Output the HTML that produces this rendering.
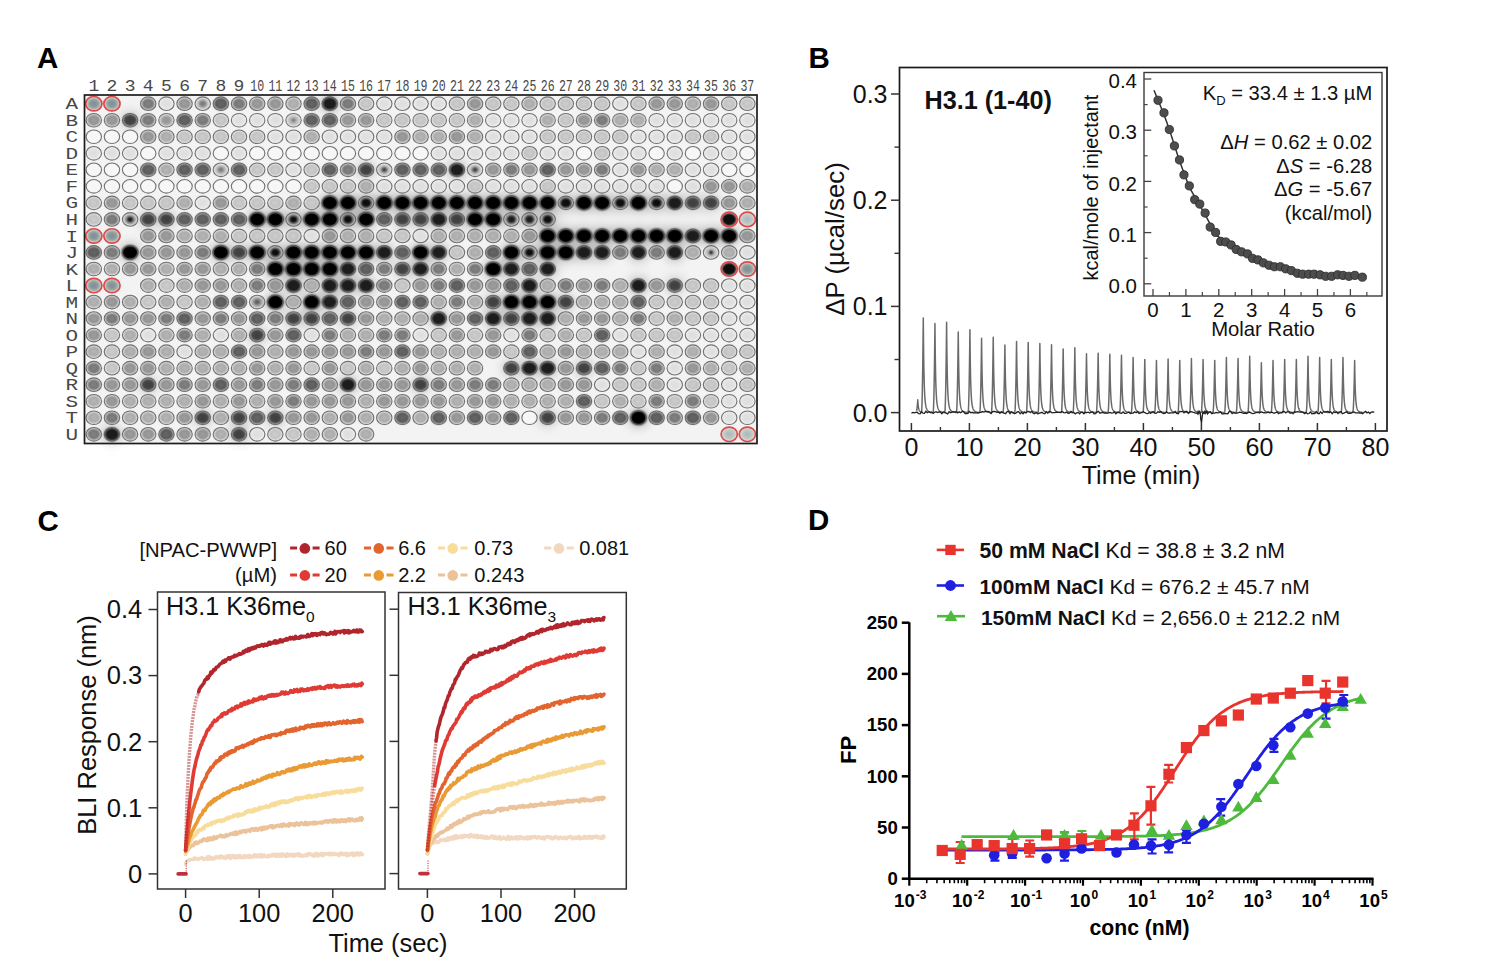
<!DOCTYPE html>
<html><head><meta charset="utf-8"><style>
html,body{margin:0;padding:0;background:#fff;}
svg{display:block;}
</style></head><body>
<svg width="1492" height="972" viewBox="0 0 1492 972">
<defs><filter id="blur1" x="-50%" y="-50%" width="200%" height="200%"><feGaussianBlur stdDeviation="0.8"/></filter><filter id="blur2" x="-10%" y="-10%" width="120%" height="120%"><feGaussianBlur stdDeviation="6"/></filter><radialGradient id="g0"><stop offset="0" stop-color="rgb(244,244,244)"/><stop offset="0.65" stop-color="rgb(247,247,247)"/><stop offset="1" stop-color="rgb(250,250,250)"/></radialGradient><radialGradient id="g1"><stop offset="0" stop-color="rgb(222,222,222)"/><stop offset="0.65" stop-color="rgb(225,225,225)"/><stop offset="1" stop-color="rgb(228,228,228)"/></radialGradient><radialGradient id="g2"><stop offset="0" stop-color="rgb(208,208,208)"/><stop offset="0.65" stop-color="rgb(196,196,196)"/><stop offset="1" stop-color="rgb(184,184,184)"/></radialGradient><radialGradient id="g3"><stop offset="0" stop-color="rgb(184,184,184)"/><stop offset="0.65" stop-color="rgb(172,172,172)"/><stop offset="1" stop-color="rgb(160,160,160)"/></radialGradient><radialGradient id="g4"><stop offset="0" stop-color="rgb(160,160,160)"/><stop offset="0.65" stop-color="rgb(148,148,148)"/><stop offset="1" stop-color="rgb(136,136,136)"/></radialGradient><radialGradient id="g5"><stop offset="0" stop-color="rgb(132,132,132)"/><stop offset="0.65" stop-color="rgb(120,120,120)"/><stop offset="1" stop-color="rgb(108,108,108)"/></radialGradient><radialGradient id="g6"><stop offset="0" stop-color="rgb(104,104,104)"/><stop offset="0.65" stop-color="rgb(92,92,92)"/><stop offset="1" stop-color="rgb(80,80,80)"/></radialGradient><radialGradient id="g7"><stop offset="0" stop-color="rgb(62,62,62)"/><stop offset="0.65" stop-color="rgb(69,69,69)"/><stop offset="1" stop-color="rgb(76,76,76)"/></radialGradient><radialGradient id="g8"><stop offset="0" stop-color="rgb(28,28,28)"/><stop offset="0.65" stop-color="rgb(31,31,31)"/><stop offset="1" stop-color="rgb(34,34,34)"/></radialGradient><radialGradient id="g9"><stop offset="0" stop-color="rgb(6,6,6)"/><stop offset="0.65" stop-color="rgb(9,9,9)"/><stop offset="1" stop-color="rgb(12,12,12)"/></radialGradient><radialGradient id="gr"><stop offset="0" stop-color="#86879a"/><stop offset="0.55" stop-color="#889c98"/><stop offset="1" stop-color="#c4cac8"/></radialGradient><radialGradient id="grl"><stop offset="0" stop-color="#a6b4b4"/><stop offset="1" stop-color="#cdd3d3"/></radialGradient></defs>
<rect width="1492" height="972" fill="#fff"/>
<text x="37" y="67.7" font-size="29.5" text-anchor="start" font-weight="bold" font-family='"Liberation Sans", sans-serif' fill="#000" >A</text><text x="808.5" y="68" font-size="29.5" text-anchor="start" font-weight="bold" font-family='"Liberation Sans", sans-serif' fill="#000" >B</text><text x="37.5" y="531.3" font-size="29.5" text-anchor="start" font-weight="bold" font-family='"Liberation Sans", sans-serif' fill="#000" >C</text><text x="808" y="529.8" font-size="29.5" text-anchor="start" font-weight="bold" font-family='"Liberation Sans", sans-serif' fill="#000" >D</text><rect x="84.5" y="95" width="672.5" height="348.5" fill="#f3f3f3"/><g filter="url(#blur2)" opacity="0.42"><ellipse cx="329.81" cy="103.7" rx="9.2" ry="8.3" fill="rgba(0,0,0,0.6)"/><ellipse cx="130.11" cy="120.23" rx="9.2" ry="8.3" fill="rgba(0,0,0,0.45)"/><ellipse cx="366.13" cy="169.82" rx="9.2" ry="8.3" fill="rgba(0,0,0,0.45)"/><ellipse cx="456.9" cy="169.82" rx="9.2" ry="8.3" fill="rgba(0,0,0,0.6)"/><ellipse cx="329.81" cy="202.88" rx="9.2" ry="8.3" fill="rgba(0,0,0,0.75)"/><ellipse cx="347.97" cy="202.88" rx="9.2" ry="8.3" fill="rgba(0,0,0,0.75)"/><ellipse cx="366.13" cy="202.88" rx="9.2" ry="8.3" fill="rgba(0,0,0,0.75)"/><ellipse cx="384.28" cy="202.88" rx="9.2" ry="8.3" fill="rgba(0,0,0,0.75)"/><ellipse cx="402.44" cy="202.88" rx="9.2" ry="8.3" fill="rgba(0,0,0,0.75)"/><ellipse cx="420.59" cy="202.88" rx="9.2" ry="8.3" fill="rgba(0,0,0,0.75)"/><ellipse cx="438.75" cy="202.88" rx="9.2" ry="8.3" fill="rgba(0,0,0,0.75)"/><ellipse cx="456.9" cy="202.88" rx="9.2" ry="8.3" fill="rgba(0,0,0,0.75)"/><ellipse cx="475.06" cy="202.88" rx="9.2" ry="8.3" fill="rgba(0,0,0,0.75)"/><ellipse cx="493.21" cy="202.88" rx="9.2" ry="8.3" fill="rgba(0,0,0,0.75)"/><ellipse cx="511.37" cy="202.88" rx="9.2" ry="8.3" fill="rgba(0,0,0,0.75)"/><ellipse cx="529.52" cy="202.88" rx="9.2" ry="8.3" fill="rgba(0,0,0,0.75)"/><ellipse cx="547.67" cy="202.88" rx="9.2" ry="8.3" fill="rgba(0,0,0,0.75)"/><ellipse cx="565.83" cy="202.88" rx="9.2" ry="8.3" fill="rgba(0,0,0,0.6)"/><ellipse cx="583.99" cy="202.88" rx="9.2" ry="8.3" fill="rgba(0,0,0,0.75)"/><ellipse cx="602.14" cy="202.88" rx="9.2" ry="8.3" fill="rgba(0,0,0,0.75)"/><ellipse cx="620.29" cy="202.88" rx="9.2" ry="8.3" fill="rgba(0,0,0,0.6)"/><ellipse cx="638.45" cy="202.88" rx="9.2" ry="8.3" fill="rgba(0,0,0,0.75)"/><ellipse cx="656.61" cy="202.88" rx="9.2" ry="8.3" fill="rgba(0,0,0,0.6)"/><ellipse cx="674.76" cy="202.88" rx="9.2" ry="8.3" fill="rgba(0,0,0,0.6)"/><ellipse cx="692.91" cy="202.88" rx="9.2" ry="8.3" fill="rgba(0,0,0,0.45)"/><ellipse cx="711.07" cy="202.88" rx="9.2" ry="8.3" fill="rgba(0,0,0,0.45)"/><ellipse cx="148.26" cy="219.41" rx="9.2" ry="8.3" fill="rgba(0,0,0,0.45)"/><ellipse cx="166.42" cy="219.41" rx="9.2" ry="8.3" fill="rgba(0,0,0,0.45)"/><ellipse cx="257.19" cy="219.41" rx="9.2" ry="8.3" fill="rgba(0,0,0,0.75)"/><ellipse cx="275.35" cy="219.41" rx="9.2" ry="8.3" fill="rgba(0,0,0,0.75)"/><ellipse cx="293.5" cy="219.41" rx="9.2" ry="8.3" fill="rgba(0,0,0,0.6)"/><ellipse cx="311.66" cy="219.41" rx="9.2" ry="8.3" fill="rgba(0,0,0,0.75)"/><ellipse cx="329.81" cy="219.41" rx="9.2" ry="8.3" fill="rgba(0,0,0,0.75)"/><ellipse cx="347.97" cy="219.41" rx="9.2" ry="8.3" fill="rgba(0,0,0,0.75)"/><ellipse cx="366.13" cy="219.41" rx="9.2" ry="8.3" fill="rgba(0,0,0,0.75)"/><ellipse cx="402.44" cy="219.41" rx="9.2" ry="8.3" fill="rgba(0,0,0,0.45)"/><ellipse cx="420.59" cy="219.41" rx="9.2" ry="8.3" fill="rgba(0,0,0,0.45)"/><ellipse cx="438.75" cy="219.41" rx="9.2" ry="8.3" fill="rgba(0,0,0,0.6)"/><ellipse cx="456.9" cy="219.41" rx="9.2" ry="8.3" fill="rgba(0,0,0,0.45)"/><ellipse cx="475.06" cy="219.41" rx="9.2" ry="8.3" fill="rgba(0,0,0,0.75)"/><ellipse cx="493.21" cy="219.41" rx="9.2" ry="8.3" fill="rgba(0,0,0,0.75)"/><ellipse cx="511.37" cy="219.41" rx="9.2" ry="8.3" fill="rgba(0,0,0,0.45)"/><ellipse cx="529.52" cy="219.41" rx="9.2" ry="8.3" fill="rgba(0,0,0,0.45)"/><ellipse cx="547.67" cy="219.41" rx="9.2" ry="8.3" fill="rgba(0,0,0,0.6)"/><ellipse cx="547.67" cy="235.94" rx="9.2" ry="8.3" fill="rgba(0,0,0,0.75)"/><ellipse cx="565.83" cy="235.94" rx="9.2" ry="8.3" fill="rgba(0,0,0,0.75)"/><ellipse cx="583.99" cy="235.94" rx="9.2" ry="8.3" fill="rgba(0,0,0,0.75)"/><ellipse cx="602.14" cy="235.94" rx="9.2" ry="8.3" fill="rgba(0,0,0,0.75)"/><ellipse cx="620.29" cy="235.94" rx="9.2" ry="8.3" fill="rgba(0,0,0,0.75)"/><ellipse cx="638.45" cy="235.94" rx="9.2" ry="8.3" fill="rgba(0,0,0,0.75)"/><ellipse cx="656.61" cy="235.94" rx="9.2" ry="8.3" fill="rgba(0,0,0,0.75)"/><ellipse cx="674.76" cy="235.94" rx="9.2" ry="8.3" fill="rgba(0,0,0,0.75)"/><ellipse cx="692.91" cy="235.94" rx="9.2" ry="8.3" fill="rgba(0,0,0,0.6)"/><ellipse cx="711.07" cy="235.94" rx="9.2" ry="8.3" fill="rgba(0,0,0,0.75)"/><ellipse cx="729.23" cy="235.94" rx="9.2" ry="8.3" fill="rgba(0,0,0,0.75)"/><ellipse cx="130.11" cy="252.47" rx="9.2" ry="8.3" fill="rgba(0,0,0,0.75)"/><ellipse cx="220.88" cy="252.47" rx="9.2" ry="8.3" fill="rgba(0,0,0,0.75)"/><ellipse cx="239.04" cy="252.47" rx="9.2" ry="8.3" fill="rgba(0,0,0,0.45)"/><ellipse cx="257.19" cy="252.47" rx="9.2" ry="8.3" fill="rgba(0,0,0,0.75)"/><ellipse cx="275.35" cy="252.47" rx="9.2" ry="8.3" fill="rgba(0,0,0,0.6)"/><ellipse cx="293.5" cy="252.47" rx="9.2" ry="8.3" fill="rgba(0,0,0,0.75)"/><ellipse cx="311.66" cy="252.47" rx="9.2" ry="8.3" fill="rgba(0,0,0,0.75)"/><ellipse cx="329.81" cy="252.47" rx="9.2" ry="8.3" fill="rgba(0,0,0,0.75)"/><ellipse cx="347.97" cy="252.47" rx="9.2" ry="8.3" fill="rgba(0,0,0,0.75)"/><ellipse cx="366.13" cy="252.47" rx="9.2" ry="8.3" fill="rgba(0,0,0,0.75)"/><ellipse cx="384.28" cy="252.47" rx="9.2" ry="8.3" fill="rgba(0,0,0,0.6)"/><ellipse cx="420.59" cy="252.47" rx="9.2" ry="8.3" fill="rgba(0,0,0,0.75)"/><ellipse cx="438.75" cy="252.47" rx="9.2" ry="8.3" fill="rgba(0,0,0,0.6)"/><ellipse cx="511.37" cy="252.47" rx="9.2" ry="8.3" fill="rgba(0,0,0,0.75)"/><ellipse cx="529.52" cy="252.47" rx="9.2" ry="8.3" fill="rgba(0,0,0,0.6)"/><ellipse cx="547.67" cy="252.47" rx="9.2" ry="8.3" fill="rgba(0,0,0,0.75)"/><ellipse cx="565.83" cy="252.47" rx="9.2" ry="8.3" fill="rgba(0,0,0,0.75)"/><ellipse cx="583.99" cy="252.47" rx="9.2" ry="8.3" fill="rgba(0,0,0,0.6)"/><ellipse cx="602.14" cy="252.47" rx="9.2" ry="8.3" fill="rgba(0,0,0,0.6)"/><ellipse cx="638.45" cy="252.47" rx="9.2" ry="8.3" fill="rgba(0,0,0,0.6)"/><ellipse cx="674.76" cy="252.47" rx="9.2" ry="8.3" fill="rgba(0,0,0,0.6)"/><ellipse cx="275.35" cy="269" rx="9.2" ry="8.3" fill="rgba(0,0,0,0.75)"/><ellipse cx="293.5" cy="269" rx="9.2" ry="8.3" fill="rgba(0,0,0,0.75)"/><ellipse cx="311.66" cy="269" rx="9.2" ry="8.3" fill="rgba(0,0,0,0.75)"/><ellipse cx="329.81" cy="269" rx="9.2" ry="8.3" fill="rgba(0,0,0,0.75)"/><ellipse cx="347.97" cy="269" rx="9.2" ry="8.3" fill="rgba(0,0,0,0.6)"/><ellipse cx="402.44" cy="269" rx="9.2" ry="8.3" fill="rgba(0,0,0,0.45)"/><ellipse cx="420.59" cy="269" rx="9.2" ry="8.3" fill="rgba(0,0,0,0.6)"/><ellipse cx="493.21" cy="269" rx="9.2" ry="8.3" fill="rgba(0,0,0,0.75)"/><ellipse cx="511.37" cy="269" rx="9.2" ry="8.3" fill="rgba(0,0,0,0.6)"/><ellipse cx="547.67" cy="269" rx="9.2" ry="8.3" fill="rgba(0,0,0,0.6)"/><ellipse cx="293.5" cy="285.53" rx="9.2" ry="8.3" fill="rgba(0,0,0,0.6)"/><ellipse cx="329.81" cy="285.53" rx="9.2" ry="8.3" fill="rgba(0,0,0,0.6)"/><ellipse cx="347.97" cy="285.53" rx="9.2" ry="8.3" fill="rgba(0,0,0,0.6)"/><ellipse cx="366.13" cy="285.53" rx="9.2" ry="8.3" fill="rgba(0,0,0,0.6)"/><ellipse cx="529.52" cy="285.53" rx="9.2" ry="8.3" fill="rgba(0,0,0,0.6)"/><ellipse cx="638.45" cy="285.53" rx="9.2" ry="8.3" fill="rgba(0,0,0,0.6)"/><ellipse cx="674.76" cy="285.53" rx="9.2" ry="8.3" fill="rgba(0,0,0,0.45)"/><ellipse cx="275.35" cy="302.06" rx="9.2" ry="8.3" fill="rgba(0,0,0,0.75)"/><ellipse cx="311.66" cy="302.06" rx="9.2" ry="8.3" fill="rgba(0,0,0,0.75)"/><ellipse cx="329.81" cy="302.06" rx="9.2" ry="8.3" fill="rgba(0,0,0,0.6)"/><ellipse cx="493.21" cy="302.06" rx="9.2" ry="8.3" fill="rgba(0,0,0,0.45)"/><ellipse cx="511.37" cy="302.06" rx="9.2" ry="8.3" fill="rgba(0,0,0,0.75)"/><ellipse cx="529.52" cy="302.06" rx="9.2" ry="8.3" fill="rgba(0,0,0,0.75)"/><ellipse cx="547.67" cy="302.06" rx="9.2" ry="8.3" fill="rgba(0,0,0,0.75)"/><ellipse cx="565.83" cy="302.06" rx="9.2" ry="8.3" fill="rgba(0,0,0,0.45)"/><ellipse cx="293.5" cy="318.59" rx="9.2" ry="8.3" fill="rgba(0,0,0,0.45)"/><ellipse cx="311.66" cy="318.59" rx="9.2" ry="8.3" fill="rgba(0,0,0,0.45)"/><ellipse cx="347.97" cy="318.59" rx="9.2" ry="8.3" fill="rgba(0,0,0,0.45)"/><ellipse cx="438.75" cy="318.59" rx="9.2" ry="8.3" fill="rgba(0,0,0,0.6)"/><ellipse cx="493.21" cy="318.59" rx="9.2" ry="8.3" fill="rgba(0,0,0,0.6)"/><ellipse cx="511.37" cy="318.59" rx="9.2" ry="8.3" fill="rgba(0,0,0,0.45)"/><ellipse cx="529.52" cy="318.59" rx="9.2" ry="8.3" fill="rgba(0,0,0,0.6)"/><ellipse cx="547.67" cy="318.59" rx="9.2" ry="8.3" fill="rgba(0,0,0,0.6)"/><ellipse cx="257.19" cy="335.12" rx="9.2" ry="8.3" fill="rgba(0,0,0,0.45)"/><ellipse cx="511.37" cy="368.18" rx="9.2" ry="8.3" fill="rgba(0,0,0,0.45)"/><ellipse cx="529.52" cy="368.18" rx="9.2" ry="8.3" fill="rgba(0,0,0,0.6)"/><ellipse cx="547.67" cy="368.18" rx="9.2" ry="8.3" fill="rgba(0,0,0,0.6)"/><ellipse cx="583.99" cy="368.18" rx="9.2" ry="8.3" fill="rgba(0,0,0,0.45)"/><ellipse cx="148.26" cy="384.71" rx="9.2" ry="8.3" fill="rgba(0,0,0,0.45)"/><ellipse cx="347.97" cy="384.71" rx="9.2" ry="8.3" fill="rgba(0,0,0,0.6)"/><ellipse cx="420.59" cy="384.71" rx="9.2" ry="8.3" fill="rgba(0,0,0,0.45)"/><ellipse cx="202.73" cy="417.77" rx="9.2" ry="8.3" fill="rgba(0,0,0,0.45)"/><ellipse cx="239.04" cy="417.77" rx="9.2" ry="8.3" fill="rgba(0,0,0,0.45)"/><ellipse cx="275.35" cy="417.77" rx="9.2" ry="8.3" fill="rgba(0,0,0,0.45)"/><ellipse cx="547.67" cy="417.77" rx="9.2" ry="8.3" fill="rgba(0,0,0,0.45)"/><ellipse cx="638.45" cy="417.77" rx="9.2" ry="8.3" fill="rgba(0,0,0,0.75)"/><ellipse cx="111.95" cy="434.3" rx="9.2" ry="8.3" fill="rgba(0,0,0,0.6)"/><ellipse cx="239.04" cy="434.3" rx="9.2" ry="8.3" fill="rgba(0,0,0,0.45)"/></g><g filter="url(#blur1)"><ellipse cx="93.8" cy="103.7" rx="7.7" ry="6.8" fill="url(#gr)"/><ellipse cx="111.95" cy="103.7" rx="7.7" ry="6.8" fill="url(#gr)"/><ellipse cx="148.26" cy="103.7" rx="6.5" ry="5.7" fill="url(#g5)"/><ellipse cx="166.42" cy="103.7" rx="6.5" ry="5.7" fill="url(#g1)"/><ellipse cx="184.57" cy="103.7" rx="6.5" ry="5.7" fill="url(#g4)"/><ellipse cx="202.73" cy="103.7" rx="6.4" ry="5.6" fill="url(#g2)"/><ellipse cx="239.04" cy="103.7" rx="6.5" ry="5.7" fill="url(#g5)"/><ellipse cx="257.19" cy="103.7" rx="6.5" ry="5.7" fill="url(#g4)"/><ellipse cx="275.35" cy="103.7" rx="6.5" ry="5.7" fill="url(#g4)"/><ellipse cx="293.5" cy="103.7" rx="6.5" ry="5.7" fill="url(#g3)"/><ellipse cx="347.97" cy="103.7" rx="6.5" ry="5.7" fill="url(#g5)"/><ellipse cx="366.13" cy="103.7" rx="6.5" ry="5.7" fill="url(#g2)"/><ellipse cx="384.28" cy="103.7" rx="6.5" ry="5.7" fill="url(#g1)"/><ellipse cx="402.44" cy="103.7" rx="6.5" ry="5.7" fill="url(#g1)"/><ellipse cx="420.59" cy="103.7" rx="6.5" ry="5.7" fill="url(#g1)"/><ellipse cx="438.75" cy="103.7" rx="6.5" ry="5.7" fill="url(#g1)"/><ellipse cx="456.9" cy="103.7" rx="6.5" ry="5.7" fill="url(#g2)"/><ellipse cx="475.06" cy="103.7" rx="6.5" ry="5.7" fill="url(#g4)"/><ellipse cx="493.21" cy="103.7" rx="6.5" ry="5.7" fill="url(#g2)"/><ellipse cx="511.37" cy="103.7" rx="6.5" ry="5.7" fill="url(#g2)"/><ellipse cx="529.52" cy="103.7" rx="6.5" ry="5.7" fill="url(#g3)"/><ellipse cx="547.67" cy="103.7" rx="6.5" ry="5.7" fill="url(#g2)"/><ellipse cx="565.83" cy="103.7" rx="6.5" ry="5.7" fill="url(#g2)"/><ellipse cx="583.99" cy="103.7" rx="6.5" ry="5.7" fill="url(#g2)"/><ellipse cx="602.14" cy="103.7" rx="6.5" ry="5.7" fill="url(#g2)"/><ellipse cx="620.29" cy="103.7" rx="6.5" ry="5.7" fill="url(#g1)"/><ellipse cx="638.45" cy="103.7" rx="6.5" ry="5.7" fill="url(#g2)"/><ellipse cx="656.61" cy="103.7" rx="6.5" ry="5.7" fill="url(#g4)"/><ellipse cx="674.76" cy="103.7" rx="6.5" ry="5.7" fill="url(#g4)"/><ellipse cx="692.91" cy="103.7" rx="6.5" ry="5.7" fill="url(#g3)"/><ellipse cx="711.07" cy="103.7" rx="6.5" ry="5.7" fill="url(#g4)"/><ellipse cx="729.23" cy="103.7" rx="6.5" ry="5.7" fill="url(#g2)"/><ellipse cx="747.38" cy="103.7" rx="6.5" ry="5.7" fill="url(#g2)"/><ellipse cx="93.8" cy="120.23" rx="6.5" ry="5.7" fill="url(#g4)"/><ellipse cx="111.95" cy="120.23" rx="6.5" ry="5.7" fill="url(#g4)"/><ellipse cx="148.26" cy="120.23" rx="6.5" ry="5.7" fill="url(#g5)"/><ellipse cx="166.42" cy="120.23" rx="6.4" ry="5.6" fill="url(#g3)"/><ellipse cx="202.73" cy="120.23" rx="6.5" ry="5.7" fill="url(#g5)"/><ellipse cx="220.88" cy="120.23" rx="6.5" ry="5.7" fill="url(#g2)"/><ellipse cx="239.04" cy="120.23" rx="6.5" ry="5.7" fill="url(#g1)"/><ellipse cx="257.19" cy="120.23" rx="6.5" ry="5.7" fill="url(#g1)"/><ellipse cx="275.35" cy="120.23" rx="6.5" ry="5.7" fill="url(#g1)"/><ellipse cx="293.5" cy="120.23" rx="6.4" ry="5.6" fill="url(#g2)"/><ellipse cx="347.97" cy="120.23" rx="6.5" ry="5.7" fill="url(#g4)"/><ellipse cx="366.13" cy="120.23" rx="6.5" ry="5.7" fill="url(#g4)"/><ellipse cx="384.28" cy="120.23" rx="6.5" ry="5.7" fill="url(#g2)"/><ellipse cx="402.44" cy="120.23" rx="6.5" ry="5.7" fill="url(#g2)"/><ellipse cx="420.59" cy="120.23" rx="6.5" ry="5.7" fill="url(#g2)"/><ellipse cx="438.75" cy="120.23" rx="6.5" ry="5.7" fill="url(#g2)"/><ellipse cx="456.9" cy="120.23" rx="6.5" ry="5.7" fill="url(#g2)"/><ellipse cx="475.06" cy="120.23" rx="6.5" ry="5.7" fill="url(#g3)"/><ellipse cx="493.21" cy="120.23" rx="6.5" ry="5.7" fill="url(#g1)"/><ellipse cx="511.37" cy="120.23" rx="6.5" ry="5.7" fill="url(#g1)"/><ellipse cx="529.52" cy="120.23" rx="6.5" ry="5.7" fill="url(#g1)"/><ellipse cx="547.67" cy="120.23" rx="6.5" ry="5.7" fill="url(#g3)"/><ellipse cx="565.83" cy="120.23" rx="6.5" ry="5.7" fill="url(#g2)"/><ellipse cx="583.99" cy="120.23" rx="6.5" ry="5.7" fill="url(#g4)"/><ellipse cx="602.14" cy="120.23" rx="6.5" ry="5.7" fill="url(#g5)"/><ellipse cx="620.29" cy="120.23" rx="6.5" ry="5.7" fill="url(#g3)"/><ellipse cx="638.45" cy="120.23" rx="6.5" ry="5.7" fill="url(#g3)"/><ellipse cx="656.61" cy="120.23" rx="6.5" ry="5.7" fill="url(#g1)"/><ellipse cx="674.76" cy="120.23" rx="6.5" ry="5.7" fill="url(#g1)"/><ellipse cx="692.91" cy="120.23" rx="6.5" ry="5.7" fill="url(#g1)"/><ellipse cx="711.07" cy="120.23" rx="6.5" ry="5.7" fill="url(#g1)"/><ellipse cx="729.23" cy="120.23" rx="6.5" ry="5.7" fill="url(#g1)"/><ellipse cx="747.38" cy="120.23" rx="6.5" ry="5.7" fill="url(#g1)"/><ellipse cx="93.8" cy="136.76" rx="6.5" ry="5.7" fill="url(#g0)"/><ellipse cx="111.95" cy="136.76" rx="6.5" ry="5.7" fill="url(#g0)"/><ellipse cx="130.11" cy="136.76" rx="6.5" ry="5.7" fill="url(#g0)"/><ellipse cx="148.26" cy="136.76" rx="6.5" ry="5.7" fill="url(#g4)"/><ellipse cx="166.42" cy="136.76" rx="6.5" ry="5.7" fill="url(#g3)"/><ellipse cx="184.57" cy="136.76" rx="6.5" ry="5.7" fill="url(#g2)"/><ellipse cx="202.73" cy="136.76" rx="6.5" ry="5.7" fill="url(#g2)"/><ellipse cx="220.88" cy="136.76" rx="6.5" ry="5.7" fill="url(#g2)"/><ellipse cx="239.04" cy="136.76" rx="6.5" ry="5.7" fill="url(#g2)"/><ellipse cx="257.19" cy="136.76" rx="6.5" ry="5.7" fill="url(#g2)"/><ellipse cx="275.35" cy="136.76" rx="6.5" ry="5.7" fill="url(#g1)"/><ellipse cx="293.5" cy="136.76" rx="6.5" ry="5.7" fill="url(#g1)"/><ellipse cx="311.66" cy="136.76" rx="6.5" ry="5.7" fill="url(#g3)"/><ellipse cx="329.81" cy="136.76" rx="6.5" ry="5.7" fill="url(#g1)"/><ellipse cx="347.97" cy="136.76" rx="6.5" ry="5.7" fill="url(#g1)"/><ellipse cx="366.13" cy="136.76" rx="6.5" ry="5.7" fill="url(#g1)"/><ellipse cx="384.28" cy="136.76" rx="6.5" ry="5.7" fill="url(#g1)"/><ellipse cx="402.44" cy="136.76" rx="6.5" ry="5.7" fill="url(#g4)"/><ellipse cx="420.59" cy="136.76" rx="6.5" ry="5.7" fill="url(#g3)"/><ellipse cx="438.75" cy="136.76" rx="6.5" ry="5.7" fill="url(#g3)"/><ellipse cx="456.9" cy="136.76" rx="6.5" ry="5.7" fill="url(#g4)"/><ellipse cx="475.06" cy="136.76" rx="6.5" ry="5.7" fill="url(#g3)"/><ellipse cx="493.21" cy="136.76" rx="6.5" ry="5.7" fill="url(#g1)"/><ellipse cx="511.37" cy="136.76" rx="6.5" ry="5.7" fill="url(#g1)"/><ellipse cx="529.52" cy="136.76" rx="6.5" ry="5.7" fill="url(#g1)"/><ellipse cx="547.67" cy="136.76" rx="6.5" ry="5.7" fill="url(#g2)"/><ellipse cx="565.83" cy="136.76" rx="6.5" ry="5.7" fill="url(#g2)"/><ellipse cx="583.99" cy="136.76" rx="6.5" ry="5.7" fill="url(#g2)"/><ellipse cx="602.14" cy="136.76" rx="6.5" ry="5.7" fill="url(#g2)"/><ellipse cx="620.29" cy="136.76" rx="6.5" ry="5.7" fill="url(#g2)"/><ellipse cx="638.45" cy="136.76" rx="6.5" ry="5.7" fill="url(#g1)"/><ellipse cx="656.61" cy="136.76" rx="6.5" ry="5.7" fill="url(#g1)"/><ellipse cx="674.76" cy="136.76" rx="6.5" ry="5.7" fill="url(#g1)"/><ellipse cx="692.91" cy="136.76" rx="6.5" ry="5.7" fill="url(#g2)"/><ellipse cx="711.07" cy="136.76" rx="6.5" ry="5.7" fill="url(#g2)"/><ellipse cx="729.23" cy="136.76" rx="6.5" ry="5.7" fill="url(#g1)"/><ellipse cx="747.38" cy="136.76" rx="6.5" ry="5.7" fill="url(#g1)"/><ellipse cx="93.8" cy="153.29" rx="6.5" ry="5.7" fill="url(#g1)"/><ellipse cx="111.95" cy="153.29" rx="6.5" ry="5.7" fill="url(#g1)"/><ellipse cx="130.11" cy="153.29" rx="6.5" ry="5.7" fill="url(#g1)"/><ellipse cx="148.26" cy="153.29" rx="6.5" ry="5.7" fill="url(#g0)"/><ellipse cx="166.42" cy="153.29" rx="6.5" ry="5.7" fill="url(#g1)"/><ellipse cx="184.57" cy="153.29" rx="6.5" ry="5.7" fill="url(#g1)"/><ellipse cx="202.73" cy="153.29" rx="6.5" ry="5.7" fill="url(#g1)"/><ellipse cx="220.88" cy="153.29" rx="6.5" ry="5.7" fill="url(#g0)"/><ellipse cx="239.04" cy="153.29" rx="6.5" ry="5.7" fill="url(#g1)"/><ellipse cx="257.19" cy="153.29" rx="6.5" ry="5.7" fill="url(#g0)"/><ellipse cx="275.35" cy="153.29" rx="6.5" ry="5.7" fill="url(#g0)"/><ellipse cx="293.5" cy="153.29" rx="6.5" ry="5.7" fill="url(#g0)"/><ellipse cx="311.66" cy="153.29" rx="6.5" ry="5.7" fill="url(#g0)"/><ellipse cx="329.81" cy="153.29" rx="6.5" ry="5.7" fill="url(#g0)"/><ellipse cx="347.97" cy="153.29" rx="6.5" ry="5.7" fill="url(#g0)"/><ellipse cx="366.13" cy="153.29" rx="6.5" ry="5.7" fill="url(#g0)"/><ellipse cx="384.28" cy="153.29" rx="6.5" ry="5.7" fill="url(#g0)"/><ellipse cx="402.44" cy="153.29" rx="6.5" ry="5.7" fill="url(#g0)"/><ellipse cx="420.59" cy="153.29" rx="6.5" ry="5.7" fill="url(#g0)"/><ellipse cx="438.75" cy="153.29" rx="6.5" ry="5.7" fill="url(#g1)"/><ellipse cx="456.9" cy="153.29" rx="6.5" ry="5.7" fill="url(#g1)"/><ellipse cx="475.06" cy="153.29" rx="6.5" ry="5.7" fill="url(#g1)"/><ellipse cx="493.21" cy="153.29" rx="6.5" ry="5.7" fill="url(#g1)"/><ellipse cx="511.37" cy="153.29" rx="6.5" ry="5.7" fill="url(#g1)"/><ellipse cx="529.52" cy="153.29" rx="6.5" ry="5.7" fill="url(#g2)"/><ellipse cx="547.67" cy="153.29" rx="6.5" ry="5.7" fill="url(#g1)"/><ellipse cx="565.83" cy="153.29" rx="6.5" ry="5.7" fill="url(#g1)"/><ellipse cx="583.99" cy="153.29" rx="6.5" ry="5.7" fill="url(#g0)"/><ellipse cx="602.14" cy="153.29" rx="6.5" ry="5.7" fill="url(#g2)"/><ellipse cx="620.29" cy="153.29" rx="6.5" ry="5.7" fill="url(#g1)"/><ellipse cx="638.45" cy="153.29" rx="6.5" ry="5.7" fill="url(#g1)"/><ellipse cx="656.61" cy="153.29" rx="6.5" ry="5.7" fill="url(#g0)"/><ellipse cx="674.76" cy="153.29" rx="6.5" ry="5.7" fill="url(#g1)"/><ellipse cx="692.91" cy="153.29" rx="6.5" ry="5.7" fill="url(#g0)"/><ellipse cx="711.07" cy="153.29" rx="6.5" ry="5.7" fill="url(#g1)"/><ellipse cx="729.23" cy="153.29" rx="6.5" ry="5.7" fill="url(#g1)"/><ellipse cx="747.38" cy="153.29" rx="6.5" ry="5.7" fill="url(#g0)"/><ellipse cx="93.8" cy="169.82" rx="6.5" ry="5.7" fill="url(#g0)"/><ellipse cx="111.95" cy="169.82" rx="6.5" ry="5.7" fill="url(#g0)"/><ellipse cx="130.11" cy="169.82" rx="6.5" ry="5.7" fill="url(#g0)"/><ellipse cx="166.42" cy="169.82" rx="6.5" ry="5.7" fill="url(#g3)"/><ellipse cx="220.88" cy="169.82" rx="6.4" ry="5.6" fill="url(#g2)"/><ellipse cx="257.19" cy="169.82" rx="6.5" ry="5.7" fill="url(#g2)"/><ellipse cx="275.35" cy="169.82" rx="6.5" ry="5.7" fill="url(#g2)"/><ellipse cx="293.5" cy="169.82" rx="6.5" ry="5.7" fill="url(#g1)"/><ellipse cx="311.66" cy="169.82" rx="6.5" ry="5.7" fill="url(#g2)"/><ellipse cx="347.97" cy="169.82" rx="6.5" ry="5.7" fill="url(#g5)"/><ellipse cx="384.28" cy="169.82" rx="6.4" ry="5.6" fill="url(#g2)"/><ellipse cx="475.06" cy="169.82" rx="6.4" ry="5.6" fill="url(#g2)"/><ellipse cx="493.21" cy="169.82" rx="6.5" ry="5.7" fill="url(#g4)"/><ellipse cx="511.37" cy="169.82" rx="6.5" ry="5.7" fill="url(#g5)"/><ellipse cx="529.52" cy="169.82" rx="6.5" ry="5.7" fill="url(#g4)"/><ellipse cx="565.83" cy="169.82" rx="6.5" ry="5.7" fill="url(#g4)"/><ellipse cx="583.99" cy="169.82" rx="6.5" ry="5.7" fill="url(#g4)"/><ellipse cx="602.14" cy="169.82" rx="6.5" ry="5.7" fill="url(#g5)"/><ellipse cx="620.29" cy="169.82" rx="6.5" ry="5.7" fill="url(#g1)"/><ellipse cx="638.45" cy="169.82" rx="6.5" ry="5.7" fill="url(#g4)"/><ellipse cx="656.61" cy="169.82" rx="6.5" ry="5.7" fill="url(#g3)"/><ellipse cx="674.76" cy="169.82" rx="6.5" ry="5.7" fill="url(#g3)"/><ellipse cx="692.91" cy="169.82" rx="6.5" ry="5.7" fill="url(#g1)"/><ellipse cx="711.07" cy="169.82" rx="6.5" ry="5.7" fill="url(#g1)"/><ellipse cx="729.23" cy="169.82" rx="6.5" ry="5.7" fill="url(#g0)"/><ellipse cx="747.38" cy="169.82" rx="6.5" ry="5.7" fill="url(#g0)"/><ellipse cx="93.8" cy="186.35" rx="6.5" ry="5.7" fill="url(#g0)"/><ellipse cx="111.95" cy="186.35" rx="6.5" ry="5.7" fill="url(#g0)"/><ellipse cx="130.11" cy="186.35" rx="6.5" ry="5.7" fill="url(#g0)"/><ellipse cx="148.26" cy="186.35" rx="6.5" ry="5.7" fill="url(#g0)"/><ellipse cx="166.42" cy="186.35" rx="6.5" ry="5.7" fill="url(#g0)"/><ellipse cx="184.57" cy="186.35" rx="6.5" ry="5.7" fill="url(#g0)"/><ellipse cx="202.73" cy="186.35" rx="6.5" ry="5.7" fill="url(#g0)"/><ellipse cx="220.88" cy="186.35" rx="6.5" ry="5.7" fill="url(#g0)"/><ellipse cx="239.04" cy="186.35" rx="6.5" ry="5.7" fill="url(#g0)"/><ellipse cx="257.19" cy="186.35" rx="6.5" ry="5.7" fill="url(#g0)"/><ellipse cx="275.35" cy="186.35" rx="6.5" ry="5.7" fill="url(#g0)"/><ellipse cx="293.5" cy="186.35" rx="6.5" ry="5.7" fill="url(#g0)"/><ellipse cx="311.66" cy="186.35" rx="6.5" ry="5.7" fill="url(#g2)"/><ellipse cx="329.81" cy="186.35" rx="6.5" ry="5.7" fill="url(#g2)"/><ellipse cx="347.97" cy="186.35" rx="6.5" ry="5.7" fill="url(#g2)"/><ellipse cx="366.13" cy="186.35" rx="6.5" ry="5.7" fill="url(#g3)"/><ellipse cx="384.28" cy="186.35" rx="6.5" ry="5.7" fill="url(#g1)"/><ellipse cx="402.44" cy="186.35" rx="6.5" ry="5.7" fill="url(#g1)"/><ellipse cx="420.59" cy="186.35" rx="6.5" ry="5.7" fill="url(#g1)"/><ellipse cx="438.75" cy="186.35" rx="6.5" ry="5.7" fill="url(#g1)"/><ellipse cx="456.9" cy="186.35" rx="6.5" ry="5.7" fill="url(#g1)"/><ellipse cx="475.06" cy="186.35" rx="6.5" ry="5.7" fill="url(#g2)"/><ellipse cx="493.21" cy="186.35" rx="6.5" ry="5.7" fill="url(#g1)"/><ellipse cx="511.37" cy="186.35" rx="6.5" ry="5.7" fill="url(#g1)"/><ellipse cx="529.52" cy="186.35" rx="6.5" ry="5.7" fill="url(#g1)"/><ellipse cx="547.67" cy="186.35" rx="6.5" ry="5.7" fill="url(#g2)"/><ellipse cx="565.83" cy="186.35" rx="6.5" ry="5.7" fill="url(#g1)"/><ellipse cx="583.99" cy="186.35" rx="6.5" ry="5.7" fill="url(#g1)"/><ellipse cx="602.14" cy="186.35" rx="6.5" ry="5.7" fill="url(#g1)"/><ellipse cx="620.29" cy="186.35" rx="6.5" ry="5.7" fill="url(#g1)"/><ellipse cx="638.45" cy="186.35" rx="6.5" ry="5.7" fill="url(#g1)"/><ellipse cx="656.61" cy="186.35" rx="6.5" ry="5.7" fill="url(#g1)"/><ellipse cx="674.76" cy="186.35" rx="6.5" ry="5.7" fill="url(#g0)"/><ellipse cx="692.91" cy="186.35" rx="6.5" ry="5.7" fill="url(#g1)"/><ellipse cx="711.07" cy="186.35" rx="6.5" ry="5.7" fill="url(#g4)"/><ellipse cx="729.23" cy="186.35" rx="6.5" ry="5.7" fill="url(#g4)"/><ellipse cx="747.38" cy="186.35" rx="6.5" ry="5.7" fill="url(#g3)"/><ellipse cx="93.8" cy="202.88" rx="6.5" ry="5.7" fill="url(#g2)"/><ellipse cx="111.95" cy="202.88" rx="6.5" ry="5.7" fill="url(#g4)"/><ellipse cx="130.11" cy="202.88" rx="6.5" ry="5.7" fill="url(#g2)"/><ellipse cx="148.26" cy="202.88" rx="6.5" ry="5.7" fill="url(#g2)"/><ellipse cx="166.42" cy="202.88" rx="6.5" ry="5.7" fill="url(#g2)"/><ellipse cx="184.57" cy="202.88" rx="6.5" ry="5.7" fill="url(#g3)"/><ellipse cx="202.73" cy="202.88" rx="6.5" ry="5.7" fill="url(#g1)"/><ellipse cx="220.88" cy="202.88" rx="6.5" ry="5.7" fill="url(#g4)"/><ellipse cx="239.04" cy="202.88" rx="6.5" ry="5.7" fill="url(#g2)"/><ellipse cx="257.19" cy="202.88" rx="6.5" ry="5.7" fill="url(#g2)"/><ellipse cx="275.35" cy="202.88" rx="6.5" ry="5.7" fill="url(#g2)"/><ellipse cx="293.5" cy="202.88" rx="6.5" ry="5.7" fill="url(#g3)"/><ellipse cx="311.66" cy="202.88" rx="6.5" ry="5.7" fill="url(#g2)"/><ellipse cx="366.13" cy="202.88" rx="6.4" ry="5.6" fill="url(#g3)"/><ellipse cx="565.83" cy="202.88" rx="6.4" ry="5.6" fill="url(#g3)"/><ellipse cx="620.29" cy="202.88" rx="6.4" ry="5.6" fill="url(#g3)"/><ellipse cx="656.61" cy="202.88" rx="6.4" ry="5.6" fill="url(#g3)"/><ellipse cx="729.23" cy="202.88" rx="6.5" ry="5.7" fill="url(#g4)"/><ellipse cx="747.38" cy="202.88" rx="6.5" ry="5.7" fill="url(#g3)"/><ellipse cx="93.8" cy="219.41" rx="6.5" ry="5.7" fill="url(#g2)"/><ellipse cx="111.95" cy="219.41" rx="6.5" ry="5.7" fill="url(#g5)"/><ellipse cx="130.11" cy="219.41" rx="6.4" ry="5.6" fill="url(#g3)"/><ellipse cx="293.5" cy="219.41" rx="6.4" ry="5.6" fill="url(#g3)"/><ellipse cx="347.97" cy="219.41" rx="6.4" ry="5.6" fill="url(#g3)"/><ellipse cx="511.37" cy="219.41" rx="6.4" ry="5.6" fill="url(#g3)"/><ellipse cx="529.52" cy="219.41" rx="6.4" ry="5.6" fill="url(#g3)"/><ellipse cx="547.67" cy="219.41" rx="6.4" ry="5.6" fill="url(#g3)"/><ellipse cx="747.38" cy="219.41" rx="7.7" ry="6.8" fill="url(#grl)"/><ellipse cx="93.8" cy="235.94" rx="7.7" ry="6.8" fill="url(#gr)"/><ellipse cx="111.95" cy="235.94" rx="7.7" ry="6.8" fill="url(#gr)"/><ellipse cx="148.26" cy="235.94" rx="6.5" ry="5.7" fill="url(#g4)"/><ellipse cx="166.42" cy="235.94" rx="6.5" ry="5.7" fill="url(#g4)"/><ellipse cx="184.57" cy="235.94" rx="6.5" ry="5.7" fill="url(#g3)"/><ellipse cx="202.73" cy="235.94" rx="6.5" ry="5.7" fill="url(#g3)"/><ellipse cx="220.88" cy="235.94" rx="6.5" ry="5.7" fill="url(#g3)"/><ellipse cx="239.04" cy="235.94" rx="6.5" ry="5.7" fill="url(#g2)"/><ellipse cx="257.19" cy="235.94" rx="6.5" ry="5.7" fill="url(#g2)"/><ellipse cx="275.35" cy="235.94" rx="6.5" ry="5.7" fill="url(#g2)"/><ellipse cx="293.5" cy="235.94" rx="6.5" ry="5.7" fill="url(#g2)"/><ellipse cx="311.66" cy="235.94" rx="6.5" ry="5.7" fill="url(#g1)"/><ellipse cx="329.81" cy="235.94" rx="6.5" ry="5.7" fill="url(#g4)"/><ellipse cx="347.97" cy="235.94" rx="6.5" ry="5.7" fill="url(#g3)"/><ellipse cx="366.13" cy="235.94" rx="6.5" ry="5.7" fill="url(#g3)"/><ellipse cx="384.28" cy="235.94" rx="6.5" ry="5.7" fill="url(#g2)"/><ellipse cx="402.44" cy="235.94" rx="6.5" ry="5.7" fill="url(#g2)"/><ellipse cx="420.59" cy="235.94" rx="6.5" ry="5.7" fill="url(#g1)"/><ellipse cx="438.75" cy="235.94" rx="6.5" ry="5.7" fill="url(#g3)"/><ellipse cx="456.9" cy="235.94" rx="6.5" ry="5.7" fill="url(#g3)"/><ellipse cx="475.06" cy="235.94" rx="6.5" ry="5.7" fill="url(#g3)"/><ellipse cx="493.21" cy="235.94" rx="6.5" ry="5.7" fill="url(#g3)"/><ellipse cx="511.37" cy="235.94" rx="6.5" ry="5.7" fill="url(#g3)"/><ellipse cx="529.52" cy="235.94" rx="6.5" ry="5.7" fill="url(#g4)"/><ellipse cx="747.38" cy="235.94" rx="6.5" ry="5.7" fill="url(#g4)"/><ellipse cx="111.95" cy="252.47" rx="6.5" ry="5.7" fill="url(#g5)"/><ellipse cx="148.26" cy="252.47" rx="6.5" ry="5.7" fill="url(#g4)"/><ellipse cx="166.42" cy="252.47" rx="6.5" ry="5.7" fill="url(#g4)"/><ellipse cx="184.57" cy="252.47" rx="6.5" ry="5.7" fill="url(#g4)"/><ellipse cx="202.73" cy="252.47" rx="6.5" ry="5.7" fill="url(#g5)"/><ellipse cx="275.35" cy="252.47" rx="6.4" ry="5.6" fill="url(#g3)"/><ellipse cx="456.9" cy="252.47" rx="6.5" ry="5.7" fill="url(#g2)"/><ellipse cx="475.06" cy="252.47" rx="6.5" ry="5.7" fill="url(#g3)"/><ellipse cx="529.52" cy="252.47" rx="6.4" ry="5.6" fill="url(#g3)"/><ellipse cx="620.29" cy="252.47" rx="6.5" ry="5.7" fill="url(#g5)"/><ellipse cx="656.61" cy="252.47" rx="6.5" ry="5.7" fill="url(#g5)"/><ellipse cx="692.91" cy="252.47" rx="6.5" ry="5.7" fill="url(#g3)"/><ellipse cx="711.07" cy="252.47" rx="6.4" ry="5.6" fill="url(#g2)"/><ellipse cx="729.23" cy="252.47" rx="6.5" ry="5.7" fill="url(#g3)"/><ellipse cx="747.38" cy="252.47" rx="6.5" ry="5.7" fill="url(#g1)"/><ellipse cx="93.8" cy="269" rx="6.5" ry="5.7" fill="url(#g3)"/><ellipse cx="111.95" cy="269" rx="6.5" ry="5.7" fill="url(#g3)"/><ellipse cx="130.11" cy="269" rx="6.5" ry="5.7" fill="url(#g4)"/><ellipse cx="148.26" cy="269" rx="6.5" ry="5.7" fill="url(#g4)"/><ellipse cx="166.42" cy="269" rx="6.5" ry="5.7" fill="url(#g3)"/><ellipse cx="184.57" cy="269" rx="6.5" ry="5.7" fill="url(#g4)"/><ellipse cx="202.73" cy="269" rx="6.5" ry="5.7" fill="url(#g4)"/><ellipse cx="220.88" cy="269" rx="6.5" ry="5.7" fill="url(#g3)"/><ellipse cx="239.04" cy="269" rx="6.5" ry="5.7" fill="url(#g3)"/><ellipse cx="257.19" cy="269" rx="6.5" ry="5.7" fill="url(#g5)"/><ellipse cx="384.28" cy="269" rx="6.5" ry="5.7" fill="url(#g5)"/><ellipse cx="438.75" cy="269" rx="6.5" ry="5.7" fill="url(#g5)"/><ellipse cx="456.9" cy="269" rx="6.5" ry="5.7" fill="url(#g3)"/><ellipse cx="475.06" cy="269" rx="6.5" ry="5.7" fill="url(#g5)"/><ellipse cx="747.38" cy="269" rx="7.7" ry="6.8" fill="url(#gr)"/><ellipse cx="93.8" cy="285.53" rx="7.7" ry="6.8" fill="url(#gr)"/><ellipse cx="111.95" cy="285.53" rx="7.7" ry="6.8" fill="url(#gr)"/><ellipse cx="148.26" cy="285.53" rx="6.5" ry="5.7" fill="url(#g3)"/><ellipse cx="166.42" cy="285.53" rx="6.5" ry="5.7" fill="url(#g2)"/><ellipse cx="184.57" cy="285.53" rx="6.5" ry="5.7" fill="url(#g3)"/><ellipse cx="202.73" cy="285.53" rx="6.5" ry="5.7" fill="url(#g4)"/><ellipse cx="220.88" cy="285.53" rx="6.5" ry="5.7" fill="url(#g4)"/><ellipse cx="239.04" cy="285.53" rx="6.5" ry="5.7" fill="url(#g3)"/><ellipse cx="257.19" cy="285.53" rx="6.5" ry="5.7" fill="url(#g5)"/><ellipse cx="275.35" cy="285.53" rx="6.5" ry="5.7" fill="url(#g4)"/><ellipse cx="311.66" cy="285.53" rx="6.5" ry="5.7" fill="url(#g3)"/><ellipse cx="384.28" cy="285.53" rx="6.5" ry="5.7" fill="url(#g5)"/><ellipse cx="402.44" cy="285.53" rx="6.5" ry="5.7" fill="url(#g2)"/><ellipse cx="420.59" cy="285.53" rx="6.5" ry="5.7" fill="url(#g4)"/><ellipse cx="438.75" cy="285.53" rx="6.5" ry="5.7" fill="url(#g5)"/><ellipse cx="475.06" cy="285.53" rx="6.5" ry="5.7" fill="url(#g4)"/><ellipse cx="493.21" cy="285.53" rx="6.5" ry="5.7" fill="url(#g4)"/><ellipse cx="547.67" cy="285.53" rx="6.5" ry="5.7" fill="url(#g3)"/><ellipse cx="565.83" cy="285.53" rx="6.5" ry="5.7" fill="url(#g5)"/><ellipse cx="583.99" cy="285.53" rx="6.5" ry="5.7" fill="url(#g4)"/><ellipse cx="602.14" cy="285.53" rx="6.5" ry="5.7" fill="url(#g5)"/><ellipse cx="620.29" cy="285.53" rx="6.5" ry="5.7" fill="url(#g3)"/><ellipse cx="656.61" cy="285.53" rx="6.5" ry="5.7" fill="url(#g4)"/><ellipse cx="692.91" cy="285.53" rx="6.5" ry="5.7" fill="url(#g2)"/><ellipse cx="711.07" cy="285.53" rx="6.5" ry="5.7" fill="url(#g2)"/><ellipse cx="729.23" cy="285.53" rx="6.5" ry="5.7" fill="url(#g1)"/><ellipse cx="747.38" cy="285.53" rx="6.5" ry="5.7" fill="url(#g1)"/><ellipse cx="93.8" cy="302.06" rx="6.5" ry="5.7" fill="url(#g3)"/><ellipse cx="111.95" cy="302.06" rx="6.5" ry="5.7" fill="url(#g4)"/><ellipse cx="130.11" cy="302.06" rx="6.5" ry="5.7" fill="url(#g3)"/><ellipse cx="148.26" cy="302.06" rx="6.5" ry="5.7" fill="url(#g2)"/><ellipse cx="166.42" cy="302.06" rx="6.5" ry="5.7" fill="url(#g3)"/><ellipse cx="184.57" cy="302.06" rx="6.5" ry="5.7" fill="url(#g2)"/><ellipse cx="202.73" cy="302.06" rx="6.5" ry="5.7" fill="url(#g3)"/><ellipse cx="257.19" cy="302.06" rx="6.4" ry="5.6" fill="url(#g3)"/><ellipse cx="293.5" cy="302.06" rx="6.5" ry="5.7" fill="url(#g3)"/><ellipse cx="366.13" cy="302.06" rx="6.5" ry="5.7" fill="url(#g4)"/><ellipse cx="384.28" cy="302.06" rx="6.5" ry="5.7" fill="url(#g4)"/><ellipse cx="438.75" cy="302.06" rx="6.5" ry="5.7" fill="url(#g3)"/><ellipse cx="456.9" cy="302.06" rx="6.5" ry="5.7" fill="url(#g5)"/><ellipse cx="475.06" cy="302.06" rx="6.5" ry="5.7" fill="url(#g3)"/><ellipse cx="583.99" cy="302.06" rx="6.5" ry="5.7" fill="url(#g3)"/><ellipse cx="602.14" cy="302.06" rx="6.5" ry="5.7" fill="url(#g3)"/><ellipse cx="620.29" cy="302.06" rx="6.5" ry="5.7" fill="url(#g3)"/><ellipse cx="656.61" cy="302.06" rx="6.5" ry="5.7" fill="url(#g2)"/><ellipse cx="674.76" cy="302.06" rx="6.5" ry="5.7" fill="url(#g2)"/><ellipse cx="692.91" cy="302.06" rx="6.5" ry="5.7" fill="url(#g2)"/><ellipse cx="711.07" cy="302.06" rx="6.5" ry="5.7" fill="url(#g2)"/><ellipse cx="729.23" cy="302.06" rx="6.5" ry="5.7" fill="url(#g1)"/><ellipse cx="747.38" cy="302.06" rx="6.5" ry="5.7" fill="url(#g1)"/><ellipse cx="93.8" cy="318.59" rx="6.5" ry="5.7" fill="url(#g4)"/><ellipse cx="111.95" cy="318.59" rx="6.5" ry="5.7" fill="url(#g5)"/><ellipse cx="130.11" cy="318.59" rx="6.5" ry="5.7" fill="url(#g4)"/><ellipse cx="148.26" cy="318.59" rx="6.5" ry="5.7" fill="url(#g4)"/><ellipse cx="166.42" cy="318.59" rx="6.5" ry="5.7" fill="url(#g5)"/><ellipse cx="202.73" cy="318.59" rx="6.5" ry="5.7" fill="url(#g4)"/><ellipse cx="220.88" cy="318.59" rx="6.5" ry="5.7" fill="url(#g5)"/><ellipse cx="239.04" cy="318.59" rx="6.5" ry="5.7" fill="url(#g4)"/><ellipse cx="275.35" cy="318.59" rx="6.5" ry="5.7" fill="url(#g5)"/><ellipse cx="366.13" cy="318.59" rx="6.5" ry="5.7" fill="url(#g4)"/><ellipse cx="384.28" cy="318.59" rx="6.5" ry="5.7" fill="url(#g3)"/><ellipse cx="402.44" cy="318.59" rx="6.5" ry="5.7" fill="url(#g3)"/><ellipse cx="420.59" cy="318.59" rx="6.5" ry="5.7" fill="url(#g3)"/><ellipse cx="456.9" cy="318.59" rx="6.5" ry="5.7" fill="url(#g4)"/><ellipse cx="565.83" cy="318.59" rx="6.5" ry="5.7" fill="url(#g3)"/><ellipse cx="583.99" cy="318.59" rx="6.5" ry="5.7" fill="url(#g4)"/><ellipse cx="602.14" cy="318.59" rx="6.5" ry="5.7" fill="url(#g4)"/><ellipse cx="620.29" cy="318.59" rx="6.5" ry="5.7" fill="url(#g3)"/><ellipse cx="638.45" cy="318.59" rx="6.5" ry="5.7" fill="url(#g5)"/><ellipse cx="656.61" cy="318.59" rx="6.5" ry="5.7" fill="url(#g2)"/><ellipse cx="674.76" cy="318.59" rx="6.5" ry="5.7" fill="url(#g3)"/><ellipse cx="692.91" cy="318.59" rx="6.5" ry="5.7" fill="url(#g2)"/><ellipse cx="711.07" cy="318.59" rx="6.5" ry="5.7" fill="url(#g2)"/><ellipse cx="729.23" cy="318.59" rx="6.5" ry="5.7" fill="url(#g1)"/><ellipse cx="747.38" cy="318.59" rx="6.5" ry="5.7" fill="url(#g1)"/><ellipse cx="93.8" cy="335.12" rx="6.5" ry="5.7" fill="url(#g4)"/><ellipse cx="111.95" cy="335.12" rx="6.5" ry="5.7" fill="url(#g2)"/><ellipse cx="130.11" cy="335.12" rx="6.5" ry="5.7" fill="url(#g3)"/><ellipse cx="148.26" cy="335.12" rx="6.5" ry="5.7" fill="url(#g1)"/><ellipse cx="166.42" cy="335.12" rx="6.5" ry="5.7" fill="url(#g3)"/><ellipse cx="184.57" cy="335.12" rx="6.5" ry="5.7" fill="url(#g5)"/><ellipse cx="202.73" cy="335.12" rx="6.5" ry="5.7" fill="url(#g3)"/><ellipse cx="220.88" cy="335.12" rx="6.5" ry="5.7" fill="url(#g1)"/><ellipse cx="239.04" cy="335.12" rx="6.5" ry="5.7" fill="url(#g3)"/><ellipse cx="275.35" cy="335.12" rx="6.5" ry="5.7" fill="url(#g4)"/><ellipse cx="311.66" cy="335.12" rx="6.5" ry="5.7" fill="url(#g1)"/><ellipse cx="329.81" cy="335.12" rx="6.5" ry="5.7" fill="url(#g5)"/><ellipse cx="347.97" cy="335.12" rx="6.5" ry="5.7" fill="url(#g3)"/><ellipse cx="366.13" cy="335.12" rx="6.5" ry="5.7" fill="url(#g3)"/><ellipse cx="384.28" cy="335.12" rx="6.5" ry="5.7" fill="url(#g5)"/><ellipse cx="402.44" cy="335.12" rx="6.5" ry="5.7" fill="url(#g5)"/><ellipse cx="420.59" cy="335.12" rx="6.5" ry="5.7" fill="url(#g1)"/><ellipse cx="438.75" cy="335.12" rx="6.5" ry="5.7" fill="url(#g2)"/><ellipse cx="456.9" cy="335.12" rx="6.5" ry="5.7" fill="url(#g4)"/><ellipse cx="475.06" cy="335.12" rx="6.5" ry="5.7" fill="url(#g2)"/><ellipse cx="493.21" cy="335.12" rx="6.5" ry="5.7" fill="url(#g4)"/><ellipse cx="511.37" cy="335.12" rx="6.5" ry="5.7" fill="url(#g1)"/><ellipse cx="529.52" cy="335.12" rx="6.5" ry="5.7" fill="url(#g5)"/><ellipse cx="547.67" cy="335.12" rx="6.5" ry="5.7" fill="url(#g2)"/><ellipse cx="565.83" cy="335.12" rx="6.5" ry="5.7" fill="url(#g3)"/><ellipse cx="583.99" cy="335.12" rx="6.5" ry="5.7" fill="url(#g2)"/><ellipse cx="620.29" cy="335.12" rx="6.5" ry="5.7" fill="url(#g1)"/><ellipse cx="638.45" cy="335.12" rx="6.5" ry="5.7" fill="url(#g2)"/><ellipse cx="656.61" cy="335.12" rx="6.5" ry="5.7" fill="url(#g2)"/><ellipse cx="674.76" cy="335.12" rx="6.5" ry="5.7" fill="url(#g2)"/><ellipse cx="692.91" cy="335.12" rx="6.5" ry="5.7" fill="url(#g1)"/><ellipse cx="711.07" cy="335.12" rx="6.5" ry="5.7" fill="url(#g1)"/><ellipse cx="729.23" cy="335.12" rx="6.5" ry="5.7" fill="url(#g1)"/><ellipse cx="747.38" cy="335.12" rx="6.5" ry="5.7" fill="url(#g1)"/><ellipse cx="93.8" cy="351.65" rx="6.5" ry="5.7" fill="url(#g3)"/><ellipse cx="111.95" cy="351.65" rx="6.5" ry="5.7" fill="url(#g2)"/><ellipse cx="130.11" cy="351.65" rx="6.5" ry="5.7" fill="url(#g3)"/><ellipse cx="148.26" cy="351.65" rx="6.5" ry="5.7" fill="url(#g4)"/><ellipse cx="166.42" cy="351.65" rx="6.5" ry="5.7" fill="url(#g3)"/><ellipse cx="184.57" cy="351.65" rx="6.5" ry="5.7" fill="url(#g1)"/><ellipse cx="202.73" cy="351.65" rx="6.5" ry="5.7" fill="url(#g3)"/><ellipse cx="220.88" cy="351.65" rx="6.5" ry="5.7" fill="url(#g3)"/><ellipse cx="257.19" cy="351.65" rx="6.5" ry="5.7" fill="url(#g4)"/><ellipse cx="275.35" cy="351.65" rx="6.5" ry="5.7" fill="url(#g3)"/><ellipse cx="293.5" cy="351.65" rx="6.5" ry="5.7" fill="url(#g4)"/><ellipse cx="311.66" cy="351.65" rx="6.5" ry="5.7" fill="url(#g4)"/><ellipse cx="329.81" cy="351.65" rx="6.5" ry="5.7" fill="url(#g4)"/><ellipse cx="347.97" cy="351.65" rx="6.5" ry="5.7" fill="url(#g4)"/><ellipse cx="366.13" cy="351.65" rx="6.5" ry="5.7" fill="url(#g5)"/><ellipse cx="384.28" cy="351.65" rx="6.5" ry="5.7" fill="url(#g4)"/><ellipse cx="420.59" cy="351.65" rx="6.5" ry="5.7" fill="url(#g4)"/><ellipse cx="438.75" cy="351.65" rx="6.5" ry="5.7" fill="url(#g3)"/><ellipse cx="456.9" cy="351.65" rx="6.5" ry="5.7" fill="url(#g3)"/><ellipse cx="475.06" cy="351.65" rx="6.5" ry="5.7" fill="url(#g3)"/><ellipse cx="493.21" cy="351.65" rx="6.5" ry="5.7" fill="url(#g4)"/><ellipse cx="511.37" cy="351.65" rx="6.5" ry="5.7" fill="url(#g2)"/><ellipse cx="547.67" cy="351.65" rx="6.5" ry="5.7" fill="url(#g3)"/><ellipse cx="565.83" cy="351.65" rx="6.5" ry="5.7" fill="url(#g4)"/><ellipse cx="583.99" cy="351.65" rx="6.5" ry="5.7" fill="url(#g3)"/><ellipse cx="602.14" cy="351.65" rx="6.5" ry="5.7" fill="url(#g3)"/><ellipse cx="620.29" cy="351.65" rx="6.5" ry="5.7" fill="url(#g3)"/><ellipse cx="638.45" cy="351.65" rx="6.5" ry="5.7" fill="url(#g1)"/><ellipse cx="656.61" cy="351.65" rx="6.5" ry="5.7" fill="url(#g3)"/><ellipse cx="674.76" cy="351.65" rx="6.5" ry="5.7" fill="url(#g1)"/><ellipse cx="692.91" cy="351.65" rx="6.5" ry="5.7" fill="url(#g3)"/><ellipse cx="711.07" cy="351.65" rx="6.5" ry="5.7" fill="url(#g1)"/><ellipse cx="729.23" cy="351.65" rx="6.5" ry="5.7" fill="url(#g2)"/><ellipse cx="747.38" cy="351.65" rx="6.5" ry="5.7" fill="url(#g2)"/><ellipse cx="93.8" cy="368.18" rx="6.5" ry="5.7" fill="url(#g5)"/><ellipse cx="111.95" cy="368.18" rx="6.5" ry="5.7" fill="url(#g2)"/><ellipse cx="130.11" cy="368.18" rx="6.5" ry="5.7" fill="url(#g4)"/><ellipse cx="148.26" cy="368.18" rx="6.5" ry="5.7" fill="url(#g4)"/><ellipse cx="166.42" cy="368.18" rx="6.5" ry="5.7" fill="url(#g3)"/><ellipse cx="184.57" cy="368.18" rx="6.5" ry="5.7" fill="url(#g3)"/><ellipse cx="202.73" cy="368.18" rx="6.5" ry="5.7" fill="url(#g3)"/><ellipse cx="220.88" cy="368.18" rx="6.5" ry="5.7" fill="url(#g3)"/><ellipse cx="239.04" cy="368.18" rx="6.5" ry="5.7" fill="url(#g3)"/><ellipse cx="257.19" cy="368.18" rx="6.5" ry="5.7" fill="url(#g4)"/><ellipse cx="275.35" cy="368.18" rx="6.5" ry="5.7" fill="url(#g3)"/><ellipse cx="293.5" cy="368.18" rx="6.5" ry="5.7" fill="url(#g4)"/><ellipse cx="311.66" cy="368.18" rx="6.5" ry="5.7" fill="url(#g2)"/><ellipse cx="329.81" cy="368.18" rx="6.5" ry="5.7" fill="url(#g4)"/><ellipse cx="347.97" cy="368.18" rx="6.5" ry="5.7" fill="url(#g2)"/><ellipse cx="366.13" cy="368.18" rx="6.5" ry="5.7" fill="url(#g3)"/><ellipse cx="384.28" cy="368.18" rx="6.5" ry="5.7" fill="url(#g2)"/><ellipse cx="402.44" cy="368.18" rx="6.5" ry="5.7" fill="url(#g3)"/><ellipse cx="420.59" cy="368.18" rx="6.5" ry="5.7" fill="url(#g4)"/><ellipse cx="438.75" cy="368.18" rx="6.5" ry="5.7" fill="url(#g3)"/><ellipse cx="456.9" cy="368.18" rx="6.5" ry="5.7" fill="url(#g3)"/><ellipse cx="475.06" cy="368.18" rx="6.5" ry="5.7" fill="url(#g3)"/><ellipse cx="565.83" cy="368.18" rx="6.5" ry="5.7" fill="url(#g4)"/><ellipse cx="620.29" cy="368.18" rx="6.5" ry="5.7" fill="url(#g5)"/><ellipse cx="638.45" cy="368.18" rx="6.5" ry="5.7" fill="url(#g2)"/><ellipse cx="656.61" cy="368.18" rx="6.5" ry="5.7" fill="url(#g5)"/><ellipse cx="674.76" cy="368.18" rx="6.5" ry="5.7" fill="url(#g1)"/><ellipse cx="692.91" cy="368.18" rx="6.5" ry="5.7" fill="url(#g4)"/><ellipse cx="711.07" cy="368.18" rx="6.5" ry="5.7" fill="url(#g3)"/><ellipse cx="729.23" cy="368.18" rx="6.5" ry="5.7" fill="url(#g2)"/><ellipse cx="747.38" cy="368.18" rx="6.5" ry="5.7" fill="url(#g3)"/><ellipse cx="93.8" cy="384.71" rx="6.5" ry="5.7" fill="url(#g5)"/><ellipse cx="111.95" cy="384.71" rx="6.5" ry="5.7" fill="url(#g4)"/><ellipse cx="130.11" cy="384.71" rx="6.5" ry="5.7" fill="url(#g4)"/><ellipse cx="166.42" cy="384.71" rx="6.5" ry="5.7" fill="url(#g4)"/><ellipse cx="184.57" cy="384.71" rx="6.5" ry="5.7" fill="url(#g5)"/><ellipse cx="202.73" cy="384.71" rx="6.5" ry="5.7" fill="url(#g4)"/><ellipse cx="239.04" cy="384.71" rx="6.5" ry="5.7" fill="url(#g4)"/><ellipse cx="257.19" cy="384.71" rx="6.5" ry="5.7" fill="url(#g5)"/><ellipse cx="275.35" cy="384.71" rx="6.5" ry="5.7" fill="url(#g4)"/><ellipse cx="293.5" cy="384.71" rx="6.5" ry="5.7" fill="url(#g5)"/><ellipse cx="329.81" cy="384.71" rx="6.5" ry="5.7" fill="url(#g4)"/><ellipse cx="366.13" cy="384.71" rx="6.5" ry="5.7" fill="url(#g4)"/><ellipse cx="384.28" cy="384.71" rx="6.5" ry="5.7" fill="url(#g4)"/><ellipse cx="402.44" cy="384.71" rx="6.5" ry="5.7" fill="url(#g4)"/><ellipse cx="438.75" cy="384.71" rx="6.5" ry="5.7" fill="url(#g5)"/><ellipse cx="456.9" cy="384.71" rx="6.5" ry="5.7" fill="url(#g4)"/><ellipse cx="475.06" cy="384.71" rx="6.5" ry="5.7" fill="url(#g5)"/><ellipse cx="493.21" cy="384.71" rx="6.5" ry="5.7" fill="url(#g5)"/><ellipse cx="511.37" cy="384.71" rx="6.5" ry="5.7" fill="url(#g3)"/><ellipse cx="529.52" cy="384.71" rx="6.5" ry="5.7" fill="url(#g3)"/><ellipse cx="547.67" cy="384.71" rx="6.5" ry="5.7" fill="url(#g3)"/><ellipse cx="565.83" cy="384.71" rx="6.5" ry="5.7" fill="url(#g4)"/><ellipse cx="583.99" cy="384.71" rx="6.5" ry="5.7" fill="url(#g4)"/><ellipse cx="602.14" cy="384.71" rx="6.5" ry="5.7" fill="url(#g1)"/><ellipse cx="620.29" cy="384.71" rx="6.5" ry="5.7" fill="url(#g2)"/><ellipse cx="638.45" cy="384.71" rx="6.5" ry="5.7" fill="url(#g2)"/><ellipse cx="656.61" cy="384.71" rx="6.5" ry="5.7" fill="url(#g3)"/><ellipse cx="674.76" cy="384.71" rx="6.5" ry="5.7" fill="url(#g1)"/><ellipse cx="692.91" cy="384.71" rx="6.5" ry="5.7" fill="url(#g2)"/><ellipse cx="711.07" cy="384.71" rx="6.5" ry="5.7" fill="url(#g2)"/><ellipse cx="729.23" cy="384.71" rx="6.5" ry="5.7" fill="url(#g1)"/><ellipse cx="747.38" cy="384.71" rx="6.5" ry="5.7" fill="url(#g2)"/><ellipse cx="93.8" cy="401.24" rx="6.5" ry="5.7" fill="url(#g3)"/><ellipse cx="111.95" cy="401.24" rx="6.5" ry="5.7" fill="url(#g4)"/><ellipse cx="130.11" cy="401.24" rx="6.5" ry="5.7" fill="url(#g3)"/><ellipse cx="148.26" cy="401.24" rx="6.5" ry="5.7" fill="url(#g3)"/><ellipse cx="166.42" cy="401.24" rx="6.5" ry="5.7" fill="url(#g3)"/><ellipse cx="184.57" cy="401.24" rx="6.5" ry="5.7" fill="url(#g3)"/><ellipse cx="202.73" cy="401.24" rx="6.5" ry="5.7" fill="url(#g4)"/><ellipse cx="220.88" cy="401.24" rx="6.5" ry="5.7" fill="url(#g3)"/><ellipse cx="239.04" cy="401.24" rx="6.5" ry="5.7" fill="url(#g4)"/><ellipse cx="257.19" cy="401.24" rx="6.5" ry="5.7" fill="url(#g3)"/><ellipse cx="275.35" cy="401.24" rx="6.5" ry="5.7" fill="url(#g4)"/><ellipse cx="293.5" cy="401.24" rx="6.5" ry="5.7" fill="url(#g5)"/><ellipse cx="311.66" cy="401.24" rx="6.5" ry="5.7" fill="url(#g4)"/><ellipse cx="329.81" cy="401.24" rx="6.5" ry="5.7" fill="url(#g4)"/><ellipse cx="347.97" cy="401.24" rx="6.5" ry="5.7" fill="url(#g4)"/><ellipse cx="366.13" cy="401.24" rx="6.5" ry="5.7" fill="url(#g3)"/><ellipse cx="384.28" cy="401.24" rx="6.5" ry="5.7" fill="url(#g4)"/><ellipse cx="402.44" cy="401.24" rx="6.5" ry="5.7" fill="url(#g4)"/><ellipse cx="420.59" cy="401.24" rx="6.5" ry="5.7" fill="url(#g4)"/><ellipse cx="438.75" cy="401.24" rx="6.5" ry="5.7" fill="url(#g4)"/><ellipse cx="456.9" cy="401.24" rx="6.5" ry="5.7" fill="url(#g3)"/><ellipse cx="475.06" cy="401.24" rx="6.5" ry="5.7" fill="url(#g4)"/><ellipse cx="493.21" cy="401.24" rx="6.5" ry="5.7" fill="url(#g4)"/><ellipse cx="511.37" cy="401.24" rx="6.5" ry="5.7" fill="url(#g3)"/><ellipse cx="529.52" cy="401.24" rx="6.5" ry="5.7" fill="url(#g3)"/><ellipse cx="547.67" cy="401.24" rx="6.5" ry="5.7" fill="url(#g3)"/><ellipse cx="565.83" cy="401.24" rx="6.5" ry="5.7" fill="url(#g3)"/><ellipse cx="602.14" cy="401.24" rx="6.5" ry="5.7" fill="url(#g2)"/><ellipse cx="620.29" cy="401.24" rx="6.5" ry="5.7" fill="url(#g3)"/><ellipse cx="638.45" cy="401.24" rx="6.5" ry="5.7" fill="url(#g2)"/><ellipse cx="656.61" cy="401.24" rx="6.5" ry="5.7" fill="url(#g5)"/><ellipse cx="674.76" cy="401.24" rx="6.5" ry="5.7" fill="url(#g2)"/><ellipse cx="692.91" cy="401.24" rx="6.5" ry="5.7" fill="url(#g5)"/><ellipse cx="711.07" cy="401.24" rx="6.5" ry="5.7" fill="url(#g2)"/><ellipse cx="729.23" cy="401.24" rx="6.5" ry="5.7" fill="url(#g1)"/><ellipse cx="747.38" cy="401.24" rx="6.5" ry="5.7" fill="url(#g1)"/><ellipse cx="93.8" cy="417.77" rx="6.5" ry="5.7" fill="url(#g3)"/><ellipse cx="111.95" cy="417.77" rx="6.5" ry="5.7" fill="url(#g5)"/><ellipse cx="130.11" cy="417.77" rx="6.5" ry="5.7" fill="url(#g3)"/><ellipse cx="148.26" cy="417.77" rx="6.5" ry="5.7" fill="url(#g3)"/><ellipse cx="166.42" cy="417.77" rx="6.5" ry="5.7" fill="url(#g3)"/><ellipse cx="184.57" cy="417.77" rx="6.5" ry="5.7" fill="url(#g4)"/><ellipse cx="220.88" cy="417.77" rx="6.5" ry="5.7" fill="url(#g3)"/><ellipse cx="293.5" cy="417.77" rx="6.5" ry="5.7" fill="url(#g4)"/><ellipse cx="311.66" cy="417.77" rx="6.5" ry="5.7" fill="url(#g4)"/><ellipse cx="329.81" cy="417.77" rx="6.5" ry="5.7" fill="url(#g3)"/><ellipse cx="347.97" cy="417.77" rx="6.5" ry="5.7" fill="url(#g4)"/><ellipse cx="366.13" cy="417.77" rx="6.5" ry="5.7" fill="url(#g3)"/><ellipse cx="384.28" cy="417.77" rx="6.5" ry="5.7" fill="url(#g3)"/><ellipse cx="420.59" cy="417.77" rx="6.5" ry="5.7" fill="url(#g3)"/><ellipse cx="456.9" cy="417.77" rx="6.5" ry="5.7" fill="url(#g4)"/><ellipse cx="493.21" cy="417.77" rx="6.5" ry="5.7" fill="url(#g4)"/><ellipse cx="529.52" cy="417.77" rx="6.5" ry="5.7" fill="url(#g0)"/><ellipse cx="565.83" cy="417.77" rx="6.5" ry="5.7" fill="url(#g4)"/><ellipse cx="583.99" cy="417.77" rx="6.5" ry="5.7" fill="url(#g4)"/><ellipse cx="602.14" cy="417.77" rx="6.5" ry="5.7" fill="url(#g5)"/><ellipse cx="674.76" cy="417.77" rx="6.5" ry="5.7" fill="url(#g5)"/><ellipse cx="711.07" cy="417.77" rx="6.5" ry="5.7" fill="url(#g4)"/><ellipse cx="729.23" cy="417.77" rx="6.5" ry="5.7" fill="url(#g1)"/><ellipse cx="747.38" cy="417.77" rx="6.5" ry="5.7" fill="url(#g1)"/><ellipse cx="93.8" cy="434.3" rx="6.5" ry="5.7" fill="url(#g5)"/><ellipse cx="130.11" cy="434.3" rx="6.5" ry="5.7" fill="url(#g4)"/><ellipse cx="148.26" cy="434.3" rx="6.5" ry="5.7" fill="url(#g4)"/><ellipse cx="184.57" cy="434.3" rx="6.5" ry="5.7" fill="url(#g4)"/><ellipse cx="202.73" cy="434.3" rx="6.5" ry="5.7" fill="url(#g4)"/><ellipse cx="220.88" cy="434.3" rx="6.5" ry="5.7" fill="url(#g3)"/><ellipse cx="257.19" cy="434.3" rx="6.5" ry="5.7" fill="url(#g1)"/><ellipse cx="275.35" cy="434.3" rx="6.5" ry="5.7" fill="url(#g2)"/><ellipse cx="293.5" cy="434.3" rx="6.5" ry="5.7" fill="url(#g2)"/><ellipse cx="311.66" cy="434.3" rx="6.5" ry="5.7" fill="url(#g3)"/><ellipse cx="329.81" cy="434.3" rx="6.5" ry="5.7" fill="url(#g3)"/><ellipse cx="347.97" cy="434.3" rx="6.5" ry="5.7" fill="url(#g1)"/><ellipse cx="366.13" cy="434.3" rx="6.5" ry="5.7" fill="url(#g3)"/><ellipse cx="729.23" cy="434.3" rx="7.7" ry="6.8" fill="url(#grl)"/><ellipse cx="747.38" cy="434.3" rx="7.7" ry="6.8" fill="url(#grl)"/></g><g filter="url(#blur1)"><ellipse cx="202.73" cy="103.7" rx="3.5" ry="3.15" fill="url(#g5)"/><ellipse cx="220.88" cy="103.7" rx="7.1" ry="6.2" fill="url(#g6)"/><ellipse cx="311.66" cy="103.7" rx="7.1" ry="6.2" fill="url(#g6)"/><ellipse cx="329.81" cy="103.7" rx="7.4" ry="6.5" fill="rgb(28,28,28)"/><ellipse cx="130.11" cy="120.23" rx="7.1" ry="6.2" fill="url(#g7)"/><ellipse cx="166.42" cy="120.23" rx="3.5" ry="3.15" fill="url(#g4)"/><ellipse cx="184.57" cy="120.23" rx="7.1" ry="6.2" fill="url(#g6)"/><ellipse cx="293.5" cy="120.23" rx="2.5" ry="2.25" fill="url(#g5)"/><ellipse cx="311.66" cy="120.23" rx="7.1" ry="6.2" fill="url(#g6)"/><ellipse cx="329.81" cy="120.23" rx="7.1" ry="6.2" fill="url(#g6)"/><ellipse cx="148.26" cy="169.82" rx="7.1" ry="6.2" fill="url(#g6)"/><ellipse cx="184.57" cy="169.82" rx="7.1" ry="6.2" fill="url(#g6)"/><ellipse cx="202.73" cy="169.82" rx="7.1" ry="6.2" fill="url(#g6)"/><ellipse cx="220.88" cy="169.82" rx="3" ry="2.7" fill="url(#g5)"/><ellipse cx="239.04" cy="169.82" rx="7.1" ry="6.2" fill="url(#g6)"/><ellipse cx="329.81" cy="169.82" rx="7.1" ry="6.2" fill="url(#g6)"/><ellipse cx="366.13" cy="169.82" rx="7.1" ry="6.2" fill="url(#g7)"/><ellipse cx="384.28" cy="169.82" rx="3" ry="2.7" fill="url(#g7)"/><ellipse cx="402.44" cy="169.82" rx="7.1" ry="6.2" fill="url(#g6)"/><ellipse cx="420.59" cy="169.82" rx="7.1" ry="6.2" fill="url(#g6)"/><ellipse cx="438.75" cy="169.82" rx="7.1" ry="6.2" fill="url(#g6)"/><ellipse cx="456.9" cy="169.82" rx="7.4" ry="6.5" fill="rgb(28,28,28)"/><ellipse cx="475.06" cy="169.82" rx="3" ry="2.7" fill="url(#g7)"/><ellipse cx="547.67" cy="169.82" rx="7.1" ry="6.2" fill="url(#g6)"/><ellipse cx="329.81" cy="202.88" rx="8.2" ry="7.3" fill="rgb(6,6,6)"/><ellipse cx="347.97" cy="202.88" rx="8.2" ry="7.3" fill="rgb(6,6,6)"/><ellipse cx="366.13" cy="202.88" rx="5.2" ry="4.68" fill="url(#g9)"/><ellipse cx="384.28" cy="202.88" rx="8.2" ry="7.3" fill="rgb(6,6,6)"/><ellipse cx="402.44" cy="202.88" rx="8.2" ry="7.3" fill="rgb(6,6,6)"/><ellipse cx="420.59" cy="202.88" rx="8.2" ry="7.3" fill="rgb(6,6,6)"/><ellipse cx="438.75" cy="202.88" rx="8.2" ry="7.3" fill="rgb(6,6,6)"/><ellipse cx="456.9" cy="202.88" rx="8.2" ry="7.3" fill="rgb(6,6,6)"/><ellipse cx="475.06" cy="202.88" rx="8.2" ry="7.3" fill="rgb(6,6,6)"/><ellipse cx="493.21" cy="202.88" rx="8.2" ry="7.3" fill="rgb(6,6,6)"/><ellipse cx="511.37" cy="202.88" rx="8.2" ry="7.3" fill="rgb(6,6,6)"/><ellipse cx="529.52" cy="202.88" rx="8.2" ry="7.3" fill="rgb(6,6,6)"/><ellipse cx="547.67" cy="202.88" rx="8.2" ry="7.3" fill="rgb(6,6,6)"/><ellipse cx="565.83" cy="202.88" rx="5.5" ry="4.95" fill="url(#g9)"/><ellipse cx="583.99" cy="202.88" rx="8.2" ry="7.3" fill="rgb(6,6,6)"/><ellipse cx="602.14" cy="202.88" rx="8.2" ry="7.3" fill="rgb(6,6,6)"/><ellipse cx="620.29" cy="202.88" rx="5.2" ry="4.68" fill="url(#g9)"/><ellipse cx="638.45" cy="202.88" rx="8.2" ry="7.3" fill="rgb(6,6,6)"/><ellipse cx="656.61" cy="202.88" rx="5.2" ry="4.68" fill="url(#g9)"/><ellipse cx="674.76" cy="202.88" rx="7.4" ry="6.5" fill="rgb(28,28,28)"/><ellipse cx="692.91" cy="202.88" rx="7.1" ry="6.2" fill="url(#g7)"/><ellipse cx="711.07" cy="202.88" rx="7.1" ry="6.2" fill="url(#g7)"/><ellipse cx="130.11" cy="219.41" rx="3.2" ry="2.88" fill="url(#g8)"/><ellipse cx="148.26" cy="219.41" rx="7.1" ry="6.2" fill="url(#g7)"/><ellipse cx="166.42" cy="219.41" rx="7.1" ry="6.2" fill="url(#g7)"/><ellipse cx="184.57" cy="219.41" rx="7.1" ry="6.2" fill="url(#g6)"/><ellipse cx="202.73" cy="219.41" rx="7.1" ry="6.2" fill="url(#g6)"/><ellipse cx="220.88" cy="219.41" rx="7.1" ry="6.2" fill="url(#g6)"/><ellipse cx="239.04" cy="219.41" rx="7.1" ry="6.2" fill="url(#g6)"/><ellipse cx="257.19" cy="219.41" rx="8.2" ry="7.3" fill="rgb(6,6,6)"/><ellipse cx="275.35" cy="219.41" rx="8.2" ry="7.3" fill="rgb(6,6,6)"/><ellipse cx="293.5" cy="219.41" rx="4.2" ry="3.78" fill="url(#g9)"/><ellipse cx="311.66" cy="219.41" rx="8.2" ry="7.3" fill="rgb(6,6,6)"/><ellipse cx="329.81" cy="219.41" rx="8.2" ry="7.3" fill="rgb(6,6,6)"/><ellipse cx="347.97" cy="219.41" rx="4.8" ry="4.32" fill="url(#g9)"/><ellipse cx="366.13" cy="219.41" rx="8.2" ry="7.3" fill="rgb(6,6,6)"/><ellipse cx="384.28" cy="219.41" rx="7.1" ry="6.2" fill="url(#g6)"/><ellipse cx="402.44" cy="219.41" rx="7.1" ry="6.2" fill="url(#g7)"/><ellipse cx="420.59" cy="219.41" rx="7.1" ry="6.2" fill="url(#g7)"/><ellipse cx="438.75" cy="219.41" rx="7.4" ry="6.5" fill="rgb(28,28,28)"/><ellipse cx="456.9" cy="219.41" rx="7.1" ry="6.2" fill="url(#g7)"/><ellipse cx="475.06" cy="219.41" rx="8.2" ry="7.3" fill="rgb(6,6,6)"/><ellipse cx="493.21" cy="219.41" rx="8.2" ry="7.3" fill="rgb(6,6,6)"/><ellipse cx="511.37" cy="219.41" rx="4.5" ry="4.05" fill="url(#g8)"/><ellipse cx="529.52" cy="219.41" rx="4.5" ry="4.05" fill="url(#g8)"/><ellipse cx="547.67" cy="219.41" rx="4.8" ry="4.32" fill="url(#g9)"/><ellipse cx="729.23" cy="219.41" rx="7.4" ry="6.5" fill="url(#g9)"/><ellipse cx="547.67" cy="235.94" rx="8.2" ry="7.3" fill="rgb(6,6,6)"/><ellipse cx="565.83" cy="235.94" rx="8.2" ry="7.3" fill="rgb(6,6,6)"/><ellipse cx="583.99" cy="235.94" rx="8.2" ry="7.3" fill="rgb(6,6,6)"/><ellipse cx="602.14" cy="235.94" rx="8.2" ry="7.3" fill="rgb(6,6,6)"/><ellipse cx="620.29" cy="235.94" rx="8.2" ry="7.3" fill="rgb(6,6,6)"/><ellipse cx="638.45" cy="235.94" rx="8.2" ry="7.3" fill="rgb(6,6,6)"/><ellipse cx="656.61" cy="235.94" rx="8.2" ry="7.3" fill="rgb(6,6,6)"/><ellipse cx="674.76" cy="235.94" rx="8.2" ry="7.3" fill="rgb(6,6,6)"/><ellipse cx="692.91" cy="235.94" rx="7.4" ry="6.5" fill="rgb(28,28,28)"/><ellipse cx="711.07" cy="235.94" rx="8.2" ry="7.3" fill="rgb(6,6,6)"/><ellipse cx="729.23" cy="235.94" rx="8.2" ry="7.3" fill="rgb(6,6,6)"/><ellipse cx="93.8" cy="252.47" rx="7.1" ry="6.2" fill="url(#g6)"/><ellipse cx="130.11" cy="252.47" rx="8.2" ry="7.3" fill="rgb(6,6,6)"/><ellipse cx="220.88" cy="252.47" rx="8.2" ry="7.3" fill="rgb(6,6,6)"/><ellipse cx="239.04" cy="252.47" rx="7.1" ry="6.2" fill="url(#g7)"/><ellipse cx="257.19" cy="252.47" rx="8.2" ry="7.3" fill="rgb(6,6,6)"/><ellipse cx="275.35" cy="252.47" rx="4.8" ry="4.32" fill="url(#g9)"/><ellipse cx="293.5" cy="252.47" rx="8.2" ry="7.3" fill="rgb(6,6,6)"/><ellipse cx="311.66" cy="252.47" rx="8.2" ry="7.3" fill="rgb(6,6,6)"/><ellipse cx="329.81" cy="252.47" rx="8.2" ry="7.3" fill="rgb(6,6,6)"/><ellipse cx="347.97" cy="252.47" rx="8.2" ry="7.3" fill="rgb(6,6,6)"/><ellipse cx="366.13" cy="252.47" rx="8.2" ry="7.3" fill="rgb(6,6,6)"/><ellipse cx="384.28" cy="252.47" rx="7.4" ry="6.5" fill="rgb(28,28,28)"/><ellipse cx="402.44" cy="252.47" rx="7.1" ry="6.2" fill="url(#g6)"/><ellipse cx="420.59" cy="252.47" rx="8.2" ry="7.3" fill="rgb(6,6,6)"/><ellipse cx="438.75" cy="252.47" rx="7.4" ry="6.5" fill="rgb(28,28,28)"/><ellipse cx="493.21" cy="252.47" rx="7.1" ry="6.2" fill="url(#g6)"/><ellipse cx="511.37" cy="252.47" rx="8.2" ry="7.3" fill="rgb(6,6,6)"/><ellipse cx="529.52" cy="252.47" rx="4.6" ry="4.14" fill="url(#g9)"/><ellipse cx="547.67" cy="252.47" rx="8.2" ry="7.3" fill="rgb(6,6,6)"/><ellipse cx="565.83" cy="252.47" rx="8.2" ry="7.3" fill="rgb(6,6,6)"/><ellipse cx="583.99" cy="252.47" rx="7.4" ry="6.5" fill="rgb(28,28,28)"/><ellipse cx="602.14" cy="252.47" rx="7.4" ry="6.5" fill="rgb(28,28,28)"/><ellipse cx="638.45" cy="252.47" rx="7.4" ry="6.5" fill="rgb(28,28,28)"/><ellipse cx="674.76" cy="252.47" rx="7.4" ry="6.5" fill="rgb(28,28,28)"/><ellipse cx="711.07" cy="252.47" rx="2.2" ry="1.98" fill="url(#g9)"/><ellipse cx="275.35" cy="269" rx="8.2" ry="7.3" fill="rgb(6,6,6)"/><ellipse cx="293.5" cy="269" rx="8.2" ry="7.3" fill="rgb(6,6,6)"/><ellipse cx="311.66" cy="269" rx="8.2" ry="7.3" fill="rgb(6,6,6)"/><ellipse cx="329.81" cy="269" rx="8.2" ry="7.3" fill="rgb(6,6,6)"/><ellipse cx="347.97" cy="269" rx="7.4" ry="6.5" fill="rgb(28,28,28)"/><ellipse cx="366.13" cy="269" rx="7.1" ry="6.2" fill="url(#g6)"/><ellipse cx="402.44" cy="269" rx="7.1" ry="6.2" fill="url(#g7)"/><ellipse cx="420.59" cy="269" rx="7.4" ry="6.5" fill="rgb(28,28,28)"/><ellipse cx="493.21" cy="269" rx="8.2" ry="7.3" fill="rgb(6,6,6)"/><ellipse cx="511.37" cy="269" rx="7.4" ry="6.5" fill="rgb(28,28,28)"/><ellipse cx="529.52" cy="269" rx="7.1" ry="6.2" fill="url(#g6)"/><ellipse cx="547.67" cy="269" rx="7.4" ry="6.5" fill="rgb(28,28,28)"/><ellipse cx="729.23" cy="269" rx="7.4" ry="6.5" fill="url(#g9)"/><ellipse cx="293.5" cy="285.53" rx="7.4" ry="6.5" fill="rgb(28,28,28)"/><ellipse cx="329.81" cy="285.53" rx="7.4" ry="6.5" fill="rgb(28,28,28)"/><ellipse cx="347.97" cy="285.53" rx="7.4" ry="6.5" fill="rgb(28,28,28)"/><ellipse cx="366.13" cy="285.53" rx="7.4" ry="6.5" fill="rgb(28,28,28)"/><ellipse cx="456.9" cy="285.53" rx="7.1" ry="6.2" fill="url(#g6)"/><ellipse cx="511.37" cy="285.53" rx="7.1" ry="6.2" fill="url(#g6)"/><ellipse cx="529.52" cy="285.53" rx="7.4" ry="6.5" fill="rgb(28,28,28)"/><ellipse cx="638.45" cy="285.53" rx="7.4" ry="6.5" fill="rgb(28,28,28)"/><ellipse cx="674.76" cy="285.53" rx="7.1" ry="6.2" fill="url(#g7)"/><ellipse cx="220.88" cy="302.06" rx="7.1" ry="6.2" fill="url(#g6)"/><ellipse cx="239.04" cy="302.06" rx="7.1" ry="6.2" fill="url(#g6)"/><ellipse cx="257.19" cy="302.06" rx="3" ry="2.7" fill="url(#g6)"/><ellipse cx="275.35" cy="302.06" rx="8.2" ry="7.3" fill="rgb(6,6,6)"/><ellipse cx="311.66" cy="302.06" rx="8.2" ry="7.3" fill="rgb(6,6,6)"/><ellipse cx="329.81" cy="302.06" rx="7.4" ry="6.5" fill="rgb(28,28,28)"/><ellipse cx="347.97" cy="302.06" rx="7.1" ry="6.2" fill="url(#g6)"/><ellipse cx="402.44" cy="302.06" rx="7.1" ry="6.2" fill="url(#g6)"/><ellipse cx="420.59" cy="302.06" rx="7.1" ry="6.2" fill="url(#g6)"/><ellipse cx="493.21" cy="302.06" rx="7.1" ry="6.2" fill="url(#g7)"/><ellipse cx="511.37" cy="302.06" rx="8.2" ry="7.3" fill="rgb(6,6,6)"/><ellipse cx="529.52" cy="302.06" rx="8.2" ry="7.3" fill="rgb(6,6,6)"/><ellipse cx="547.67" cy="302.06" rx="8.2" ry="7.3" fill="rgb(6,6,6)"/><ellipse cx="565.83" cy="302.06" rx="7.1" ry="6.2" fill="url(#g7)"/><ellipse cx="638.45" cy="302.06" rx="7.1" ry="6.2" fill="url(#g6)"/><ellipse cx="184.57" cy="318.59" rx="7.1" ry="6.2" fill="url(#g6)"/><ellipse cx="257.19" cy="318.59" rx="7.1" ry="6.2" fill="url(#g6)"/><ellipse cx="293.5" cy="318.59" rx="7.1" ry="6.2" fill="url(#g7)"/><ellipse cx="311.66" cy="318.59" rx="7.1" ry="6.2" fill="url(#g7)"/><ellipse cx="329.81" cy="318.59" rx="7.1" ry="6.2" fill="url(#g6)"/><ellipse cx="347.97" cy="318.59" rx="7.1" ry="6.2" fill="url(#g7)"/><ellipse cx="438.75" cy="318.59" rx="7.4" ry="6.5" fill="rgb(28,28,28)"/><ellipse cx="475.06" cy="318.59" rx="7.1" ry="6.2" fill="url(#g6)"/><ellipse cx="493.21" cy="318.59" rx="7.4" ry="6.5" fill="rgb(28,28,28)"/><ellipse cx="511.37" cy="318.59" rx="7.1" ry="6.2" fill="url(#g7)"/><ellipse cx="529.52" cy="318.59" rx="7.4" ry="6.5" fill="rgb(28,28,28)"/><ellipse cx="547.67" cy="318.59" rx="7.4" ry="6.5" fill="rgb(28,28,28)"/><ellipse cx="257.19" cy="335.12" rx="7.1" ry="6.2" fill="url(#g7)"/><ellipse cx="293.5" cy="335.12" rx="7.1" ry="6.2" fill="url(#g6)"/><ellipse cx="602.14" cy="335.12" rx="7.1" ry="6.2" fill="url(#g6)"/><ellipse cx="239.04" cy="351.65" rx="7.1" ry="6.2" fill="url(#g6)"/><ellipse cx="402.44" cy="351.65" rx="7.1" ry="6.2" fill="url(#g6)"/><ellipse cx="529.52" cy="351.65" rx="7.1" ry="6.2" fill="url(#g6)"/><ellipse cx="511.37" cy="368.18" rx="7.1" ry="6.2" fill="url(#g7)"/><ellipse cx="529.52" cy="368.18" rx="7.4" ry="6.5" fill="rgb(28,28,28)"/><ellipse cx="547.67" cy="368.18" rx="7.4" ry="6.5" fill="rgb(28,28,28)"/><ellipse cx="583.99" cy="368.18" rx="7.1" ry="6.2" fill="url(#g7)"/><ellipse cx="602.14" cy="368.18" rx="7.1" ry="6.2" fill="url(#g6)"/><ellipse cx="148.26" cy="384.71" rx="7.1" ry="6.2" fill="url(#g7)"/><ellipse cx="220.88" cy="384.71" rx="7.1" ry="6.2" fill="url(#g6)"/><ellipse cx="311.66" cy="384.71" rx="7.1" ry="6.2" fill="url(#g6)"/><ellipse cx="347.97" cy="384.71" rx="7.4" ry="6.5" fill="rgb(28,28,28)"/><ellipse cx="420.59" cy="384.71" rx="7.1" ry="6.2" fill="url(#g7)"/><ellipse cx="583.99" cy="401.24" rx="7.1" ry="6.2" fill="url(#g6)"/><ellipse cx="202.73" cy="417.77" rx="7.1" ry="6.2" fill="url(#g7)"/><ellipse cx="239.04" cy="417.77" rx="7.1" ry="6.2" fill="url(#g7)"/><ellipse cx="257.19" cy="417.77" rx="7.1" ry="6.2" fill="url(#g6)"/><ellipse cx="275.35" cy="417.77" rx="7.1" ry="6.2" fill="url(#g7)"/><ellipse cx="402.44" cy="417.77" rx="7.1" ry="6.2" fill="url(#g6)"/><ellipse cx="438.75" cy="417.77" rx="7.1" ry="6.2" fill="url(#g6)"/><ellipse cx="475.06" cy="417.77" rx="7.1" ry="6.2" fill="url(#g6)"/><ellipse cx="511.37" cy="417.77" rx="7.1" ry="6.2" fill="url(#g6)"/><ellipse cx="547.67" cy="417.77" rx="7.1" ry="6.2" fill="url(#g7)"/><ellipse cx="620.29" cy="417.77" rx="7.1" ry="6.2" fill="url(#g6)"/><ellipse cx="638.45" cy="417.77" rx="8.2" ry="7.3" fill="rgb(6,6,6)"/><ellipse cx="656.61" cy="417.77" rx="7.1" ry="6.2" fill="url(#g6)"/><ellipse cx="692.91" cy="417.77" rx="7.1" ry="6.2" fill="url(#g6)"/><ellipse cx="111.95" cy="434.3" rx="7.4" ry="6.5" fill="rgb(28,28,28)"/><ellipse cx="166.42" cy="434.3" rx="7.1" ry="6.2" fill="url(#g6)"/><ellipse cx="239.04" cy="434.3" rx="7.1" ry="6.2" fill="url(#g7)"/></g><g><ellipse cx="148.26" cy="103.7" rx="7.7" ry="6.8" fill="none" stroke="#5a5a5a" stroke-width="1.1" stroke-opacity="0.85"/><ellipse cx="166.42" cy="103.7" rx="7.7" ry="6.8" fill="none" stroke="#5a5a5a" stroke-width="1.1" stroke-opacity="0.85"/><ellipse cx="184.57" cy="103.7" rx="7.7" ry="6.8" fill="none" stroke="#5a5a5a" stroke-width="1.1" stroke-opacity="0.85"/><ellipse cx="202.73" cy="103.7" rx="7.7" ry="6.8" fill="none" stroke="#5a5a5a" stroke-width="1.1" stroke-opacity="0.85"/><ellipse cx="220.88" cy="103.7" rx="7.7" ry="6.8" fill="none" stroke="#5a5a5a" stroke-width="1.1" stroke-opacity="0.85"/><ellipse cx="239.04" cy="103.7" rx="7.7" ry="6.8" fill="none" stroke="#5a5a5a" stroke-width="1.1" stroke-opacity="0.85"/><ellipse cx="257.19" cy="103.7" rx="7.7" ry="6.8" fill="none" stroke="#5a5a5a" stroke-width="1.1" stroke-opacity="0.85"/><ellipse cx="275.35" cy="103.7" rx="7.7" ry="6.8" fill="none" stroke="#5a5a5a" stroke-width="1.1" stroke-opacity="0.85"/><ellipse cx="293.5" cy="103.7" rx="7.7" ry="6.8" fill="none" stroke="#5a5a5a" stroke-width="1.1" stroke-opacity="0.85"/><ellipse cx="311.66" cy="103.7" rx="7.7" ry="6.8" fill="none" stroke="#5a5a5a" stroke-width="1.1" stroke-opacity="0.85"/><ellipse cx="329.81" cy="103.7" rx="7.7" ry="6.8" fill="none" stroke="#5a5a5a" stroke-width="1.1" stroke-opacity="0.85"/><ellipse cx="347.97" cy="103.7" rx="7.7" ry="6.8" fill="none" stroke="#5a5a5a" stroke-width="1.1" stroke-opacity="0.85"/><ellipse cx="366.13" cy="103.7" rx="7.7" ry="6.8" fill="none" stroke="#5a5a5a" stroke-width="1.1" stroke-opacity="0.85"/><ellipse cx="384.28" cy="103.7" rx="7.7" ry="6.8" fill="none" stroke="#5a5a5a" stroke-width="1.1" stroke-opacity="0.85"/><ellipse cx="402.44" cy="103.7" rx="7.7" ry="6.8" fill="none" stroke="#5a5a5a" stroke-width="1.1" stroke-opacity="0.85"/><ellipse cx="420.59" cy="103.7" rx="7.7" ry="6.8" fill="none" stroke="#5a5a5a" stroke-width="1.1" stroke-opacity="0.85"/><ellipse cx="438.75" cy="103.7" rx="7.7" ry="6.8" fill="none" stroke="#5a5a5a" stroke-width="1.1" stroke-opacity="0.85"/><ellipse cx="456.9" cy="103.7" rx="7.7" ry="6.8" fill="none" stroke="#5a5a5a" stroke-width="1.1" stroke-opacity="0.85"/><ellipse cx="475.06" cy="103.7" rx="7.7" ry="6.8" fill="none" stroke="#5a5a5a" stroke-width="1.1" stroke-opacity="0.85"/><ellipse cx="493.21" cy="103.7" rx="7.7" ry="6.8" fill="none" stroke="#5a5a5a" stroke-width="1.1" stroke-opacity="0.85"/><ellipse cx="511.37" cy="103.7" rx="7.7" ry="6.8" fill="none" stroke="#5a5a5a" stroke-width="1.1" stroke-opacity="0.85"/><ellipse cx="529.52" cy="103.7" rx="7.7" ry="6.8" fill="none" stroke="#5a5a5a" stroke-width="1.1" stroke-opacity="0.85"/><ellipse cx="547.67" cy="103.7" rx="7.7" ry="6.8" fill="none" stroke="#5a5a5a" stroke-width="1.1" stroke-opacity="0.85"/><ellipse cx="565.83" cy="103.7" rx="7.7" ry="6.8" fill="none" stroke="#5a5a5a" stroke-width="1.1" stroke-opacity="0.85"/><ellipse cx="583.99" cy="103.7" rx="7.7" ry="6.8" fill="none" stroke="#5a5a5a" stroke-width="1.1" stroke-opacity="0.85"/><ellipse cx="602.14" cy="103.7" rx="7.7" ry="6.8" fill="none" stroke="#5a5a5a" stroke-width="1.1" stroke-opacity="0.85"/><ellipse cx="620.29" cy="103.7" rx="7.7" ry="6.8" fill="none" stroke="#5a5a5a" stroke-width="1.1" stroke-opacity="0.85"/><ellipse cx="638.45" cy="103.7" rx="7.7" ry="6.8" fill="none" stroke="#5a5a5a" stroke-width="1.1" stroke-opacity="0.85"/><ellipse cx="656.61" cy="103.7" rx="7.7" ry="6.8" fill="none" stroke="#5a5a5a" stroke-width="1.1" stroke-opacity="0.85"/><ellipse cx="674.76" cy="103.7" rx="7.7" ry="6.8" fill="none" stroke="#5a5a5a" stroke-width="1.1" stroke-opacity="0.85"/><ellipse cx="692.91" cy="103.7" rx="7.7" ry="6.8" fill="none" stroke="#5a5a5a" stroke-width="1.1" stroke-opacity="0.85"/><ellipse cx="711.07" cy="103.7" rx="7.7" ry="6.8" fill="none" stroke="#5a5a5a" stroke-width="1.1" stroke-opacity="0.85"/><ellipse cx="729.23" cy="103.7" rx="7.7" ry="6.8" fill="none" stroke="#5a5a5a" stroke-width="1.1" stroke-opacity="0.85"/><ellipse cx="747.38" cy="103.7" rx="7.7" ry="6.8" fill="none" stroke="#5a5a5a" stroke-width="1.1" stroke-opacity="0.85"/><ellipse cx="93.8" cy="120.23" rx="7.7" ry="6.8" fill="none" stroke="#5a5a5a" stroke-width="1.1" stroke-opacity="0.85"/><ellipse cx="111.95" cy="120.23" rx="7.7" ry="6.8" fill="none" stroke="#5a5a5a" stroke-width="1.1" stroke-opacity="0.85"/><ellipse cx="130.11" cy="120.23" rx="7.7" ry="6.8" fill="none" stroke="#5a5a5a" stroke-width="1.1" stroke-opacity="0.85"/><ellipse cx="148.26" cy="120.23" rx="7.7" ry="6.8" fill="none" stroke="#5a5a5a" stroke-width="1.1" stroke-opacity="0.85"/><ellipse cx="166.42" cy="120.23" rx="7.7" ry="6.8" fill="none" stroke="#5a5a5a" stroke-width="1.1" stroke-opacity="0.85"/><ellipse cx="184.57" cy="120.23" rx="7.7" ry="6.8" fill="none" stroke="#5a5a5a" stroke-width="1.1" stroke-opacity="0.85"/><ellipse cx="202.73" cy="120.23" rx="7.7" ry="6.8" fill="none" stroke="#5a5a5a" stroke-width="1.1" stroke-opacity="0.85"/><ellipse cx="220.88" cy="120.23" rx="7.7" ry="6.8" fill="none" stroke="#5a5a5a" stroke-width="1.1" stroke-opacity="0.85"/><ellipse cx="239.04" cy="120.23" rx="7.7" ry="6.8" fill="none" stroke="#5a5a5a" stroke-width="1.1" stroke-opacity="0.85"/><ellipse cx="257.19" cy="120.23" rx="7.7" ry="6.8" fill="none" stroke="#5a5a5a" stroke-width="1.1" stroke-opacity="0.85"/><ellipse cx="275.35" cy="120.23" rx="7.7" ry="6.8" fill="none" stroke="#5a5a5a" stroke-width="1.1" stroke-opacity="0.85"/><ellipse cx="293.5" cy="120.23" rx="7.7" ry="6.8" fill="none" stroke="#5a5a5a" stroke-width="1.1" stroke-opacity="0.85"/><ellipse cx="311.66" cy="120.23" rx="7.7" ry="6.8" fill="none" stroke="#5a5a5a" stroke-width="1.1" stroke-opacity="0.85"/><ellipse cx="329.81" cy="120.23" rx="7.7" ry="6.8" fill="none" stroke="#5a5a5a" stroke-width="1.1" stroke-opacity="0.85"/><ellipse cx="347.97" cy="120.23" rx="7.7" ry="6.8" fill="none" stroke="#5a5a5a" stroke-width="1.1" stroke-opacity="0.85"/><ellipse cx="366.13" cy="120.23" rx="7.7" ry="6.8" fill="none" stroke="#5a5a5a" stroke-width="1.1" stroke-opacity="0.85"/><ellipse cx="384.28" cy="120.23" rx="7.7" ry="6.8" fill="none" stroke="#5a5a5a" stroke-width="1.1" stroke-opacity="0.85"/><ellipse cx="402.44" cy="120.23" rx="7.7" ry="6.8" fill="none" stroke="#5a5a5a" stroke-width="1.1" stroke-opacity="0.85"/><ellipse cx="420.59" cy="120.23" rx="7.7" ry="6.8" fill="none" stroke="#5a5a5a" stroke-width="1.1" stroke-opacity="0.85"/><ellipse cx="438.75" cy="120.23" rx="7.7" ry="6.8" fill="none" stroke="#5a5a5a" stroke-width="1.1" stroke-opacity="0.85"/><ellipse cx="456.9" cy="120.23" rx="7.7" ry="6.8" fill="none" stroke="#5a5a5a" stroke-width="1.1" stroke-opacity="0.85"/><ellipse cx="475.06" cy="120.23" rx="7.7" ry="6.8" fill="none" stroke="#5a5a5a" stroke-width="1.1" stroke-opacity="0.85"/><ellipse cx="493.21" cy="120.23" rx="7.7" ry="6.8" fill="none" stroke="#5a5a5a" stroke-width="1.1" stroke-opacity="0.85"/><ellipse cx="511.37" cy="120.23" rx="7.7" ry="6.8" fill="none" stroke="#5a5a5a" stroke-width="1.1" stroke-opacity="0.85"/><ellipse cx="529.52" cy="120.23" rx="7.7" ry="6.8" fill="none" stroke="#5a5a5a" stroke-width="1.1" stroke-opacity="0.85"/><ellipse cx="547.67" cy="120.23" rx="7.7" ry="6.8" fill="none" stroke="#5a5a5a" stroke-width="1.1" stroke-opacity="0.85"/><ellipse cx="565.83" cy="120.23" rx="7.7" ry="6.8" fill="none" stroke="#5a5a5a" stroke-width="1.1" stroke-opacity="0.85"/><ellipse cx="583.99" cy="120.23" rx="7.7" ry="6.8" fill="none" stroke="#5a5a5a" stroke-width="1.1" stroke-opacity="0.85"/><ellipse cx="602.14" cy="120.23" rx="7.7" ry="6.8" fill="none" stroke="#5a5a5a" stroke-width="1.1" stroke-opacity="0.85"/><ellipse cx="620.29" cy="120.23" rx="7.7" ry="6.8" fill="none" stroke="#5a5a5a" stroke-width="1.1" stroke-opacity="0.85"/><ellipse cx="638.45" cy="120.23" rx="7.7" ry="6.8" fill="none" stroke="#5a5a5a" stroke-width="1.1" stroke-opacity="0.85"/><ellipse cx="656.61" cy="120.23" rx="7.7" ry="6.8" fill="none" stroke="#5a5a5a" stroke-width="1.1" stroke-opacity="0.85"/><ellipse cx="674.76" cy="120.23" rx="7.7" ry="6.8" fill="none" stroke="#5a5a5a" stroke-width="1.1" stroke-opacity="0.85"/><ellipse cx="692.91" cy="120.23" rx="7.7" ry="6.8" fill="none" stroke="#5a5a5a" stroke-width="1.1" stroke-opacity="0.85"/><ellipse cx="711.07" cy="120.23" rx="7.7" ry="6.8" fill="none" stroke="#5a5a5a" stroke-width="1.1" stroke-opacity="0.85"/><ellipse cx="729.23" cy="120.23" rx="7.7" ry="6.8" fill="none" stroke="#5a5a5a" stroke-width="1.1" stroke-opacity="0.85"/><ellipse cx="747.38" cy="120.23" rx="7.7" ry="6.8" fill="none" stroke="#5a5a5a" stroke-width="1.1" stroke-opacity="0.85"/><ellipse cx="93.8" cy="136.76" rx="7.7" ry="6.8" fill="none" stroke="#5a5a5a" stroke-width="1.1" stroke-opacity="0.85"/><ellipse cx="111.95" cy="136.76" rx="7.7" ry="6.8" fill="none" stroke="#5a5a5a" stroke-width="1.1" stroke-opacity="0.85"/><ellipse cx="130.11" cy="136.76" rx="7.7" ry="6.8" fill="none" stroke="#5a5a5a" stroke-width="1.1" stroke-opacity="0.85"/><ellipse cx="148.26" cy="136.76" rx="7.7" ry="6.8" fill="none" stroke="#5a5a5a" stroke-width="1.1" stroke-opacity="0.85"/><ellipse cx="166.42" cy="136.76" rx="7.7" ry="6.8" fill="none" stroke="#5a5a5a" stroke-width="1.1" stroke-opacity="0.85"/><ellipse cx="184.57" cy="136.76" rx="7.7" ry="6.8" fill="none" stroke="#5a5a5a" stroke-width="1.1" stroke-opacity="0.85"/><ellipse cx="202.73" cy="136.76" rx="7.7" ry="6.8" fill="none" stroke="#5a5a5a" stroke-width="1.1" stroke-opacity="0.85"/><ellipse cx="220.88" cy="136.76" rx="7.7" ry="6.8" fill="none" stroke="#5a5a5a" stroke-width="1.1" stroke-opacity="0.85"/><ellipse cx="239.04" cy="136.76" rx="7.7" ry="6.8" fill="none" stroke="#5a5a5a" stroke-width="1.1" stroke-opacity="0.85"/><ellipse cx="257.19" cy="136.76" rx="7.7" ry="6.8" fill="none" stroke="#5a5a5a" stroke-width="1.1" stroke-opacity="0.85"/><ellipse cx="275.35" cy="136.76" rx="7.7" ry="6.8" fill="none" stroke="#5a5a5a" stroke-width="1.1" stroke-opacity="0.85"/><ellipse cx="293.5" cy="136.76" rx="7.7" ry="6.8" fill="none" stroke="#5a5a5a" stroke-width="1.1" stroke-opacity="0.85"/><ellipse cx="311.66" cy="136.76" rx="7.7" ry="6.8" fill="none" stroke="#5a5a5a" stroke-width="1.1" stroke-opacity="0.85"/><ellipse cx="329.81" cy="136.76" rx="7.7" ry="6.8" fill="none" stroke="#5a5a5a" stroke-width="1.1" stroke-opacity="0.85"/><ellipse cx="347.97" cy="136.76" rx="7.7" ry="6.8" fill="none" stroke="#5a5a5a" stroke-width="1.1" stroke-opacity="0.85"/><ellipse cx="366.13" cy="136.76" rx="7.7" ry="6.8" fill="none" stroke="#5a5a5a" stroke-width="1.1" stroke-opacity="0.85"/><ellipse cx="384.28" cy="136.76" rx="7.7" ry="6.8" fill="none" stroke="#5a5a5a" stroke-width="1.1" stroke-opacity="0.85"/><ellipse cx="402.44" cy="136.76" rx="7.7" ry="6.8" fill="none" stroke="#5a5a5a" stroke-width="1.1" stroke-opacity="0.85"/><ellipse cx="420.59" cy="136.76" rx="7.7" ry="6.8" fill="none" stroke="#5a5a5a" stroke-width="1.1" stroke-opacity="0.85"/><ellipse cx="438.75" cy="136.76" rx="7.7" ry="6.8" fill="none" stroke="#5a5a5a" stroke-width="1.1" stroke-opacity="0.85"/><ellipse cx="456.9" cy="136.76" rx="7.7" ry="6.8" fill="none" stroke="#5a5a5a" stroke-width="1.1" stroke-opacity="0.85"/><ellipse cx="475.06" cy="136.76" rx="7.7" ry="6.8" fill="none" stroke="#5a5a5a" stroke-width="1.1" stroke-opacity="0.85"/><ellipse cx="493.21" cy="136.76" rx="7.7" ry="6.8" fill="none" stroke="#5a5a5a" stroke-width="1.1" stroke-opacity="0.85"/><ellipse cx="511.37" cy="136.76" rx="7.7" ry="6.8" fill="none" stroke="#5a5a5a" stroke-width="1.1" stroke-opacity="0.85"/><ellipse cx="529.52" cy="136.76" rx="7.7" ry="6.8" fill="none" stroke="#5a5a5a" stroke-width="1.1" stroke-opacity="0.85"/><ellipse cx="547.67" cy="136.76" rx="7.7" ry="6.8" fill="none" stroke="#5a5a5a" stroke-width="1.1" stroke-opacity="0.85"/><ellipse cx="565.83" cy="136.76" rx="7.7" ry="6.8" fill="none" stroke="#5a5a5a" stroke-width="1.1" stroke-opacity="0.85"/><ellipse cx="583.99" cy="136.76" rx="7.7" ry="6.8" fill="none" stroke="#5a5a5a" stroke-width="1.1" stroke-opacity="0.85"/><ellipse cx="602.14" cy="136.76" rx="7.7" ry="6.8" fill="none" stroke="#5a5a5a" stroke-width="1.1" stroke-opacity="0.85"/><ellipse cx="620.29" cy="136.76" rx="7.7" ry="6.8" fill="none" stroke="#5a5a5a" stroke-width="1.1" stroke-opacity="0.85"/><ellipse cx="638.45" cy="136.76" rx="7.7" ry="6.8" fill="none" stroke="#5a5a5a" stroke-width="1.1" stroke-opacity="0.85"/><ellipse cx="656.61" cy="136.76" rx="7.7" ry="6.8" fill="none" stroke="#5a5a5a" stroke-width="1.1" stroke-opacity="0.85"/><ellipse cx="674.76" cy="136.76" rx="7.7" ry="6.8" fill="none" stroke="#5a5a5a" stroke-width="1.1" stroke-opacity="0.85"/><ellipse cx="692.91" cy="136.76" rx="7.7" ry="6.8" fill="none" stroke="#5a5a5a" stroke-width="1.1" stroke-opacity="0.85"/><ellipse cx="711.07" cy="136.76" rx="7.7" ry="6.8" fill="none" stroke="#5a5a5a" stroke-width="1.1" stroke-opacity="0.85"/><ellipse cx="729.23" cy="136.76" rx="7.7" ry="6.8" fill="none" stroke="#5a5a5a" stroke-width="1.1" stroke-opacity="0.85"/><ellipse cx="747.38" cy="136.76" rx="7.7" ry="6.8" fill="none" stroke="#5a5a5a" stroke-width="1.1" stroke-opacity="0.85"/><ellipse cx="93.8" cy="153.29" rx="7.7" ry="6.8" fill="none" stroke="#5a5a5a" stroke-width="1.1" stroke-opacity="0.85"/><ellipse cx="111.95" cy="153.29" rx="7.7" ry="6.8" fill="none" stroke="#5a5a5a" stroke-width="1.1" stroke-opacity="0.85"/><ellipse cx="130.11" cy="153.29" rx="7.7" ry="6.8" fill="none" stroke="#5a5a5a" stroke-width="1.1" stroke-opacity="0.85"/><ellipse cx="148.26" cy="153.29" rx="7.7" ry="6.8" fill="none" stroke="#5a5a5a" stroke-width="1.1" stroke-opacity="0.85"/><ellipse cx="166.42" cy="153.29" rx="7.7" ry="6.8" fill="none" stroke="#5a5a5a" stroke-width="1.1" stroke-opacity="0.85"/><ellipse cx="184.57" cy="153.29" rx="7.7" ry="6.8" fill="none" stroke="#5a5a5a" stroke-width="1.1" stroke-opacity="0.85"/><ellipse cx="202.73" cy="153.29" rx="7.7" ry="6.8" fill="none" stroke="#5a5a5a" stroke-width="1.1" stroke-opacity="0.85"/><ellipse cx="220.88" cy="153.29" rx="7.7" ry="6.8" fill="none" stroke="#5a5a5a" stroke-width="1.1" stroke-opacity="0.85"/><ellipse cx="239.04" cy="153.29" rx="7.7" ry="6.8" fill="none" stroke="#5a5a5a" stroke-width="1.1" stroke-opacity="0.85"/><ellipse cx="257.19" cy="153.29" rx="7.7" ry="6.8" fill="none" stroke="#5a5a5a" stroke-width="1.1" stroke-opacity="0.85"/><ellipse cx="275.35" cy="153.29" rx="7.7" ry="6.8" fill="none" stroke="#5a5a5a" stroke-width="1.1" stroke-opacity="0.85"/><ellipse cx="293.5" cy="153.29" rx="7.7" ry="6.8" fill="none" stroke="#5a5a5a" stroke-width="1.1" stroke-opacity="0.85"/><ellipse cx="311.66" cy="153.29" rx="7.7" ry="6.8" fill="none" stroke="#5a5a5a" stroke-width="1.1" stroke-opacity="0.85"/><ellipse cx="329.81" cy="153.29" rx="7.7" ry="6.8" fill="none" stroke="#5a5a5a" stroke-width="1.1" stroke-opacity="0.85"/><ellipse cx="347.97" cy="153.29" rx="7.7" ry="6.8" fill="none" stroke="#5a5a5a" stroke-width="1.1" stroke-opacity="0.85"/><ellipse cx="366.13" cy="153.29" rx="7.7" ry="6.8" fill="none" stroke="#5a5a5a" stroke-width="1.1" stroke-opacity="0.85"/><ellipse cx="384.28" cy="153.29" rx="7.7" ry="6.8" fill="none" stroke="#5a5a5a" stroke-width="1.1" stroke-opacity="0.85"/><ellipse cx="402.44" cy="153.29" rx="7.7" ry="6.8" fill="none" stroke="#5a5a5a" stroke-width="1.1" stroke-opacity="0.85"/><ellipse cx="420.59" cy="153.29" rx="7.7" ry="6.8" fill="none" stroke="#5a5a5a" stroke-width="1.1" stroke-opacity="0.85"/><ellipse cx="438.75" cy="153.29" rx="7.7" ry="6.8" fill="none" stroke="#5a5a5a" stroke-width="1.1" stroke-opacity="0.85"/><ellipse cx="456.9" cy="153.29" rx="7.7" ry="6.8" fill="none" stroke="#5a5a5a" stroke-width="1.1" stroke-opacity="0.85"/><ellipse cx="475.06" cy="153.29" rx="7.7" ry="6.8" fill="none" stroke="#5a5a5a" stroke-width="1.1" stroke-opacity="0.85"/><ellipse cx="493.21" cy="153.29" rx="7.7" ry="6.8" fill="none" stroke="#5a5a5a" stroke-width="1.1" stroke-opacity="0.85"/><ellipse cx="511.37" cy="153.29" rx="7.7" ry="6.8" fill="none" stroke="#5a5a5a" stroke-width="1.1" stroke-opacity="0.85"/><ellipse cx="529.52" cy="153.29" rx="7.7" ry="6.8" fill="none" stroke="#5a5a5a" stroke-width="1.1" stroke-opacity="0.85"/><ellipse cx="547.67" cy="153.29" rx="7.7" ry="6.8" fill="none" stroke="#5a5a5a" stroke-width="1.1" stroke-opacity="0.85"/><ellipse cx="565.83" cy="153.29" rx="7.7" ry="6.8" fill="none" stroke="#5a5a5a" stroke-width="1.1" stroke-opacity="0.85"/><ellipse cx="583.99" cy="153.29" rx="7.7" ry="6.8" fill="none" stroke="#5a5a5a" stroke-width="1.1" stroke-opacity="0.85"/><ellipse cx="602.14" cy="153.29" rx="7.7" ry="6.8" fill="none" stroke="#5a5a5a" stroke-width="1.1" stroke-opacity="0.85"/><ellipse cx="620.29" cy="153.29" rx="7.7" ry="6.8" fill="none" stroke="#5a5a5a" stroke-width="1.1" stroke-opacity="0.85"/><ellipse cx="638.45" cy="153.29" rx="7.7" ry="6.8" fill="none" stroke="#5a5a5a" stroke-width="1.1" stroke-opacity="0.85"/><ellipse cx="656.61" cy="153.29" rx="7.7" ry="6.8" fill="none" stroke="#5a5a5a" stroke-width="1.1" stroke-opacity="0.85"/><ellipse cx="674.76" cy="153.29" rx="7.7" ry="6.8" fill="none" stroke="#5a5a5a" stroke-width="1.1" stroke-opacity="0.85"/><ellipse cx="692.91" cy="153.29" rx="7.7" ry="6.8" fill="none" stroke="#5a5a5a" stroke-width="1.1" stroke-opacity="0.85"/><ellipse cx="711.07" cy="153.29" rx="7.7" ry="6.8" fill="none" stroke="#5a5a5a" stroke-width="1.1" stroke-opacity="0.85"/><ellipse cx="729.23" cy="153.29" rx="7.7" ry="6.8" fill="none" stroke="#5a5a5a" stroke-width="1.1" stroke-opacity="0.85"/><ellipse cx="747.38" cy="153.29" rx="7.7" ry="6.8" fill="none" stroke="#5a5a5a" stroke-width="1.1" stroke-opacity="0.85"/><ellipse cx="93.8" cy="169.82" rx="7.7" ry="6.8" fill="none" stroke="#5a5a5a" stroke-width="1.1" stroke-opacity="0.85"/><ellipse cx="111.95" cy="169.82" rx="7.7" ry="6.8" fill="none" stroke="#5a5a5a" stroke-width="1.1" stroke-opacity="0.85"/><ellipse cx="130.11" cy="169.82" rx="7.7" ry="6.8" fill="none" stroke="#5a5a5a" stroke-width="1.1" stroke-opacity="0.85"/><ellipse cx="148.26" cy="169.82" rx="7.7" ry="6.8" fill="none" stroke="#5a5a5a" stroke-width="1.1" stroke-opacity="0.85"/><ellipse cx="166.42" cy="169.82" rx="7.7" ry="6.8" fill="none" stroke="#5a5a5a" stroke-width="1.1" stroke-opacity="0.85"/><ellipse cx="184.57" cy="169.82" rx="7.7" ry="6.8" fill="none" stroke="#5a5a5a" stroke-width="1.1" stroke-opacity="0.85"/><ellipse cx="202.73" cy="169.82" rx="7.7" ry="6.8" fill="none" stroke="#5a5a5a" stroke-width="1.1" stroke-opacity="0.85"/><ellipse cx="220.88" cy="169.82" rx="7.7" ry="6.8" fill="none" stroke="#5a5a5a" stroke-width="1.1" stroke-opacity="0.85"/><ellipse cx="239.04" cy="169.82" rx="7.7" ry="6.8" fill="none" stroke="#5a5a5a" stroke-width="1.1" stroke-opacity="0.85"/><ellipse cx="257.19" cy="169.82" rx="7.7" ry="6.8" fill="none" stroke="#5a5a5a" stroke-width="1.1" stroke-opacity="0.85"/><ellipse cx="275.35" cy="169.82" rx="7.7" ry="6.8" fill="none" stroke="#5a5a5a" stroke-width="1.1" stroke-opacity="0.85"/><ellipse cx="293.5" cy="169.82" rx="7.7" ry="6.8" fill="none" stroke="#5a5a5a" stroke-width="1.1" stroke-opacity="0.85"/><ellipse cx="311.66" cy="169.82" rx="7.7" ry="6.8" fill="none" stroke="#5a5a5a" stroke-width="1.1" stroke-opacity="0.85"/><ellipse cx="329.81" cy="169.82" rx="7.7" ry="6.8" fill="none" stroke="#5a5a5a" stroke-width="1.1" stroke-opacity="0.85"/><ellipse cx="347.97" cy="169.82" rx="7.7" ry="6.8" fill="none" stroke="#5a5a5a" stroke-width="1.1" stroke-opacity="0.85"/><ellipse cx="366.13" cy="169.82" rx="7.7" ry="6.8" fill="none" stroke="#5a5a5a" stroke-width="1.1" stroke-opacity="0.85"/><ellipse cx="384.28" cy="169.82" rx="7.7" ry="6.8" fill="none" stroke="#5a5a5a" stroke-width="1.1" stroke-opacity="0.85"/><ellipse cx="402.44" cy="169.82" rx="7.7" ry="6.8" fill="none" stroke="#5a5a5a" stroke-width="1.1" stroke-opacity="0.85"/><ellipse cx="420.59" cy="169.82" rx="7.7" ry="6.8" fill="none" stroke="#5a5a5a" stroke-width="1.1" stroke-opacity="0.85"/><ellipse cx="438.75" cy="169.82" rx="7.7" ry="6.8" fill="none" stroke="#5a5a5a" stroke-width="1.1" stroke-opacity="0.85"/><ellipse cx="456.9" cy="169.82" rx="7.7" ry="6.8" fill="none" stroke="#5a5a5a" stroke-width="1.1" stroke-opacity="0.85"/><ellipse cx="475.06" cy="169.82" rx="7.7" ry="6.8" fill="none" stroke="#5a5a5a" stroke-width="1.1" stroke-opacity="0.85"/><ellipse cx="493.21" cy="169.82" rx="7.7" ry="6.8" fill="none" stroke="#5a5a5a" stroke-width="1.1" stroke-opacity="0.85"/><ellipse cx="511.37" cy="169.82" rx="7.7" ry="6.8" fill="none" stroke="#5a5a5a" stroke-width="1.1" stroke-opacity="0.85"/><ellipse cx="529.52" cy="169.82" rx="7.7" ry="6.8" fill="none" stroke="#5a5a5a" stroke-width="1.1" stroke-opacity="0.85"/><ellipse cx="547.67" cy="169.82" rx="7.7" ry="6.8" fill="none" stroke="#5a5a5a" stroke-width="1.1" stroke-opacity="0.85"/><ellipse cx="565.83" cy="169.82" rx="7.7" ry="6.8" fill="none" stroke="#5a5a5a" stroke-width="1.1" stroke-opacity="0.85"/><ellipse cx="583.99" cy="169.82" rx="7.7" ry="6.8" fill="none" stroke="#5a5a5a" stroke-width="1.1" stroke-opacity="0.85"/><ellipse cx="602.14" cy="169.82" rx="7.7" ry="6.8" fill="none" stroke="#5a5a5a" stroke-width="1.1" stroke-opacity="0.85"/><ellipse cx="620.29" cy="169.82" rx="7.7" ry="6.8" fill="none" stroke="#5a5a5a" stroke-width="1.1" stroke-opacity="0.85"/><ellipse cx="638.45" cy="169.82" rx="7.7" ry="6.8" fill="none" stroke="#5a5a5a" stroke-width="1.1" stroke-opacity="0.85"/><ellipse cx="656.61" cy="169.82" rx="7.7" ry="6.8" fill="none" stroke="#5a5a5a" stroke-width="1.1" stroke-opacity="0.85"/><ellipse cx="674.76" cy="169.82" rx="7.7" ry="6.8" fill="none" stroke="#5a5a5a" stroke-width="1.1" stroke-opacity="0.85"/><ellipse cx="692.91" cy="169.82" rx="7.7" ry="6.8" fill="none" stroke="#5a5a5a" stroke-width="1.1" stroke-opacity="0.85"/><ellipse cx="711.07" cy="169.82" rx="7.7" ry="6.8" fill="none" stroke="#5a5a5a" stroke-width="1.1" stroke-opacity="0.85"/><ellipse cx="729.23" cy="169.82" rx="7.7" ry="6.8" fill="none" stroke="#5a5a5a" stroke-width="1.1" stroke-opacity="0.85"/><ellipse cx="747.38" cy="169.82" rx="7.7" ry="6.8" fill="none" stroke="#5a5a5a" stroke-width="1.1" stroke-opacity="0.85"/><ellipse cx="93.8" cy="186.35" rx="7.7" ry="6.8" fill="none" stroke="#5a5a5a" stroke-width="1.1" stroke-opacity="0.85"/><ellipse cx="111.95" cy="186.35" rx="7.7" ry="6.8" fill="none" stroke="#5a5a5a" stroke-width="1.1" stroke-opacity="0.85"/><ellipse cx="130.11" cy="186.35" rx="7.7" ry="6.8" fill="none" stroke="#5a5a5a" stroke-width="1.1" stroke-opacity="0.85"/><ellipse cx="148.26" cy="186.35" rx="7.7" ry="6.8" fill="none" stroke="#5a5a5a" stroke-width="1.1" stroke-opacity="0.85"/><ellipse cx="166.42" cy="186.35" rx="7.7" ry="6.8" fill="none" stroke="#5a5a5a" stroke-width="1.1" stroke-opacity="0.85"/><ellipse cx="184.57" cy="186.35" rx="7.7" ry="6.8" fill="none" stroke="#5a5a5a" stroke-width="1.1" stroke-opacity="0.85"/><ellipse cx="202.73" cy="186.35" rx="7.7" ry="6.8" fill="none" stroke="#5a5a5a" stroke-width="1.1" stroke-opacity="0.85"/><ellipse cx="220.88" cy="186.35" rx="7.7" ry="6.8" fill="none" stroke="#5a5a5a" stroke-width="1.1" stroke-opacity="0.85"/><ellipse cx="239.04" cy="186.35" rx="7.7" ry="6.8" fill="none" stroke="#5a5a5a" stroke-width="1.1" stroke-opacity="0.85"/><ellipse cx="257.19" cy="186.35" rx="7.7" ry="6.8" fill="none" stroke="#5a5a5a" stroke-width="1.1" stroke-opacity="0.85"/><ellipse cx="275.35" cy="186.35" rx="7.7" ry="6.8" fill="none" stroke="#5a5a5a" stroke-width="1.1" stroke-opacity="0.85"/><ellipse cx="293.5" cy="186.35" rx="7.7" ry="6.8" fill="none" stroke="#5a5a5a" stroke-width="1.1" stroke-opacity="0.85"/><ellipse cx="311.66" cy="186.35" rx="7.7" ry="6.8" fill="none" stroke="#5a5a5a" stroke-width="1.1" stroke-opacity="0.85"/><ellipse cx="329.81" cy="186.35" rx="7.7" ry="6.8" fill="none" stroke="#5a5a5a" stroke-width="1.1" stroke-opacity="0.85"/><ellipse cx="347.97" cy="186.35" rx="7.7" ry="6.8" fill="none" stroke="#5a5a5a" stroke-width="1.1" stroke-opacity="0.85"/><ellipse cx="366.13" cy="186.35" rx="7.7" ry="6.8" fill="none" stroke="#5a5a5a" stroke-width="1.1" stroke-opacity="0.85"/><ellipse cx="384.28" cy="186.35" rx="7.7" ry="6.8" fill="none" stroke="#5a5a5a" stroke-width="1.1" stroke-opacity="0.85"/><ellipse cx="402.44" cy="186.35" rx="7.7" ry="6.8" fill="none" stroke="#5a5a5a" stroke-width="1.1" stroke-opacity="0.85"/><ellipse cx="420.59" cy="186.35" rx="7.7" ry="6.8" fill="none" stroke="#5a5a5a" stroke-width="1.1" stroke-opacity="0.85"/><ellipse cx="438.75" cy="186.35" rx="7.7" ry="6.8" fill="none" stroke="#5a5a5a" stroke-width="1.1" stroke-opacity="0.85"/><ellipse cx="456.9" cy="186.35" rx="7.7" ry="6.8" fill="none" stroke="#5a5a5a" stroke-width="1.1" stroke-opacity="0.85"/><ellipse cx="475.06" cy="186.35" rx="7.7" ry="6.8" fill="none" stroke="#5a5a5a" stroke-width="1.1" stroke-opacity="0.85"/><ellipse cx="493.21" cy="186.35" rx="7.7" ry="6.8" fill="none" stroke="#5a5a5a" stroke-width="1.1" stroke-opacity="0.85"/><ellipse cx="511.37" cy="186.35" rx="7.7" ry="6.8" fill="none" stroke="#5a5a5a" stroke-width="1.1" stroke-opacity="0.85"/><ellipse cx="529.52" cy="186.35" rx="7.7" ry="6.8" fill="none" stroke="#5a5a5a" stroke-width="1.1" stroke-opacity="0.85"/><ellipse cx="547.67" cy="186.35" rx="7.7" ry="6.8" fill="none" stroke="#5a5a5a" stroke-width="1.1" stroke-opacity="0.85"/><ellipse cx="565.83" cy="186.35" rx="7.7" ry="6.8" fill="none" stroke="#5a5a5a" stroke-width="1.1" stroke-opacity="0.85"/><ellipse cx="583.99" cy="186.35" rx="7.7" ry="6.8" fill="none" stroke="#5a5a5a" stroke-width="1.1" stroke-opacity="0.85"/><ellipse cx="602.14" cy="186.35" rx="7.7" ry="6.8" fill="none" stroke="#5a5a5a" stroke-width="1.1" stroke-opacity="0.85"/><ellipse cx="620.29" cy="186.35" rx="7.7" ry="6.8" fill="none" stroke="#5a5a5a" stroke-width="1.1" stroke-opacity="0.85"/><ellipse cx="638.45" cy="186.35" rx="7.7" ry="6.8" fill="none" stroke="#5a5a5a" stroke-width="1.1" stroke-opacity="0.85"/><ellipse cx="656.61" cy="186.35" rx="7.7" ry="6.8" fill="none" stroke="#5a5a5a" stroke-width="1.1" stroke-opacity="0.85"/><ellipse cx="674.76" cy="186.35" rx="7.7" ry="6.8" fill="none" stroke="#5a5a5a" stroke-width="1.1" stroke-opacity="0.85"/><ellipse cx="692.91" cy="186.35" rx="7.7" ry="6.8" fill="none" stroke="#5a5a5a" stroke-width="1.1" stroke-opacity="0.85"/><ellipse cx="711.07" cy="186.35" rx="7.7" ry="6.8" fill="none" stroke="#5a5a5a" stroke-width="1.1" stroke-opacity="0.85"/><ellipse cx="729.23" cy="186.35" rx="7.7" ry="6.8" fill="none" stroke="#5a5a5a" stroke-width="1.1" stroke-opacity="0.85"/><ellipse cx="747.38" cy="186.35" rx="7.7" ry="6.8" fill="none" stroke="#5a5a5a" stroke-width="1.1" stroke-opacity="0.85"/><ellipse cx="93.8" cy="202.88" rx="7.7" ry="6.8" fill="none" stroke="#5a5a5a" stroke-width="1.1" stroke-opacity="0.85"/><ellipse cx="111.95" cy="202.88" rx="7.7" ry="6.8" fill="none" stroke="#5a5a5a" stroke-width="1.1" stroke-opacity="0.85"/><ellipse cx="130.11" cy="202.88" rx="7.7" ry="6.8" fill="none" stroke="#5a5a5a" stroke-width="1.1" stroke-opacity="0.85"/><ellipse cx="148.26" cy="202.88" rx="7.7" ry="6.8" fill="none" stroke="#5a5a5a" stroke-width="1.1" stroke-opacity="0.85"/><ellipse cx="166.42" cy="202.88" rx="7.7" ry="6.8" fill="none" stroke="#5a5a5a" stroke-width="1.1" stroke-opacity="0.85"/><ellipse cx="184.57" cy="202.88" rx="7.7" ry="6.8" fill="none" stroke="#5a5a5a" stroke-width="1.1" stroke-opacity="0.85"/><ellipse cx="202.73" cy="202.88" rx="7.7" ry="6.8" fill="none" stroke="#5a5a5a" stroke-width="1.1" stroke-opacity="0.85"/><ellipse cx="220.88" cy="202.88" rx="7.7" ry="6.8" fill="none" stroke="#5a5a5a" stroke-width="1.1" stroke-opacity="0.85"/><ellipse cx="239.04" cy="202.88" rx="7.7" ry="6.8" fill="none" stroke="#5a5a5a" stroke-width="1.1" stroke-opacity="0.85"/><ellipse cx="257.19" cy="202.88" rx="7.7" ry="6.8" fill="none" stroke="#5a5a5a" stroke-width="1.1" stroke-opacity="0.85"/><ellipse cx="275.35" cy="202.88" rx="7.7" ry="6.8" fill="none" stroke="#5a5a5a" stroke-width="1.1" stroke-opacity="0.85"/><ellipse cx="293.5" cy="202.88" rx="7.7" ry="6.8" fill="none" stroke="#5a5a5a" stroke-width="1.1" stroke-opacity="0.85"/><ellipse cx="311.66" cy="202.88" rx="7.7" ry="6.8" fill="none" stroke="#5a5a5a" stroke-width="1.1" stroke-opacity="0.85"/><ellipse cx="329.81" cy="202.88" rx="7.7" ry="6.8" fill="none" stroke="#5a5a5a" stroke-width="1.1" stroke-opacity="0.85"/><ellipse cx="347.97" cy="202.88" rx="7.7" ry="6.8" fill="none" stroke="#5a5a5a" stroke-width="1.1" stroke-opacity="0.85"/><ellipse cx="366.13" cy="202.88" rx="7.7" ry="6.8" fill="none" stroke="#5a5a5a" stroke-width="1.1" stroke-opacity="0.85"/><ellipse cx="384.28" cy="202.88" rx="7.7" ry="6.8" fill="none" stroke="#5a5a5a" stroke-width="1.1" stroke-opacity="0.85"/><ellipse cx="402.44" cy="202.88" rx="7.7" ry="6.8" fill="none" stroke="#5a5a5a" stroke-width="1.1" stroke-opacity="0.85"/><ellipse cx="420.59" cy="202.88" rx="7.7" ry="6.8" fill="none" stroke="#5a5a5a" stroke-width="1.1" stroke-opacity="0.85"/><ellipse cx="438.75" cy="202.88" rx="7.7" ry="6.8" fill="none" stroke="#5a5a5a" stroke-width="1.1" stroke-opacity="0.85"/><ellipse cx="456.9" cy="202.88" rx="7.7" ry="6.8" fill="none" stroke="#5a5a5a" stroke-width="1.1" stroke-opacity="0.85"/><ellipse cx="475.06" cy="202.88" rx="7.7" ry="6.8" fill="none" stroke="#5a5a5a" stroke-width="1.1" stroke-opacity="0.85"/><ellipse cx="493.21" cy="202.88" rx="7.7" ry="6.8" fill="none" stroke="#5a5a5a" stroke-width="1.1" stroke-opacity="0.85"/><ellipse cx="511.37" cy="202.88" rx="7.7" ry="6.8" fill="none" stroke="#5a5a5a" stroke-width="1.1" stroke-opacity="0.85"/><ellipse cx="529.52" cy="202.88" rx="7.7" ry="6.8" fill="none" stroke="#5a5a5a" stroke-width="1.1" stroke-opacity="0.85"/><ellipse cx="547.67" cy="202.88" rx="7.7" ry="6.8" fill="none" stroke="#5a5a5a" stroke-width="1.1" stroke-opacity="0.85"/><ellipse cx="565.83" cy="202.88" rx="7.7" ry="6.8" fill="none" stroke="#5a5a5a" stroke-width="1.1" stroke-opacity="0.85"/><ellipse cx="583.99" cy="202.88" rx="7.7" ry="6.8" fill="none" stroke="#5a5a5a" stroke-width="1.1" stroke-opacity="0.85"/><ellipse cx="602.14" cy="202.88" rx="7.7" ry="6.8" fill="none" stroke="#5a5a5a" stroke-width="1.1" stroke-opacity="0.85"/><ellipse cx="620.29" cy="202.88" rx="7.7" ry="6.8" fill="none" stroke="#5a5a5a" stroke-width="1.1" stroke-opacity="0.85"/><ellipse cx="638.45" cy="202.88" rx="7.7" ry="6.8" fill="none" stroke="#5a5a5a" stroke-width="1.1" stroke-opacity="0.85"/><ellipse cx="656.61" cy="202.88" rx="7.7" ry="6.8" fill="none" stroke="#5a5a5a" stroke-width="1.1" stroke-opacity="0.85"/><ellipse cx="674.76" cy="202.88" rx="7.7" ry="6.8" fill="none" stroke="#5a5a5a" stroke-width="1.1" stroke-opacity="0.85"/><ellipse cx="692.91" cy="202.88" rx="7.7" ry="6.8" fill="none" stroke="#5a5a5a" stroke-width="1.1" stroke-opacity="0.85"/><ellipse cx="711.07" cy="202.88" rx="7.7" ry="6.8" fill="none" stroke="#5a5a5a" stroke-width="1.1" stroke-opacity="0.85"/><ellipse cx="729.23" cy="202.88" rx="7.7" ry="6.8" fill="none" stroke="#5a5a5a" stroke-width="1.1" stroke-opacity="0.85"/><ellipse cx="747.38" cy="202.88" rx="7.7" ry="6.8" fill="none" stroke="#5a5a5a" stroke-width="1.1" stroke-opacity="0.85"/><ellipse cx="93.8" cy="219.41" rx="7.7" ry="6.8" fill="none" stroke="#5a5a5a" stroke-width="1.1" stroke-opacity="0.85"/><ellipse cx="111.95" cy="219.41" rx="7.7" ry="6.8" fill="none" stroke="#5a5a5a" stroke-width="1.1" stroke-opacity="0.85"/><ellipse cx="130.11" cy="219.41" rx="7.7" ry="6.8" fill="none" stroke="#5a5a5a" stroke-width="1.1" stroke-opacity="0.85"/><ellipse cx="148.26" cy="219.41" rx="7.7" ry="6.8" fill="none" stroke="#5a5a5a" stroke-width="1.1" stroke-opacity="0.85"/><ellipse cx="166.42" cy="219.41" rx="7.7" ry="6.8" fill="none" stroke="#5a5a5a" stroke-width="1.1" stroke-opacity="0.85"/><ellipse cx="184.57" cy="219.41" rx="7.7" ry="6.8" fill="none" stroke="#5a5a5a" stroke-width="1.1" stroke-opacity="0.85"/><ellipse cx="202.73" cy="219.41" rx="7.7" ry="6.8" fill="none" stroke="#5a5a5a" stroke-width="1.1" stroke-opacity="0.85"/><ellipse cx="220.88" cy="219.41" rx="7.7" ry="6.8" fill="none" stroke="#5a5a5a" stroke-width="1.1" stroke-opacity="0.85"/><ellipse cx="239.04" cy="219.41" rx="7.7" ry="6.8" fill="none" stroke="#5a5a5a" stroke-width="1.1" stroke-opacity="0.85"/><ellipse cx="257.19" cy="219.41" rx="7.7" ry="6.8" fill="none" stroke="#5a5a5a" stroke-width="1.1" stroke-opacity="0.85"/><ellipse cx="275.35" cy="219.41" rx="7.7" ry="6.8" fill="none" stroke="#5a5a5a" stroke-width="1.1" stroke-opacity="0.85"/><ellipse cx="293.5" cy="219.41" rx="7.7" ry="6.8" fill="none" stroke="#5a5a5a" stroke-width="1.1" stroke-opacity="0.85"/><ellipse cx="311.66" cy="219.41" rx="7.7" ry="6.8" fill="none" stroke="#5a5a5a" stroke-width="1.1" stroke-opacity="0.85"/><ellipse cx="329.81" cy="219.41" rx="7.7" ry="6.8" fill="none" stroke="#5a5a5a" stroke-width="1.1" stroke-opacity="0.85"/><ellipse cx="347.97" cy="219.41" rx="7.7" ry="6.8" fill="none" stroke="#5a5a5a" stroke-width="1.1" stroke-opacity="0.85"/><ellipse cx="366.13" cy="219.41" rx="7.7" ry="6.8" fill="none" stroke="#5a5a5a" stroke-width="1.1" stroke-opacity="0.85"/><ellipse cx="384.28" cy="219.41" rx="7.7" ry="6.8" fill="none" stroke="#5a5a5a" stroke-width="1.1" stroke-opacity="0.85"/><ellipse cx="402.44" cy="219.41" rx="7.7" ry="6.8" fill="none" stroke="#5a5a5a" stroke-width="1.1" stroke-opacity="0.85"/><ellipse cx="420.59" cy="219.41" rx="7.7" ry="6.8" fill="none" stroke="#5a5a5a" stroke-width="1.1" stroke-opacity="0.85"/><ellipse cx="438.75" cy="219.41" rx="7.7" ry="6.8" fill="none" stroke="#5a5a5a" stroke-width="1.1" stroke-opacity="0.85"/><ellipse cx="456.9" cy="219.41" rx="7.7" ry="6.8" fill="none" stroke="#5a5a5a" stroke-width="1.1" stroke-opacity="0.85"/><ellipse cx="475.06" cy="219.41" rx="7.7" ry="6.8" fill="none" stroke="#5a5a5a" stroke-width="1.1" stroke-opacity="0.85"/><ellipse cx="493.21" cy="219.41" rx="7.7" ry="6.8" fill="none" stroke="#5a5a5a" stroke-width="1.1" stroke-opacity="0.85"/><ellipse cx="511.37" cy="219.41" rx="7.7" ry="6.8" fill="none" stroke="#5a5a5a" stroke-width="1.1" stroke-opacity="0.85"/><ellipse cx="529.52" cy="219.41" rx="7.7" ry="6.8" fill="none" stroke="#5a5a5a" stroke-width="1.1" stroke-opacity="0.85"/><ellipse cx="547.67" cy="219.41" rx="7.7" ry="6.8" fill="none" stroke="#5a5a5a" stroke-width="1.1" stroke-opacity="0.85"/><ellipse cx="148.26" cy="235.94" rx="7.7" ry="6.8" fill="none" stroke="#5a5a5a" stroke-width="1.1" stroke-opacity="0.85"/><ellipse cx="166.42" cy="235.94" rx="7.7" ry="6.8" fill="none" stroke="#5a5a5a" stroke-width="1.1" stroke-opacity="0.85"/><ellipse cx="184.57" cy="235.94" rx="7.7" ry="6.8" fill="none" stroke="#5a5a5a" stroke-width="1.1" stroke-opacity="0.85"/><ellipse cx="202.73" cy="235.94" rx="7.7" ry="6.8" fill="none" stroke="#5a5a5a" stroke-width="1.1" stroke-opacity="0.85"/><ellipse cx="220.88" cy="235.94" rx="7.7" ry="6.8" fill="none" stroke="#5a5a5a" stroke-width="1.1" stroke-opacity="0.85"/><ellipse cx="239.04" cy="235.94" rx="7.7" ry="6.8" fill="none" stroke="#5a5a5a" stroke-width="1.1" stroke-opacity="0.85"/><ellipse cx="257.19" cy="235.94" rx="7.7" ry="6.8" fill="none" stroke="#5a5a5a" stroke-width="1.1" stroke-opacity="0.85"/><ellipse cx="275.35" cy="235.94" rx="7.7" ry="6.8" fill="none" stroke="#5a5a5a" stroke-width="1.1" stroke-opacity="0.85"/><ellipse cx="293.5" cy="235.94" rx="7.7" ry="6.8" fill="none" stroke="#5a5a5a" stroke-width="1.1" stroke-opacity="0.85"/><ellipse cx="311.66" cy="235.94" rx="7.7" ry="6.8" fill="none" stroke="#5a5a5a" stroke-width="1.1" stroke-opacity="0.85"/><ellipse cx="329.81" cy="235.94" rx="7.7" ry="6.8" fill="none" stroke="#5a5a5a" stroke-width="1.1" stroke-opacity="0.85"/><ellipse cx="347.97" cy="235.94" rx="7.7" ry="6.8" fill="none" stroke="#5a5a5a" stroke-width="1.1" stroke-opacity="0.85"/><ellipse cx="366.13" cy="235.94" rx="7.7" ry="6.8" fill="none" stroke="#5a5a5a" stroke-width="1.1" stroke-opacity="0.85"/><ellipse cx="384.28" cy="235.94" rx="7.7" ry="6.8" fill="none" stroke="#5a5a5a" stroke-width="1.1" stroke-opacity="0.85"/><ellipse cx="402.44" cy="235.94" rx="7.7" ry="6.8" fill="none" stroke="#5a5a5a" stroke-width="1.1" stroke-opacity="0.85"/><ellipse cx="420.59" cy="235.94" rx="7.7" ry="6.8" fill="none" stroke="#5a5a5a" stroke-width="1.1" stroke-opacity="0.85"/><ellipse cx="438.75" cy="235.94" rx="7.7" ry="6.8" fill="none" stroke="#5a5a5a" stroke-width="1.1" stroke-opacity="0.85"/><ellipse cx="456.9" cy="235.94" rx="7.7" ry="6.8" fill="none" stroke="#5a5a5a" stroke-width="1.1" stroke-opacity="0.85"/><ellipse cx="475.06" cy="235.94" rx="7.7" ry="6.8" fill="none" stroke="#5a5a5a" stroke-width="1.1" stroke-opacity="0.85"/><ellipse cx="493.21" cy="235.94" rx="7.7" ry="6.8" fill="none" stroke="#5a5a5a" stroke-width="1.1" stroke-opacity="0.85"/><ellipse cx="511.37" cy="235.94" rx="7.7" ry="6.8" fill="none" stroke="#5a5a5a" stroke-width="1.1" stroke-opacity="0.85"/><ellipse cx="529.52" cy="235.94" rx="7.7" ry="6.8" fill="none" stroke="#5a5a5a" stroke-width="1.1" stroke-opacity="0.85"/><ellipse cx="547.67" cy="235.94" rx="7.7" ry="6.8" fill="none" stroke="#5a5a5a" stroke-width="1.1" stroke-opacity="0.85"/><ellipse cx="565.83" cy="235.94" rx="7.7" ry="6.8" fill="none" stroke="#5a5a5a" stroke-width="1.1" stroke-opacity="0.85"/><ellipse cx="583.99" cy="235.94" rx="7.7" ry="6.8" fill="none" stroke="#5a5a5a" stroke-width="1.1" stroke-opacity="0.85"/><ellipse cx="602.14" cy="235.94" rx="7.7" ry="6.8" fill="none" stroke="#5a5a5a" stroke-width="1.1" stroke-opacity="0.85"/><ellipse cx="620.29" cy="235.94" rx="7.7" ry="6.8" fill="none" stroke="#5a5a5a" stroke-width="1.1" stroke-opacity="0.85"/><ellipse cx="638.45" cy="235.94" rx="7.7" ry="6.8" fill="none" stroke="#5a5a5a" stroke-width="1.1" stroke-opacity="0.85"/><ellipse cx="656.61" cy="235.94" rx="7.7" ry="6.8" fill="none" stroke="#5a5a5a" stroke-width="1.1" stroke-opacity="0.85"/><ellipse cx="674.76" cy="235.94" rx="7.7" ry="6.8" fill="none" stroke="#5a5a5a" stroke-width="1.1" stroke-opacity="0.85"/><ellipse cx="692.91" cy="235.94" rx="7.7" ry="6.8" fill="none" stroke="#5a5a5a" stroke-width="1.1" stroke-opacity="0.85"/><ellipse cx="711.07" cy="235.94" rx="7.7" ry="6.8" fill="none" stroke="#5a5a5a" stroke-width="1.1" stroke-opacity="0.85"/><ellipse cx="729.23" cy="235.94" rx="7.7" ry="6.8" fill="none" stroke="#5a5a5a" stroke-width="1.1" stroke-opacity="0.85"/><ellipse cx="747.38" cy="235.94" rx="7.7" ry="6.8" fill="none" stroke="#5a5a5a" stroke-width="1.1" stroke-opacity="0.85"/><ellipse cx="93.8" cy="252.47" rx="7.7" ry="6.8" fill="none" stroke="#5a5a5a" stroke-width="1.1" stroke-opacity="0.85"/><ellipse cx="111.95" cy="252.47" rx="7.7" ry="6.8" fill="none" stroke="#5a5a5a" stroke-width="1.1" stroke-opacity="0.85"/><ellipse cx="130.11" cy="252.47" rx="7.7" ry="6.8" fill="none" stroke="#5a5a5a" stroke-width="1.1" stroke-opacity="0.85"/><ellipse cx="148.26" cy="252.47" rx="7.7" ry="6.8" fill="none" stroke="#5a5a5a" stroke-width="1.1" stroke-opacity="0.85"/><ellipse cx="166.42" cy="252.47" rx="7.7" ry="6.8" fill="none" stroke="#5a5a5a" stroke-width="1.1" stroke-opacity="0.85"/><ellipse cx="184.57" cy="252.47" rx="7.7" ry="6.8" fill="none" stroke="#5a5a5a" stroke-width="1.1" stroke-opacity="0.85"/><ellipse cx="202.73" cy="252.47" rx="7.7" ry="6.8" fill="none" stroke="#5a5a5a" stroke-width="1.1" stroke-opacity="0.85"/><ellipse cx="220.88" cy="252.47" rx="7.7" ry="6.8" fill="none" stroke="#5a5a5a" stroke-width="1.1" stroke-opacity="0.85"/><ellipse cx="239.04" cy="252.47" rx="7.7" ry="6.8" fill="none" stroke="#5a5a5a" stroke-width="1.1" stroke-opacity="0.85"/><ellipse cx="257.19" cy="252.47" rx="7.7" ry="6.8" fill="none" stroke="#5a5a5a" stroke-width="1.1" stroke-opacity="0.85"/><ellipse cx="275.35" cy="252.47" rx="7.7" ry="6.8" fill="none" stroke="#5a5a5a" stroke-width="1.1" stroke-opacity="0.85"/><ellipse cx="293.5" cy="252.47" rx="7.7" ry="6.8" fill="none" stroke="#5a5a5a" stroke-width="1.1" stroke-opacity="0.85"/><ellipse cx="311.66" cy="252.47" rx="7.7" ry="6.8" fill="none" stroke="#5a5a5a" stroke-width="1.1" stroke-opacity="0.85"/><ellipse cx="329.81" cy="252.47" rx="7.7" ry="6.8" fill="none" stroke="#5a5a5a" stroke-width="1.1" stroke-opacity="0.85"/><ellipse cx="347.97" cy="252.47" rx="7.7" ry="6.8" fill="none" stroke="#5a5a5a" stroke-width="1.1" stroke-opacity="0.85"/><ellipse cx="366.13" cy="252.47" rx="7.7" ry="6.8" fill="none" stroke="#5a5a5a" stroke-width="1.1" stroke-opacity="0.85"/><ellipse cx="384.28" cy="252.47" rx="7.7" ry="6.8" fill="none" stroke="#5a5a5a" stroke-width="1.1" stroke-opacity="0.85"/><ellipse cx="402.44" cy="252.47" rx="7.7" ry="6.8" fill="none" stroke="#5a5a5a" stroke-width="1.1" stroke-opacity="0.85"/><ellipse cx="420.59" cy="252.47" rx="7.7" ry="6.8" fill="none" stroke="#5a5a5a" stroke-width="1.1" stroke-opacity="0.85"/><ellipse cx="438.75" cy="252.47" rx="7.7" ry="6.8" fill="none" stroke="#5a5a5a" stroke-width="1.1" stroke-opacity="0.85"/><ellipse cx="456.9" cy="252.47" rx="7.7" ry="6.8" fill="none" stroke="#5a5a5a" stroke-width="1.1" stroke-opacity="0.85"/><ellipse cx="475.06" cy="252.47" rx="7.7" ry="6.8" fill="none" stroke="#5a5a5a" stroke-width="1.1" stroke-opacity="0.85"/><ellipse cx="493.21" cy="252.47" rx="7.7" ry="6.8" fill="none" stroke="#5a5a5a" stroke-width="1.1" stroke-opacity="0.85"/><ellipse cx="511.37" cy="252.47" rx="7.7" ry="6.8" fill="none" stroke="#5a5a5a" stroke-width="1.1" stroke-opacity="0.85"/><ellipse cx="529.52" cy="252.47" rx="7.7" ry="6.8" fill="none" stroke="#5a5a5a" stroke-width="1.1" stroke-opacity="0.85"/><ellipse cx="547.67" cy="252.47" rx="7.7" ry="6.8" fill="none" stroke="#5a5a5a" stroke-width="1.1" stroke-opacity="0.85"/><ellipse cx="565.83" cy="252.47" rx="7.7" ry="6.8" fill="none" stroke="#5a5a5a" stroke-width="1.1" stroke-opacity="0.85"/><ellipse cx="583.99" cy="252.47" rx="7.7" ry="6.8" fill="none" stroke="#5a5a5a" stroke-width="1.1" stroke-opacity="0.85"/><ellipse cx="602.14" cy="252.47" rx="7.7" ry="6.8" fill="none" stroke="#5a5a5a" stroke-width="1.1" stroke-opacity="0.85"/><ellipse cx="620.29" cy="252.47" rx="7.7" ry="6.8" fill="none" stroke="#5a5a5a" stroke-width="1.1" stroke-opacity="0.85"/><ellipse cx="638.45" cy="252.47" rx="7.7" ry="6.8" fill="none" stroke="#5a5a5a" stroke-width="1.1" stroke-opacity="0.85"/><ellipse cx="656.61" cy="252.47" rx="7.7" ry="6.8" fill="none" stroke="#5a5a5a" stroke-width="1.1" stroke-opacity="0.85"/><ellipse cx="674.76" cy="252.47" rx="7.7" ry="6.8" fill="none" stroke="#5a5a5a" stroke-width="1.1" stroke-opacity="0.85"/><ellipse cx="692.91" cy="252.47" rx="7.7" ry="6.8" fill="none" stroke="#5a5a5a" stroke-width="1.1" stroke-opacity="0.85"/><ellipse cx="711.07" cy="252.47" rx="7.7" ry="6.8" fill="none" stroke="#5a5a5a" stroke-width="1.1" stroke-opacity="0.85"/><ellipse cx="729.23" cy="252.47" rx="7.7" ry="6.8" fill="none" stroke="#5a5a5a" stroke-width="1.1" stroke-opacity="0.85"/><ellipse cx="747.38" cy="252.47" rx="7.7" ry="6.8" fill="none" stroke="#5a5a5a" stroke-width="1.1" stroke-opacity="0.85"/><ellipse cx="93.8" cy="269" rx="7.7" ry="6.8" fill="none" stroke="#5a5a5a" stroke-width="1.1" stroke-opacity="0.85"/><ellipse cx="111.95" cy="269" rx="7.7" ry="6.8" fill="none" stroke="#5a5a5a" stroke-width="1.1" stroke-opacity="0.85"/><ellipse cx="130.11" cy="269" rx="7.7" ry="6.8" fill="none" stroke="#5a5a5a" stroke-width="1.1" stroke-opacity="0.85"/><ellipse cx="148.26" cy="269" rx="7.7" ry="6.8" fill="none" stroke="#5a5a5a" stroke-width="1.1" stroke-opacity="0.85"/><ellipse cx="166.42" cy="269" rx="7.7" ry="6.8" fill="none" stroke="#5a5a5a" stroke-width="1.1" stroke-opacity="0.85"/><ellipse cx="184.57" cy="269" rx="7.7" ry="6.8" fill="none" stroke="#5a5a5a" stroke-width="1.1" stroke-opacity="0.85"/><ellipse cx="202.73" cy="269" rx="7.7" ry="6.8" fill="none" stroke="#5a5a5a" stroke-width="1.1" stroke-opacity="0.85"/><ellipse cx="220.88" cy="269" rx="7.7" ry="6.8" fill="none" stroke="#5a5a5a" stroke-width="1.1" stroke-opacity="0.85"/><ellipse cx="239.04" cy="269" rx="7.7" ry="6.8" fill="none" stroke="#5a5a5a" stroke-width="1.1" stroke-opacity="0.85"/><ellipse cx="257.19" cy="269" rx="7.7" ry="6.8" fill="none" stroke="#5a5a5a" stroke-width="1.1" stroke-opacity="0.85"/><ellipse cx="275.35" cy="269" rx="7.7" ry="6.8" fill="none" stroke="#5a5a5a" stroke-width="1.1" stroke-opacity="0.85"/><ellipse cx="293.5" cy="269" rx="7.7" ry="6.8" fill="none" stroke="#5a5a5a" stroke-width="1.1" stroke-opacity="0.85"/><ellipse cx="311.66" cy="269" rx="7.7" ry="6.8" fill="none" stroke="#5a5a5a" stroke-width="1.1" stroke-opacity="0.85"/><ellipse cx="329.81" cy="269" rx="7.7" ry="6.8" fill="none" stroke="#5a5a5a" stroke-width="1.1" stroke-opacity="0.85"/><ellipse cx="347.97" cy="269" rx="7.7" ry="6.8" fill="none" stroke="#5a5a5a" stroke-width="1.1" stroke-opacity="0.85"/><ellipse cx="366.13" cy="269" rx="7.7" ry="6.8" fill="none" stroke="#5a5a5a" stroke-width="1.1" stroke-opacity="0.85"/><ellipse cx="384.28" cy="269" rx="7.7" ry="6.8" fill="none" stroke="#5a5a5a" stroke-width="1.1" stroke-opacity="0.85"/><ellipse cx="402.44" cy="269" rx="7.7" ry="6.8" fill="none" stroke="#5a5a5a" stroke-width="1.1" stroke-opacity="0.85"/><ellipse cx="420.59" cy="269" rx="7.7" ry="6.8" fill="none" stroke="#5a5a5a" stroke-width="1.1" stroke-opacity="0.85"/><ellipse cx="438.75" cy="269" rx="7.7" ry="6.8" fill="none" stroke="#5a5a5a" stroke-width="1.1" stroke-opacity="0.85"/><ellipse cx="456.9" cy="269" rx="7.7" ry="6.8" fill="none" stroke="#5a5a5a" stroke-width="1.1" stroke-opacity="0.85"/><ellipse cx="475.06" cy="269" rx="7.7" ry="6.8" fill="none" stroke="#5a5a5a" stroke-width="1.1" stroke-opacity="0.85"/><ellipse cx="493.21" cy="269" rx="7.7" ry="6.8" fill="none" stroke="#5a5a5a" stroke-width="1.1" stroke-opacity="0.85"/><ellipse cx="511.37" cy="269" rx="7.7" ry="6.8" fill="none" stroke="#5a5a5a" stroke-width="1.1" stroke-opacity="0.85"/><ellipse cx="529.52" cy="269" rx="7.7" ry="6.8" fill="none" stroke="#5a5a5a" stroke-width="1.1" stroke-opacity="0.85"/><ellipse cx="547.67" cy="269" rx="7.7" ry="6.8" fill="none" stroke="#5a5a5a" stroke-width="1.1" stroke-opacity="0.85"/><ellipse cx="148.26" cy="285.53" rx="7.7" ry="6.8" fill="none" stroke="#5a5a5a" stroke-width="1.1" stroke-opacity="0.85"/><ellipse cx="166.42" cy="285.53" rx="7.7" ry="6.8" fill="none" stroke="#5a5a5a" stroke-width="1.1" stroke-opacity="0.85"/><ellipse cx="184.57" cy="285.53" rx="7.7" ry="6.8" fill="none" stroke="#5a5a5a" stroke-width="1.1" stroke-opacity="0.85"/><ellipse cx="202.73" cy="285.53" rx="7.7" ry="6.8" fill="none" stroke="#5a5a5a" stroke-width="1.1" stroke-opacity="0.85"/><ellipse cx="220.88" cy="285.53" rx="7.7" ry="6.8" fill="none" stroke="#5a5a5a" stroke-width="1.1" stroke-opacity="0.85"/><ellipse cx="239.04" cy="285.53" rx="7.7" ry="6.8" fill="none" stroke="#5a5a5a" stroke-width="1.1" stroke-opacity="0.85"/><ellipse cx="257.19" cy="285.53" rx="7.7" ry="6.8" fill="none" stroke="#5a5a5a" stroke-width="1.1" stroke-opacity="0.85"/><ellipse cx="275.35" cy="285.53" rx="7.7" ry="6.8" fill="none" stroke="#5a5a5a" stroke-width="1.1" stroke-opacity="0.85"/><ellipse cx="293.5" cy="285.53" rx="7.7" ry="6.8" fill="none" stroke="#5a5a5a" stroke-width="1.1" stroke-opacity="0.85"/><ellipse cx="311.66" cy="285.53" rx="7.7" ry="6.8" fill="none" stroke="#5a5a5a" stroke-width="1.1" stroke-opacity="0.85"/><ellipse cx="329.81" cy="285.53" rx="7.7" ry="6.8" fill="none" stroke="#5a5a5a" stroke-width="1.1" stroke-opacity="0.85"/><ellipse cx="347.97" cy="285.53" rx="7.7" ry="6.8" fill="none" stroke="#5a5a5a" stroke-width="1.1" stroke-opacity="0.85"/><ellipse cx="366.13" cy="285.53" rx="7.7" ry="6.8" fill="none" stroke="#5a5a5a" stroke-width="1.1" stroke-opacity="0.85"/><ellipse cx="384.28" cy="285.53" rx="7.7" ry="6.8" fill="none" stroke="#5a5a5a" stroke-width="1.1" stroke-opacity="0.85"/><ellipse cx="402.44" cy="285.53" rx="7.7" ry="6.8" fill="none" stroke="#5a5a5a" stroke-width="1.1" stroke-opacity="0.85"/><ellipse cx="420.59" cy="285.53" rx="7.7" ry="6.8" fill="none" stroke="#5a5a5a" stroke-width="1.1" stroke-opacity="0.85"/><ellipse cx="438.75" cy="285.53" rx="7.7" ry="6.8" fill="none" stroke="#5a5a5a" stroke-width="1.1" stroke-opacity="0.85"/><ellipse cx="456.9" cy="285.53" rx="7.7" ry="6.8" fill="none" stroke="#5a5a5a" stroke-width="1.1" stroke-opacity="0.85"/><ellipse cx="475.06" cy="285.53" rx="7.7" ry="6.8" fill="none" stroke="#5a5a5a" stroke-width="1.1" stroke-opacity="0.85"/><ellipse cx="493.21" cy="285.53" rx="7.7" ry="6.8" fill="none" stroke="#5a5a5a" stroke-width="1.1" stroke-opacity="0.85"/><ellipse cx="511.37" cy="285.53" rx="7.7" ry="6.8" fill="none" stroke="#5a5a5a" stroke-width="1.1" stroke-opacity="0.85"/><ellipse cx="529.52" cy="285.53" rx="7.7" ry="6.8" fill="none" stroke="#5a5a5a" stroke-width="1.1" stroke-opacity="0.85"/><ellipse cx="547.67" cy="285.53" rx="7.7" ry="6.8" fill="none" stroke="#5a5a5a" stroke-width="1.1" stroke-opacity="0.85"/><ellipse cx="565.83" cy="285.53" rx="7.7" ry="6.8" fill="none" stroke="#5a5a5a" stroke-width="1.1" stroke-opacity="0.85"/><ellipse cx="583.99" cy="285.53" rx="7.7" ry="6.8" fill="none" stroke="#5a5a5a" stroke-width="1.1" stroke-opacity="0.85"/><ellipse cx="602.14" cy="285.53" rx="7.7" ry="6.8" fill="none" stroke="#5a5a5a" stroke-width="1.1" stroke-opacity="0.85"/><ellipse cx="620.29" cy="285.53" rx="7.7" ry="6.8" fill="none" stroke="#5a5a5a" stroke-width="1.1" stroke-opacity="0.85"/><ellipse cx="638.45" cy="285.53" rx="7.7" ry="6.8" fill="none" stroke="#5a5a5a" stroke-width="1.1" stroke-opacity="0.85"/><ellipse cx="656.61" cy="285.53" rx="7.7" ry="6.8" fill="none" stroke="#5a5a5a" stroke-width="1.1" stroke-opacity="0.85"/><ellipse cx="674.76" cy="285.53" rx="7.7" ry="6.8" fill="none" stroke="#5a5a5a" stroke-width="1.1" stroke-opacity="0.85"/><ellipse cx="692.91" cy="285.53" rx="7.7" ry="6.8" fill="none" stroke="#5a5a5a" stroke-width="1.1" stroke-opacity="0.85"/><ellipse cx="711.07" cy="285.53" rx="7.7" ry="6.8" fill="none" stroke="#5a5a5a" stroke-width="1.1" stroke-opacity="0.85"/><ellipse cx="729.23" cy="285.53" rx="7.7" ry="6.8" fill="none" stroke="#5a5a5a" stroke-width="1.1" stroke-opacity="0.85"/><ellipse cx="747.38" cy="285.53" rx="7.7" ry="6.8" fill="none" stroke="#5a5a5a" stroke-width="1.1" stroke-opacity="0.85"/><ellipse cx="93.8" cy="302.06" rx="7.7" ry="6.8" fill="none" stroke="#5a5a5a" stroke-width="1.1" stroke-opacity="0.85"/><ellipse cx="111.95" cy="302.06" rx="7.7" ry="6.8" fill="none" stroke="#5a5a5a" stroke-width="1.1" stroke-opacity="0.85"/><ellipse cx="130.11" cy="302.06" rx="7.7" ry="6.8" fill="none" stroke="#5a5a5a" stroke-width="1.1" stroke-opacity="0.85"/><ellipse cx="148.26" cy="302.06" rx="7.7" ry="6.8" fill="none" stroke="#5a5a5a" stroke-width="1.1" stroke-opacity="0.85"/><ellipse cx="166.42" cy="302.06" rx="7.7" ry="6.8" fill="none" stroke="#5a5a5a" stroke-width="1.1" stroke-opacity="0.85"/><ellipse cx="184.57" cy="302.06" rx="7.7" ry="6.8" fill="none" stroke="#5a5a5a" stroke-width="1.1" stroke-opacity="0.85"/><ellipse cx="202.73" cy="302.06" rx="7.7" ry="6.8" fill="none" stroke="#5a5a5a" stroke-width="1.1" stroke-opacity="0.85"/><ellipse cx="220.88" cy="302.06" rx="7.7" ry="6.8" fill="none" stroke="#5a5a5a" stroke-width="1.1" stroke-opacity="0.85"/><ellipse cx="239.04" cy="302.06" rx="7.7" ry="6.8" fill="none" stroke="#5a5a5a" stroke-width="1.1" stroke-opacity="0.85"/><ellipse cx="257.19" cy="302.06" rx="7.7" ry="6.8" fill="none" stroke="#5a5a5a" stroke-width="1.1" stroke-opacity="0.85"/><ellipse cx="275.35" cy="302.06" rx="7.7" ry="6.8" fill="none" stroke="#5a5a5a" stroke-width="1.1" stroke-opacity="0.85"/><ellipse cx="293.5" cy="302.06" rx="7.7" ry="6.8" fill="none" stroke="#5a5a5a" stroke-width="1.1" stroke-opacity="0.85"/><ellipse cx="311.66" cy="302.06" rx="7.7" ry="6.8" fill="none" stroke="#5a5a5a" stroke-width="1.1" stroke-opacity="0.85"/><ellipse cx="329.81" cy="302.06" rx="7.7" ry="6.8" fill="none" stroke="#5a5a5a" stroke-width="1.1" stroke-opacity="0.85"/><ellipse cx="347.97" cy="302.06" rx="7.7" ry="6.8" fill="none" stroke="#5a5a5a" stroke-width="1.1" stroke-opacity="0.85"/><ellipse cx="366.13" cy="302.06" rx="7.7" ry="6.8" fill="none" stroke="#5a5a5a" stroke-width="1.1" stroke-opacity="0.85"/><ellipse cx="384.28" cy="302.06" rx="7.7" ry="6.8" fill="none" stroke="#5a5a5a" stroke-width="1.1" stroke-opacity="0.85"/><ellipse cx="402.44" cy="302.06" rx="7.7" ry="6.8" fill="none" stroke="#5a5a5a" stroke-width="1.1" stroke-opacity="0.85"/><ellipse cx="420.59" cy="302.06" rx="7.7" ry="6.8" fill="none" stroke="#5a5a5a" stroke-width="1.1" stroke-opacity="0.85"/><ellipse cx="438.75" cy="302.06" rx="7.7" ry="6.8" fill="none" stroke="#5a5a5a" stroke-width="1.1" stroke-opacity="0.85"/><ellipse cx="456.9" cy="302.06" rx="7.7" ry="6.8" fill="none" stroke="#5a5a5a" stroke-width="1.1" stroke-opacity="0.85"/><ellipse cx="475.06" cy="302.06" rx="7.7" ry="6.8" fill="none" stroke="#5a5a5a" stroke-width="1.1" stroke-opacity="0.85"/><ellipse cx="493.21" cy="302.06" rx="7.7" ry="6.8" fill="none" stroke="#5a5a5a" stroke-width="1.1" stroke-opacity="0.85"/><ellipse cx="511.37" cy="302.06" rx="7.7" ry="6.8" fill="none" stroke="#5a5a5a" stroke-width="1.1" stroke-opacity="0.85"/><ellipse cx="529.52" cy="302.06" rx="7.7" ry="6.8" fill="none" stroke="#5a5a5a" stroke-width="1.1" stroke-opacity="0.85"/><ellipse cx="547.67" cy="302.06" rx="7.7" ry="6.8" fill="none" stroke="#5a5a5a" stroke-width="1.1" stroke-opacity="0.85"/><ellipse cx="565.83" cy="302.06" rx="7.7" ry="6.8" fill="none" stroke="#5a5a5a" stroke-width="1.1" stroke-opacity="0.85"/><ellipse cx="583.99" cy="302.06" rx="7.7" ry="6.8" fill="none" stroke="#5a5a5a" stroke-width="1.1" stroke-opacity="0.85"/><ellipse cx="602.14" cy="302.06" rx="7.7" ry="6.8" fill="none" stroke="#5a5a5a" stroke-width="1.1" stroke-opacity="0.85"/><ellipse cx="620.29" cy="302.06" rx="7.7" ry="6.8" fill="none" stroke="#5a5a5a" stroke-width="1.1" stroke-opacity="0.85"/><ellipse cx="638.45" cy="302.06" rx="7.7" ry="6.8" fill="none" stroke="#5a5a5a" stroke-width="1.1" stroke-opacity="0.85"/><ellipse cx="656.61" cy="302.06" rx="7.7" ry="6.8" fill="none" stroke="#5a5a5a" stroke-width="1.1" stroke-opacity="0.85"/><ellipse cx="674.76" cy="302.06" rx="7.7" ry="6.8" fill="none" stroke="#5a5a5a" stroke-width="1.1" stroke-opacity="0.85"/><ellipse cx="692.91" cy="302.06" rx="7.7" ry="6.8" fill="none" stroke="#5a5a5a" stroke-width="1.1" stroke-opacity="0.85"/><ellipse cx="711.07" cy="302.06" rx="7.7" ry="6.8" fill="none" stroke="#5a5a5a" stroke-width="1.1" stroke-opacity="0.85"/><ellipse cx="729.23" cy="302.06" rx="7.7" ry="6.8" fill="none" stroke="#5a5a5a" stroke-width="1.1" stroke-opacity="0.85"/><ellipse cx="747.38" cy="302.06" rx="7.7" ry="6.8" fill="none" stroke="#5a5a5a" stroke-width="1.1" stroke-opacity="0.85"/><ellipse cx="93.8" cy="318.59" rx="7.7" ry="6.8" fill="none" stroke="#5a5a5a" stroke-width="1.1" stroke-opacity="0.85"/><ellipse cx="111.95" cy="318.59" rx="7.7" ry="6.8" fill="none" stroke="#5a5a5a" stroke-width="1.1" stroke-opacity="0.85"/><ellipse cx="130.11" cy="318.59" rx="7.7" ry="6.8" fill="none" stroke="#5a5a5a" stroke-width="1.1" stroke-opacity="0.85"/><ellipse cx="148.26" cy="318.59" rx="7.7" ry="6.8" fill="none" stroke="#5a5a5a" stroke-width="1.1" stroke-opacity="0.85"/><ellipse cx="166.42" cy="318.59" rx="7.7" ry="6.8" fill="none" stroke="#5a5a5a" stroke-width="1.1" stroke-opacity="0.85"/><ellipse cx="184.57" cy="318.59" rx="7.7" ry="6.8" fill="none" stroke="#5a5a5a" stroke-width="1.1" stroke-opacity="0.85"/><ellipse cx="202.73" cy="318.59" rx="7.7" ry="6.8" fill="none" stroke="#5a5a5a" stroke-width="1.1" stroke-opacity="0.85"/><ellipse cx="220.88" cy="318.59" rx="7.7" ry="6.8" fill="none" stroke="#5a5a5a" stroke-width="1.1" stroke-opacity="0.85"/><ellipse cx="239.04" cy="318.59" rx="7.7" ry="6.8" fill="none" stroke="#5a5a5a" stroke-width="1.1" stroke-opacity="0.85"/><ellipse cx="257.19" cy="318.59" rx="7.7" ry="6.8" fill="none" stroke="#5a5a5a" stroke-width="1.1" stroke-opacity="0.85"/><ellipse cx="275.35" cy="318.59" rx="7.7" ry="6.8" fill="none" stroke="#5a5a5a" stroke-width="1.1" stroke-opacity="0.85"/><ellipse cx="293.5" cy="318.59" rx="7.7" ry="6.8" fill="none" stroke="#5a5a5a" stroke-width="1.1" stroke-opacity="0.85"/><ellipse cx="311.66" cy="318.59" rx="7.7" ry="6.8" fill="none" stroke="#5a5a5a" stroke-width="1.1" stroke-opacity="0.85"/><ellipse cx="329.81" cy="318.59" rx="7.7" ry="6.8" fill="none" stroke="#5a5a5a" stroke-width="1.1" stroke-opacity="0.85"/><ellipse cx="347.97" cy="318.59" rx="7.7" ry="6.8" fill="none" stroke="#5a5a5a" stroke-width="1.1" stroke-opacity="0.85"/><ellipse cx="366.13" cy="318.59" rx="7.7" ry="6.8" fill="none" stroke="#5a5a5a" stroke-width="1.1" stroke-opacity="0.85"/><ellipse cx="384.28" cy="318.59" rx="7.7" ry="6.8" fill="none" stroke="#5a5a5a" stroke-width="1.1" stroke-opacity="0.85"/><ellipse cx="402.44" cy="318.59" rx="7.7" ry="6.8" fill="none" stroke="#5a5a5a" stroke-width="1.1" stroke-opacity="0.85"/><ellipse cx="420.59" cy="318.59" rx="7.7" ry="6.8" fill="none" stroke="#5a5a5a" stroke-width="1.1" stroke-opacity="0.85"/><ellipse cx="438.75" cy="318.59" rx="7.7" ry="6.8" fill="none" stroke="#5a5a5a" stroke-width="1.1" stroke-opacity="0.85"/><ellipse cx="456.9" cy="318.59" rx="7.7" ry="6.8" fill="none" stroke="#5a5a5a" stroke-width="1.1" stroke-opacity="0.85"/><ellipse cx="475.06" cy="318.59" rx="7.7" ry="6.8" fill="none" stroke="#5a5a5a" stroke-width="1.1" stroke-opacity="0.85"/><ellipse cx="493.21" cy="318.59" rx="7.7" ry="6.8" fill="none" stroke="#5a5a5a" stroke-width="1.1" stroke-opacity="0.85"/><ellipse cx="511.37" cy="318.59" rx="7.7" ry="6.8" fill="none" stroke="#5a5a5a" stroke-width="1.1" stroke-opacity="0.85"/><ellipse cx="529.52" cy="318.59" rx="7.7" ry="6.8" fill="none" stroke="#5a5a5a" stroke-width="1.1" stroke-opacity="0.85"/><ellipse cx="547.67" cy="318.59" rx="7.7" ry="6.8" fill="none" stroke="#5a5a5a" stroke-width="1.1" stroke-opacity="0.85"/><ellipse cx="565.83" cy="318.59" rx="7.7" ry="6.8" fill="none" stroke="#5a5a5a" stroke-width="1.1" stroke-opacity="0.85"/><ellipse cx="583.99" cy="318.59" rx="7.7" ry="6.8" fill="none" stroke="#5a5a5a" stroke-width="1.1" stroke-opacity="0.85"/><ellipse cx="602.14" cy="318.59" rx="7.7" ry="6.8" fill="none" stroke="#5a5a5a" stroke-width="1.1" stroke-opacity="0.85"/><ellipse cx="620.29" cy="318.59" rx="7.7" ry="6.8" fill="none" stroke="#5a5a5a" stroke-width="1.1" stroke-opacity="0.85"/><ellipse cx="638.45" cy="318.59" rx="7.7" ry="6.8" fill="none" stroke="#5a5a5a" stroke-width="1.1" stroke-opacity="0.85"/><ellipse cx="656.61" cy="318.59" rx="7.7" ry="6.8" fill="none" stroke="#5a5a5a" stroke-width="1.1" stroke-opacity="0.85"/><ellipse cx="674.76" cy="318.59" rx="7.7" ry="6.8" fill="none" stroke="#5a5a5a" stroke-width="1.1" stroke-opacity="0.85"/><ellipse cx="692.91" cy="318.59" rx="7.7" ry="6.8" fill="none" stroke="#5a5a5a" stroke-width="1.1" stroke-opacity="0.85"/><ellipse cx="711.07" cy="318.59" rx="7.7" ry="6.8" fill="none" stroke="#5a5a5a" stroke-width="1.1" stroke-opacity="0.85"/><ellipse cx="729.23" cy="318.59" rx="7.7" ry="6.8" fill="none" stroke="#5a5a5a" stroke-width="1.1" stroke-opacity="0.85"/><ellipse cx="747.38" cy="318.59" rx="7.7" ry="6.8" fill="none" stroke="#5a5a5a" stroke-width="1.1" stroke-opacity="0.85"/><ellipse cx="93.8" cy="335.12" rx="7.7" ry="6.8" fill="none" stroke="#5a5a5a" stroke-width="1.1" stroke-opacity="0.85"/><ellipse cx="111.95" cy="335.12" rx="7.7" ry="6.8" fill="none" stroke="#5a5a5a" stroke-width="1.1" stroke-opacity="0.85"/><ellipse cx="130.11" cy="335.12" rx="7.7" ry="6.8" fill="none" stroke="#5a5a5a" stroke-width="1.1" stroke-opacity="0.85"/><ellipse cx="148.26" cy="335.12" rx="7.7" ry="6.8" fill="none" stroke="#5a5a5a" stroke-width="1.1" stroke-opacity="0.85"/><ellipse cx="166.42" cy="335.12" rx="7.7" ry="6.8" fill="none" stroke="#5a5a5a" stroke-width="1.1" stroke-opacity="0.85"/><ellipse cx="184.57" cy="335.12" rx="7.7" ry="6.8" fill="none" stroke="#5a5a5a" stroke-width="1.1" stroke-opacity="0.85"/><ellipse cx="202.73" cy="335.12" rx="7.7" ry="6.8" fill="none" stroke="#5a5a5a" stroke-width="1.1" stroke-opacity="0.85"/><ellipse cx="220.88" cy="335.12" rx="7.7" ry="6.8" fill="none" stroke="#5a5a5a" stroke-width="1.1" stroke-opacity="0.85"/><ellipse cx="239.04" cy="335.12" rx="7.7" ry="6.8" fill="none" stroke="#5a5a5a" stroke-width="1.1" stroke-opacity="0.85"/><ellipse cx="257.19" cy="335.12" rx="7.7" ry="6.8" fill="none" stroke="#5a5a5a" stroke-width="1.1" stroke-opacity="0.85"/><ellipse cx="275.35" cy="335.12" rx="7.7" ry="6.8" fill="none" stroke="#5a5a5a" stroke-width="1.1" stroke-opacity="0.85"/><ellipse cx="293.5" cy="335.12" rx="7.7" ry="6.8" fill="none" stroke="#5a5a5a" stroke-width="1.1" stroke-opacity="0.85"/><ellipse cx="311.66" cy="335.12" rx="7.7" ry="6.8" fill="none" stroke="#5a5a5a" stroke-width="1.1" stroke-opacity="0.85"/><ellipse cx="329.81" cy="335.12" rx="7.7" ry="6.8" fill="none" stroke="#5a5a5a" stroke-width="1.1" stroke-opacity="0.85"/><ellipse cx="347.97" cy="335.12" rx="7.7" ry="6.8" fill="none" stroke="#5a5a5a" stroke-width="1.1" stroke-opacity="0.85"/><ellipse cx="366.13" cy="335.12" rx="7.7" ry="6.8" fill="none" stroke="#5a5a5a" stroke-width="1.1" stroke-opacity="0.85"/><ellipse cx="384.28" cy="335.12" rx="7.7" ry="6.8" fill="none" stroke="#5a5a5a" stroke-width="1.1" stroke-opacity="0.85"/><ellipse cx="402.44" cy="335.12" rx="7.7" ry="6.8" fill="none" stroke="#5a5a5a" stroke-width="1.1" stroke-opacity="0.85"/><ellipse cx="420.59" cy="335.12" rx="7.7" ry="6.8" fill="none" stroke="#5a5a5a" stroke-width="1.1" stroke-opacity="0.85"/><ellipse cx="438.75" cy="335.12" rx="7.7" ry="6.8" fill="none" stroke="#5a5a5a" stroke-width="1.1" stroke-opacity="0.85"/><ellipse cx="456.9" cy="335.12" rx="7.7" ry="6.8" fill="none" stroke="#5a5a5a" stroke-width="1.1" stroke-opacity="0.85"/><ellipse cx="475.06" cy="335.12" rx="7.7" ry="6.8" fill="none" stroke="#5a5a5a" stroke-width="1.1" stroke-opacity="0.85"/><ellipse cx="493.21" cy="335.12" rx="7.7" ry="6.8" fill="none" stroke="#5a5a5a" stroke-width="1.1" stroke-opacity="0.85"/><ellipse cx="511.37" cy="335.12" rx="7.7" ry="6.8" fill="none" stroke="#5a5a5a" stroke-width="1.1" stroke-opacity="0.85"/><ellipse cx="529.52" cy="335.12" rx="7.7" ry="6.8" fill="none" stroke="#5a5a5a" stroke-width="1.1" stroke-opacity="0.85"/><ellipse cx="547.67" cy="335.12" rx="7.7" ry="6.8" fill="none" stroke="#5a5a5a" stroke-width="1.1" stroke-opacity="0.85"/><ellipse cx="565.83" cy="335.12" rx="7.7" ry="6.8" fill="none" stroke="#5a5a5a" stroke-width="1.1" stroke-opacity="0.85"/><ellipse cx="583.99" cy="335.12" rx="7.7" ry="6.8" fill="none" stroke="#5a5a5a" stroke-width="1.1" stroke-opacity="0.85"/><ellipse cx="602.14" cy="335.12" rx="7.7" ry="6.8" fill="none" stroke="#5a5a5a" stroke-width="1.1" stroke-opacity="0.85"/><ellipse cx="620.29" cy="335.12" rx="7.7" ry="6.8" fill="none" stroke="#5a5a5a" stroke-width="1.1" stroke-opacity="0.85"/><ellipse cx="638.45" cy="335.12" rx="7.7" ry="6.8" fill="none" stroke="#5a5a5a" stroke-width="1.1" stroke-opacity="0.85"/><ellipse cx="656.61" cy="335.12" rx="7.7" ry="6.8" fill="none" stroke="#5a5a5a" stroke-width="1.1" stroke-opacity="0.85"/><ellipse cx="674.76" cy="335.12" rx="7.7" ry="6.8" fill="none" stroke="#5a5a5a" stroke-width="1.1" stroke-opacity="0.85"/><ellipse cx="692.91" cy="335.12" rx="7.7" ry="6.8" fill="none" stroke="#5a5a5a" stroke-width="1.1" stroke-opacity="0.85"/><ellipse cx="711.07" cy="335.12" rx="7.7" ry="6.8" fill="none" stroke="#5a5a5a" stroke-width="1.1" stroke-opacity="0.85"/><ellipse cx="729.23" cy="335.12" rx="7.7" ry="6.8" fill="none" stroke="#5a5a5a" stroke-width="1.1" stroke-opacity="0.85"/><ellipse cx="747.38" cy="335.12" rx="7.7" ry="6.8" fill="none" stroke="#5a5a5a" stroke-width="1.1" stroke-opacity="0.85"/><ellipse cx="93.8" cy="351.65" rx="7.7" ry="6.8" fill="none" stroke="#5a5a5a" stroke-width="1.1" stroke-opacity="0.85"/><ellipse cx="111.95" cy="351.65" rx="7.7" ry="6.8" fill="none" stroke="#5a5a5a" stroke-width="1.1" stroke-opacity="0.85"/><ellipse cx="130.11" cy="351.65" rx="7.7" ry="6.8" fill="none" stroke="#5a5a5a" stroke-width="1.1" stroke-opacity="0.85"/><ellipse cx="148.26" cy="351.65" rx="7.7" ry="6.8" fill="none" stroke="#5a5a5a" stroke-width="1.1" stroke-opacity="0.85"/><ellipse cx="166.42" cy="351.65" rx="7.7" ry="6.8" fill="none" stroke="#5a5a5a" stroke-width="1.1" stroke-opacity="0.85"/><ellipse cx="184.57" cy="351.65" rx="7.7" ry="6.8" fill="none" stroke="#5a5a5a" stroke-width="1.1" stroke-opacity="0.85"/><ellipse cx="202.73" cy="351.65" rx="7.7" ry="6.8" fill="none" stroke="#5a5a5a" stroke-width="1.1" stroke-opacity="0.85"/><ellipse cx="220.88" cy="351.65" rx="7.7" ry="6.8" fill="none" stroke="#5a5a5a" stroke-width="1.1" stroke-opacity="0.85"/><ellipse cx="239.04" cy="351.65" rx="7.7" ry="6.8" fill="none" stroke="#5a5a5a" stroke-width="1.1" stroke-opacity="0.85"/><ellipse cx="257.19" cy="351.65" rx="7.7" ry="6.8" fill="none" stroke="#5a5a5a" stroke-width="1.1" stroke-opacity="0.85"/><ellipse cx="275.35" cy="351.65" rx="7.7" ry="6.8" fill="none" stroke="#5a5a5a" stroke-width="1.1" stroke-opacity="0.85"/><ellipse cx="293.5" cy="351.65" rx="7.7" ry="6.8" fill="none" stroke="#5a5a5a" stroke-width="1.1" stroke-opacity="0.85"/><ellipse cx="311.66" cy="351.65" rx="7.7" ry="6.8" fill="none" stroke="#5a5a5a" stroke-width="1.1" stroke-opacity="0.85"/><ellipse cx="329.81" cy="351.65" rx="7.7" ry="6.8" fill="none" stroke="#5a5a5a" stroke-width="1.1" stroke-opacity="0.85"/><ellipse cx="347.97" cy="351.65" rx="7.7" ry="6.8" fill="none" stroke="#5a5a5a" stroke-width="1.1" stroke-opacity="0.85"/><ellipse cx="366.13" cy="351.65" rx="7.7" ry="6.8" fill="none" stroke="#5a5a5a" stroke-width="1.1" stroke-opacity="0.85"/><ellipse cx="384.28" cy="351.65" rx="7.7" ry="6.8" fill="none" stroke="#5a5a5a" stroke-width="1.1" stroke-opacity="0.85"/><ellipse cx="402.44" cy="351.65" rx="7.7" ry="6.8" fill="none" stroke="#5a5a5a" stroke-width="1.1" stroke-opacity="0.85"/><ellipse cx="420.59" cy="351.65" rx="7.7" ry="6.8" fill="none" stroke="#5a5a5a" stroke-width="1.1" stroke-opacity="0.85"/><ellipse cx="438.75" cy="351.65" rx="7.7" ry="6.8" fill="none" stroke="#5a5a5a" stroke-width="1.1" stroke-opacity="0.85"/><ellipse cx="456.9" cy="351.65" rx="7.7" ry="6.8" fill="none" stroke="#5a5a5a" stroke-width="1.1" stroke-opacity="0.85"/><ellipse cx="475.06" cy="351.65" rx="7.7" ry="6.8" fill="none" stroke="#5a5a5a" stroke-width="1.1" stroke-opacity="0.85"/><ellipse cx="493.21" cy="351.65" rx="7.7" ry="6.8" fill="none" stroke="#5a5a5a" stroke-width="1.1" stroke-opacity="0.85"/><ellipse cx="511.37" cy="351.65" rx="7.7" ry="6.8" fill="none" stroke="#5a5a5a" stroke-width="1.1" stroke-opacity="0.85"/><ellipse cx="529.52" cy="351.65" rx="7.7" ry="6.8" fill="none" stroke="#5a5a5a" stroke-width="1.1" stroke-opacity="0.85"/><ellipse cx="547.67" cy="351.65" rx="7.7" ry="6.8" fill="none" stroke="#5a5a5a" stroke-width="1.1" stroke-opacity="0.85"/><ellipse cx="565.83" cy="351.65" rx="7.7" ry="6.8" fill="none" stroke="#5a5a5a" stroke-width="1.1" stroke-opacity="0.85"/><ellipse cx="583.99" cy="351.65" rx="7.7" ry="6.8" fill="none" stroke="#5a5a5a" stroke-width="1.1" stroke-opacity="0.85"/><ellipse cx="602.14" cy="351.65" rx="7.7" ry="6.8" fill="none" stroke="#5a5a5a" stroke-width="1.1" stroke-opacity="0.85"/><ellipse cx="620.29" cy="351.65" rx="7.7" ry="6.8" fill="none" stroke="#5a5a5a" stroke-width="1.1" stroke-opacity="0.85"/><ellipse cx="638.45" cy="351.65" rx="7.7" ry="6.8" fill="none" stroke="#5a5a5a" stroke-width="1.1" stroke-opacity="0.85"/><ellipse cx="656.61" cy="351.65" rx="7.7" ry="6.8" fill="none" stroke="#5a5a5a" stroke-width="1.1" stroke-opacity="0.85"/><ellipse cx="674.76" cy="351.65" rx="7.7" ry="6.8" fill="none" stroke="#5a5a5a" stroke-width="1.1" stroke-opacity="0.85"/><ellipse cx="692.91" cy="351.65" rx="7.7" ry="6.8" fill="none" stroke="#5a5a5a" stroke-width="1.1" stroke-opacity="0.85"/><ellipse cx="711.07" cy="351.65" rx="7.7" ry="6.8" fill="none" stroke="#5a5a5a" stroke-width="1.1" stroke-opacity="0.85"/><ellipse cx="729.23" cy="351.65" rx="7.7" ry="6.8" fill="none" stroke="#5a5a5a" stroke-width="1.1" stroke-opacity="0.85"/><ellipse cx="747.38" cy="351.65" rx="7.7" ry="6.8" fill="none" stroke="#5a5a5a" stroke-width="1.1" stroke-opacity="0.85"/><ellipse cx="93.8" cy="368.18" rx="7.7" ry="6.8" fill="none" stroke="#5a5a5a" stroke-width="1.1" stroke-opacity="0.85"/><ellipse cx="111.95" cy="368.18" rx="7.7" ry="6.8" fill="none" stroke="#5a5a5a" stroke-width="1.1" stroke-opacity="0.85"/><ellipse cx="130.11" cy="368.18" rx="7.7" ry="6.8" fill="none" stroke="#5a5a5a" stroke-width="1.1" stroke-opacity="0.85"/><ellipse cx="148.26" cy="368.18" rx="7.7" ry="6.8" fill="none" stroke="#5a5a5a" stroke-width="1.1" stroke-opacity="0.85"/><ellipse cx="166.42" cy="368.18" rx="7.7" ry="6.8" fill="none" stroke="#5a5a5a" stroke-width="1.1" stroke-opacity="0.85"/><ellipse cx="184.57" cy="368.18" rx="7.7" ry="6.8" fill="none" stroke="#5a5a5a" stroke-width="1.1" stroke-opacity="0.85"/><ellipse cx="202.73" cy="368.18" rx="7.7" ry="6.8" fill="none" stroke="#5a5a5a" stroke-width="1.1" stroke-opacity="0.85"/><ellipse cx="220.88" cy="368.18" rx="7.7" ry="6.8" fill="none" stroke="#5a5a5a" stroke-width="1.1" stroke-opacity="0.85"/><ellipse cx="239.04" cy="368.18" rx="7.7" ry="6.8" fill="none" stroke="#5a5a5a" stroke-width="1.1" stroke-opacity="0.85"/><ellipse cx="257.19" cy="368.18" rx="7.7" ry="6.8" fill="none" stroke="#5a5a5a" stroke-width="1.1" stroke-opacity="0.85"/><ellipse cx="275.35" cy="368.18" rx="7.7" ry="6.8" fill="none" stroke="#5a5a5a" stroke-width="1.1" stroke-opacity="0.85"/><ellipse cx="293.5" cy="368.18" rx="7.7" ry="6.8" fill="none" stroke="#5a5a5a" stroke-width="1.1" stroke-opacity="0.85"/><ellipse cx="311.66" cy="368.18" rx="7.7" ry="6.8" fill="none" stroke="#5a5a5a" stroke-width="1.1" stroke-opacity="0.85"/><ellipse cx="329.81" cy="368.18" rx="7.7" ry="6.8" fill="none" stroke="#5a5a5a" stroke-width="1.1" stroke-opacity="0.85"/><ellipse cx="347.97" cy="368.18" rx="7.7" ry="6.8" fill="none" stroke="#5a5a5a" stroke-width="1.1" stroke-opacity="0.85"/><ellipse cx="366.13" cy="368.18" rx="7.7" ry="6.8" fill="none" stroke="#5a5a5a" stroke-width="1.1" stroke-opacity="0.85"/><ellipse cx="384.28" cy="368.18" rx="7.7" ry="6.8" fill="none" stroke="#5a5a5a" stroke-width="1.1" stroke-opacity="0.85"/><ellipse cx="402.44" cy="368.18" rx="7.7" ry="6.8" fill="none" stroke="#5a5a5a" stroke-width="1.1" stroke-opacity="0.85"/><ellipse cx="420.59" cy="368.18" rx="7.7" ry="6.8" fill="none" stroke="#5a5a5a" stroke-width="1.1" stroke-opacity="0.85"/><ellipse cx="438.75" cy="368.18" rx="7.7" ry="6.8" fill="none" stroke="#5a5a5a" stroke-width="1.1" stroke-opacity="0.85"/><ellipse cx="456.9" cy="368.18" rx="7.7" ry="6.8" fill="none" stroke="#5a5a5a" stroke-width="1.1" stroke-opacity="0.85"/><ellipse cx="475.06" cy="368.18" rx="7.7" ry="6.8" fill="none" stroke="#5a5a5a" stroke-width="1.1" stroke-opacity="0.85"/><ellipse cx="511.37" cy="368.18" rx="7.7" ry="6.8" fill="none" stroke="#5a5a5a" stroke-width="1.1" stroke-opacity="0.85"/><ellipse cx="529.52" cy="368.18" rx="7.7" ry="6.8" fill="none" stroke="#5a5a5a" stroke-width="1.1" stroke-opacity="0.85"/><ellipse cx="547.67" cy="368.18" rx="7.7" ry="6.8" fill="none" stroke="#5a5a5a" stroke-width="1.1" stroke-opacity="0.85"/><ellipse cx="565.83" cy="368.18" rx="7.7" ry="6.8" fill="none" stroke="#5a5a5a" stroke-width="1.1" stroke-opacity="0.85"/><ellipse cx="583.99" cy="368.18" rx="7.7" ry="6.8" fill="none" stroke="#5a5a5a" stroke-width="1.1" stroke-opacity="0.85"/><ellipse cx="602.14" cy="368.18" rx="7.7" ry="6.8" fill="none" stroke="#5a5a5a" stroke-width="1.1" stroke-opacity="0.85"/><ellipse cx="620.29" cy="368.18" rx="7.7" ry="6.8" fill="none" stroke="#5a5a5a" stroke-width="1.1" stroke-opacity="0.85"/><ellipse cx="638.45" cy="368.18" rx="7.7" ry="6.8" fill="none" stroke="#5a5a5a" stroke-width="1.1" stroke-opacity="0.85"/><ellipse cx="656.61" cy="368.18" rx="7.7" ry="6.8" fill="none" stroke="#5a5a5a" stroke-width="1.1" stroke-opacity="0.85"/><ellipse cx="674.76" cy="368.18" rx="7.7" ry="6.8" fill="none" stroke="#5a5a5a" stroke-width="1.1" stroke-opacity="0.85"/><ellipse cx="692.91" cy="368.18" rx="7.7" ry="6.8" fill="none" stroke="#5a5a5a" stroke-width="1.1" stroke-opacity="0.85"/><ellipse cx="711.07" cy="368.18" rx="7.7" ry="6.8" fill="none" stroke="#5a5a5a" stroke-width="1.1" stroke-opacity="0.85"/><ellipse cx="729.23" cy="368.18" rx="7.7" ry="6.8" fill="none" stroke="#5a5a5a" stroke-width="1.1" stroke-opacity="0.85"/><ellipse cx="747.38" cy="368.18" rx="7.7" ry="6.8" fill="none" stroke="#5a5a5a" stroke-width="1.1" stroke-opacity="0.85"/><ellipse cx="93.8" cy="384.71" rx="7.7" ry="6.8" fill="none" stroke="#5a5a5a" stroke-width="1.1" stroke-opacity="0.85"/><ellipse cx="111.95" cy="384.71" rx="7.7" ry="6.8" fill="none" stroke="#5a5a5a" stroke-width="1.1" stroke-opacity="0.85"/><ellipse cx="130.11" cy="384.71" rx="7.7" ry="6.8" fill="none" stroke="#5a5a5a" stroke-width="1.1" stroke-opacity="0.85"/><ellipse cx="148.26" cy="384.71" rx="7.7" ry="6.8" fill="none" stroke="#5a5a5a" stroke-width="1.1" stroke-opacity="0.85"/><ellipse cx="166.42" cy="384.71" rx="7.7" ry="6.8" fill="none" stroke="#5a5a5a" stroke-width="1.1" stroke-opacity="0.85"/><ellipse cx="184.57" cy="384.71" rx="7.7" ry="6.8" fill="none" stroke="#5a5a5a" stroke-width="1.1" stroke-opacity="0.85"/><ellipse cx="202.73" cy="384.71" rx="7.7" ry="6.8" fill="none" stroke="#5a5a5a" stroke-width="1.1" stroke-opacity="0.85"/><ellipse cx="220.88" cy="384.71" rx="7.7" ry="6.8" fill="none" stroke="#5a5a5a" stroke-width="1.1" stroke-opacity="0.85"/><ellipse cx="239.04" cy="384.71" rx="7.7" ry="6.8" fill="none" stroke="#5a5a5a" stroke-width="1.1" stroke-opacity="0.85"/><ellipse cx="257.19" cy="384.71" rx="7.7" ry="6.8" fill="none" stroke="#5a5a5a" stroke-width="1.1" stroke-opacity="0.85"/><ellipse cx="275.35" cy="384.71" rx="7.7" ry="6.8" fill="none" stroke="#5a5a5a" stroke-width="1.1" stroke-opacity="0.85"/><ellipse cx="293.5" cy="384.71" rx="7.7" ry="6.8" fill="none" stroke="#5a5a5a" stroke-width="1.1" stroke-opacity="0.85"/><ellipse cx="311.66" cy="384.71" rx="7.7" ry="6.8" fill="none" stroke="#5a5a5a" stroke-width="1.1" stroke-opacity="0.85"/><ellipse cx="329.81" cy="384.71" rx="7.7" ry="6.8" fill="none" stroke="#5a5a5a" stroke-width="1.1" stroke-opacity="0.85"/><ellipse cx="347.97" cy="384.71" rx="7.7" ry="6.8" fill="none" stroke="#5a5a5a" stroke-width="1.1" stroke-opacity="0.85"/><ellipse cx="366.13" cy="384.71" rx="7.7" ry="6.8" fill="none" stroke="#5a5a5a" stroke-width="1.1" stroke-opacity="0.85"/><ellipse cx="384.28" cy="384.71" rx="7.7" ry="6.8" fill="none" stroke="#5a5a5a" stroke-width="1.1" stroke-opacity="0.85"/><ellipse cx="402.44" cy="384.71" rx="7.7" ry="6.8" fill="none" stroke="#5a5a5a" stroke-width="1.1" stroke-opacity="0.85"/><ellipse cx="420.59" cy="384.71" rx="7.7" ry="6.8" fill="none" stroke="#5a5a5a" stroke-width="1.1" stroke-opacity="0.85"/><ellipse cx="438.75" cy="384.71" rx="7.7" ry="6.8" fill="none" stroke="#5a5a5a" stroke-width="1.1" stroke-opacity="0.85"/><ellipse cx="456.9" cy="384.71" rx="7.7" ry="6.8" fill="none" stroke="#5a5a5a" stroke-width="1.1" stroke-opacity="0.85"/><ellipse cx="475.06" cy="384.71" rx="7.7" ry="6.8" fill="none" stroke="#5a5a5a" stroke-width="1.1" stroke-opacity="0.85"/><ellipse cx="493.21" cy="384.71" rx="7.7" ry="6.8" fill="none" stroke="#5a5a5a" stroke-width="1.1" stroke-opacity="0.85"/><ellipse cx="511.37" cy="384.71" rx="7.7" ry="6.8" fill="none" stroke="#5a5a5a" stroke-width="1.1" stroke-opacity="0.85"/><ellipse cx="529.52" cy="384.71" rx="7.7" ry="6.8" fill="none" stroke="#5a5a5a" stroke-width="1.1" stroke-opacity="0.85"/><ellipse cx="547.67" cy="384.71" rx="7.7" ry="6.8" fill="none" stroke="#5a5a5a" stroke-width="1.1" stroke-opacity="0.85"/><ellipse cx="565.83" cy="384.71" rx="7.7" ry="6.8" fill="none" stroke="#5a5a5a" stroke-width="1.1" stroke-opacity="0.85"/><ellipse cx="583.99" cy="384.71" rx="7.7" ry="6.8" fill="none" stroke="#5a5a5a" stroke-width="1.1" stroke-opacity="0.85"/><ellipse cx="602.14" cy="384.71" rx="7.7" ry="6.8" fill="none" stroke="#5a5a5a" stroke-width="1.1" stroke-opacity="0.85"/><ellipse cx="620.29" cy="384.71" rx="7.7" ry="6.8" fill="none" stroke="#5a5a5a" stroke-width="1.1" stroke-opacity="0.85"/><ellipse cx="638.45" cy="384.71" rx="7.7" ry="6.8" fill="none" stroke="#5a5a5a" stroke-width="1.1" stroke-opacity="0.85"/><ellipse cx="656.61" cy="384.71" rx="7.7" ry="6.8" fill="none" stroke="#5a5a5a" stroke-width="1.1" stroke-opacity="0.85"/><ellipse cx="674.76" cy="384.71" rx="7.7" ry="6.8" fill="none" stroke="#5a5a5a" stroke-width="1.1" stroke-opacity="0.85"/><ellipse cx="692.91" cy="384.71" rx="7.7" ry="6.8" fill="none" stroke="#5a5a5a" stroke-width="1.1" stroke-opacity="0.85"/><ellipse cx="711.07" cy="384.71" rx="7.7" ry="6.8" fill="none" stroke="#5a5a5a" stroke-width="1.1" stroke-opacity="0.85"/><ellipse cx="729.23" cy="384.71" rx="7.7" ry="6.8" fill="none" stroke="#5a5a5a" stroke-width="1.1" stroke-opacity="0.85"/><ellipse cx="747.38" cy="384.71" rx="7.7" ry="6.8" fill="none" stroke="#5a5a5a" stroke-width="1.1" stroke-opacity="0.85"/><ellipse cx="93.8" cy="401.24" rx="7.7" ry="6.8" fill="none" stroke="#5a5a5a" stroke-width="1.1" stroke-opacity="0.85"/><ellipse cx="111.95" cy="401.24" rx="7.7" ry="6.8" fill="none" stroke="#5a5a5a" stroke-width="1.1" stroke-opacity="0.85"/><ellipse cx="130.11" cy="401.24" rx="7.7" ry="6.8" fill="none" stroke="#5a5a5a" stroke-width="1.1" stroke-opacity="0.85"/><ellipse cx="148.26" cy="401.24" rx="7.7" ry="6.8" fill="none" stroke="#5a5a5a" stroke-width="1.1" stroke-opacity="0.85"/><ellipse cx="166.42" cy="401.24" rx="7.7" ry="6.8" fill="none" stroke="#5a5a5a" stroke-width="1.1" stroke-opacity="0.85"/><ellipse cx="184.57" cy="401.24" rx="7.7" ry="6.8" fill="none" stroke="#5a5a5a" stroke-width="1.1" stroke-opacity="0.85"/><ellipse cx="202.73" cy="401.24" rx="7.7" ry="6.8" fill="none" stroke="#5a5a5a" stroke-width="1.1" stroke-opacity="0.85"/><ellipse cx="220.88" cy="401.24" rx="7.7" ry="6.8" fill="none" stroke="#5a5a5a" stroke-width="1.1" stroke-opacity="0.85"/><ellipse cx="239.04" cy="401.24" rx="7.7" ry="6.8" fill="none" stroke="#5a5a5a" stroke-width="1.1" stroke-opacity="0.85"/><ellipse cx="257.19" cy="401.24" rx="7.7" ry="6.8" fill="none" stroke="#5a5a5a" stroke-width="1.1" stroke-opacity="0.85"/><ellipse cx="275.35" cy="401.24" rx="7.7" ry="6.8" fill="none" stroke="#5a5a5a" stroke-width="1.1" stroke-opacity="0.85"/><ellipse cx="293.5" cy="401.24" rx="7.7" ry="6.8" fill="none" stroke="#5a5a5a" stroke-width="1.1" stroke-opacity="0.85"/><ellipse cx="311.66" cy="401.24" rx="7.7" ry="6.8" fill="none" stroke="#5a5a5a" stroke-width="1.1" stroke-opacity="0.85"/><ellipse cx="329.81" cy="401.24" rx="7.7" ry="6.8" fill="none" stroke="#5a5a5a" stroke-width="1.1" stroke-opacity="0.85"/><ellipse cx="347.97" cy="401.24" rx="7.7" ry="6.8" fill="none" stroke="#5a5a5a" stroke-width="1.1" stroke-opacity="0.85"/><ellipse cx="366.13" cy="401.24" rx="7.7" ry="6.8" fill="none" stroke="#5a5a5a" stroke-width="1.1" stroke-opacity="0.85"/><ellipse cx="384.28" cy="401.24" rx="7.7" ry="6.8" fill="none" stroke="#5a5a5a" stroke-width="1.1" stroke-opacity="0.85"/><ellipse cx="402.44" cy="401.24" rx="7.7" ry="6.8" fill="none" stroke="#5a5a5a" stroke-width="1.1" stroke-opacity="0.85"/><ellipse cx="420.59" cy="401.24" rx="7.7" ry="6.8" fill="none" stroke="#5a5a5a" stroke-width="1.1" stroke-opacity="0.85"/><ellipse cx="438.75" cy="401.24" rx="7.7" ry="6.8" fill="none" stroke="#5a5a5a" stroke-width="1.1" stroke-opacity="0.85"/><ellipse cx="456.9" cy="401.24" rx="7.7" ry="6.8" fill="none" stroke="#5a5a5a" stroke-width="1.1" stroke-opacity="0.85"/><ellipse cx="475.06" cy="401.24" rx="7.7" ry="6.8" fill="none" stroke="#5a5a5a" stroke-width="1.1" stroke-opacity="0.85"/><ellipse cx="493.21" cy="401.24" rx="7.7" ry="6.8" fill="none" stroke="#5a5a5a" stroke-width="1.1" stroke-opacity="0.85"/><ellipse cx="511.37" cy="401.24" rx="7.7" ry="6.8" fill="none" stroke="#5a5a5a" stroke-width="1.1" stroke-opacity="0.85"/><ellipse cx="529.52" cy="401.24" rx="7.7" ry="6.8" fill="none" stroke="#5a5a5a" stroke-width="1.1" stroke-opacity="0.85"/><ellipse cx="547.67" cy="401.24" rx="7.7" ry="6.8" fill="none" stroke="#5a5a5a" stroke-width="1.1" stroke-opacity="0.85"/><ellipse cx="565.83" cy="401.24" rx="7.7" ry="6.8" fill="none" stroke="#5a5a5a" stroke-width="1.1" stroke-opacity="0.85"/><ellipse cx="583.99" cy="401.24" rx="7.7" ry="6.8" fill="none" stroke="#5a5a5a" stroke-width="1.1" stroke-opacity="0.85"/><ellipse cx="602.14" cy="401.24" rx="7.7" ry="6.8" fill="none" stroke="#5a5a5a" stroke-width="1.1" stroke-opacity="0.85"/><ellipse cx="620.29" cy="401.24" rx="7.7" ry="6.8" fill="none" stroke="#5a5a5a" stroke-width="1.1" stroke-opacity="0.85"/><ellipse cx="638.45" cy="401.24" rx="7.7" ry="6.8" fill="none" stroke="#5a5a5a" stroke-width="1.1" stroke-opacity="0.85"/><ellipse cx="656.61" cy="401.24" rx="7.7" ry="6.8" fill="none" stroke="#5a5a5a" stroke-width="1.1" stroke-opacity="0.85"/><ellipse cx="674.76" cy="401.24" rx="7.7" ry="6.8" fill="none" stroke="#5a5a5a" stroke-width="1.1" stroke-opacity="0.85"/><ellipse cx="692.91" cy="401.24" rx="7.7" ry="6.8" fill="none" stroke="#5a5a5a" stroke-width="1.1" stroke-opacity="0.85"/><ellipse cx="711.07" cy="401.24" rx="7.7" ry="6.8" fill="none" stroke="#5a5a5a" stroke-width="1.1" stroke-opacity="0.85"/><ellipse cx="729.23" cy="401.24" rx="7.7" ry="6.8" fill="none" stroke="#5a5a5a" stroke-width="1.1" stroke-opacity="0.85"/><ellipse cx="747.38" cy="401.24" rx="7.7" ry="6.8" fill="none" stroke="#5a5a5a" stroke-width="1.1" stroke-opacity="0.85"/><ellipse cx="93.8" cy="417.77" rx="7.7" ry="6.8" fill="none" stroke="#5a5a5a" stroke-width="1.1" stroke-opacity="0.85"/><ellipse cx="111.95" cy="417.77" rx="7.7" ry="6.8" fill="none" stroke="#5a5a5a" stroke-width="1.1" stroke-opacity="0.85"/><ellipse cx="130.11" cy="417.77" rx="7.7" ry="6.8" fill="none" stroke="#5a5a5a" stroke-width="1.1" stroke-opacity="0.85"/><ellipse cx="148.26" cy="417.77" rx="7.7" ry="6.8" fill="none" stroke="#5a5a5a" stroke-width="1.1" stroke-opacity="0.85"/><ellipse cx="166.42" cy="417.77" rx="7.7" ry="6.8" fill="none" stroke="#5a5a5a" stroke-width="1.1" stroke-opacity="0.85"/><ellipse cx="184.57" cy="417.77" rx="7.7" ry="6.8" fill="none" stroke="#5a5a5a" stroke-width="1.1" stroke-opacity="0.85"/><ellipse cx="202.73" cy="417.77" rx="7.7" ry="6.8" fill="none" stroke="#5a5a5a" stroke-width="1.1" stroke-opacity="0.85"/><ellipse cx="220.88" cy="417.77" rx="7.7" ry="6.8" fill="none" stroke="#5a5a5a" stroke-width="1.1" stroke-opacity="0.85"/><ellipse cx="239.04" cy="417.77" rx="7.7" ry="6.8" fill="none" stroke="#5a5a5a" stroke-width="1.1" stroke-opacity="0.85"/><ellipse cx="257.19" cy="417.77" rx="7.7" ry="6.8" fill="none" stroke="#5a5a5a" stroke-width="1.1" stroke-opacity="0.85"/><ellipse cx="275.35" cy="417.77" rx="7.7" ry="6.8" fill="none" stroke="#5a5a5a" stroke-width="1.1" stroke-opacity="0.85"/><ellipse cx="293.5" cy="417.77" rx="7.7" ry="6.8" fill="none" stroke="#5a5a5a" stroke-width="1.1" stroke-opacity="0.85"/><ellipse cx="311.66" cy="417.77" rx="7.7" ry="6.8" fill="none" stroke="#5a5a5a" stroke-width="1.1" stroke-opacity="0.85"/><ellipse cx="329.81" cy="417.77" rx="7.7" ry="6.8" fill="none" stroke="#5a5a5a" stroke-width="1.1" stroke-opacity="0.85"/><ellipse cx="347.97" cy="417.77" rx="7.7" ry="6.8" fill="none" stroke="#5a5a5a" stroke-width="1.1" stroke-opacity="0.85"/><ellipse cx="366.13" cy="417.77" rx="7.7" ry="6.8" fill="none" stroke="#5a5a5a" stroke-width="1.1" stroke-opacity="0.85"/><ellipse cx="384.28" cy="417.77" rx="7.7" ry="6.8" fill="none" stroke="#5a5a5a" stroke-width="1.1" stroke-opacity="0.85"/><ellipse cx="402.44" cy="417.77" rx="7.7" ry="6.8" fill="none" stroke="#5a5a5a" stroke-width="1.1" stroke-opacity="0.85"/><ellipse cx="420.59" cy="417.77" rx="7.7" ry="6.8" fill="none" stroke="#5a5a5a" stroke-width="1.1" stroke-opacity="0.85"/><ellipse cx="438.75" cy="417.77" rx="7.7" ry="6.8" fill="none" stroke="#5a5a5a" stroke-width="1.1" stroke-opacity="0.85"/><ellipse cx="456.9" cy="417.77" rx="7.7" ry="6.8" fill="none" stroke="#5a5a5a" stroke-width="1.1" stroke-opacity="0.85"/><ellipse cx="475.06" cy="417.77" rx="7.7" ry="6.8" fill="none" stroke="#5a5a5a" stroke-width="1.1" stroke-opacity="0.85"/><ellipse cx="493.21" cy="417.77" rx="7.7" ry="6.8" fill="none" stroke="#5a5a5a" stroke-width="1.1" stroke-opacity="0.85"/><ellipse cx="511.37" cy="417.77" rx="7.7" ry="6.8" fill="none" stroke="#5a5a5a" stroke-width="1.1" stroke-opacity="0.85"/><ellipse cx="529.52" cy="417.77" rx="7.7" ry="6.8" fill="none" stroke="#5a5a5a" stroke-width="1.1" stroke-opacity="0.85"/><ellipse cx="547.67" cy="417.77" rx="7.7" ry="6.8" fill="none" stroke="#5a5a5a" stroke-width="1.1" stroke-opacity="0.85"/><ellipse cx="565.83" cy="417.77" rx="7.7" ry="6.8" fill="none" stroke="#5a5a5a" stroke-width="1.1" stroke-opacity="0.85"/><ellipse cx="583.99" cy="417.77" rx="7.7" ry="6.8" fill="none" stroke="#5a5a5a" stroke-width="1.1" stroke-opacity="0.85"/><ellipse cx="602.14" cy="417.77" rx="7.7" ry="6.8" fill="none" stroke="#5a5a5a" stroke-width="1.1" stroke-opacity="0.85"/><ellipse cx="620.29" cy="417.77" rx="7.7" ry="6.8" fill="none" stroke="#5a5a5a" stroke-width="1.1" stroke-opacity="0.85"/><ellipse cx="638.45" cy="417.77" rx="7.7" ry="6.8" fill="none" stroke="#5a5a5a" stroke-width="1.1" stroke-opacity="0.85"/><ellipse cx="656.61" cy="417.77" rx="7.7" ry="6.8" fill="none" stroke="#5a5a5a" stroke-width="1.1" stroke-opacity="0.85"/><ellipse cx="674.76" cy="417.77" rx="7.7" ry="6.8" fill="none" stroke="#5a5a5a" stroke-width="1.1" stroke-opacity="0.85"/><ellipse cx="692.91" cy="417.77" rx="7.7" ry="6.8" fill="none" stroke="#5a5a5a" stroke-width="1.1" stroke-opacity="0.85"/><ellipse cx="711.07" cy="417.77" rx="7.7" ry="6.8" fill="none" stroke="#5a5a5a" stroke-width="1.1" stroke-opacity="0.85"/><ellipse cx="729.23" cy="417.77" rx="7.7" ry="6.8" fill="none" stroke="#5a5a5a" stroke-width="1.1" stroke-opacity="0.85"/><ellipse cx="747.38" cy="417.77" rx="7.7" ry="6.8" fill="none" stroke="#5a5a5a" stroke-width="1.1" stroke-opacity="0.85"/><ellipse cx="93.8" cy="434.3" rx="7.7" ry="6.8" fill="none" stroke="#5a5a5a" stroke-width="1.1" stroke-opacity="0.85"/><ellipse cx="111.95" cy="434.3" rx="7.7" ry="6.8" fill="none" stroke="#5a5a5a" stroke-width="1.1" stroke-opacity="0.85"/><ellipse cx="130.11" cy="434.3" rx="7.7" ry="6.8" fill="none" stroke="#5a5a5a" stroke-width="1.1" stroke-opacity="0.85"/><ellipse cx="148.26" cy="434.3" rx="7.7" ry="6.8" fill="none" stroke="#5a5a5a" stroke-width="1.1" stroke-opacity="0.85"/><ellipse cx="166.42" cy="434.3" rx="7.7" ry="6.8" fill="none" stroke="#5a5a5a" stroke-width="1.1" stroke-opacity="0.85"/><ellipse cx="184.57" cy="434.3" rx="7.7" ry="6.8" fill="none" stroke="#5a5a5a" stroke-width="1.1" stroke-opacity="0.85"/><ellipse cx="202.73" cy="434.3" rx="7.7" ry="6.8" fill="none" stroke="#5a5a5a" stroke-width="1.1" stroke-opacity="0.85"/><ellipse cx="220.88" cy="434.3" rx="7.7" ry="6.8" fill="none" stroke="#5a5a5a" stroke-width="1.1" stroke-opacity="0.85"/><ellipse cx="239.04" cy="434.3" rx="7.7" ry="6.8" fill="none" stroke="#5a5a5a" stroke-width="1.1" stroke-opacity="0.85"/><ellipse cx="257.19" cy="434.3" rx="7.7" ry="6.8" fill="none" stroke="#5a5a5a" stroke-width="1.1" stroke-opacity="0.85"/><ellipse cx="275.35" cy="434.3" rx="7.7" ry="6.8" fill="none" stroke="#5a5a5a" stroke-width="1.1" stroke-opacity="0.85"/><ellipse cx="293.5" cy="434.3" rx="7.7" ry="6.8" fill="none" stroke="#5a5a5a" stroke-width="1.1" stroke-opacity="0.85"/><ellipse cx="311.66" cy="434.3" rx="7.7" ry="6.8" fill="none" stroke="#5a5a5a" stroke-width="1.1" stroke-opacity="0.85"/><ellipse cx="329.81" cy="434.3" rx="7.7" ry="6.8" fill="none" stroke="#5a5a5a" stroke-width="1.1" stroke-opacity="0.85"/><ellipse cx="347.97" cy="434.3" rx="7.7" ry="6.8" fill="none" stroke="#5a5a5a" stroke-width="1.1" stroke-opacity="0.85"/><ellipse cx="366.13" cy="434.3" rx="7.7" ry="6.8" fill="none" stroke="#5a5a5a" stroke-width="1.1" stroke-opacity="0.85"/></g><g><ellipse cx="93.8" cy="103.7" rx="8.1" ry="7.2" fill="none" stroke="#dd4a4a" stroke-width="1.7"/><ellipse cx="111.95" cy="103.7" rx="8.1" ry="7.2" fill="none" stroke="#dd4a4a" stroke-width="1.7"/><ellipse cx="729.23" cy="219.41" rx="8.1" ry="7.2" fill="none" stroke="#dd4a4a" stroke-width="1.7"/><ellipse cx="747.38" cy="219.41" rx="8.1" ry="7.2" fill="none" stroke="#dd4a4a" stroke-width="1.7"/><ellipse cx="93.8" cy="235.94" rx="8.1" ry="7.2" fill="none" stroke="#dd4a4a" stroke-width="1.7"/><ellipse cx="111.95" cy="235.94" rx="8.1" ry="7.2" fill="none" stroke="#dd4a4a" stroke-width="1.7"/><ellipse cx="729.23" cy="269" rx="8.1" ry="7.2" fill="none" stroke="#dd4a4a" stroke-width="1.7"/><ellipse cx="747.38" cy="269" rx="8.1" ry="7.2" fill="none" stroke="#dd4a4a" stroke-width="1.7"/><ellipse cx="93.8" cy="285.53" rx="8.1" ry="7.2" fill="none" stroke="#dd4a4a" stroke-width="1.7"/><ellipse cx="111.95" cy="285.53" rx="8.1" ry="7.2" fill="none" stroke="#dd4a4a" stroke-width="1.7"/><ellipse cx="729.23" cy="434.3" rx="8.1" ry="7.2" fill="none" stroke="#dd4a4a" stroke-width="1.7"/><ellipse cx="747.38" cy="434.3" rx="8.1" ry="7.2" fill="none" stroke="#dd4a4a" stroke-width="1.7"/></g><rect x="84.5" y="95" width="672.5" height="348.5" fill="none" stroke="#1c1c1c" stroke-width="1.7"/><text x="93.8" y="90.6" font-size="16" text-anchor="middle" font-weight="normal" font-family='"Liberation Mono", monospace' fill="#484848" textLength="10.8" lengthAdjust="spacingAndGlyphs">1</text><text x="111.95" y="90.6" font-size="16" text-anchor="middle" font-weight="normal" font-family='"Liberation Mono", monospace' fill="#484848" textLength="10.8" lengthAdjust="spacingAndGlyphs">2</text><text x="130.11" y="90.6" font-size="16" text-anchor="middle" font-weight="normal" font-family='"Liberation Mono", monospace' fill="#484848" textLength="10.8" lengthAdjust="spacingAndGlyphs">3</text><text x="148.26" y="90.6" font-size="16" text-anchor="middle" font-weight="normal" font-family='"Liberation Mono", monospace' fill="#484848" textLength="10.8" lengthAdjust="spacingAndGlyphs">4</text><text x="166.42" y="90.6" font-size="16" text-anchor="middle" font-weight="normal" font-family='"Liberation Mono", monospace' fill="#484848" textLength="10.8" lengthAdjust="spacingAndGlyphs">5</text><text x="184.57" y="90.6" font-size="16" text-anchor="middle" font-weight="normal" font-family='"Liberation Mono", monospace' fill="#484848" textLength="10.8" lengthAdjust="spacingAndGlyphs">6</text><text x="202.73" y="90.6" font-size="16" text-anchor="middle" font-weight="normal" font-family='"Liberation Mono", monospace' fill="#484848" textLength="10.8" lengthAdjust="spacingAndGlyphs">7</text><text x="220.88" y="90.6" font-size="16" text-anchor="middle" font-weight="normal" font-family='"Liberation Mono", monospace' fill="#484848" textLength="10.8" lengthAdjust="spacingAndGlyphs">8</text><text x="239.04" y="90.6" font-size="16" text-anchor="middle" font-weight="normal" font-family='"Liberation Mono", monospace' fill="#484848" textLength="10.8" lengthAdjust="spacingAndGlyphs">9</text><text x="257.19" y="90.6" font-size="16" text-anchor="middle" font-weight="normal" font-family='"Liberation Mono", monospace' fill="#484848" textLength="13.9" lengthAdjust="spacingAndGlyphs">10</text><text x="275.35" y="90.6" font-size="16" text-anchor="middle" font-weight="normal" font-family='"Liberation Mono", monospace' fill="#484848" textLength="13.9" lengthAdjust="spacingAndGlyphs">11</text><text x="293.5" y="90.6" font-size="16" text-anchor="middle" font-weight="normal" font-family='"Liberation Mono", monospace' fill="#484848" textLength="13.9" lengthAdjust="spacingAndGlyphs">12</text><text x="311.66" y="90.6" font-size="16" text-anchor="middle" font-weight="normal" font-family='"Liberation Mono", monospace' fill="#484848" textLength="13.9" lengthAdjust="spacingAndGlyphs">13</text><text x="329.81" y="90.6" font-size="16" text-anchor="middle" font-weight="normal" font-family='"Liberation Mono", monospace' fill="#484848" textLength="13.9" lengthAdjust="spacingAndGlyphs">14</text><text x="347.97" y="90.6" font-size="16" text-anchor="middle" font-weight="normal" font-family='"Liberation Mono", monospace' fill="#484848" textLength="13.9" lengthAdjust="spacingAndGlyphs">15</text><text x="366.13" y="90.6" font-size="16" text-anchor="middle" font-weight="normal" font-family='"Liberation Mono", monospace' fill="#484848" textLength="13.9" lengthAdjust="spacingAndGlyphs">16</text><text x="384.28" y="90.6" font-size="16" text-anchor="middle" font-weight="normal" font-family='"Liberation Mono", monospace' fill="#484848" textLength="13.9" lengthAdjust="spacingAndGlyphs">17</text><text x="402.44" y="90.6" font-size="16" text-anchor="middle" font-weight="normal" font-family='"Liberation Mono", monospace' fill="#484848" textLength="13.9" lengthAdjust="spacingAndGlyphs">18</text><text x="420.59" y="90.6" font-size="16" text-anchor="middle" font-weight="normal" font-family='"Liberation Mono", monospace' fill="#484848" textLength="13.9" lengthAdjust="spacingAndGlyphs">19</text><text x="438.75" y="90.6" font-size="16" text-anchor="middle" font-weight="normal" font-family='"Liberation Mono", monospace' fill="#484848" textLength="13.9" lengthAdjust="spacingAndGlyphs">20</text><text x="456.9" y="90.6" font-size="16" text-anchor="middle" font-weight="normal" font-family='"Liberation Mono", monospace' fill="#484848" textLength="13.9" lengthAdjust="spacingAndGlyphs">21</text><text x="475.06" y="90.6" font-size="16" text-anchor="middle" font-weight="normal" font-family='"Liberation Mono", monospace' fill="#484848" textLength="13.9" lengthAdjust="spacingAndGlyphs">22</text><text x="493.21" y="90.6" font-size="16" text-anchor="middle" font-weight="normal" font-family='"Liberation Mono", monospace' fill="#484848" textLength="13.9" lengthAdjust="spacingAndGlyphs">23</text><text x="511.37" y="90.6" font-size="16" text-anchor="middle" font-weight="normal" font-family='"Liberation Mono", monospace' fill="#484848" textLength="13.9" lengthAdjust="spacingAndGlyphs">24</text><text x="529.52" y="90.6" font-size="16" text-anchor="middle" font-weight="normal" font-family='"Liberation Mono", monospace' fill="#484848" textLength="13.9" lengthAdjust="spacingAndGlyphs">25</text><text x="547.67" y="90.6" font-size="16" text-anchor="middle" font-weight="normal" font-family='"Liberation Mono", monospace' fill="#484848" textLength="13.9" lengthAdjust="spacingAndGlyphs">26</text><text x="565.83" y="90.6" font-size="16" text-anchor="middle" font-weight="normal" font-family='"Liberation Mono", monospace' fill="#484848" textLength="13.9" lengthAdjust="spacingAndGlyphs">27</text><text x="583.99" y="90.6" font-size="16" text-anchor="middle" font-weight="normal" font-family='"Liberation Mono", monospace' fill="#484848" textLength="13.9" lengthAdjust="spacingAndGlyphs">28</text><text x="602.14" y="90.6" font-size="16" text-anchor="middle" font-weight="normal" font-family='"Liberation Mono", monospace' fill="#484848" textLength="13.9" lengthAdjust="spacingAndGlyphs">29</text><text x="620.29" y="90.6" font-size="16" text-anchor="middle" font-weight="normal" font-family='"Liberation Mono", monospace' fill="#484848" textLength="13.9" lengthAdjust="spacingAndGlyphs">30</text><text x="638.45" y="90.6" font-size="16" text-anchor="middle" font-weight="normal" font-family='"Liberation Mono", monospace' fill="#484848" textLength="13.9" lengthAdjust="spacingAndGlyphs">31</text><text x="656.61" y="90.6" font-size="16" text-anchor="middle" font-weight="normal" font-family='"Liberation Mono", monospace' fill="#484848" textLength="13.9" lengthAdjust="spacingAndGlyphs">32</text><text x="674.76" y="90.6" font-size="16" text-anchor="middle" font-weight="normal" font-family='"Liberation Mono", monospace' fill="#484848" textLength="13.9" lengthAdjust="spacingAndGlyphs">33</text><text x="692.91" y="90.6" font-size="16" text-anchor="middle" font-weight="normal" font-family='"Liberation Mono", monospace' fill="#484848" textLength="13.9" lengthAdjust="spacingAndGlyphs">34</text><text x="711.07" y="90.6" font-size="16" text-anchor="middle" font-weight="normal" font-family='"Liberation Mono", monospace' fill="#484848" textLength="13.9" lengthAdjust="spacingAndGlyphs">35</text><text x="729.23" y="90.6" font-size="16" text-anchor="middle" font-weight="normal" font-family='"Liberation Mono", monospace' fill="#484848" textLength="13.9" lengthAdjust="spacingAndGlyphs">36</text><text x="747.38" y="90.6" font-size="16" text-anchor="middle" font-weight="normal" font-family='"Liberation Mono", monospace' fill="#484848" textLength="13.9" lengthAdjust="spacingAndGlyphs">37</text><text x="71.8" y="109.3" font-size="16" text-anchor="middle" font-weight="normal" font-family='"Liberation Mono", monospace' fill="#484848" textLength="12.6" lengthAdjust="spacingAndGlyphs">A</text><text x="71.8" y="125.83" font-size="16" text-anchor="middle" font-weight="normal" font-family='"Liberation Mono", monospace' fill="#484848" textLength="12.6" lengthAdjust="spacingAndGlyphs">B</text><text x="71.8" y="142.36" font-size="16" text-anchor="middle" font-weight="normal" font-family='"Liberation Mono", monospace' fill="#484848" textLength="12.6" lengthAdjust="spacingAndGlyphs">C</text><text x="71.8" y="158.89" font-size="16" text-anchor="middle" font-weight="normal" font-family='"Liberation Mono", monospace' fill="#484848" textLength="12.6" lengthAdjust="spacingAndGlyphs">D</text><text x="71.8" y="175.42" font-size="16" text-anchor="middle" font-weight="normal" font-family='"Liberation Mono", monospace' fill="#484848" textLength="12.6" lengthAdjust="spacingAndGlyphs">E</text><text x="71.8" y="191.95" font-size="16" text-anchor="middle" font-weight="normal" font-family='"Liberation Mono", monospace' fill="#484848" textLength="12.6" lengthAdjust="spacingAndGlyphs">F</text><text x="71.8" y="208.48" font-size="16" text-anchor="middle" font-weight="normal" font-family='"Liberation Mono", monospace' fill="#484848" textLength="12.6" lengthAdjust="spacingAndGlyphs">G</text><text x="71.8" y="225.01" font-size="16" text-anchor="middle" font-weight="normal" font-family='"Liberation Mono", monospace' fill="#484848" textLength="12.6" lengthAdjust="spacingAndGlyphs">H</text><text x="71.8" y="241.54" font-size="16" text-anchor="middle" font-weight="normal" font-family='"Liberation Mono", monospace' fill="#484848" textLength="12.6" lengthAdjust="spacingAndGlyphs">I</text><text x="71.8" y="258.07" font-size="16" text-anchor="middle" font-weight="normal" font-family='"Liberation Mono", monospace' fill="#484848" textLength="12.6" lengthAdjust="spacingAndGlyphs">J</text><text x="71.8" y="274.6" font-size="16" text-anchor="middle" font-weight="normal" font-family='"Liberation Mono", monospace' fill="#484848" textLength="12.6" lengthAdjust="spacingAndGlyphs">K</text><text x="71.8" y="291.13" font-size="16" text-anchor="middle" font-weight="normal" font-family='"Liberation Mono", monospace' fill="#484848" textLength="12.6" lengthAdjust="spacingAndGlyphs">L</text><text x="71.8" y="307.66" font-size="16" text-anchor="middle" font-weight="normal" font-family='"Liberation Mono", monospace' fill="#484848" textLength="12.6" lengthAdjust="spacingAndGlyphs">M</text><text x="71.8" y="324.19" font-size="16" text-anchor="middle" font-weight="normal" font-family='"Liberation Mono", monospace' fill="#484848" textLength="12.6" lengthAdjust="spacingAndGlyphs">N</text><text x="71.8" y="340.72" font-size="16" text-anchor="middle" font-weight="normal" font-family='"Liberation Mono", monospace' fill="#484848" textLength="12.6" lengthAdjust="spacingAndGlyphs">O</text><text x="71.8" y="357.25" font-size="16" text-anchor="middle" font-weight="normal" font-family='"Liberation Mono", monospace' fill="#484848" textLength="12.6" lengthAdjust="spacingAndGlyphs">P</text><text x="71.8" y="373.78" font-size="16" text-anchor="middle" font-weight="normal" font-family='"Liberation Mono", monospace' fill="#484848" textLength="12.6" lengthAdjust="spacingAndGlyphs">Q</text><text x="71.8" y="390.31" font-size="16" text-anchor="middle" font-weight="normal" font-family='"Liberation Mono", monospace' fill="#484848" textLength="12.6" lengthAdjust="spacingAndGlyphs">R</text><text x="71.8" y="406.84" font-size="16" text-anchor="middle" font-weight="normal" font-family='"Liberation Mono", monospace' fill="#484848" textLength="12.6" lengthAdjust="spacingAndGlyphs">S</text><text x="71.8" y="423.37" font-size="16" text-anchor="middle" font-weight="normal" font-family='"Liberation Mono", monospace' fill="#484848" textLength="12.6" lengthAdjust="spacingAndGlyphs">T</text><text x="71.8" y="439.9" font-size="16" text-anchor="middle" font-weight="normal" font-family='"Liberation Mono", monospace' fill="#484848" textLength="12.6" lengthAdjust="spacingAndGlyphs">U</text><rect x="899.5" y="67.5" width="487.5" height="363.5" fill="none" stroke="#1a1a1a" stroke-width="1.7"/><line x1="891.0" y1="412.6" x2="899.5" y2="412.6" stroke="#333" stroke-width="1.5"/><text x="887.5" y="421.6" font-size="25" text-anchor="end" font-weight="normal" font-family='"Liberation Sans", sans-serif' fill="#111" >0.0</text><line x1="891.0" y1="306.4" x2="899.5" y2="306.4" stroke="#333" stroke-width="1.5"/><text x="887.5" y="315.4" font-size="25" text-anchor="end" font-weight="normal" font-family='"Liberation Sans", sans-serif' fill="#111" >0.1</text><line x1="891.0" y1="200.2" x2="899.5" y2="200.2" stroke="#333" stroke-width="1.5"/><text x="887.5" y="209.2" font-size="25" text-anchor="end" font-weight="normal" font-family='"Liberation Sans", sans-serif' fill="#111" >0.2</text><line x1="891.0" y1="94" x2="899.5" y2="94" stroke="#333" stroke-width="1.5"/><text x="887.5" y="103" font-size="25" text-anchor="end" font-weight="normal" font-family='"Liberation Sans", sans-serif' fill="#111" >0.3</text><line x1="894.5" y1="359.5" x2="899.5" y2="359.5" stroke="#333" stroke-width="1.4"/><line x1="894.5" y1="253.3" x2="899.5" y2="253.3" stroke="#333" stroke-width="1.4"/><line x1="894.5" y1="147.1" x2="899.5" y2="147.1" stroke="#333" stroke-width="1.4"/><line x1="911.4" y1="431" x2="911.4" y2="423" stroke="#333" stroke-width="1.5"/><text x="911.4" y="455.5" font-size="25" text-anchor="middle" font-weight="normal" font-family='"Liberation Sans", sans-serif' fill="#111" >0</text><line x1="969.4" y1="431" x2="969.4" y2="423" stroke="#333" stroke-width="1.5"/><text x="969.4" y="455.5" font-size="25" text-anchor="middle" font-weight="normal" font-family='"Liberation Sans", sans-serif' fill="#111" >10</text><line x1="1027.4" y1="431" x2="1027.4" y2="423" stroke="#333" stroke-width="1.5"/><text x="1027.4" y="455.5" font-size="25" text-anchor="middle" font-weight="normal" font-family='"Liberation Sans", sans-serif' fill="#111" >20</text><line x1="1085.4" y1="431" x2="1085.4" y2="423" stroke="#333" stroke-width="1.5"/><text x="1085.4" y="455.5" font-size="25" text-anchor="middle" font-weight="normal" font-family='"Liberation Sans", sans-serif' fill="#111" >30</text><line x1="1143.4" y1="431" x2="1143.4" y2="423" stroke="#333" stroke-width="1.5"/><text x="1143.4" y="455.5" font-size="25" text-anchor="middle" font-weight="normal" font-family='"Liberation Sans", sans-serif' fill="#111" >40</text><line x1="1201.4" y1="431" x2="1201.4" y2="423" stroke="#333" stroke-width="1.5"/><text x="1201.4" y="455.5" font-size="25" text-anchor="middle" font-weight="normal" font-family='"Liberation Sans", sans-serif' fill="#111" >50</text><line x1="1259.4" y1="431" x2="1259.4" y2="423" stroke="#333" stroke-width="1.5"/><text x="1259.4" y="455.5" font-size="25" text-anchor="middle" font-weight="normal" font-family='"Liberation Sans", sans-serif' fill="#111" >60</text><line x1="1317.4" y1="431" x2="1317.4" y2="423" stroke="#333" stroke-width="1.5"/><text x="1317.4" y="455.5" font-size="25" text-anchor="middle" font-weight="normal" font-family='"Liberation Sans", sans-serif' fill="#111" >70</text><line x1="1375.4" y1="431" x2="1375.4" y2="423" stroke="#333" stroke-width="1.5"/><text x="1375.4" y="455.5" font-size="25" text-anchor="middle" font-weight="normal" font-family='"Liberation Sans", sans-serif' fill="#111" >80</text><line x1="940.4" y1="431" x2="940.4" y2="427" stroke="#333" stroke-width="1.4"/><line x1="998.4" y1="431" x2="998.4" y2="427" stroke="#333" stroke-width="1.4"/><line x1="1056.4" y1="431" x2="1056.4" y2="427" stroke="#333" stroke-width="1.4"/><line x1="1114.4" y1="431" x2="1114.4" y2="427" stroke="#333" stroke-width="1.4"/><line x1="1172.4" y1="431" x2="1172.4" y2="427" stroke="#333" stroke-width="1.4"/><line x1="1230.4" y1="431" x2="1230.4" y2="427" stroke="#333" stroke-width="1.4"/><line x1="1288.4" y1="431" x2="1288.4" y2="427" stroke="#333" stroke-width="1.4"/><line x1="1346.4" y1="431" x2="1346.4" y2="427" stroke="#333" stroke-width="1.4"/><text x="1141" y="484" font-size="25" text-anchor="middle" font-weight="normal" font-family='"Liberation Sans", sans-serif' fill="#111" >Time (min)</text><text x="0" y="0" font-size="25.8" text-anchor="middle" font-weight="normal" font-family='"Liberation Sans", sans-serif' fill="#111" transform="translate(843.5,239) rotate(-90)">&#916;P (&#181;cal/sec)</text><text x="924.5" y="108.7" font-size="25.2" text-anchor="start" font-weight="bold" font-family='"Liberation Sans", sans-serif' fill="#111" >H3.1 (1-40)</text><path d="M916.62,410.81 L916.79,409.8 L916.97,408.57 L917.14,407.11 L917.32,405.43 L917.49,403.53 L917.66,401.4 L917.78,399.86 L917.84,400.81 L918.01,403.22 L918.19,405.09 L918.36,406.54 L918.53,407.68 L918.71,408.58 L918.88,409.28 L919.06,409.84 L919.23,410.29 L919.4,410.65 L919.58,410.94 L919.75,411.18 L919.93,411.37 L920.1,411.53 L920.27,411.67 L920.45,411.78 L920.62,411.88 L920.8,411.96 L920.97,412.03 L921.14,412.09 L921.32,412.14 L921.49,412.1 L921.67,410.76 L921.84,407.75 L922.01,403.07 L922.19,396.73 L922.36,388.73 L922.54,379.06 L922.71,367.72 L922.88,354.73 L923.06,340.07 L923.23,323.75 L923.29,317.94 L923.41,331.46 L923.58,347.89 L923.75,360.67 L923.93,370.63 L924.1,378.43 L924.28,384.57 L924.45,389.43 L924.62,393.28 L924.8,396.37 L924.97,398.86 L925.15,400.88 L925.32,402.53 L925.49,403.88 L925.67,405.01 L925.84,405.96 L926.02,406.75 L926.19,407.43 L926.36,408.01 L926.54,408.51 L926.71,408.94 L926.89,409.32 L927.06,409.65 L927.23,409.95 L927.41,410.21 L927.58,410.44 L927.76,410.65 L927.93,410.83 L928.1,411 L928.28,411.15 L928.45,411.28 L928.63,411.4 L928.8,411.51 L928.97,411.61 L929.15,411.7 L929.32,411.78 L929.5,411.86 L929.67,411.93 L929.84,411.99 L930.02,412.04 L930.19,412.09 L930.37,412.14 L930.54,412.18 L930.71,412.22 L930.89,412.25 L931.06,412.28 L931.24,412.31 L931.41,412.34 L931.58,412.36 L931.76,412.38 L931.93,412.4 L932.11,412.42 L932.28,412.44 L932.45,412.45 L932.63,412.46 L932.8,412.48 L932.98,412.49 L933.15,412.41 L933.32,411.11 L933.5,408.25 L933.67,403.81 L933.85,397.81 L934.02,390.23 L934.19,381.09 L934.37,370.38 L934.54,358.1 L934.72,344.26 L934.89,328.88 L934.95,323.39 L935.06,336.15 L935.24,351.65 L935.41,363.69 L935.59,373.09 L935.76,380.44 L935.93,386.23 L936.11,390.8 L936.28,394.44 L936.46,397.34 L936.63,399.69 L936.8,401.59 L936.98,403.14 L937.15,404.42 L937.33,405.48 L937.5,406.36 L937.67,407.11 L937.85,407.75 L938.02,408.29 L938.2,408.76 L938.37,409.17 L938.54,409.52 L938.72,409.84 L938.89,410.11 L939.07,410.36 L939.24,410.57 L939.41,410.77 L939.59,410.94 L939.76,411.1 L939.94,411.24 L940.11,411.36 L940.28,411.48 L940.46,411.58 L940.63,411.67 L940.81,411.76 L940.98,411.83 L941.15,411.9 L941.33,411.97 L941.5,412.02 L941.68,412.08 L941.85,412.12 L942.02,412.17 L942.2,412.2 L942.37,412.24 L942.55,412.27 L942.72,412.3 L942.89,412.33 L943.07,412.35 L943.24,412.37 L943.42,412.4 L943.59,412.41 L943.76,412.43 L943.94,412.45 L944.11,412.46 L944.29,412.47 L944.46,412.48 L944.63,412.49 L944.81,412.42 L944.98,411.1 L945.16,408.2 L945.33,403.71 L945.5,397.64 L945.68,389.97 L945.85,380.72 L946.03,369.88 L946.2,357.46 L946.37,343.45 L946.55,327.88 L946.61,322.33 L946.72,335.24 L946.9,350.92 L947.07,363.11 L947.24,372.61 L947.42,380.06 L947.59,385.91 L947.77,390.54 L947.94,394.22 L948.11,397.16 L948.29,399.53 L948.46,401.45 L948.64,403.03 L948.81,404.32 L948.98,405.39 L949.16,406.29 L949.33,407.05 L949.51,407.69 L949.68,408.24 L949.85,408.72 L950.03,409.13 L950.2,409.49 L950.38,409.8 L950.55,410.08 L950.72,410.33 L950.9,410.55 L951.07,410.75 L951.25,410.92 L951.42,411.08 L951.59,411.22 L951.77,411.35 L951.94,411.46 L952.12,411.57 L952.29,411.66 L952.46,411.75 L952.64,411.82 L952.81,411.89 L952.99,411.96 L953.16,412.02 L953.33,412.07 L953.51,412.12 L953.68,412.16 L953.86,412.2 L954.03,412.24 L954.2,412.27 L954.38,412.3 L954.55,412.33 L954.73,412.35 L954.9,412.37 L955.07,412.39 L955.25,412.41 L955.42,412.43 L955.6,412.44 L955.77,412.46 L955.94,412.47 L956.12,412.48 L956.29,412.49 L956.47,412.42 L956.64,411.25 L956.81,408.66 L956.99,404.64 L957.16,399.21 L957.34,392.36 L957.51,384.09 L957.68,374.4 L957.86,363.29 L958.03,350.76 L958.21,336.85 L958.26,331.89 L958.38,343.43 L958.55,357.45 L958.73,368.35 L958.9,376.85 L959.08,383.5 L959.25,388.74 L959.42,392.88 L959.6,396.17 L959.77,398.8 L959.95,400.92 L960.12,402.64 L960.29,404.04 L960.47,405.2 L960.64,406.15 L960.82,406.96 L960.99,407.63 L961.16,408.21 L961.34,408.7 L961.51,409.13 L961.69,409.5 L961.86,409.82 L962.03,410.1 L962.21,410.35 L962.38,410.57 L962.56,410.77 L962.73,410.94 L962.9,411.1 L963.08,411.24 L963.25,411.37 L963.43,411.48 L963.6,411.58 L963.77,411.68 L963.95,411.76 L964.12,411.84 L964.3,411.91 L964.47,411.97 L964.64,412.03 L964.82,412.08 L964.99,412.13 L965.17,412.17 L965.34,412.21 L965.51,412.24 L965.69,412.27 L965.86,412.3 L966.04,412.33 L966.21,412.35 L966.38,412.38 L966.56,412.4 L966.73,412.41 L966.91,412.43 L967.08,412.45 L967.25,412.46 L967.43,412.47 L967.6,412.48 L967.78,412.49 L967.95,412.5 L968.12,412.43 L968.3,411.23 L968.47,408.56 L968.65,404.44 L968.82,398.87 L968.99,391.84 L969.17,383.35 L969.34,373.4 L969.52,362 L969.69,349.14 L969.86,334.86 L969.92,329.76 L970.04,341.61 L970.21,356 L970.39,367.19 L970.56,375.91 L970.73,382.74 L970.91,388.11 L971.08,392.36 L971.26,395.73 L971.43,398.43 L971.6,400.61 L971.78,402.37 L971.95,403.81 L972.13,405 L972.3,405.98 L972.47,406.81 L972.65,407.5 L972.82,408.09 L973,408.6 L973.17,409.04 L973.34,409.41 L973.52,409.74 L973.69,410.03 L973.87,410.29 L974.04,410.52 L974.21,410.72 L974.39,410.9 L974.56,411.06 L974.74,411.2 L974.91,411.33 L975.08,411.45 L975.26,411.56 L975.43,411.65 L975.61,411.74 L975.78,411.82 L975.95,411.89 L976.13,411.95 L976.3,412.01 L976.48,412.06 L976.65,412.11 L976.82,412.16 L977,412.2 L977.17,412.23 L977.35,412.27 L977.52,412.3 L977.69,412.32 L977.87,412.35 L978.04,412.37 L978.22,412.39 L978.39,412.41 L978.56,412.43 L978.74,412.44 L978.91,412.46 L979.09,412.47 L979.26,412.48 L979.43,412.49 L979.61,412.5 L979.78,412.44 L979.96,411.36 L980.13,408.97 L980.3,405.27 L980.48,400.27 L980.65,393.96 L980.83,386.34 L981,377.42 L981.17,367.18 L981.35,355.64 L981.52,342.83 L981.58,338.26 L981.7,348.89 L981.87,361.81 L982.04,371.84 L982.22,379.67 L982.39,385.8 L982.57,390.62 L982.74,394.43 L982.91,397.46 L983.09,399.89 L983.26,401.84 L983.44,403.42 L983.61,404.71 L983.78,405.78 L983.96,406.66 L984.13,407.4 L984.31,408.03 L984.48,408.56 L984.65,409.01 L984.83,409.4 L985,409.74 L985.18,410.04 L985.35,410.3 L985.52,410.53 L985.7,410.73 L985.87,410.91 L986.05,411.07 L986.22,411.22 L986.39,411.35 L986.57,411.46 L986.74,411.57 L986.92,411.66 L987.09,411.75 L987.26,411.83 L987.44,411.9 L987.61,411.96 L987.79,412.02 L987.96,412.07 L988.13,412.12 L988.31,412.16 L988.48,412.2 L988.66,412.24 L988.83,412.27 L989,412.3 L989.18,412.33 L989.35,412.35 L989.53,412.37 L989.7,412.39 L989.87,412.41 L990.05,412.43 L990.22,412.44 L990.4,412.46 L990.57,412.47 L990.74,412.48 L990.92,412.49 L991.09,412.5 L991.27,412.51 L991.44,412.45 L991.61,411.35 L991.79,408.93 L991.96,405.18 L992.14,400.1 L992.31,393.7 L992.48,385.97 L992.66,376.92 L992.83,366.54 L993.01,354.84 L993.18,341.84 L993.24,337.2 L993.35,347.98 L993.53,361.08 L993.7,371.26 L993.88,379.2 L994.05,385.42 L994.22,390.31 L994.4,394.17 L994.57,397.25 L994.75,399.71 L994.92,401.69 L995.09,403.29 L995.27,404.6 L995.44,405.68 L995.62,406.58 L995.79,407.33 L995.96,407.96 L996.14,408.5 L996.31,408.96 L996.49,409.36 L996.66,409.7 L996.83,410 L997.01,410.26 L997.18,410.5 L997.36,410.7 L997.53,410.89 L997.7,411.05 L997.88,411.2 L998.05,411.33 L998.23,411.45 L998.4,411.55 L998.57,411.65 L998.75,411.74 L998.92,411.82 L999.1,411.89 L999.27,411.95 L999.44,412.01 L999.62,412.06 L999.79,412.11 L999.97,412.16 L1000.14,412.2 L1000.31,412.23 L1000.49,412.27 L1000.66,412.3 L1000.84,412.32 L1001.01,412.35 L1001.18,412.37 L1001.36,412.39 L1001.53,412.41 L1001.71,412.43 L1001.88,412.44 L1002.05,412.46 L1002.23,412.47 L1002.4,412.48 L1002.58,412.49 L1002.75,412.5 L1002.92,412.51 L1003.1,412.45 L1003.27,411.47 L1003.45,409.3 L1003.62,405.94 L1003.79,401.4 L1003.97,395.66 L1004.14,388.74 L1004.32,380.63 L1004.49,371.34 L1004.66,360.85 L1004.84,349.21 L1004.9,345.06 L1005.01,354.72 L1005.19,366.45 L1005.36,375.57 L1005.53,382.68 L1005.71,388.25 L1005.88,392.63 L1006.06,396.09 L1006.23,398.85 L1006.4,401.05 L1006.58,402.82 L1006.75,404.26 L1006.93,405.44 L1007.1,406.4 L1007.27,407.21 L1007.45,407.88 L1007.62,408.44 L1007.8,408.93 L1007.97,409.34 L1008.14,409.69 L1008.32,410 L1008.49,410.27 L1008.67,410.51 L1008.84,410.72 L1009.01,410.9 L1009.19,411.07 L1009.36,411.21 L1009.54,411.34 L1009.71,411.46 L1009.88,411.57 L1010.06,411.66 L1010.23,411.75 L1010.41,411.83 L1010.58,411.9 L1010.75,411.96 L1010.93,412.02 L1011.1,412.07 L1011.28,412.12 L1011.45,412.16 L1011.62,412.2 L1011.8,412.24 L1011.97,412.27 L1012.15,412.3 L1012.32,412.33 L1012.49,412.35 L1012.67,412.37 L1012.84,412.39 L1013.02,412.41 L1013.19,412.43 L1013.36,412.44 L1013.54,412.46 L1013.71,412.47 L1013.89,412.48 L1014.06,412.49 L1014.23,412.5 L1014.41,412.51 L1014.58,412.52 L1014.76,412.46 L1014.93,411.42 L1015.1,409.13 L1015.28,405.6 L1015.45,400.81 L1015.63,394.77 L1015.8,387.47 L1015.97,378.93 L1016.15,369.14 L1016.32,358.09 L1016.5,345.82 L1016.55,341.45 L1016.67,351.62 L1016.84,363.98 L1017.02,373.59 L1017.19,381.08 L1017.37,386.95 L1017.54,391.56 L1017.71,395.21 L1017.89,398.11 L1018.06,400.43 L1018.24,402.3 L1018.41,403.82 L1018.58,405.05 L1018.76,406.07 L1018.93,406.92 L1019.11,407.63 L1019.28,408.22 L1019.45,408.73 L1019.63,409.16 L1019.8,409.54 L1019.98,409.86 L1020.15,410.15 L1020.32,410.4 L1020.5,410.62 L1020.67,410.81 L1020.85,410.98 L1021.02,411.14 L1021.19,411.28 L1021.37,411.4 L1021.54,411.51 L1021.72,411.61 L1021.89,411.7 L1022.06,411.79 L1022.24,411.86 L1022.41,411.93 L1022.59,411.99 L1022.76,412.04 L1022.93,412.09 L1023.11,412.14 L1023.28,412.18 L1023.46,412.22 L1023.63,412.25 L1023.8,412.28 L1023.98,412.31 L1024.15,412.34 L1024.33,412.36 L1024.5,412.38 L1024.67,412.4 L1024.85,412.42 L1025.02,412.44 L1025.2,412.45 L1025.37,412.46 L1025.54,412.48 L1025.72,412.49 L1025.89,412.5 L1026.07,412.51 L1026.24,412.52 L1026.41,412.45 L1026.59,411.43 L1026.76,409.18 L1026.94,405.7 L1027.11,400.98 L1027.28,395.03 L1027.46,387.85 L1027.63,379.43 L1027.81,369.78 L1027.98,358.9 L1028.15,346.82 L1028.21,342.51 L1028.33,352.53 L1028.5,364.71 L1028.68,374.17 L1028.85,381.55 L1029.02,387.33 L1029.2,391.88 L1029.37,395.47 L1029.55,398.33 L1029.72,400.61 L1029.89,402.45 L1030.07,403.95 L1030.24,405.17 L1030.42,406.17 L1030.59,407 L1030.76,407.7 L1030.94,408.29 L1031.11,408.79 L1031.29,409.22 L1031.46,409.58 L1031.63,409.9 L1031.81,410.18 L1031.98,410.43 L1032.16,410.65 L1032.33,410.84 L1032.5,411.01 L1032.68,411.16 L1032.85,411.3 L1033.03,411.42 L1033.2,411.53 L1033.37,411.63 L1033.55,411.72 L1033.72,411.8 L1033.9,411.87 L1034.07,411.94 L1034.24,412 L1034.42,412.05 L1034.59,412.1 L1034.77,412.15 L1034.94,412.19 L1035.11,412.22 L1035.29,412.26 L1035.46,412.29 L1035.64,412.32 L1035.81,412.34 L1035.98,412.37 L1036.16,412.39 L1036.33,412.41 L1036.51,412.42 L1036.68,412.44 L1036.85,412.45 L1037.03,412.47 L1037.2,412.48 L1037.38,412.49 L1037.55,412.5 L1037.72,412.51 L1037.9,412.52 L1038.07,412.46 L1038.25,411.45 L1038.42,409.23 L1038.59,405.8 L1038.77,401.16 L1038.94,395.29 L1039.12,388.22 L1039.29,379.93 L1039.46,370.43 L1039.64,359.72 L1039.81,347.82 L1039.87,343.57 L1039.99,353.44 L1040.16,365.43 L1040.33,374.75 L1040.51,382.02 L1040.68,387.72 L1040.86,392.19 L1041.03,395.73 L1041.2,398.54 L1041.38,400.8 L1041.55,402.61 L1041.73,404.08 L1041.9,405.28 L1042.07,406.27 L1042.25,407.09 L1042.42,407.77 L1042.6,408.35 L1042.77,408.85 L1042.94,409.27 L1043.12,409.63 L1043.29,409.94 L1043.47,410.22 L1043.64,410.46 L1043.81,410.67 L1043.99,410.86 L1044.16,411.03 L1044.34,411.18 L1044.51,411.32 L1044.68,411.44 L1044.86,411.54 L1045.03,411.64 L1045.21,411.73 L1045.38,411.81 L1045.55,411.88 L1045.73,411.95 L1045.9,412.01 L1046.08,412.06 L1046.25,412.11 L1046.42,412.15 L1046.6,412.19 L1046.77,412.23 L1046.95,412.26 L1047.12,412.29 L1047.29,412.32 L1047.47,412.35 L1047.64,412.37 L1047.82,412.39 L1047.99,412.41 L1048.16,412.43 L1048.34,412.44 L1048.51,412.46 L1048.69,412.47 L1048.86,412.48 L1049.03,412.49 L1049.21,412.5 L1049.38,412.51 L1049.56,412.52 L1049.73,412.46 L1049.9,411.47 L1050.08,409.29 L1050.25,405.91 L1050.43,401.33 L1050.6,395.56 L1050.77,388.6 L1050.95,380.44 L1051.12,371.08 L1051.3,360.53 L1051.47,348.81 L1051.53,344.63 L1051.64,354.35 L1051.82,366.16 L1051.99,375.34 L1052.17,382.49 L1052.34,388.1 L1052.51,392.51 L1052.69,395.99 L1052.86,398.76 L1053.04,400.98 L1053.21,402.76 L1053.38,404.21 L1053.56,405.39 L1053.73,406.36 L1053.91,407.17 L1054.08,407.85 L1054.25,408.42 L1054.43,408.9 L1054.6,409.32 L1054.78,409.68 L1054.95,409.99 L1055.12,410.26 L1055.3,410.49 L1055.47,410.7 L1055.65,410.89 L1055.82,411.06 L1055.99,411.2 L1056.17,411.34 L1056.34,411.45 L1056.52,411.56 L1056.69,411.66 L1056.86,411.74 L1057.04,411.82 L1057.21,411.89 L1057.39,411.96 L1057.56,412.02 L1057.73,412.07 L1057.91,412.12 L1058.08,412.16 L1058.26,412.2 L1058.43,412.24 L1058.6,412.27 L1058.78,412.3 L1058.95,412.33 L1059.13,412.35 L1059.3,412.37 L1059.47,412.39 L1059.65,412.41 L1059.82,412.43 L1060,412.44 L1060.17,412.46 L1060.34,412.47 L1060.52,412.48 L1060.69,412.49 L1060.87,412.5 L1061.04,412.51 L1061.21,412.52 L1061.39,412.46 L1061.56,411.54 L1061.74,409.49 L1061.91,406.32 L1062.08,402.03 L1062.26,396.62 L1062.43,390.09 L1062.61,382.44 L1062.78,373.67 L1062.95,363.78 L1063.13,352.8 L1063.19,348.88 L1063.3,357.99 L1063.48,369.06 L1063.65,377.67 L1063.82,384.38 L1064,389.63 L1064.17,393.76 L1064.35,397.03 L1064.52,399.63 L1064.69,401.7 L1064.87,403.38 L1065.04,404.73 L1065.22,405.84 L1065.39,406.75 L1065.56,407.51 L1065.74,408.15 L1065.91,408.68 L1066.09,409.13 L1066.26,409.52 L1066.43,409.86 L1066.61,410.15 L1066.78,410.4 L1066.96,410.63 L1067.13,410.82 L1067.3,411 L1067.48,411.15 L1067.65,411.29 L1067.83,411.41 L1068,411.53 L1068.17,411.63 L1068.35,411.72 L1068.52,411.8 L1068.7,411.87 L1068.87,411.94 L1069.04,412 L1069.22,412.05 L1069.39,412.1 L1069.57,412.15 L1069.74,412.19 L1069.91,412.23 L1070.09,412.26 L1070.26,412.29 L1070.44,412.32 L1070.61,412.34 L1070.78,412.37 L1070.96,412.39 L1071.13,412.41 L1071.31,412.42 L1071.48,412.44 L1071.65,412.45 L1071.83,412.47 L1072,412.48 L1072.18,412.49 L1072.35,412.5 L1072.52,412.51 L1072.7,412.52 L1072.87,412.52 L1073.05,412.47 L1073.22,411.52 L1073.39,409.44 L1073.57,406.22 L1073.74,401.86 L1073.92,396.36 L1074.09,389.72 L1074.26,381.94 L1074.44,373.03 L1074.61,362.97 L1074.79,351.8 L1074.84,347.82 L1074.96,357.08 L1075.13,368.34 L1075.31,377.08 L1075.48,383.9 L1075.66,389.25 L1075.83,393.45 L1076,396.77 L1076.18,399.41 L1076.35,401.52 L1076.53,403.22 L1076.7,404.6 L1076.87,405.73 L1077.05,406.66 L1077.22,407.43 L1077.4,408.07 L1077.57,408.61 L1077.74,409.08 L1077.92,409.47 L1078.09,409.81 L1078.27,410.11 L1078.44,410.37 L1078.61,410.59 L1078.79,410.79 L1078.96,410.97 L1079.14,411.13 L1079.31,411.27 L1079.48,411.4 L1079.66,411.51 L1079.83,411.61 L1080.01,411.7 L1080.18,411.78 L1080.35,411.86 L1080.53,411.93 L1080.7,411.99 L1080.88,412.04 L1081.05,412.09 L1081.22,412.14 L1081.4,412.18 L1081.57,412.22 L1081.75,412.25 L1081.92,412.28 L1082.09,412.31 L1082.27,412.34 L1082.44,412.36 L1082.62,412.38 L1082.79,412.4 L1082.96,412.42 L1083.14,412.44 L1083.31,412.45 L1083.49,412.46 L1083.66,412.48 L1083.83,412.49 L1084.01,412.5 L1084.18,412.51 L1084.36,412.52 L1084.53,412.52 L1084.7,412.47 L1084.88,411.62 L1085.05,409.72 L1085.23,406.79 L1085.4,402.82 L1085.57,397.82 L1085.75,391.78 L1085.92,384.7 L1086.1,376.59 L1086.27,367.44 L1086.44,357.29 L1086.5,353.66 L1086.62,362.09 L1086.79,372.33 L1086.97,380.29 L1087.14,386.49 L1087.31,391.35 L1087.49,395.17 L1087.66,398.2 L1087.84,400.6 L1088.01,402.52 L1088.18,404.07 L1088.36,405.32 L1088.53,406.35 L1088.71,407.19 L1088.88,407.89 L1089.05,408.48 L1089.23,408.97 L1089.4,409.39 L1089.58,409.75 L1089.75,410.06 L1089.92,410.33 L1090.1,410.57 L1090.27,410.77 L1090.45,410.96 L1090.62,411.12 L1090.79,411.26 L1090.97,411.39 L1091.14,411.5 L1091.32,411.61 L1091.49,411.7 L1091.66,411.78 L1091.84,411.86 L1092.01,411.93 L1092.19,411.99 L1092.36,412.04 L1092.53,412.09 L1092.71,412.14 L1092.88,412.18 L1093.06,412.22 L1093.23,412.25 L1093.4,412.28 L1093.58,412.31 L1093.75,412.34 L1093.93,412.36 L1094.1,412.38 L1094.27,412.4 L1094.45,412.42 L1094.62,412.44 L1094.8,412.45 L1094.97,412.46 L1095.14,412.48 L1095.32,412.49 L1095.49,412.5 L1095.67,412.51 L1095.84,412.52 L1096.01,412.52 L1096.19,412.53 L1096.36,412.48 L1096.54,411.61 L1096.71,409.7 L1096.88,406.74 L1097.06,402.74 L1097.23,397.69 L1097.41,391.6 L1097.58,384.46 L1097.75,376.27 L1097.93,367.04 L1098.1,356.79 L1098.16,353.13 L1098.28,361.63 L1098.45,371.96 L1098.62,379.99 L1098.8,386.26 L1098.97,391.16 L1099.15,395.02 L1099.32,398.07 L1099.49,400.49 L1099.67,402.43 L1099.84,403.99 L1100.02,405.26 L1100.19,406.29 L1100.36,407.14 L1100.54,407.85 L1100.71,408.44 L1100.89,408.94 L1101.06,409.37 L1101.23,409.73 L1101.41,410.04 L1101.58,410.31 L1101.76,410.55 L1101.93,410.76 L1102.1,410.94 L1102.28,411.1 L1102.45,411.25 L1102.63,411.38 L1102.8,411.49 L1102.97,411.6 L1103.15,411.69 L1103.32,411.78 L1103.5,411.85 L1103.67,411.92 L1103.84,411.98 L1104.02,412.04 L1104.19,412.09 L1104.37,412.14 L1104.54,412.18 L1104.71,412.22 L1104.89,412.25 L1105.06,412.28 L1105.24,412.31 L1105.41,412.34 L1105.58,412.36 L1105.76,412.38 L1105.93,412.4 L1106.11,412.42 L1106.28,412.44 L1106.45,412.45 L1106.63,412.46 L1106.8,412.48 L1106.98,412.49 L1107.15,412.5 L1107.32,412.51 L1107.5,412.51 L1107.67,412.52 L1107.85,412.53 L1108.02,412.48 L1108.19,411.63 L1108.37,409.75 L1108.54,406.85 L1108.72,402.92 L1108.89,397.96 L1109.06,391.97 L1109.24,384.96 L1109.41,376.92 L1109.59,367.85 L1109.76,357.78 L1109.82,354.19 L1109.93,362.54 L1110.11,372.69 L1110.28,380.58 L1110.46,386.73 L1110.63,391.54 L1110.8,395.33 L1110.98,398.33 L1111.15,400.71 L1111.33,402.61 L1111.5,404.15 L1111.67,405.39 L1111.85,406.4 L1112.02,407.24 L1112.2,407.94 L1112.37,408.52 L1112.54,409.01 L1112.72,409.42 L1112.89,409.78 L1113.07,410.09 L1113.24,410.35 L1113.41,410.59 L1113.59,410.79 L1113.76,410.97 L1113.94,411.13 L1114.11,411.27 L1114.28,411.4 L1114.46,411.51 L1114.63,411.62 L1114.81,411.71 L1114.98,411.79 L1115.15,411.86 L1115.33,411.93 L1115.5,411.99 L1115.68,412.05 L1115.85,412.1 L1116.02,412.14 L1116.2,412.18 L1116.37,412.22 L1116.55,412.26 L1116.72,412.29 L1116.89,412.32 L1117.07,412.34 L1117.24,412.36 L1117.42,412.39 L1117.59,412.4 L1117.76,412.42 L1117.94,412.44 L1118.11,412.45 L1118.29,412.47 L1118.46,412.48 L1118.63,412.49 L1118.81,412.5 L1118.98,412.51 L1119.16,412.52 L1119.33,412.52 L1119.5,412.53 L1119.68,412.48 L1119.85,411.65 L1120.03,409.8 L1120.2,406.95 L1120.37,403.09 L1120.55,398.22 L1120.72,392.35 L1120.9,385.46 L1121.07,377.57 L1121.24,368.67 L1121.42,358.78 L1121.48,355.25 L1121.59,363.45 L1121.77,373.42 L1121.94,381.16 L1122.11,387.2 L1122.29,391.93 L1122.46,395.65 L1122.64,398.59 L1122.81,400.92 L1122.98,402.79 L1123.16,404.3 L1123.33,405.52 L1123.51,406.52 L1123.68,407.34 L1123.85,408.02 L1124.03,408.59 L1124.2,409.07 L1124.38,409.48 L1124.55,409.83 L1124.72,410.13 L1124.9,410.39 L1125.07,410.62 L1125.25,410.82 L1125.42,411 L1125.59,411.16 L1125.77,411.3 L1125.94,411.42 L1126.12,411.53 L1126.29,411.63 L1126.46,411.72 L1126.64,411.8 L1126.81,411.88 L1126.99,411.94 L1127.16,412 L1127.33,412.06 L1127.51,412.11 L1127.68,412.15 L1127.86,412.19 L1128.03,412.23 L1128.2,412.26 L1128.38,412.29 L1128.55,412.32 L1128.73,412.35 L1128.9,412.37 L1129.07,412.39 L1129.25,412.41 L1129.42,412.43 L1129.6,412.44 L1129.77,412.46 L1129.94,412.47 L1130.12,412.48 L1130.29,412.49 L1130.47,412.5 L1130.64,412.51 L1130.81,412.52 L1130.99,412.52 L1131.16,412.53 L1131.34,412.48 L1131.51,411.68 L1131.68,409.91 L1131.86,407.16 L1132.03,403.44 L1132.21,398.76 L1132.38,393.1 L1132.55,386.47 L1132.73,378.86 L1132.9,370.29 L1133.08,360.77 L1133.13,357.38 L1133.25,365.27 L1133.42,374.87 L1133.6,382.32 L1133.77,388.14 L1133.95,392.69 L1134.12,396.27 L1134.29,399.11 L1134.47,401.36 L1134.64,403.16 L1134.82,404.61 L1134.99,405.78 L1135.16,406.74 L1135.34,407.53 L1135.51,408.19 L1135.69,408.74 L1135.86,409.2 L1136.03,409.6 L1136.21,409.93 L1136.38,410.22 L1136.56,410.48 L1136.73,410.7 L1136.9,410.89 L1137.08,411.06 L1137.25,411.21 L1137.43,411.35 L1137.6,411.47 L1137.77,411.57 L1137.95,411.67 L1138.12,411.76 L1138.3,411.83 L1138.47,411.9 L1138.64,411.97 L1138.82,412.03 L1138.99,412.08 L1139.17,412.13 L1139.34,412.17 L1139.51,412.21 L1139.69,412.24 L1139.86,412.28 L1140.04,412.3 L1140.21,412.33 L1140.38,412.36 L1140.56,412.38 L1140.73,412.4 L1140.91,412.42 L1141.08,412.43 L1141.25,412.45 L1141.43,412.46 L1141.6,412.47 L1141.78,412.48 L1141.95,412.49 L1142.12,412.5 L1142.3,412.51 L1142.47,412.52 L1142.65,412.53 L1142.82,412.53 L1142.99,412.49 L1143.17,411.72 L1143.34,410.01 L1143.52,407.37 L1143.69,403.8 L1143.86,399.29 L1144.04,393.85 L1144.21,387.47 L1144.39,380.16 L1144.56,371.92 L1144.73,362.77 L1144.79,359.5 L1144.91,367.09 L1145.08,376.32 L1145.26,383.49 L1145.43,389.08 L1145.6,393.46 L1145.78,396.9 L1145.95,399.62 L1146.13,401.79 L1146.3,403.52 L1146.47,404.91 L1146.65,406.04 L1146.82,406.97 L1147,407.73 L1147.17,408.36 L1147.34,408.89 L1147.52,409.33 L1147.69,409.71 L1147.87,410.04 L1148.04,410.32 L1148.21,410.56 L1148.39,410.77 L1148.56,410.96 L1148.74,411.12 L1148.91,411.26 L1149.08,411.39 L1149.26,411.51 L1149.43,411.61 L1149.61,411.71 L1149.78,411.79 L1149.95,411.86 L1150.13,411.93 L1150.3,411.99 L1150.48,412.05 L1150.65,412.1 L1150.82,412.14 L1151,412.19 L1151.17,412.22 L1151.35,412.26 L1151.52,412.29 L1151.69,412.32 L1151.87,412.34 L1152.04,412.36 L1152.22,412.39 L1152.39,412.4 L1152.56,412.42 L1152.74,412.44 L1152.91,412.45 L1153.09,412.47 L1153.26,412.48 L1153.43,412.49 L1153.61,412.5 L1153.78,412.51 L1153.96,412.52 L1154.13,412.52 L1154.3,412.53 L1154.48,412.54 L1154.65,412.49 L1154.83,411.73 L1155,410.06 L1155.17,407.47 L1155.35,403.97 L1155.52,399.55 L1155.7,394.22 L1155.87,387.97 L1156.04,380.81 L1156.22,372.73 L1156.39,363.76 L1156.45,360.56 L1156.57,368 L1156.74,377.04 L1156.91,384.07 L1157.09,389.55 L1157.26,393.84 L1157.44,397.22 L1157.61,399.88 L1157.78,402 L1157.96,403.7 L1158.13,405.07 L1158.31,406.18 L1158.48,407.08 L1158.65,407.83 L1158.83,408.44 L1159,408.96 L1159.18,409.4 L1159.35,409.77 L1159.52,410.09 L1159.7,410.36 L1159.87,410.6 L1160.05,410.81 L1160.22,410.99 L1160.39,411.15 L1160.57,411.29 L1160.74,411.42 L1160.92,411.53 L1161.09,411.63 L1161.26,411.72 L1161.44,411.8 L1161.61,411.88 L1161.79,411.94 L1161.96,412 L1162.13,412.06 L1162.31,412.11 L1162.48,412.15 L1162.66,412.19 L1162.83,412.23 L1163,412.26 L1163.18,412.29 L1163.35,412.32 L1163.53,412.35 L1163.7,412.37 L1163.87,412.39 L1164.05,412.41 L1164.22,412.43 L1164.4,412.44 L1164.57,412.46 L1164.74,412.47 L1164.92,412.48 L1165.09,412.49 L1165.27,412.5 L1165.44,412.51 L1165.61,412.52 L1165.79,412.53 L1165.96,412.53 L1166.14,412.54 L1166.31,412.49 L1166.48,411.71 L1166.66,409.99 L1166.83,407.32 L1167.01,403.71 L1167.18,399.16 L1167.35,393.66 L1167.53,387.22 L1167.7,379.84 L1167.88,371.51 L1168.05,362.27 L1168.11,358.97 L1168.22,366.64 L1168.4,375.96 L1168.57,383.2 L1168.75,388.84 L1168.92,393.27 L1169.09,396.74 L1169.27,399.49 L1169.44,401.68 L1169.62,403.43 L1169.79,404.84 L1169.96,405.98 L1170.14,406.91 L1170.31,407.68 L1170.49,408.32 L1170.66,408.85 L1170.83,409.3 L1171.01,409.68 L1171.18,410.01 L1171.36,410.29 L1171.53,410.54 L1171.7,410.75 L1171.88,410.94 L1172.05,411.1 L1172.23,411.25 L1172.4,411.38 L1172.57,411.5 L1172.75,411.6 L1172.92,411.7 L1173.1,411.78 L1173.27,411.86 L1173.44,411.92 L1173.62,411.99 L1173.79,412.04 L1173.97,412.09 L1174.14,412.14 L1174.31,412.18 L1174.49,412.22 L1174.66,412.25 L1174.84,412.28 L1175.01,412.31 L1175.18,412.34 L1175.36,412.36 L1175.53,412.38 L1175.71,412.4 L1175.88,412.42 L1176.05,412.44 L1176.23,412.45 L1176.4,412.46 L1176.58,412.48 L1176.75,412.49 L1176.92,412.5 L1177.1,412.51 L1177.27,412.52 L1177.45,412.52 L1177.62,412.53 L1177.79,412.54 L1177.97,412.49 L1178.14,411.73 L1178.32,410.06 L1178.49,407.47 L1178.66,403.97 L1178.84,399.55 L1179.01,394.22 L1179.19,387.97 L1179.36,380.81 L1179.53,372.73 L1179.71,363.76 L1179.77,360.56 L1179.88,368 L1180.06,377.04 L1180.23,384.07 L1180.4,389.55 L1180.58,393.84 L1180.75,397.22 L1180.93,399.88 L1181.1,402 L1181.27,403.7 L1181.45,405.07 L1181.62,406.18 L1181.8,407.08 L1181.97,407.83 L1182.14,408.44 L1182.32,408.96 L1182.49,409.4 L1182.67,409.77 L1182.84,410.09 L1183.01,410.36 L1183.19,410.6 L1183.36,410.81 L1183.54,410.99 L1183.71,411.15 L1183.88,411.29 L1184.06,411.42 L1184.23,411.53 L1184.41,411.63 L1184.58,411.72 L1184.75,411.8 L1184.93,411.88 L1185.1,411.94 L1185.28,412 L1185.45,412.06 L1185.62,412.11 L1185.8,412.15 L1185.97,412.19 L1186.15,412.23 L1186.32,412.26 L1186.49,412.29 L1186.67,412.32 L1186.84,412.35 L1187.02,412.37 L1187.19,412.39 L1187.36,412.41 L1187.54,412.43 L1187.71,412.44 L1187.89,412.46 L1188.06,412.47 L1188.23,412.48 L1188.41,412.49 L1188.58,412.5 L1188.76,412.51 L1188.93,412.52 L1189.1,412.53 L1189.28,412.53 L1189.45,412.54 L1189.63,412.49 L1189.8,411.7 L1189.97,409.96 L1190.15,407.27 L1190.32,403.62 L1190.5,399.02 L1190.67,393.47 L1190.84,386.97 L1191.02,379.52 L1191.19,371.11 L1191.37,361.77 L1191.42,358.44 L1191.54,366.18 L1191.71,375.59 L1191.89,382.91 L1192.06,388.61 L1192.24,393.07 L1192.41,396.59 L1192.58,399.36 L1192.76,401.57 L1192.93,403.34 L1193.11,404.76 L1193.28,405.91 L1193.45,406.86 L1193.63,407.63 L1193.8,408.27 L1193.98,408.81 L1194.15,409.27 L1194.32,409.65 L1194.5,409.98 L1194.67,410.27 L1194.85,410.52 L1195.02,410.73 L1195.19,410.92 L1195.37,411.09 L1195.54,411.24 L1195.72,411.37 L1195.89,411.49 L1196.06,411.59 L1196.24,411.69 L1196.41,411.77 L1196.59,411.85 L1196.76,411.92 L1196.93,411.98 L1197.11,412.04 L1197.28,412.09 L1197.46,412.13 L1197.63,412.18 L1197.8,412.22 L1197.98,412.25 L1198.15,412.28 L1198.33,412.31 L1198.5,412.34 L1198.67,412.36 L1198.85,412.38 L1199.02,412.4 L1199.2,412.42 L1199.37,412.44 L1199.54,412.45 L1199.72,412.46 L1199.89,412.48 L1200.07,412.49 L1200.24,412.5 L1200.41,412.51 L1200.59,412.51 L1200.76,412.52 L1200.94,412.53 L1201.11,412.54 L1201.28,412.49 L1201.46,411.72 L1201.63,410.01 L1201.81,407.37 L1201.98,403.8 L1202.15,399.29 L1202.33,393.85 L1202.5,387.47 L1202.68,380.16 L1202.85,371.92 L1203.02,362.77 L1203.08,359.5 L1203.2,367.09 L1203.37,376.32 L1203.55,383.49 L1203.72,389.08 L1203.89,393.46 L1204.07,396.9 L1204.24,399.62 L1204.42,401.79 L1204.59,403.52 L1204.76,404.91 L1204.94,406.04 L1205.11,406.97 L1205.29,407.73 L1205.46,408.36 L1205.63,408.89 L1205.81,409.33 L1205.98,409.71 L1206.16,410.04 L1206.33,410.32 L1206.5,410.56 L1206.68,410.77 L1206.85,410.96 L1207.03,411.12 L1207.2,411.26 L1207.37,411.39 L1207.55,411.51 L1207.72,411.61 L1207.9,411.71 L1208.07,411.79 L1208.24,411.86 L1208.42,411.93 L1208.59,411.99 L1208.77,412.05 L1208.94,412.1 L1209.11,412.14 L1209.29,412.19 L1209.46,412.22 L1209.64,412.26 L1209.81,412.29 L1209.98,412.32 L1210.16,412.34 L1210.33,412.36 L1210.51,412.39 L1210.68,412.4 L1210.85,412.42 L1211.03,412.44 L1211.2,412.45 L1211.38,412.47 L1211.55,412.48 L1211.72,412.49 L1211.9,412.5 L1212.07,412.51 L1212.25,412.52 L1212.42,412.52 L1212.59,412.53 L1212.77,412.54 L1212.94,412.49 L1213.12,411.73 L1213.29,410.06 L1213.46,407.47 L1213.64,403.97 L1213.81,399.55 L1213.99,394.22 L1214.16,387.97 L1214.33,380.81 L1214.51,372.73 L1214.68,363.76 L1214.74,360.56 L1214.86,368 L1215.03,377.04 L1215.2,384.07 L1215.38,389.55 L1215.55,393.84 L1215.73,397.22 L1215.9,399.88 L1216.07,402 L1216.25,403.7 L1216.42,405.07 L1216.6,406.18 L1216.77,407.08 L1216.94,407.83 L1217.12,408.44 L1217.29,408.96 L1217.47,409.4 L1217.64,409.77 L1217.81,410.09 L1217.99,410.36 L1218.16,410.6 L1218.34,410.81 L1218.51,410.99 L1218.68,411.15 L1218.86,411.29 L1219.03,411.42 L1219.21,411.53 L1219.38,411.63 L1219.55,411.72 L1219.73,411.8 L1219.9,411.88 L1220.08,411.94 L1220.25,412 L1220.42,412.06 L1220.6,412.11 L1220.77,412.15 L1220.95,412.19 L1221.12,412.23 L1221.29,412.26 L1221.47,412.29 L1221.64,412.32 L1221.82,412.35 L1221.99,412.37 L1222.16,412.39 L1222.34,412.41 L1222.51,412.43 L1222.69,412.44 L1222.86,412.46 L1223.03,412.47 L1223.21,412.48 L1223.38,412.49 L1223.56,412.5 L1223.73,412.51 L1223.9,412.52 L1224.08,412.53 L1224.25,412.53 L1224.43,412.54 L1224.6,412.49 L1224.77,411.69 L1224.95,409.91 L1225.12,407.16 L1225.3,403.45 L1225.47,398.76 L1225.64,393.1 L1225.82,386.47 L1225.99,378.87 L1226.17,370.29 L1226.34,360.77 L1226.4,357.38 L1226.51,365.27 L1226.69,374.87 L1226.86,382.32 L1227.04,388.14 L1227.21,392.69 L1227.38,396.27 L1227.56,399.11 L1227.73,401.36 L1227.91,403.16 L1228.08,404.61 L1228.25,405.78 L1228.43,406.74 L1228.6,407.53 L1228.78,408.19 L1228.95,408.74 L1229.12,409.2 L1229.3,409.6 L1229.47,409.93 L1229.65,410.22 L1229.82,410.48 L1229.99,410.7 L1230.17,410.89 L1230.34,411.06 L1230.52,411.21 L1230.69,411.35 L1230.86,411.47 L1231.04,411.57 L1231.21,411.67 L1231.39,411.76 L1231.56,411.83 L1231.73,411.9 L1231.91,411.97 L1232.08,412.03 L1232.26,412.08 L1232.43,412.13 L1232.6,412.17 L1232.78,412.21 L1232.95,412.24 L1233.13,412.28 L1233.3,412.3 L1233.47,412.33 L1233.65,412.36 L1233.82,412.38 L1234,412.4 L1234.17,412.42 L1234.34,412.43 L1234.52,412.45 L1234.69,412.46 L1234.87,412.47 L1235.04,412.48 L1235.21,412.49 L1235.39,412.5 L1235.56,412.51 L1235.74,412.52 L1235.91,412.53 L1236.08,412.53 L1236.26,412.49 L1236.43,411.7 L1236.61,409.96 L1236.78,407.27 L1236.95,403.62 L1237.13,399.02 L1237.3,393.47 L1237.48,386.97 L1237.65,379.51 L1237.82,371.11 L1238,361.77 L1238.06,358.44 L1238.17,366.18 L1238.35,375.59 L1238.52,382.91 L1238.69,388.61 L1238.87,393.07 L1239.04,396.59 L1239.22,399.36 L1239.39,401.57 L1239.56,403.34 L1239.74,404.76 L1239.91,405.91 L1240.09,406.86 L1240.26,407.63 L1240.43,408.27 L1240.61,408.81 L1240.78,409.27 L1240.96,409.65 L1241.13,409.98 L1241.3,410.27 L1241.48,410.52 L1241.65,410.73 L1241.83,410.92 L1242,411.09 L1242.17,411.24 L1242.35,411.37 L1242.52,411.49 L1242.7,411.59 L1242.87,411.69 L1243.04,411.77 L1243.22,411.85 L1243.39,411.92 L1243.57,411.98 L1243.74,412.04 L1243.91,412.09 L1244.09,412.13 L1244.26,412.18 L1244.44,412.22 L1244.61,412.25 L1244.78,412.28 L1244.96,412.31 L1245.13,412.34 L1245.31,412.36 L1245.48,412.38 L1245.65,412.4 L1245.83,412.42 L1246,412.44 L1246.18,412.45 L1246.35,412.46 L1246.52,412.48 L1246.7,412.49 L1246.87,412.5 L1247.05,412.51 L1247.22,412.51 L1247.39,412.52 L1247.57,412.53 L1247.74,412.54 L1247.92,412.49 L1248.09,411.67 L1248.26,409.86 L1248.44,407.06 L1248.61,403.27 L1248.79,398.49 L1248.96,392.72 L1249.13,385.97 L1249.31,378.22 L1249.48,369.48 L1249.66,359.78 L1249.71,356.31 L1249.83,364.36 L1250,374.14 L1250.18,381.74 L1250.35,387.67 L1250.53,392.31 L1250.7,395.96 L1250.87,398.85 L1251.05,401.14 L1251.22,402.97 L1251.4,404.45 L1251.57,405.65 L1251.74,406.63 L1251.92,407.44 L1252.09,408.11 L1252.27,408.66 L1252.44,409.14 L1252.61,409.54 L1252.79,409.88 L1252.96,410.18 L1253.14,410.44 L1253.31,410.66 L1253.48,410.86 L1253.66,411.03 L1253.83,411.18 L1254.01,411.32 L1254.18,411.44 L1254.35,411.55 L1254.53,411.65 L1254.7,411.74 L1254.88,411.82 L1255.05,411.89 L1255.22,411.96 L1255.4,412.01 L1255.57,412.07 L1255.75,412.12 L1255.92,412.16 L1256.09,412.2 L1256.27,412.24 L1256.44,412.27 L1256.62,412.3 L1256.79,412.33 L1256.96,412.35 L1257.14,412.37 L1257.31,412.39 L1257.49,412.41 L1257.66,412.43 L1257.83,412.44 L1258.01,412.46 L1258.18,412.47 L1258.36,412.48 L1258.53,412.49 L1258.7,412.5 L1258.88,412.51 L1259.05,412.52 L1259.23,412.53 L1259.4,412.53 L1259.57,412.49 L1259.75,411.76 L1259.92,410.16 L1260.1,407.68 L1260.27,404.32 L1260.44,400.08 L1260.62,394.97 L1260.79,388.98 L1260.97,382.11 L1261.14,374.36 L1261.31,365.76 L1261.37,362.69 L1261.49,369.82 L1261.66,378.5 L1261.84,385.23 L1262.01,390.49 L1262.18,394.61 L1262.36,397.84 L1262.53,400.4 L1262.71,402.44 L1262.88,404.06 L1263.05,405.37 L1263.23,406.44 L1263.4,407.31 L1263.58,408.02 L1263.75,408.61 L1263.92,409.11 L1264.1,409.53 L1264.27,409.88 L1264.45,410.19 L1264.62,410.45 L1264.79,410.68 L1264.97,410.88 L1265.14,411.05 L1265.32,411.21 L1265.49,411.34 L1265.66,411.47 L1265.84,411.57 L1266.01,411.67 L1266.19,411.76 L1266.36,411.84 L1266.53,411.91 L1266.71,411.97 L1266.88,412.03 L1267.06,412.08 L1267.23,412.13 L1267.4,412.17 L1267.58,412.21 L1267.75,412.25 L1267.93,412.28 L1268.1,412.31 L1268.27,412.33 L1268.45,412.36 L1268.62,412.38 L1268.8,412.4 L1268.97,412.42 L1269.14,412.43 L1269.32,412.45 L1269.49,412.46 L1269.67,412.47 L1269.84,412.49 L1270.01,412.5 L1270.19,412.5 L1270.36,412.51 L1270.54,412.52 L1270.71,412.53 L1270.88,412.53 L1271.06,412.54 L1271.23,412.5 L1271.41,411.74 L1271.58,410.07 L1271.75,407.48 L1271.93,403.97 L1272.1,399.56 L1272.28,394.22 L1272.45,387.98 L1272.62,380.81 L1272.8,372.74 L1272.97,363.76 L1273.03,360.56 L1273.15,368 L1273.32,377.04 L1273.49,384.07 L1273.67,389.55 L1273.84,393.84 L1274.02,397.22 L1274.19,399.88 L1274.36,402 L1274.54,403.7 L1274.71,405.07 L1274.89,406.18 L1275.06,407.08 L1275.23,407.83 L1275.41,408.44 L1275.58,408.96 L1275.76,409.4 L1275.93,409.77 L1276.1,410.09 L1276.28,410.36 L1276.45,410.6 L1276.63,410.81 L1276.8,410.99 L1276.97,411.15 L1277.15,411.29 L1277.32,411.42 L1277.5,411.53 L1277.67,411.63 L1277.84,411.72 L1278.02,411.8 L1278.19,411.88 L1278.37,411.94 L1278.54,412 L1278.71,412.06 L1278.89,412.11 L1279.06,412.15 L1279.24,412.19 L1279.41,412.23 L1279.58,412.26 L1279.76,412.29 L1279.93,412.32 L1280.11,412.35 L1280.28,412.37 L1280.45,412.39 L1280.63,412.41 L1280.8,412.43 L1280.98,412.44 L1281.15,412.46 L1281.32,412.47 L1281.5,412.48 L1281.67,412.49 L1281.85,412.5 L1282.02,412.51 L1282.19,412.52 L1282.37,412.53 L1282.54,412.53 L1282.72,412.54 L1282.89,412.49 L1283.06,411.72 L1283.24,410.01 L1283.41,407.37 L1283.59,403.8 L1283.76,399.29 L1283.93,393.85 L1284.11,387.47 L1284.28,380.16 L1284.46,371.92 L1284.63,362.77 L1284.69,359.5 L1284.8,367.09 L1284.98,376.32 L1285.15,383.49 L1285.33,389.08 L1285.5,393.46 L1285.67,396.9 L1285.85,399.62 L1286.02,401.79 L1286.2,403.52 L1286.37,404.91 L1286.54,406.04 L1286.72,406.97 L1286.89,407.73 L1287.07,408.36 L1287.24,408.89 L1287.41,409.33 L1287.59,409.71 L1287.76,410.04 L1287.94,410.32 L1288.11,410.56 L1288.28,410.77 L1288.46,410.96 L1288.63,411.12 L1288.81,411.26 L1288.98,411.39 L1289.15,411.51 L1289.33,411.61 L1289.5,411.71 L1289.68,411.79 L1289.85,411.86 L1290.02,411.93 L1290.2,411.99 L1290.37,412.05 L1290.55,412.1 L1290.72,412.14 L1290.89,412.19 L1291.07,412.22 L1291.24,412.26 L1291.42,412.29 L1291.59,412.32 L1291.76,412.34 L1291.94,412.36 L1292.11,412.39 L1292.29,412.4 L1292.46,412.42 L1292.63,412.44 L1292.81,412.45 L1292.98,412.47 L1293.16,412.48 L1293.33,412.49 L1293.5,412.5 L1293.68,412.51 L1293.85,412.52 L1294.03,412.52 L1294.2,412.53 L1294.37,412.54 L1294.55,412.49 L1294.72,411.72 L1294.9,410.01 L1295.07,407.37 L1295.24,403.8 L1295.42,399.29 L1295.59,393.85 L1295.77,387.47 L1295.94,380.16 L1296.11,371.92 L1296.29,362.77 L1296.35,359.5 L1296.46,367.09 L1296.64,376.32 L1296.81,383.49 L1296.98,389.08 L1297.16,393.46 L1297.33,396.9 L1297.51,399.62 L1297.68,401.79 L1297.85,403.52 L1298.03,404.91 L1298.2,406.04 L1298.38,406.97 L1298.55,407.73 L1298.72,408.36 L1298.9,408.89 L1299.07,409.33 L1299.25,409.71 L1299.42,410.04 L1299.59,410.32 L1299.77,410.56 L1299.94,410.77 L1300.12,410.96 L1300.29,411.12 L1300.46,411.26 L1300.64,411.39 L1300.81,411.51 L1300.99,411.61 L1301.16,411.71 L1301.33,411.79 L1301.51,411.86 L1301.68,411.93 L1301.86,411.99 L1302.03,412.05 L1302.2,412.1 L1302.38,412.14 L1302.55,412.19 L1302.73,412.22 L1302.9,412.26 L1303.07,412.29 L1303.25,412.32 L1303.42,412.34 L1303.6,412.36 L1303.77,412.39 L1303.94,412.4 L1304.12,412.42 L1304.29,412.44 L1304.47,412.45 L1304.64,412.47 L1304.81,412.48 L1304.99,412.49 L1305.16,412.5 L1305.34,412.51 L1305.51,412.52 L1305.68,412.52 L1305.86,412.53 L1306.03,412.54 L1306.21,412.49 L1306.38,411.67 L1306.55,409.86 L1306.73,407.06 L1306.9,403.27 L1307.08,398.49 L1307.25,392.72 L1307.42,385.97 L1307.6,378.22 L1307.77,369.48 L1307.95,359.78 L1308,356.31 L1308.12,364.36 L1308.29,374.14 L1308.47,381.74 L1308.64,387.67 L1308.82,392.31 L1308.99,395.96 L1309.16,398.85 L1309.34,401.14 L1309.51,402.97 L1309.69,404.45 L1309.86,405.65 L1310.03,406.63 L1310.21,407.44 L1310.38,408.11 L1310.56,408.66 L1310.73,409.14 L1310.9,409.54 L1311.08,409.88 L1311.25,410.18 L1311.43,410.44 L1311.6,410.66 L1311.77,410.86 L1311.95,411.03 L1312.12,411.18 L1312.3,411.32 L1312.47,411.44 L1312.64,411.55 L1312.82,411.65 L1312.99,411.74 L1313.17,411.82 L1313.34,411.89 L1313.51,411.96 L1313.69,412.01 L1313.86,412.07 L1314.04,412.12 L1314.21,412.16 L1314.38,412.2 L1314.56,412.24 L1314.73,412.27 L1314.91,412.3 L1315.08,412.33 L1315.25,412.35 L1315.43,412.37 L1315.6,412.39 L1315.78,412.41 L1315.95,412.43 L1316.12,412.44 L1316.3,412.46 L1316.47,412.47 L1316.65,412.48 L1316.82,412.49 L1316.99,412.5 L1317.17,412.51 L1317.34,412.52 L1317.52,412.53 L1317.69,412.53 L1317.86,412.49 L1318.04,411.68 L1318.21,409.91 L1318.39,407.16 L1318.56,403.44 L1318.73,398.76 L1318.91,393.1 L1319.08,386.47 L1319.26,378.87 L1319.43,370.29 L1319.6,360.77 L1319.66,357.38 L1319.78,365.27 L1319.95,374.87 L1320.13,382.32 L1320.3,388.14 L1320.47,392.69 L1320.65,396.27 L1320.82,399.11 L1321,401.36 L1321.17,403.16 L1321.34,404.61 L1321.52,405.78 L1321.69,406.74 L1321.87,407.53 L1322.04,408.19 L1322.21,408.74 L1322.39,409.2 L1322.56,409.6 L1322.74,409.93 L1322.91,410.22 L1323.08,410.48 L1323.26,410.7 L1323.43,410.89 L1323.61,411.06 L1323.78,411.21 L1323.95,411.35 L1324.13,411.47 L1324.3,411.57 L1324.48,411.67 L1324.65,411.76 L1324.82,411.83 L1325,411.9 L1325.17,411.97 L1325.35,412.03 L1325.52,412.08 L1325.69,412.13 L1325.87,412.17 L1326.04,412.21 L1326.22,412.24 L1326.39,412.28 L1326.56,412.3 L1326.74,412.33 L1326.91,412.36 L1327.09,412.38 L1327.26,412.4 L1327.43,412.42 L1327.61,412.43 L1327.78,412.45 L1327.96,412.46 L1328.13,412.47 L1328.3,412.48 L1328.48,412.49 L1328.65,412.5 L1328.83,412.51 L1329,412.52 L1329.17,412.53 L1329.35,412.53 L1329.52,412.49 L1329.7,411.72 L1329.87,410.01 L1330.04,407.37 L1330.22,403.8 L1330.39,399.29 L1330.57,393.85 L1330.74,387.47 L1330.91,380.16 L1331.09,371.92 L1331.26,362.77 L1331.32,359.5 L1331.44,367.09 L1331.61,376.32 L1331.78,383.49 L1331.96,389.08 L1332.13,393.46 L1332.31,396.9 L1332.48,399.62 L1332.65,401.79 L1332.83,403.52 L1333,404.91 L1333.18,406.04 L1333.35,406.97 L1333.52,407.73 L1333.7,408.36 L1333.87,408.89 L1334.05,409.33 L1334.22,409.71 L1334.39,410.04 L1334.57,410.32 L1334.74,410.56 L1334.92,410.77 L1335.09,410.96 L1335.26,411.12 L1335.44,411.26 L1335.61,411.39 L1335.79,411.51 L1335.96,411.61 L1336.13,411.71 L1336.31,411.79 L1336.48,411.86 L1336.66,411.93 L1336.83,411.99 L1337,412.05 L1337.18,412.1 L1337.35,412.14 L1337.53,412.19 L1337.7,412.22 L1337.87,412.26 L1338.05,412.29 L1338.22,412.32 L1338.4,412.34 L1338.57,412.36 L1338.74,412.39 L1338.92,412.4 L1339.09,412.42 L1339.27,412.44 L1339.44,412.45 L1339.61,412.47 L1339.79,412.48 L1339.96,412.49 L1340.14,412.5 L1340.31,412.51 L1340.48,412.52 L1340.66,412.52 L1340.83,412.53 L1341.01,412.54 L1341.18,412.49 L1341.35,411.68 L1341.53,409.91 L1341.7,407.16 L1341.88,403.45 L1342.05,398.76 L1342.22,393.1 L1342.4,386.47 L1342.57,378.87 L1342.75,370.29 L1342.92,360.77 L1342.98,357.38 L1343.09,365.27 L1343.27,374.87 L1343.44,382.32 L1343.62,388.14 L1343.79,392.69 L1343.96,396.27 L1344.14,399.11 L1344.31,401.36 L1344.49,403.16 L1344.66,404.61 L1344.83,405.78 L1345.01,406.74 L1345.18,407.53 L1345.36,408.19 L1345.53,408.74 L1345.7,409.2 L1345.88,409.6 L1346.05,409.93 L1346.23,410.22 L1346.4,410.48 L1346.57,410.7 L1346.75,410.89 L1346.92,411.06 L1347.1,411.21 L1347.27,411.35 L1347.44,411.47 L1347.62,411.57 L1347.79,411.67 L1347.97,411.76 L1348.14,411.83 L1348.31,411.9 L1348.49,411.97 L1348.66,412.03 L1348.84,412.08 L1349.01,412.13 L1349.18,412.17 L1349.36,412.21 L1349.53,412.24 L1349.71,412.28 L1349.88,412.3 L1350.05,412.33 L1350.23,412.36 L1350.4,412.38 L1350.58,412.4 L1350.75,412.42 L1350.92,412.43 L1351.1,412.45 L1351.27,412.46 L1351.45,412.47 L1351.62,412.48 L1351.79,412.49 L1351.97,412.5 L1352.14,412.51 L1352.32,412.52 L1352.49,412.53 L1352.66,412.53 L1352.84,412.49 L1353.01,411.73 L1353.19,410.06 L1353.36,407.47 L1353.53,403.97 L1353.71,399.55 L1353.88,394.22 L1354.06,387.97 L1354.23,380.81 L1354.4,372.73 L1354.58,363.76 L1354.64,360.56 L1354.75,368 L1354.93,377.04 L1355.1,384.07 L1355.27,389.55 L1355.45,393.84 L1355.62,397.22 L1355.8,399.88 L1355.97,402 L1356.14,403.7 L1356.32,405.07 L1356.49,406.18 L1356.67,407.08 L1356.84,407.83 L1357.01,408.44 L1357.19,408.96 L1357.36,409.4 L1357.54,409.77 L1357.71,410.09 L1357.88,410.36 L1358.06,410.6 L1358.23,410.81 L1358.41,410.99 L1358.58,411.15 L1358.75,411.29 L1358.93,411.42 L1359.1,411.53 L1359.28,411.63 L1359.45,411.72 L1359.62,411.8 L1359.8,411.88 L1359.97,411.94 L1360.15,412 L1360.32,412.06 L1360.49,412.11 L1360.67,412.15 L1360.84,412.19 L1361.02,412.23 L1361.19,412.26 L1361.36,412.29 L1361.54,412.32 L1361.71,412.35 L1361.89,412.37 L1362.06,412.39 L1362.23,412.41 L1362.41,412.43 L1362.58,412.44 L1362.76,412.46 L1362.93,412.47 L1363.1,412.48 L1363.28,412.49 L1363.45,412.5 L1363.63,412.51" fill="none" stroke="#6a6a6a" stroke-width="1.5" stroke-linejoin="round"/><path d="M911.4,413.27 L912.85,412.49 L914.3,412.93 L915.75,412.34 L917.2,412.28 L918.65,413.71 L920.1,413.84 L921.55,411.74 L923,413.21 L924.45,413.28 L925.9,411.34 L927.35,412.68 L928.8,411.74 L930.25,412.66 L931.7,412.25 L933.15,413.49 L934.6,412.26 L936.05,411.66 L937.5,412.54 L938.95,411.99 L940.4,412.16 L941.85,413.71 L943.3,411.94 L944.75,412.37 L946.2,413.11 L947.65,413.8 L949.1,411.67 L950.55,412.67 L952,412.04 L953.45,411.63 L954.9,412.05 L956.35,411.53 L957.8,412.87 L959.25,411.83 L960.7,412.74 L962.15,411.49 L963.6,411.63 L965.05,413.63 L966.5,413.53 L967.95,413.32 L969.4,411.41 L970.85,412.76 L972.3,412.28 L973.75,413.11 L975.2,412.58 L976.65,412.89 L978.1,412.98 L979.55,412.38 L981,412.39 L982.45,411.57 L983.9,412.14 L985.35,411.51 L986.8,411.69 L988.25,411.35 L989.7,412.16 L991.15,413.46 L992.6,411.68 L994.05,411.42 L995.5,411.57 L996.95,412.42 L998.4,412.06 L999.85,413.34 L1001.3,411.75 L1002.75,412.41 L1004.2,413.15 L1005.65,413.71 L1007.1,411.7 L1008.55,411.35 L1010,413.65 L1011.45,411.83 L1012.9,412.83 L1014.35,413.49 L1015.8,413.13 L1017.25,411.91 L1018.7,411.65 L1020.15,413.76 L1021.6,412.31 L1023.05,413.76 L1024.5,412.04 L1025.95,413.03 L1027.4,411.63 L1028.85,411.37 L1030.3,412.59 L1031.75,411.33 L1033.2,413.09 L1034.65,413.68 L1036.1,412.35 L1037.55,413.79 L1039,413.37 L1040.45,412.83 L1041.9,412.32 L1043.35,413.48 L1044.8,413.77 L1046.25,411.66 L1047.7,413.07 L1049.15,411.43 L1050.6,411.59 L1052.05,412.91 L1053.5,412.7 L1054.95,412.55 L1056.4,412.23 L1057.85,412.36 L1059.3,412.45 L1060.75,412.29 L1062.2,411.48 L1063.65,412.58 L1065.1,412.78 L1066.55,412.04 L1068,413.27 L1069.45,413.11 L1070.9,411.38 L1072.35,412.55 L1073.8,412.48 L1075.25,413.85 L1076.7,412.82 L1078.15,412.4 L1079.6,413.82 L1081.05,412.3 L1082.5,412.26 L1083.95,413.72 L1085.4,412.28 L1086.85,412.69 L1088.3,412.14 L1089.75,412.98 L1091.2,412.07 L1092.65,411.99 L1094.1,413.82 L1095.55,413.72 L1097,412.15 L1098.45,411.42 L1099.9,413.23 L1101.35,412.71 L1102.8,412.36 L1104.25,413.06 L1105.7,412.95 L1107.15,413.08 L1108.6,412.93 L1110.05,412.36 L1111.5,413.11 L1112.95,412.91 L1114.4,411.91 L1115.85,413.81 L1117.3,412.42 L1118.75,412 L1120.2,413.08 L1121.65,413.31 L1123.1,411.83 L1124.55,413.27 L1126,413.4 L1127.45,412.77 L1128.9,412.1 L1130.35,413.61 L1131.8,413.05 L1133.25,413.02 L1134.7,411.75 L1136.15,412.76 L1137.6,411.69 L1139.05,413.44 L1140.5,413.02 L1141.95,412.22 L1143.4,411.62 L1144.85,412.72 L1146.3,413.3 L1147.75,413.57 L1149.2,412.52 L1150.65,413.39 L1152.1,411.82 L1153.55,411.74 L1155,413.41 L1156.45,413.16 L1157.9,411.82 L1159.35,412.24 L1160.8,411.82 L1162.25,412.99 L1163.7,413.54 L1165.15,413.13 L1166.6,411.85 L1168.05,413.18 L1169.5,412.99 L1170.95,412.81 L1172.4,412.8 L1173.85,412.83 L1175.3,411.53 L1176.75,413.48 L1178.2,413.86 L1179.65,411.47 L1181.1,411.63 L1182.55,411.36 L1184,412.77 L1185.45,411.45 L1186.9,411.51 L1188.35,413.31 L1189.8,411.97 L1191.25,411.74 L1192.7,412.18 L1194.15,412.55 L1195.6,413.14 L1197.05,413.01 L1197.34,413.29 L1197.63,413.7 L1197.92,412.37 L1198.21,413.14 L1198.5,411.81 L1198.79,413.76 L1199.08,411.58 L1199.37,412.15 L1199.66,411.69 L1199.95,412.18 L1200.24,413.2 L1200.53,415.92 L1200.82,419.97 L1201.11,420.53 L1201.4,422.99 L1201.69,421.66 L1201.98,418.31 L1202.27,416.05 L1202.56,414.44 L1202.85,412.08 L1203.14,412.49 L1203.43,413.05 L1203.72,413.24 L1204.01,411.68 L1204.3,412.66 L1204.59,411.88 L1204.88,412.98 L1205.17,413.37 L1205.46,412.51 L1205.75,411.79 L1206.04,413.44 L1206.33,411.86 L1206.62,411.53 L1206.91,411.82 L1207.2,411.78 L1207.49,413.86 L1208.94,412.27 L1210.39,411.68 L1211.84,413.75 L1213.29,413.18 L1214.74,413.19 L1216.19,412.53 L1217.64,412.8 L1219.09,412.67 L1220.54,411.9 L1221.99,413.87 L1223.44,413.73 L1224.89,413.55 L1226.34,413.56 L1227.79,413.7 L1229.24,411.39 L1230.69,411.7 L1232.14,413.65 L1233.59,412.59 L1235.04,413.07 L1236.49,413.07 L1237.94,412.98 L1239.39,412.23 L1240.84,412.38 L1242.29,412.95 L1243.74,413.39 L1245.19,413.04 L1246.64,413.56 L1248.09,412.46 L1249.54,412.05 L1250.99,412.91 L1252.44,413.67 L1253.89,413.42 L1255.34,412.92 L1256.79,412.33 L1258.24,411.88 L1259.69,412.91 L1261.14,411.83 L1262.59,412.29 L1264.04,412.77 L1265.49,412.93 L1266.94,412.61 L1268.39,412.08 L1269.84,412.8 L1271.29,412.11 L1272.74,412.7 L1274.19,413.25 L1275.64,412.51 L1277.09,412.1 L1278.54,413.69 L1279.99,412.79 L1281.44,412.79 L1282.89,411.63 L1284.34,411.49 L1285.79,412.92 L1287.24,411.59 L1288.69,411.86 L1290.14,413.21 L1291.59,412.69 L1293.04,413.56 L1294.49,411.8 L1295.94,412.19 L1297.39,411.61 L1298.84,411.85 L1300.29,412.17 L1301.74,412 L1303.19,412.44 L1304.64,413.61 L1306.09,412.38 L1307.54,413.86 L1308.99,413.51 L1310.44,411.9 L1311.89,413.76 L1313.34,413.64 L1314.79,413.62 L1316.24,411.63 L1317.69,413.42 L1319.14,413.81 L1320.59,411.73 L1322.04,413.57 L1323.49,411.72 L1324.94,412.16 L1326.39,411.74 L1327.84,411.45 L1329.29,412.4 L1330.74,411.84 L1332.19,413.78 L1333.64,411.92 L1335.09,412.57 L1336.54,412.05 L1337.99,413.6 L1339.44,411.97 L1340.89,411.49 L1342.34,413.72 L1343.79,413.05 L1345.24,412.44 L1346.69,411.76 L1348.14,413.26 L1349.59,413.42 L1351.04,413.24 L1352.49,412.3 L1353.94,411.95 L1355.39,412.87 L1356.84,412.94 L1358.29,412.86 L1359.74,412.98 L1361.19,412.81 L1362.64,413.66 L1364.09,412.6 L1365.54,411.39 L1366.99,412.82 L1368.44,411.97 L1369.89,413.47 L1371.34,412.11 L1372.79,411.95 L1374.24,412.16" fill="none" stroke="#222" stroke-width="1.3"/><rect x="1144" y="72.5" width="238" height="223.5" fill="#fff" stroke="#3a3a3a" stroke-width="1.4"/><line x1="1144" y1="283.8" x2="1151.3" y2="283.8" stroke="#444" stroke-width="1.3"/><text x="1137" y="293" font-size="20.5" text-anchor="end" font-weight="normal" font-family='"Liberation Sans", sans-serif' fill="#111" >0.0</text><line x1="1144" y1="232.6" x2="1151.3" y2="232.6" stroke="#444" stroke-width="1.3"/><text x="1137" y="241.8" font-size="20.5" text-anchor="end" font-weight="normal" font-family='"Liberation Sans", sans-serif' fill="#111" >0.1</text><line x1="1144" y1="181.4" x2="1151.3" y2="181.4" stroke="#444" stroke-width="1.3"/><text x="1137" y="190.6" font-size="20.5" text-anchor="end" font-weight="normal" font-family='"Liberation Sans", sans-serif' fill="#111" >0.2</text><line x1="1144" y1="130.2" x2="1151.3" y2="130.2" stroke="#444" stroke-width="1.3"/><text x="1137" y="139.4" font-size="20.5" text-anchor="end" font-weight="normal" font-family='"Liberation Sans", sans-serif' fill="#111" >0.3</text><line x1="1144" y1="79" x2="1151.3" y2="79" stroke="#444" stroke-width="1.3"/><text x="1137" y="88.2" font-size="20.5" text-anchor="end" font-weight="normal" font-family='"Liberation Sans", sans-serif' fill="#111" >0.4</text><line x1="1144" y1="258.2" x2="1147.6" y2="258.2" stroke="#444" stroke-width="1.2"/><line x1="1144" y1="207" x2="1147.6" y2="207" stroke="#444" stroke-width="1.2"/><line x1="1144" y1="155.8" x2="1147.6" y2="155.8" stroke="#444" stroke-width="1.2"/><line x1="1144" y1="104.6" x2="1147.6" y2="104.6" stroke="#444" stroke-width="1.2"/><line x1="1153" y1="296" x2="1153" y2="289" stroke="#444" stroke-width="1.3"/><text x="1153" y="316.5" font-size="20.5" text-anchor="middle" font-weight="normal" font-family='"Liberation Sans", sans-serif' fill="#111" >0</text><line x1="1185.9" y1="296" x2="1185.9" y2="289" stroke="#444" stroke-width="1.3"/><text x="1185.9" y="316.5" font-size="20.5" text-anchor="middle" font-weight="normal" font-family='"Liberation Sans", sans-serif' fill="#111" >1</text><line x1="1218.8" y1="296" x2="1218.8" y2="289" stroke="#444" stroke-width="1.3"/><text x="1218.8" y="316.5" font-size="20.5" text-anchor="middle" font-weight="normal" font-family='"Liberation Sans", sans-serif' fill="#111" >2</text><line x1="1251.7" y1="296" x2="1251.7" y2="289" stroke="#444" stroke-width="1.3"/><text x="1251.7" y="316.5" font-size="20.5" text-anchor="middle" font-weight="normal" font-family='"Liberation Sans", sans-serif' fill="#111" >3</text><line x1="1284.6" y1="296" x2="1284.6" y2="289" stroke="#444" stroke-width="1.3"/><text x="1284.6" y="316.5" font-size="20.5" text-anchor="middle" font-weight="normal" font-family='"Liberation Sans", sans-serif' fill="#111" >4</text><line x1="1317.5" y1="296" x2="1317.5" y2="289" stroke="#444" stroke-width="1.3"/><text x="1317.5" y="316.5" font-size="20.5" text-anchor="middle" font-weight="normal" font-family='"Liberation Sans", sans-serif' fill="#111" >5</text><line x1="1350.4" y1="296" x2="1350.4" y2="289" stroke="#444" stroke-width="1.3"/><text x="1350.4" y="316.5" font-size="20.5" text-anchor="middle" font-weight="normal" font-family='"Liberation Sans", sans-serif' fill="#111" >6</text><line x1="1169.45" y1="296" x2="1169.45" y2="292" stroke="#444" stroke-width="1.2"/><line x1="1202.35" y1="296" x2="1202.35" y2="292" stroke="#444" stroke-width="1.2"/><line x1="1235.25" y1="296" x2="1235.25" y2="292" stroke="#444" stroke-width="1.2"/><line x1="1268.15" y1="296" x2="1268.15" y2="292" stroke="#444" stroke-width="1.2"/><line x1="1301.05" y1="296" x2="1301.05" y2="292" stroke="#444" stroke-width="1.2"/><line x1="1333.95" y1="296" x2="1333.95" y2="292" stroke="#444" stroke-width="1.2"/><line x1="1366.85" y1="296" x2="1366.85" y2="292" stroke="#444" stroke-width="1.2"/><text x="1263" y="336" font-size="20.3" text-anchor="middle" font-weight="normal" font-family='"Liberation Sans", sans-serif' fill="#111" >Molar Ratio</text><text x="0" y="0" font-size="19.9" text-anchor="middle" font-weight="normal" font-family='"Liberation Sans", sans-serif' fill="#111" transform="translate(1097.6,187.5) rotate(-90)">kcal/mole of injectant</text><text x="1372.3" y="100" font-size="20.2" text-anchor="end" font-weight="normal" font-family='"Liberation Sans", sans-serif' fill="#111" >K<tspan font-size="13" dy="5">D</tspan><tspan dy="-5"> = 33.4 &#177; 1.3 &#181;M</tspan></text><text x="1372.3" y="148.5" font-size="20.2" text-anchor="end" font-weight="normal" font-family='"Liberation Sans", sans-serif' fill="#111" >&#916;<tspan font-style="italic">H</tspan> = 0.62 &#177; 0.02</text><text x="1372.3" y="172.6" font-size="20.2" text-anchor="end" font-weight="normal" font-family='"Liberation Sans", sans-serif' fill="#111" >&#916;<tspan font-style="italic">S</tspan> = -6.28</text><text x="1372.3" y="196" font-size="20.2" text-anchor="end" font-weight="normal" font-family='"Liberation Sans", sans-serif' fill="#111" >&#916;<tspan font-style="italic">G</tspan> = -5.67</text><text x="1372.3" y="219.5" font-size="20.2" text-anchor="end" font-weight="normal" font-family='"Liberation Sans", sans-serif' fill="#111" >(kcal/mol)</text><path d="M1154,90.2 L1155.11,92.91 L1156.69,96.75 L1158.55,101.25 L1160.47,105.96 L1162.28,110.43 L1163.77,114.2 L1164.94,117.23 L1165.93,119.9 L1166.8,122.32 L1167.6,124.63 L1168.4,126.95 L1169.24,129.41 L1170.13,132.01 L1171,134.63 L1171.87,137.27 L1172.72,139.91 L1173.57,142.53 L1174.42,145.12 L1175.24,147.7 L1176.06,150.27 L1176.86,152.83 L1177.67,155.35 L1178.47,157.83 L1179.29,160.24 L1180.11,162.56 L1180.93,164.82 L1181.76,167.02 L1182.59,169.2 L1183.42,171.37 L1184.26,173.56 L1185.1,175.81 L1185.94,178.11 L1186.78,180.4 L1187.62,182.64 L1188.47,184.79 L1189.33,186.79 L1190.2,188.62 L1191.07,190.32 L1191.95,191.92 L1192.84,193.47 L1193.72,194.99 L1194.6,196.54 L1195.48,198.08 L1196.36,199.6 L1197.24,201.1 L1198.12,202.59 L1199,204.08 L1199.87,205.58 L1200.74,207.1 L1201.6,208.62 L1202.46,210.13 L1203.32,211.66 L1204.18,213.19 L1205.04,214.73 L1205.92,216.29 L1206.8,217.86 L1207.68,219.44 L1208.56,221.02 L1209.44,222.6 L1210.31,224.18 L1211.18,225.81 L1212.05,227.5 L1212.91,229.18 L1213.77,230.81 L1214.62,232.31 L1215.49,233.63 L1216.35,234.72 L1217.21,235.65 L1218.07,236.44 L1218.93,237.17 L1219.79,237.87 L1220.66,238.6 L1221.52,239.36 L1222.38,240.11 L1223.24,240.83 L1224.1,241.52 L1224.97,242.18 L1225.83,242.78 L1226.69,243.3 L1227.55,243.76 L1228.41,244.17 L1229.27,244.58 L1230.13,245 L1231,245.46 L1231.87,245.98 L1232.74,246.52 L1233.62,247.08 L1234.49,247.65 L1235.38,248.21 L1236.27,248.74 L1237.17,249.26 L1238.08,249.76 L1238.99,250.25 L1239.91,250.74 L1240.82,251.23 L1241.74,251.73 L1242.65,252.23 L1243.56,252.73 L1244.47,253.24 L1245.38,253.74 L1246.3,254.23 L1247.21,254.71 L1248.12,255.17 L1249.04,255.62 L1249.95,256.05 L1250.87,256.49 L1251.78,256.93 L1252.68,257.39 L1253.56,257.88 L1254.44,258.39 L1255.31,258.91 L1256.18,259.42 L1257.06,259.92 L1257.95,260.38 L1258.85,260.8 L1259.76,261.19 L1260.67,261.56 L1261.59,261.93 L1262.5,262.29 L1263.42,262.67 L1264.33,263.06 L1265.23,263.46 L1266.14,263.87 L1267.05,264.26 L1267.96,264.63 L1268.89,264.95 L1269.82,265.23 L1270.76,265.46 L1271.71,265.67 L1272.67,265.86 L1273.61,266.05 L1274.55,266.25 L1275.49,266.45 L1276.41,266.65 L1277.34,266.84 L1278.26,267.04 L1279.19,267.23 L1280.12,267.44 L1281.06,267.64 L1282.01,267.83 L1282.95,268.02 L1283.9,268.23 L1284.85,268.46 L1285.79,268.73 L1286.74,269.05 L1287.68,269.41 L1288.63,269.79 L1289.57,270.19 L1290.52,270.57 L1291.46,270.92 L1292.4,271.25 L1293.35,271.57 L1294.29,271.88 L1295.23,272.17 L1296.18,272.45 L1297.13,272.71 L1298.09,272.95 L1299.05,273.18 L1300.02,273.4 L1300.98,273.59 L1301.94,273.76 L1302.9,273.9 L1303.83,274 L1304.76,274.07 L1305.68,274.11 L1306.6,274.14 L1307.53,274.17 L1308.46,274.2 L1309.42,274.23 L1310.38,274.26 L1311.34,274.28 L1312.31,274.3 L1313.27,274.34 L1314.23,274.4 L1315.18,274.49 L1316.12,274.59 L1317.06,274.72 L1318,274.85 L1318.95,274.97 L1319.9,275.1 L1320.87,275.22 L1321.84,275.35 L1322.82,275.49 L1323.8,275.61 L1324.79,275.72 L1325.77,275.79 L1326.75,275.84 L1327.73,275.85 L1328.71,275.85 L1329.69,275.84 L1330.66,275.82 L1331.63,275.79 L1332.6,275.76 L1333.56,275.7 L1334.52,275.64 L1335.48,275.58 L1336.44,275.53 L1337.4,275.49 L1338.36,275.47 L1339.33,275.46 L1340.29,275.46 L1341.25,275.47 L1342.21,275.48 L1343.17,275.49 L1344.12,275.51 L1345.07,275.53 L1346.01,275.56 L1346.96,275.59 L1347.94,275.63 L1348.94,275.69 L1349.97,275.77 L1351.02,275.85 L1352.1,275.95 L1353.18,276.05 L1354.29,276.17 L1355.4,276.29 L1356.61,276.43 L1357.94,276.6 L1359.29,276.77 L1360.54,276.94 L1361.6,277.08 L1362.36,277.18" fill="none" stroke="#333" stroke-width="1.5"/><circle cx="1158.01" cy="100.27" r="4.1" fill="#4d4d4d" stroke="#2e2e2e" stroke-width="0.9"/><circle cx="1163.97" cy="112.8" r="4.1" fill="#4d4d4d" stroke="#2e2e2e" stroke-width="0.9"/><circle cx="1169.34" cy="129.51" r="4.1" fill="#4d4d4d" stroke="#2e2e2e" stroke-width="0.9"/><circle cx="1174.42" cy="145.92" r="4.1" fill="#4d4d4d" stroke="#2e2e2e" stroke-width="0.9"/><circle cx="1179.49" cy="159.94" r="4.1" fill="#4d4d4d" stroke="#2e2e2e" stroke-width="0.9"/><circle cx="1183.96" cy="174.86" r="4.1" fill="#4d4d4d" stroke="#2e2e2e" stroke-width="0.9"/><circle cx="1189.33" cy="185.89" r="4.1" fill="#4d4d4d" stroke="#2e2e2e" stroke-width="0.9"/><circle cx="1194.7" cy="199.62" r="4.1" fill="#4d4d4d" stroke="#2e2e2e" stroke-width="0.9"/><circle cx="1199.77" cy="204.09" r="4.1" fill="#4d4d4d" stroke="#2e2e2e" stroke-width="0.9"/><circle cx="1205.14" cy="213.04" r="4.1" fill="#4d4d4d" stroke="#2e2e2e" stroke-width="0.9"/><circle cx="1210.21" cy="227.06" r="4.1" fill="#4d4d4d" stroke="#2e2e2e" stroke-width="0.9"/><circle cx="1215.58" cy="232.43" r="4.1" fill="#4d4d4d" stroke="#2e2e2e" stroke-width="0.9"/><circle cx="1220.66" cy="241.38" r="4.1" fill="#4d4d4d" stroke="#2e2e2e" stroke-width="0.9"/><circle cx="1225.73" cy="241.98" r="4.1" fill="#4d4d4d" stroke="#2e2e2e" stroke-width="0.9"/><circle cx="1231.1" cy="244.96" r="4.1" fill="#4d4d4d" stroke="#2e2e2e" stroke-width="0.9"/><circle cx="1236.17" cy="249.44" r="4.1" fill="#4d4d4d" stroke="#2e2e2e" stroke-width="0.9"/><circle cx="1241.54" cy="251.83" r="4.1" fill="#4d4d4d" stroke="#2e2e2e" stroke-width="0.9"/><circle cx="1247.51" cy="253.91" r="4.1" fill="#4d4d4d" stroke="#2e2e2e" stroke-width="0.9"/><circle cx="1252.58" cy="258.39" r="4.1" fill="#4d4d4d" stroke="#2e2e2e" stroke-width="0.9"/><circle cx="1257.95" cy="259.88" r="4.1" fill="#4d4d4d" stroke="#2e2e2e" stroke-width="0.9"/><circle cx="1263.32" cy="262.86" r="4.1" fill="#4d4d4d" stroke="#2e2e2e" stroke-width="0.9"/><circle cx="1268.99" cy="265.25" r="4.1" fill="#4d4d4d" stroke="#2e2e2e" stroke-width="0.9"/><circle cx="1274.36" cy="266.74" r="4.1" fill="#4d4d4d" stroke="#2e2e2e" stroke-width="0.9"/><circle cx="1280.32" cy="266.74" r="4.1" fill="#4d4d4d" stroke="#2e2e2e" stroke-width="0.9"/><circle cx="1285.69" cy="268.83" r="4.1" fill="#4d4d4d" stroke="#2e2e2e" stroke-width="0.9"/><circle cx="1291.36" cy="270.62" r="4.1" fill="#4d4d4d" stroke="#2e2e2e" stroke-width="0.9"/><circle cx="1297.33" cy="273.31" r="4.1" fill="#4d4d4d" stroke="#2e2e2e" stroke-width="0.9"/><circle cx="1302.7" cy="274.2" r="4.1" fill="#4d4d4d" stroke="#2e2e2e" stroke-width="0.9"/><circle cx="1308.66" cy="274.2" r="4.1" fill="#4d4d4d" stroke="#2e2e2e" stroke-width="0.9"/><circle cx="1314.03" cy="274.2" r="4.1" fill="#4d4d4d" stroke="#2e2e2e" stroke-width="0.9"/><circle cx="1320" cy="274.8" r="4.1" fill="#4d4d4d" stroke="#2e2e2e" stroke-width="0.9"/><circle cx="1325.67" cy="276.29" r="4.1" fill="#4d4d4d" stroke="#2e2e2e" stroke-width="0.9"/><circle cx="1331.63" cy="276.29" r="4.1" fill="#4d4d4d" stroke="#2e2e2e" stroke-width="0.9"/><circle cx="1337.6" cy="274.8" r="4.1" fill="#4d4d4d" stroke="#2e2e2e" stroke-width="0.9"/><circle cx="1342.97" cy="275.39" r="4.1" fill="#4d4d4d" stroke="#2e2e2e" stroke-width="0.9"/><circle cx="1348.94" cy="276.29" r="4.1" fill="#4d4d4d" stroke="#2e2e2e" stroke-width="0.9"/><circle cx="1354.9" cy="275.39" r="4.1" fill="#4d4d4d" stroke="#2e2e2e" stroke-width="0.9"/><circle cx="1362.36" cy="277.18" r="4.1" fill="#4d4d4d" stroke="#2e2e2e" stroke-width="0.9"/><text x="277" y="557" font-size="20.2" text-anchor="end" font-weight="normal" font-family='"Liberation Sans", sans-serif' fill="#111" >[NPAC-PWWP]</text><text x="277" y="582" font-size="20.2" text-anchor="end" font-weight="normal" font-family='"Liberation Sans", sans-serif' fill="#111" >(&#181;M)</text><line x1="290.1" y1="548.1" x2="319.6" y2="548.1" stroke="#b0262c" stroke-width="3" stroke-dasharray="7,15.5,7" /><circle cx="304.85" cy="548.4" r="5.3" fill="#b0262c"/><text x="324.6" y="555.1" font-size="20" text-anchor="start" font-weight="normal" font-family='"Liberation Sans", sans-serif' fill="#111" >60</text><line x1="290.1" y1="575.1" x2="319.6" y2="575.1" stroke="#df3a33" stroke-width="3" stroke-dasharray="7,15.5,7" /><circle cx="304.85" cy="575.4" r="5.3" fill="#df3a33"/><text x="324.6" y="582.1" font-size="20" text-anchor="start" font-weight="normal" font-family='"Liberation Sans", sans-serif' fill="#111" >20</text><line x1="364" y1="548.1" x2="393.5" y2="548.1" stroke="#e2642e" stroke-width="3" stroke-dasharray="7,15.5,7" /><circle cx="378.75" cy="548.4" r="5.3" fill="#e2642e"/><text x="398.2" y="555.1" font-size="20" text-anchor="start" font-weight="normal" font-family='"Liberation Sans", sans-serif' fill="#111" >6.6</text><line x1="364" y1="575.1" x2="393.5" y2="575.1" stroke="#e99a34" stroke-width="3" stroke-dasharray="7,15.5,7" /><circle cx="378.75" cy="575.4" r="5.3" fill="#e99a34"/><text x="398.2" y="582.1" font-size="20" text-anchor="start" font-weight="normal" font-family='"Liberation Sans", sans-serif' fill="#111" >2.2</text><line x1="438" y1="548.1" x2="467.5" y2="548.1" stroke="#f7dc9c" stroke-width="3" stroke-dasharray="7,15.5,7" /><circle cx="452.75" cy="548.4" r="5.3" fill="#f7dc9c"/><text x="474.3" y="555.1" font-size="20" text-anchor="start" font-weight="normal" font-family='"Liberation Sans", sans-serif' fill="#111" >0.73</text><line x1="438" y1="575.1" x2="467.5" y2="575.1" stroke="#ebc29a" stroke-width="3" stroke-dasharray="7,15.5,7" /><circle cx="452.75" cy="575.4" r="5.3" fill="#ebc29a"/><text x="474.3" y="582.1" font-size="20" text-anchor="start" font-weight="normal" font-family='"Liberation Sans", sans-serif' fill="#111" >0.243</text><line x1="544.2" y1="548.1" x2="573.7" y2="548.1" stroke="#f2d8c0" stroke-width="3" stroke-dasharray="7,15.5,7" /><circle cx="558.95" cy="548.4" r="5.3" fill="#f2d8c0"/><text x="579.2" y="555.1" font-size="20" text-anchor="start" font-weight="normal" font-family='"Liberation Sans", sans-serif' fill="#111" >0.081</text><rect x="157.5" y="592" width="227.5" height="297" fill="none" stroke="#333" stroke-width="1.5"/><line x1="148.5" y1="873.9" x2="157.5" y2="873.9" stroke="#333" stroke-width="1.5"/><text x="142.3" y="882.7" font-size="25.5" text-anchor="end" font-weight="normal" font-family='"Liberation Sans", sans-serif' fill="#111" >0</text><line x1="148.5" y1="807.8" x2="157.5" y2="807.8" stroke="#333" stroke-width="1.5"/><text x="142.3" y="816.6" font-size="25.5" text-anchor="end" font-weight="normal" font-family='"Liberation Sans", sans-serif' fill="#111" >0.1</text><line x1="148.5" y1="741.7" x2="157.5" y2="741.7" stroke="#333" stroke-width="1.5"/><text x="142.3" y="750.5" font-size="25.5" text-anchor="end" font-weight="normal" font-family='"Liberation Sans", sans-serif' fill="#111" >0.2</text><line x1="148.5" y1="675.6" x2="157.5" y2="675.6" stroke="#333" stroke-width="1.5"/><text x="142.3" y="684.4" font-size="25.5" text-anchor="end" font-weight="normal" font-family='"Liberation Sans", sans-serif' fill="#111" >0.3</text><line x1="148.5" y1="609.5" x2="157.5" y2="609.5" stroke="#333" stroke-width="1.5"/><text x="142.3" y="618.3" font-size="25.5" text-anchor="end" font-weight="normal" font-family='"Liberation Sans", sans-serif' fill="#111" >0.4</text><line x1="185.6" y1="889" x2="185.6" y2="898" stroke="#333" stroke-width="1.5"/><text x="185.6" y="921.5" font-size="25.4" text-anchor="middle" font-weight="normal" font-family='"Liberation Sans", sans-serif' fill="#111" >0</text><line x1="259.2" y1="889" x2="259.2" y2="898" stroke="#333" stroke-width="1.5"/><text x="259.2" y="921.5" font-size="25.4" text-anchor="middle" font-weight="normal" font-family='"Liberation Sans", sans-serif' fill="#111" >100</text><line x1="332.8" y1="889" x2="332.8" y2="898" stroke="#333" stroke-width="1.5"/><text x="332.8" y="921.5" font-size="25.4" text-anchor="middle" font-weight="normal" font-family='"Liberation Sans", sans-serif' fill="#111" >200</text><rect x="398.5" y="592.5" width="227.79999999999995" height="296.5" fill="none" stroke="#333" stroke-width="1.5"/><line x1="389.5" y1="873.6" x2="398.5" y2="873.6" stroke="#333" stroke-width="1.5"/><line x1="389.5" y1="807.5" x2="398.5" y2="807.5" stroke="#333" stroke-width="1.5"/><line x1="389.5" y1="741.4" x2="398.5" y2="741.4" stroke="#333" stroke-width="1.5"/><line x1="389.5" y1="675.3" x2="398.5" y2="675.3" stroke="#333" stroke-width="1.5"/><line x1="389.5" y1="609.2" x2="398.5" y2="609.2" stroke="#333" stroke-width="1.5"/><line x1="427.4" y1="889" x2="427.4" y2="898" stroke="#333" stroke-width="1.5"/><text x="427.4" y="921.5" font-size="25.4" text-anchor="middle" font-weight="normal" font-family='"Liberation Sans", sans-serif' fill="#111" >0</text><line x1="501" y1="889" x2="501" y2="898" stroke="#333" stroke-width="1.5"/><text x="501" y="921.5" font-size="25.4" text-anchor="middle" font-weight="normal" font-family='"Liberation Sans", sans-serif' fill="#111" >100</text><line x1="574.6" y1="889" x2="574.6" y2="898" stroke="#333" stroke-width="1.5"/><text x="574.6" y="921.5" font-size="25.4" text-anchor="middle" font-weight="normal" font-family='"Liberation Sans", sans-serif' fill="#111" >200</text><text x="166" y="614.5" font-size="25.2" text-anchor="start" font-weight="normal" font-family='"Liberation Sans", sans-serif' fill="#111" >H3.1 K36me<tspan font-size="15.5" dy="7">0</tspan></text><text x="407.5" y="614.5" font-size="25.2" text-anchor="start" font-weight="normal" font-family='"Liberation Sans", sans-serif' fill="#111" >H3.1 K36me<tspan font-size="15.5" dy="7">3</tspan></text><text x="388" y="951.5" font-size="25.4" text-anchor="middle" font-weight="normal" font-family='"Liberation Sans", sans-serif' fill="#111" >Time (sec)</text><text x="0" y="0" font-size="25.5" text-anchor="middle" font-weight="normal" font-family='"Liberation Sans", sans-serif' fill="#111" transform="translate(95.5,725) rotate(-90)">BLI Response (nm)</text><path d="M185.6,863.99 L187.07,860.68 L187.47,860.57 L187.84,860.45 L188.21,860.35 L188.57,860.24 L188.93,860.13 L189.29,860.02 L189.66,859.92 L190.06,859.82 L190.47,859.72 L190.91,859.61 L191.39,859.51 L191.91,859.42 L192.48,859.32 L193.09,859.34 L193.77,858.96 L194.51,857.9 L195.32,859.02 L196.21,858.81 L197.17,858.5 L198.23,859.47 L199.38,858.5 L200.62,858.09 L201.98,857.56 L203.44,859.31 L205.02,858.66 L206.72,859.12 L207.2,857.19 L207.68,857.47 L208.17,859.17 L208.67,856.65 L209.19,856.67 L209.71,857.46 L210.24,857.54 L210.77,858.72 L211.32,859.07 L211.88,857.68 L212.44,858.9 L213.01,858.52 L213.59,858.36 L214.18,858.89 L214.78,857.71 L215.38,857.75 L216,856.66 L216.62,857.48 L217.24,857.13 L217.88,857.48 L218.52,857.02 L219.17,857.53 L219.82,857.97 L220.48,856.04 L221.15,856.02 L221.83,856.4 L222.51,856.72 L223.2,857.73 L223.89,857.93 L224.59,857.74 L225.3,858.29 L226.01,856.42 L226.73,857.36 L227.45,856.15 L228.18,857.34 L228.91,855.8 L229.65,856.06 L230.39,858.27 L231.14,857.69 L231.89,855.81 L232.65,856.94 L233.41,855.56 L234.17,857.08 L234.94,857.9 L235.71,856.4 L236.49,855.98 L237.27,857.3 L238.06,857.75 L238.84,857.07 L239.64,855.38 L240.43,855.89 L241.23,857.56 L242.03,857.19 L242.83,857.54 L243.64,857.62 L244.45,855.65 L245.26,857.26 L246.07,856.22 L246.88,856.49 L247.7,857.14 L248.52,855.68 L249.34,857.24 L250.16,855.86 L250.99,857.23 L251.81,856.39 L252.64,856.92 L253.47,856.74 L254.29,854.86 L255.12,855.28 L255.95,856.57 L256.78,855.01 L257.61,856.76 L258.45,856.25 L259.28,855.01 L260.11,855.55 L260.94,856.95 L261.77,854.58 L262.6,856.6 L263.43,856.46 L264.26,855.08 L265.09,856.22 L265.92,856.29 L266.74,856.85 L267.57,856.78 L268.39,855.46 L269.21,856.33 L270.04,855.36 L270.85,855.95 L271.67,855.71 L272.49,854.35 L273.3,855.58 L274.11,855.32 L274.92,854.53 L275.73,856.31 L276.53,856.37 L277.33,854.35 L278.13,854.57 L278.92,856.05 L279.62,856.19 L280.32,854.72 L281.03,854.18 L281.74,856.12 L282.46,854.12 L283.2,854.28 L283.93,855 L284.68,855.46 L285.43,856.29 L286.19,856.44 L286.95,853.98 L287.72,855.88 L288.5,854.63 L289.28,855.8 L290.07,854.28 L290.86,854.87 L291.66,855.65 L292.46,855.95 L293.27,854.49 L294.08,856.2 L294.89,855.76 L295.72,854.87 L296.54,854.08 L297.37,854.7 L298.2,855.57 L299.03,853.87 L299.87,855.74 L300.71,856.22 L301.56,855.54 L302.4,855.06 L303.25,856.06 L304.1,855.74 L304.96,855.22 L305.81,854.66 L306.67,855.82 L307.53,855.19 L308.39,853.78 L309.25,853.53 L310.11,854.37 L310.97,854.27 L311.83,854.54 L312.69,855.7 L313.55,855.96 L314.42,855.99 L315.28,853.62 L316.14,854.16 L317,853.46 L317.86,855.93 L318.72,854.3 L319.57,854.69 L320.43,854.02 L321.28,855.1 L322.13,853.29 L322.98,855.72 L323.83,854.46 L324.67,853.94 L325.52,853.5 L326.35,853.92 L327.19,854 L328.02,853.75 L328.85,853.42 L329.68,854.89 L330.5,854 L331.31,853.42 L332.13,853.49 L332.94,854.68 L333.74,853.68 L334.54,853.48 L335.33,854.24 L336.12,854.09 L336.9,854.72 L337.68,854.18 L338.45,854.1 L339.22,855.49 L339.98,854 L340.73,853.05 L341.48,853.34 L342.21,853.73 L342.95,854.62 L343.67,853.7 L344.39,854.1 L345.1,854.46 L345.8,853.4 L346.49,855.38 L347.18,853.61 L347.86,855.51 L348.53,853.99 L349.19,854.3 L349.84,854.95 L350.48,853.71 L351.11,854.23 L351.73,853.91 L352.34,853.1 L352.95,854.85 L353.54,855.48 L354.12,854.71 L354.69,853.71 L355.25,854.96 L355.8,855.04 L356.34,853.08 L356.87,853.72 L357.39,854.29 L357.89,853.1 L358.38,854.58 L358.86,853.68 L359.33,854.91 L359.78,854.29 L360.23,853.29 L360.66,853 L361.07,853.08 L361.48,854.39 L361.86,853.86 L362.24,854.56" fill="none" stroke="#f2d8c0" stroke-width="3.6" stroke-linejoin="round" stroke-linecap="round"/><path d="M185.6,854.07 L185.94,852.8 L187.07,850.76 L187.58,850.13 L188.15,849.4 L188.78,848.62 L189.5,847.8 L190.3,846.97 L191.21,846.15 L192.24,845.35 L193.4,845.58 L193.93,844.32 L194.43,843.13 L194.91,842.82 L195.38,842.92 L195.85,842.03 L196.34,843.55 L196.84,843.59 L197.38,842.59 L197.96,842.8 L198.59,842.71 L199.28,841.92 L200.05,841.09 L200.9,841.16 L201.84,841.34 L202.88,839.65 L204.04,838.96 L205.31,840.02 L206.72,840.65 L207.23,840.64 L207.75,838.29 L208.29,840.35 L208.86,838.45 L209.44,838.68 L210.04,839.23 L210.65,837.81 L211.28,839.71 L211.93,839.25 L212.59,838.26 L213.27,839.25 L213.96,836.96 L214.67,838.38 L215.38,838.47 L216.11,838.56 L216.85,836.86 L217.6,837.18 L218.36,836.54 L219.13,836.31 L219.9,835.74 L220.69,835.17 L221.48,835.73 L222.28,836.84 L223.08,835.95 L223.89,836.56 L224.71,836.84 L225.52,835.45 L226.34,834.64 L227.17,835.89 L227.99,835.47 L228.82,835.11 L229.65,834.01 L230.48,834.31 L231.3,833.9 L232.13,833.36 L232.95,834.15 L233.77,832.93 L234.59,832.47 L235.4,834.47 L236.21,832.08 L237.02,832.48 L237.81,833.89 L238.61,832.88 L239.39,832.27 L240.17,831.37 L240.93,832.63 L241.69,831.97 L242.44,831.01 L243.18,831.08 L243.91,830.55 L244.62,831.69 L245.32,831.06 L246.01,832.11 L246.69,830.61 L247.52,830.2 L248.35,830.51 L249.16,830.16 L249.97,831.34 L250.77,829.38 L251.56,829.02 L252.34,828.88 L253.12,829.9 L253.88,829.09 L254.65,830.19 L255.4,828.49 L256.15,828.5 L256.9,829.71 L257.64,830.28 L258.38,829.2 L259.11,828.78 L259.84,828.08 L260.56,828.69 L261.29,829.78 L262.01,827.59 L262.73,829.44 L263.45,827.38 L264.16,828.91 L264.88,828.37 L265.59,827.05 L266.31,828.65 L267.03,828.52 L267.75,827.43 L268.47,826.77 L269.19,826.35 L269.91,826.64 L270.64,825.86 L271.37,826.95 L272.1,825.64 L272.84,827.81 L273.58,827.35 L274.32,826.44 L275.08,826.96 L275.83,825.7 L276.6,825.84 L277.36,826.05 L278.14,825.1 L278.92,825.75 L279.63,826.32 L280.33,826.05 L281.03,824.75 L281.73,824.52 L282.42,826.27 L283.12,824.5 L283.81,824.11 L284.51,825.21 L285.2,825.01 L285.89,825.92 L286.58,824.97 L287.28,824.99 L287.97,824.65 L288.66,826.11 L289.36,823.56 L290.05,824.7 L290.75,824.94 L291.45,823.82 L292.15,824.39 L292.85,824.52 L293.56,823.93 L294.26,825.53 L294.97,824.22 L295.69,824.49 L296.4,823 L297.12,823.03 L297.85,824.7 L298.58,824.11 L299.31,824.97 L300.05,824.1 L300.79,823.03 L301.54,822.75 L302.29,823.81 L303.05,824.18 L303.82,824.45 L304.59,823.27 L305.36,822.39 L306.15,824.44 L306.94,822.66 L307.73,824.6 L308.54,824.08 L309.35,823.93 L310.17,822.65 L311,823.55 L311.84,823.4 L312.68,822.63 L313.54,823.92 L314.4,822.19 L315.05,823.75 L315.72,822.67 L316.4,823.3 L317.09,823.38 L317.81,822.45 L318.53,822.63 L319.27,822.74 L320.02,822.58 L320.78,822.21 L321.56,823.12 L322.34,822.94 L323.14,821.75 L323.94,821.67 L324.75,821.89 L325.58,820.97 L326.4,821.54 L327.24,820.83 L328.08,822.41 L328.93,821 L329.78,820.75 L330.63,820.44 L331.49,821.92 L332.35,821.86 L333.21,820.18 L334.08,821.98 L334.94,819.85 L335.81,820.07 L336.67,822 L337.53,821.65 L338.4,820.29 L339.26,821.46 L340.11,821.83 L340.96,819.82 L341.81,820.83 L342.65,819.8 L343.49,821.49 L344.32,820.69 L345.14,819.88 L345.95,821.58 L346.76,821.03 L347.56,819.7 L348.35,819.03 L349.12,818.82 L349.89,821.02 L350.64,819.93 L351.38,819.2 L352.11,819.82 L352.83,819.28 L353.53,820.54 L354.21,820.8 L354.88,820.65 L355.54,820.78 L356.17,819.37 L356.79,819.42 L357.39,819.23 L357.97,820.31 L358.53,820.16 L359.08,820.07 L359.6,818.34 L360.09,817.91 L360.57,818.04 L361.02,820.2 L361.45,820.26 L361.86,817.87 L362.24,819.14" fill="none" stroke="#ebc29a" stroke-width="3.6" stroke-linejoin="round" stroke-linecap="round"/><path d="M185.6,854.07 L185.73,852.91 L186.7,850.1 L187.17,849.03 L187.69,847.75 L188.28,846.3 L188.93,844.74 L189.66,843.11 L190.47,841.47 L191.36,839.85 L192.34,838.31 L193.4,836.18 L193.94,836.68 L194.44,835.67 L194.93,834.91 L195.41,834.53 L195.88,833.48 L196.36,834.44 L196.87,832.04 L197.41,831.08 L197.98,832.26 L198.61,830.96 L199.3,829.62 L200.06,829.92 L200.91,829.88 L201.84,829.36 L202.88,827.83 L204.04,828.51 L205.31,825.54 L206.72,825.11 L207.23,825.14 L207.75,824.5 L208.29,824.88 L208.86,825.23 L209.44,824.48 L210.04,824.49 L210.65,822.98 L211.28,823.2 L211.93,824.4 L212.59,822.42 L213.27,822.61 L213.96,822.27 L214.67,821.91 L215.38,822.74 L216.11,821.18 L216.85,820.97 L217.6,821.19 L218.36,820.74 L219.13,820.48 L219.9,821.17 L220.69,820.07 L221.48,821.52 L222.28,820.54 L223.08,819.94 L223.89,820.89 L224.71,819.71 L225.52,818.7 L226.34,818.47 L227.17,819.24 L227.99,817.09 L228.82,817.57 L229.65,818.17 L230.48,817.06 L231.3,817.04 L232.13,816.87 L232.95,816.99 L233.77,815.12 L234.59,815.81 L235.4,815.4 L236.21,814.99 L237.02,814.17 L237.81,816.45 L238.61,814.64 L239.39,814.07 L240.17,815.1 L240.93,814.48 L241.69,815.17 L242.44,814.56 L243.18,813.85 L243.91,814.36 L244.62,813.73 L245.32,811.78 L246.01,812.51 L246.69,812.41 L247.52,810.93 L248.35,811.73 L249.16,810.34 L249.97,811.03 L250.77,810.33 L251.56,812.02 L252.34,810.4 L253.12,809.73 L253.88,811.39 L254.65,808.81 L255.4,810.62 L256.15,809.56 L256.9,810.14 L257.64,809.05 L258.38,808.52 L259.11,809.76 L259.84,807.2 L260.56,808.37 L261.29,807.88 L262.01,807.48 L262.73,807.88 L263.45,807.89 L264.16,806.7 L264.88,806.75 L265.59,807.28 L266.31,805.93 L267.03,806.84 L267.75,807.39 L268.47,806.58 L269.19,806.91 L269.91,806.42 L270.64,804.64 L271.37,805.41 L272.1,803.87 L272.84,804.07 L273.58,805.72 L274.32,803.04 L275.08,802.97 L275.83,805.08 L276.6,802.68 L277.36,803.75 L278.14,803.43 L278.92,801.92 L279.63,803.68 L280.33,802.76 L281.03,801.5 L281.73,801.9 L282.42,802.4 L283.12,800.88 L283.81,801.14 L284.51,801.54 L285.2,802.66 L285.89,801.15 L286.58,801.44 L287.28,801.94 L287.97,802.18 L288.66,800.76 L289.36,801.66 L290.05,800.66 L290.75,799.91 L291.45,800.31 L292.15,800.67 L292.85,799.66 L293.56,799.94 L294.26,798.83 L294.97,799.33 L295.69,797.94 L296.4,797.91 L297.12,798.34 L297.85,799.49 L298.58,799.67 L299.31,797.46 L300.05,797.6 L300.79,797.87 L301.54,798.42 L302.29,798.5 L303.05,797.26 L303.82,797.43 L304.59,797.21 L305.36,796.96 L306.15,796.49 L306.94,797.83 L307.73,797.53 L308.54,795.45 L309.35,795.48 L310.17,795.43 L311,797.5 L311.84,797.3 L312.68,796.6 L313.54,796.05 L314.4,795.38 L315.05,796.65 L315.72,795.38 L316.4,796.51 L317.09,796.36 L317.81,794.69 L318.53,794.91 L319.27,794.59 L320.02,795.16 L320.78,794.77 L321.56,795.36 L322.34,794.89 L323.14,793.72 L323.94,793.36 L324.75,795.26 L325.58,795.03 L326.4,793.09 L327.24,793.46 L328.08,792.96 L328.93,794.32 L329.78,793.64 L330.63,793.97 L331.49,792.39 L332.35,793.44 L333.21,792.58 L334.08,791.58 L334.94,793.22 L335.81,792.51 L336.67,791.88 L337.53,791.3 L338.4,792.5 L339.26,792.54 L340.11,793.15 L340.96,790.98 L341.81,792.98 L342.65,792.86 L343.49,791.49 L344.32,791.59 L345.14,790.96 L345.95,791.88 L346.76,790.51 L347.56,792.26 L348.35,791.8 L349.12,790.52 L349.89,791.96 L350.64,791.28 L351.38,790.07 L352.11,790.06 L352.83,791.06 L353.53,791.34 L354.21,790.69 L354.88,789.63 L355.54,790.5 L356.17,791.08 L356.79,789.44 L357.39,789.73 L357.97,788.73 L358.53,788.61 L359.08,788.61 L359.6,789.8 L360.09,788.77 L360.57,790.03 L361.02,789.93 L361.45,789.66 L361.86,788.19 L362.24,788.25" fill="none" stroke="#f7dc9c" stroke-width="3.6" stroke-linejoin="round" stroke-linecap="round"/><path d="M185.6,850.76 L185.73,850.29 L186.7,847.46 L187.17,846.06 L187.69,844.37 L188.28,842.43 L188.93,840.3 L189.66,838.03 L190.47,835.67 L191.36,833.28 L192.34,830.92 L193.4,829.29 L193.98,827.84 L194.59,826.65 L195.24,825.43 L195.92,824.09 L196.62,822.84 L197.35,822.06 L198.1,819.79 L198.86,817.87 L199.64,817.26 L200.43,815.19 L201.23,814.66 L202.03,814.44 L202.83,811.71 L203.63,810.22 L204.42,810.7 L205.2,810.32 L205.97,808.02 L206.72,807.02 L207.45,806.1 L208.14,804.26 L208.8,804.36 L209.44,803.28 L210.07,804.6 L210.69,802.73 L211.32,801.53 L211.95,802.86 L212.59,802.36 L213.26,800.13 L213.95,799.21 L214.67,800.88 L215.44,798.94 L216.25,799.73 L217.12,797.63 L218.05,797.34 L219.05,797.84 L220.12,797.3 L220.68,795.55 L221.26,795.88 L221.85,794.92 L222.46,795.57 L223.08,795.4 L223.72,793.41 L224.37,793.87 L225.03,794.01 L225.7,793.57 L226.39,792.75 L227.08,792.45 L227.79,791.57 L228.51,792.57 L229.23,791.14 L229.97,791.22 L230.71,790.39 L231.47,790.18 L232.23,789.77 L232.99,789.29 L233.77,788.77 L234.55,789.27 L235.34,789.24 L236.13,788.41 L236.92,787.83 L237.72,788.5 L238.53,788.17 L239.34,788.56 L240.15,786.65 L240.96,785.66 L241.78,786.95 L242.6,787.17 L243.41,786.75 L244.23,785.84 L245.05,785.86 L245.87,783.75 L246.69,785.83 L247.37,784.9 L248.06,785.15 L248.76,783.47 L249.46,782.86 L250.16,784.17 L250.87,784.21 L251.58,782.89 L252.29,782.29 L253.01,781.16 L253.73,783.2 L254.45,782.74 L255.18,782.27 L255.91,781.92 L256.65,781.6 L257.39,780.06 L258.13,780.12 L258.87,780.83 L259.62,780.67 L260.37,780.15 L261.12,780.17 L261.87,778.36 L262.63,779.27 L263.39,778.38 L264.15,777.41 L264.91,778.04 L265.68,778.36 L266.45,776.44 L267.22,776.11 L267.99,777.36 L268.76,776.56 L269.53,775.22 L270.31,776.22 L271.09,776.66 L271.87,776.86 L272.65,774.23 L273.43,774.36 L274.21,775.21 L275,774.59 L275.78,774.37 L276.57,774.76 L277.35,772.62 L278.14,773.25 L278.92,774.12 L279.63,774.5 L280.33,773.07 L281.03,773.11 L281.73,771.77 L282.42,771.78 L283.12,771.84 L283.81,772.81 L284.51,772.6 L285.2,771.94 L285.89,771.89 L286.58,770.06 L287.28,770.78 L287.97,770.25 L288.66,769.09 L289.36,770.8 L290.05,769.87 L290.75,770.68 L291.45,768.83 L292.15,770.65 L292.85,768.27 L293.56,768 L294.26,767.85 L294.97,769.6 L295.69,768.9 L296.4,767.51 L297.12,768.94 L297.85,767.73 L298.58,767.56 L299.31,766.07 L300.05,766.85 L300.79,765.93 L301.54,767.2 L302.29,765.72 L303.05,766.51 L303.82,765 L304.59,766.99 L305.36,764.86 L306.15,766.31 L306.94,765.24 L307.73,765.1 L308.54,765.89 L309.35,763.93 L310.17,765.13 L311,764.96 L311.84,765.4 L312.68,764.63 L313.54,764.03 L314.4,763.21 L315.05,764.03 L315.72,763.04 L316.4,764.45 L317.09,763.57 L317.81,763.27 L318.53,761.81 L319.27,762.06 L320.02,762.4 L320.78,763.98 L321.56,762.89 L322.34,761.9 L323.14,763.03 L323.94,762.05 L324.75,762.21 L325.58,763.28 L326.4,760.57 L327.24,760.96 L328.08,762.41 L328.93,761.21 L329.78,761.96 L330.63,761.62 L331.49,761.08 L332.35,761.61 L333.21,761.39 L334.08,761.14 L334.94,760.31 L335.81,761.28 L336.67,761.33 L337.53,759.82 L338.4,760.77 L339.26,759.04 L340.11,759.95 L340.96,759.43 L341.81,760.36 L342.65,758.95 L343.49,760.8 L344.32,760.58 L345.14,760.6 L345.95,758.97 L346.76,758.79 L347.56,760.1 L348.35,759.42 L349.12,758.19 L349.89,758.74 L350.64,759.99 L351.38,759.54 L352.11,759.65 L352.83,759.65 L353.53,758.83 L354.21,759.63 L354.88,757.32 L355.54,758.55 L356.17,758.25 L356.79,757.82 L357.39,757.44 L357.97,757.23 L358.53,758.31 L359.08,758.39 L359.6,758.12 L360.09,759.11 L360.57,758.03 L361.02,757.19 L361.45,756.39 L361.86,756.85 L362.24,757.14" fill="none" stroke="#e99a34" stroke-width="3.6" stroke-linejoin="round" stroke-linecap="round"/><path d="M185.6,850.76 L185.73,848.62 L186.7,842.17 L187.17,839.47 L187.69,836.23 L188.28,832.55 L188.93,828.55 L189.66,824.35 L190.47,820.07 L191.36,815.8 L192.34,811.67 L193.4,807.51 L193.98,807.2 L194.59,804.47 L195.24,802.52 L195.92,799.77 L196.62,799.26 L197.35,796.59 L198.1,794.3 L198.86,791.64 L199.64,789.63 L200.43,788.31 L201.23,787.67 L202.03,784.25 L202.83,782.14 L203.63,781.38 L204.42,780.26 L205.2,778.3 L205.97,777.76 L206.72,774.85 L207.45,772.81 L208.14,772.83 L208.8,771.15 L209.44,769.75 L210.07,770.42 L210.69,767.48 L211.32,767.4 L211.95,767.67 L212.59,767.13 L213.26,765.9 L213.95,764.23 L214.67,763.14 L215.44,763.34 L216.25,760.99 L217.12,761.71 L218.05,760.65 L219.05,760.73 L220.12,757.63 L220.68,759.42 L221.26,756.95 L221.85,757.48 L222.46,757 L223.08,756.57 L223.72,756.92 L224.37,754.79 L225.03,754.14 L225.7,754.18 L226.39,754.32 L227.08,755.17 L227.79,752.89 L228.51,753.88 L229.23,751.85 L229.97,753.17 L230.71,751.87 L231.47,750.78 L232.23,752.07 L232.99,750.71 L233.77,751.55 L234.55,751.26 L235.34,750.47 L236.13,747.93 L236.92,747.66 L237.72,748.01 L238.53,748.55 L239.34,747.2 L240.15,746.64 L240.96,747.2 L241.78,746.27 L242.6,745.34 L243.41,747.05 L244.23,746.21 L245.05,745.14 L245.87,745.64 L246.69,744.64 L247.37,743.87 L248.06,744.63 L248.76,743.43 L249.46,743.82 L250.16,742.74 L250.87,743.09 L251.58,742 L252.29,743.32 L253.01,741.38 L253.73,742.5 L254.45,740.09 L255.18,740.78 L255.91,740.86 L256.65,740.76 L257.39,739.94 L258.13,739.52 L258.87,739.08 L259.62,738.85 L260.37,739.31 L261.12,737.72 L261.87,737.89 L262.63,737.6 L263.39,738.54 L264.15,738.24 L264.91,737.66 L265.68,736.52 L266.45,737.29 L267.22,737.06 L267.99,737.08 L268.76,735.6 L269.53,736.91 L270.31,737.39 L271.09,735.39 L271.87,734.7 L272.65,734.92 L273.43,735.06 L274.21,734.43 L275,735.39 L275.78,734.4 L276.57,735.56 L277.35,735.2 L278.14,734.13 L278.92,733.76 L279.63,733.85 L280.33,734.56 L281.03,732.67 L281.73,732.92 L282.42,733.48 L283.12,733.11 L283.81,732.68 L284.51,732.92 L285.2,733.17 L285.89,730.75 L286.58,730.41 L287.28,731.02 L287.97,730.3 L288.66,731.29 L289.36,730.09 L290.05,731.45 L290.75,729.88 L291.45,730.17 L292.15,729.1 L292.85,731.05 L293.56,729.04 L294.26,730.62 L294.97,729.35 L295.69,728.08 L296.4,730.42 L297.12,729.61 L297.85,729.29 L298.58,729.05 L299.31,729.57 L300.05,727.21 L300.79,727.25 L301.54,728.19 L302.29,728.14 L303.05,727.37 L303.82,728.63 L304.59,728.51 L305.36,726.06 L306.15,727.47 L306.94,726.81 L307.73,725.51 L308.54,725.24 L309.35,726.43 L310.17,726.99 L311,726.61 L311.84,724.81 L312.68,724.73 L313.54,726.45 L314.4,724.61 L315.05,725.79 L315.72,725.38 L316.4,726.07 L317.09,724.1 L317.81,723.7 L318.53,725.7 L319.27,724.46 L320.02,725.53 L320.78,723.62 L321.56,725.72 L322.34,725.47 L323.14,723.74 L323.94,724.74 L324.75,723.09 L325.58,723.08 L326.4,723.4 L327.24,724.84 L328.08,723.27 L328.93,722.54 L329.78,723.75 L330.63,724.63 L331.49,724.17 L332.35,723.86 L333.21,722.71 L334.08,723.98 L334.94,723.94 L335.81,723.71 L336.67,722.5 L337.53,722.08 L338.4,723.11 L339.26,722.26 L340.11,721.6 L340.96,722.3 L341.81,723.18 L342.65,722.91 L343.49,721.19 L344.32,721.8 L345.14,722.76 L345.95,721.73 L346.76,723.11 L347.56,720.68 L348.35,722.05 L349.12,721.75 L349.89,721.68 L350.64,722.9 L351.38,721.37 L352.11,722.14 L352.83,722.17 L353.53,720.65 L354.21,722.49 L354.88,721.91 L355.54,720.61 L356.17,721.9 L356.79,721.76 L357.39,721 L357.97,721.9 L358.53,719.97 L359.08,719.69 L359.6,722.16 L360.09,720.99 L360.57,720.18 L361.02,721.1 L361.45,719.62 L361.86,720.72 L362.24,721.53" fill="none" stroke="#e2642e" stroke-width="3.6" stroke-linejoin="round" stroke-linecap="round"/><path d="M185.6,850.76" fill="none" stroke="#df3a33" stroke-width="3.4" stroke-opacity="0.5" stroke-dasharray="2,1"/><path d="M185.6,850.76 L185.9,845.02 L186.7,834.24 L187.29,827.57 L188.02,819.44 L188.86,810.62 L189.75,801.86 L190.68,793.92 L191.32,788.85 L191.94,783.99 L192.57,779.31 L193.26,774.62 L194.03,769.93 L194.92,766.29 L195.98,761.11 L196.57,758.57 L197.2,757.04 L197.87,754.83 L198.57,751.68 L199.3,749.87 L200.06,748.09 L200.84,744.76 L201.65,744.67 L202.47,740.98 L203.3,740.58 L204.15,737.46 L205,736.58 L205.86,734.27 L206.72,731.72 L207.38,730.48 L208.02,729.32 L208.65,729.71 L209.27,728.02 L209.89,727.76 L210.5,725.89 L211.13,725.23 L211.77,725.61 L212.43,723.31 L213.12,722.2 L213.83,721.8 L214.58,720.25 L215.37,721.32 L216.21,720.64 L217.09,720.23 L218.04,718.2 L219.04,717.57 L220.12,716.74 L220.68,716.8 L221.26,714.96 L221.85,716.47 L222.46,713.85 L223.08,714.33 L223.72,713.98 L224.37,712.91 L225.03,713.96 L225.7,713.78 L226.39,712.93 L227.08,713.23 L227.79,712.1 L228.51,710.88 L229.23,710.73 L229.97,711.01 L230.71,709.75 L231.47,710.67 L232.23,708.34 L232.99,709.66 L233.77,709.05 L234.55,708.91 L235.34,707.12 L236.13,706.37 L236.92,706.1 L237.72,707.65 L238.53,706.35 L239.34,706.11 L240.15,706.14 L240.96,703.79 L241.78,705.9 L242.6,704.37 L243.41,703.31 L244.23,702.38 L245.05,704.28 L245.87,703.13 L246.69,702.05 L247.37,703.66 L248.06,702.87 L248.76,700.9 L249.46,702.64 L250.16,701.73 L250.87,701.74 L251.58,701.17 L252.29,701.86 L253.01,701.74 L253.73,698.97 L254.45,699.37 L255.18,699.23 L255.91,700.34 L256.65,700.07 L257.39,699.07 L258.13,699.68 L258.87,698.9 L259.62,697.45 L260.37,698.76 L261.12,698.63 L261.87,696.73 L262.63,697.52 L263.39,698.84 L264.15,697.69 L264.91,696.85 L265.68,698.23 L266.45,697.3 L267.22,696.19 L267.99,695.56 L268.76,696.1 L269.53,695.14 L270.31,696.09 L271.09,696.1 L271.87,694.73 L272.65,695.78 L273.43,694.55 L274.21,695.88 L275,695.36 L275.78,695.62 L276.57,694.48 L277.35,695.34 L278.14,695.06 L278.92,694.86 L279.63,694.04 L280.33,694.31 L281.03,693.8 L281.73,692.21 L282.42,692.89 L283.12,692.27 L283.81,693.86 L284.51,693.25 L285.2,693.93 L285.89,692.16 L286.58,692.89 L287.28,692.98 L287.97,693.53 L288.66,692.96 L289.36,692.62 L290.05,692.14 L290.75,690.61 L291.45,691.03 L292.15,692.08 L292.85,691.71 L293.56,692.13 L294.26,689.94 L294.97,691.34 L295.69,690.14 L296.4,690.13 L297.12,689.53 L297.85,691.75 L298.58,690.83 L299.31,690.55 L300.05,691.23 L300.79,689 L301.54,690.36 L302.29,689.07 L303.05,689.62 L303.82,690.73 L304.59,689.73 L305.36,690.03 L306.15,690.44 L306.94,690.04 L307.73,688.75 L308.54,690.14 L309.35,689.29 L310.17,688.88 L311,688.46 L311.84,689.43 L312.68,687.82 L313.54,688.9 L314.4,687.56 L315.05,687.64 L315.72,688.94 L316.4,688.71 L317.09,688.43 L317.81,687.22 L318.53,687.95 L319.27,687.93 L320.02,686.58 L320.78,688.2 L321.56,687.95 L322.34,687.73 L323.14,688 L323.94,688.39 L324.75,688.36 L325.58,686.68 L326.4,686.78 L327.24,686.06 L328.08,685.55 L328.93,687.27 L329.78,686.21 L330.63,685.48 L331.49,687.27 L332.35,685.95 L333.21,685.94 L334.08,685.11 L334.94,685.27 L335.81,686.87 L336.67,685.75 L337.53,687.12 L338.4,686.16 L339.26,686.19 L340.11,687 L340.96,686.08 L341.81,686.16 L342.65,685.65 L343.49,686.16 L344.32,686.42 L345.14,685.72 L345.95,685.46 L346.76,686.22 L347.56,684.84 L348.35,685.91 L349.12,686.24 L349.89,685.53 L350.64,685.26 L351.38,685.93 L352.11,684.73 L352.83,684.36 L353.53,684.71 L354.21,684.27 L354.88,686.01 L355.54,684.99 L356.17,685.01 L356.79,685.76 L357.39,684.82 L357.97,685.7 L358.53,684.49 L359.08,684.21 L359.6,684.48 L360.09,684.82 L360.57,684.98 L361.02,685.55 L361.45,684.66 L361.86,683.19 L362.24,684.02" fill="none" stroke="#df3a33" stroke-width="3.6" stroke-linejoin="round" stroke-linecap="round"/><path d="M185.6,850.76 L185.98,832.67 L186.7,807.8 L187.45,790.04 L188.37,771.03 L189.43,753.6 L190.12,744.39 L190.86,735.69 L191.66,727.59 L192.5,720.19 L193.4,714.24 L194.07,709.05 L194.74,706.71 L195.44,702.75 L196.17,699.48 L196.95,695.92 L197.79,694.96 L198.7,691.92" fill="none" stroke="#b0262c" stroke-width="3.4" stroke-opacity="0.5" stroke-dasharray="2,1"/><path d="M198.7,691.92 L199.37,689.3 L200.05,688.26 L200.74,687.26 L201.46,685.99 L202.21,685.32 L203,684.11 L203.84,683.3 L204.73,680.63 L205.69,679.24 L206.72,679.22 L207.32,677.05 L207.9,678.56 L208.49,677.51 L209.09,675.73 L209.69,675.45 L210.3,674.5 L210.93,672.05 L211.59,673.42 L212.26,672.49 L212.97,671.57 L213.7,669.55 L214.48,669.91 L215.29,669.71 L216.15,667.46 L217.06,667.04 L218.02,666.65 L219.04,665.17 L220.12,663.97 L220.68,663.84 L221.26,663.24 L221.85,663.01 L222.46,661.89 L223.08,661.12 L223.72,662.4 L224.37,661.96 L225.03,660.12 L225.7,661.23 L226.39,659.76 L227.08,659.41 L227.79,659.02 L228.51,657.88 L229.23,657.85 L229.97,659.2 L230.71,657.57 L231.47,657.52 L232.23,656.92 L232.99,657.04 L233.77,656.86 L234.55,655.25 L235.34,655.42 L236.13,655.82 L236.92,655.4 L237.72,654.82 L238.53,654.84 L239.34,653.58 L240.15,654.23 L240.96,654.03 L241.78,653.66 L242.6,653.22 L243.41,651.28 L244.23,652.5 L245.05,651.27 L245.87,650.09 L246.69,650.53 L247.37,651.11 L248.06,648.98 L248.76,648.71 L249.46,650.61 L250.16,649.83 L250.87,648.91 L251.58,647.9 L252.29,648.72 L253.01,647.63 L253.73,648.61 L254.45,647.15 L255.18,647.95 L255.91,647.7 L256.65,646.35 L257.39,645.9 L258.13,645.72 L258.87,646.19 L259.62,646.36 L260.37,645.38 L261.12,645.39 L261.87,644.63 L262.63,644.5 L263.39,646.08 L264.15,645.21 L264.91,644.23 L265.68,645.19 L266.45,645.11 L267.22,645.36 L267.99,643.65 L268.76,642.52 L269.53,642.25 L270.31,644.26 L271.09,642.61 L271.87,643.13 L272.65,642.37 L273.43,642.81 L274.21,641.2 L275,640.86 L275.78,643.16 L276.57,641.22 L277.35,642.61 L278.14,642.62 L278.92,641.79 L279.63,640.45 L280.33,639.59 L281.03,641.74 L281.73,641.03 L282.42,641.67 L283.12,640.14 L283.81,640.14 L284.51,640.28 L285.2,640.29 L285.89,638.84 L286.58,638.58 L287.28,639.9 L287.97,639.46 L288.66,638.72 L289.36,638.18 L290.05,637.46 L290.75,638.88 L291.45,637.93 L292.15,638.17 L292.85,637.36 L293.56,638.94 L294.26,638.73 L294.97,638.77 L295.69,636.45 L296.4,638.11 L297.12,637.35 L297.85,638.19 L298.58,637.52 L299.31,638.19 L300.05,636.61 L300.79,637.6 L301.54,636.2 L302.29,637 L303.05,636.99 L303.82,636.19 L304.59,636.38 L305.36,636.53 L306.15,636.96 L306.94,636.81 L307.73,634.5 L308.54,635.92 L309.35,636.41 L310.17,636.02 L311,635.11 L311.84,633.64 L312.68,635.63 L313.54,633.76 L314.4,634.66 L315.05,634.76 L315.72,633.64 L316.4,634.65 L317.09,635.46 L317.81,634.08 L318.53,633.72 L319.27,633.73 L320.02,634.57 L320.78,632.74 L321.56,632.86 L322.34,632.44 L323.14,633.82 L323.94,632.71 L324.75,632.92 L325.58,634.3 L326.4,634.62 L327.24,634.17 L328.08,634.23 L328.93,634.27 L329.78,633.45 L330.63,632.33 L331.49,633.43 L332.35,632.82 L333.21,634.08 L334.08,633.49 L334.94,631.44 L335.81,633.88 L336.67,632.44 L337.53,631.63 L338.4,631.61 L339.26,631.7 L340.11,632.52 L340.96,631.39 L341.81,631.26 L342.65,631.36 L343.49,630.72 L344.32,633 L345.14,630.69 L345.95,632.08 L346.76,631.23 L347.56,632.37 L348.35,630.57 L349.12,632.86 L349.89,631.34 L350.64,632.21 L351.38,631.74 L352.11,631.74 L352.83,630.92 L353.53,630.47 L354.21,631.6 L354.88,630.83 L355.54,631.53 L356.17,631.69 L356.79,629.99 L357.39,631.49 L357.97,632.05 L358.53,631.37 L359.08,630.26 L359.6,631.62 L360.09,630.18 L360.57,630.66 L361.02,630.27 L361.45,631.57 L361.86,631.73 L362.24,631.6" fill="none" stroke="#b0262c" stroke-width="3.6" stroke-linejoin="round" stroke-linecap="round"/><line x1="178.1" y1="873.9" x2="186.1" y2="873.9" stroke="#c03038" stroke-width="3.6" stroke-linecap="round"/><line x1="186.1" y1="873.9" x2="186.3" y2="859.9" stroke="#c03038" stroke-width="1" stroke-dasharray="1.2,1.2"/><path d="M427.4,853.77 L427.7,852.01 L428.05,849.47 L428.91,846.77 L430.71,844.52 L431.2,844.18 L431.72,843.85 L432.29,843.54 L432.89,843.23 L433.54,842.94 L434.21,842.66 L434.92,842.45 L435.65,841.71 L436.42,841.43 L437.2,842.57 L438.01,842.67 L438.84,841.48 L439.68,841.52 L440.54,839.88 L441.41,839.97 L442.29,840 L443.18,839.9 L444.07,839.42 L444.97,840.58 L445.86,839.59 L446.76,840.12 L447.4,838.01 L448.04,840.1 L448.67,837.94 L449.3,839.75 L449.93,837.98 L450.56,838.76 L451.2,838.43 L451.83,837.12 L452.47,839.15 L453.11,838.9 L453.77,836.5 L454.42,837.43 L455.09,838.4 L455.77,835.9 L456.47,835.88 L457.17,837.96 L457.89,837.02 L458.63,837.67 L459.38,837.09 L460.15,836.17 L460.95,837.29 L461.76,835.79 L462.6,837.42 L463.46,837.03 L464.35,835.26 L465.26,836.3 L466.2,836.2 L467.17,835.7 L468.17,835.98 L468.75,836.22 L469.31,837.15 L469.87,835.31 L470.41,834.67 L470.95,834.66 L471.49,835.5 L472.02,836.33 L472.54,836.33 L473.06,835.49 L473.59,835.56 L474.11,837.07 L474.63,836.78 L475.15,836.48 L475.67,836.13 L476.2,835.38 L476.73,836.24 L477.27,837.54 L477.81,835.49 L478.36,836.57 L478.92,836.39 L479.48,837.23 L480.06,836.74 L480.65,836.9 L481.25,835.94 L481.86,837.77 L482.49,836.65 L483.14,837.69 L483.8,836.38 L484.47,838.18 L485.17,837.6 L485.88,837.48 L486.62,836.77 L487.38,838.37 L488.16,837.35 L488.96,838.07 L489.78,837.93 L490.64,837.47 L491.51,836.25 L492.42,837.56 L493.35,836.35 L494.32,838.48 L495.31,836.52 L496.34,838.05 L497.39,838.55 L498.48,837.1 L499.61,836.7 L500.77,839.13 L501.97,838.46 L503.2,837.16 L504.47,838.31 L505.78,838.59 L506.3,839.21 L506.83,839.13 L507.37,837.6 L507.92,836.64 L508.49,836.61 L509.06,837.92 L509.65,839.19 L510.25,838.4 L510.86,837.18 L511.48,837.06 L512.11,837.57 L512.75,838.66 L513.4,837.87 L514.06,838 L514.73,837.61 L515.41,838.57 L516.09,836.76 L516.79,836.9 L517.5,838.84 L518.21,838.5 L518.93,836.96 L519.67,838.53 L520.4,836.77 L521.15,837.9 L521.9,837.42 L522.67,837.39 L523.43,838.69 L524.21,838.5 L524.99,838.57 L525.78,837.44 L526.58,837.41 L527.38,838.89 L528.18,836.89 L529,838.12 L529.82,838.59 L530.64,838.07 L531.47,836.63 L532.3,837.73 L533.14,837.56 L533.98,836.77 L534.83,836.65 L535.68,837.18 L536.54,838.08 L537.4,837.63 L538.26,836.79 L539.12,837.08 L539.99,837.63 L540.86,838.24 L541.74,838.18 L542.62,837.2 L543.49,837.65 L544.38,839.09 L545.26,837.25 L546.14,836.73 L547.03,837 L547.92,836.73 L548.81,836.69 L549.7,837.67 L550.59,836.99 L551.48,838.07 L552.37,838.81 L553.26,838.12 L554.15,838.22 L555.04,836.57 L555.93,837.21 L556.82,837.59 L557.71,837.37 L558.59,838.68 L559.48,837.59 L560.36,837.14 L561.25,837.94 L562.13,838.33 L563,837.89 L563.88,838.1 L564.75,837.14 L565.62,838.57 L566.49,838.69 L567.35,838.1 L568.21,837.08 L569.07,836.9 L569.93,837.16 L570.77,836.42 L571.62,837.92 L572.46,838.8 L573.3,837.58 L574.13,837.69 L574.95,838.38 L575.78,837.08 L576.59,837.93 L577.4,838.2 L578.21,837.95 L579,836.31 L579.8,838.78 L580.58,837.84 L581.36,838.05 L582.13,838.24 L582.9,837.63 L583.66,838.18 L584.41,836.32 L585.15,837.42 L585.88,836.89 L586.61,838.3 L587.33,837.49 L588.04,837.11 L588.74,836.48 L589.43,838.04 L590.12,837.48 L590.79,836.43 L591.45,836.48 L592.11,838.07 L592.76,837.25 L593.39,836.65 L594.01,837.61 L594.63,836.87 L595.23,836.89 L595.83,836.07 L596.41,837.17 L596.98,836.83 L597.54,837.7 L598.08,836.68 L598.62,837.76 L599.14,837.29 L599.65,837.65 L600.15,837.79 L600.64,838.23 L601.11,837.99 L601.57,837.15 L602.02,837.92 L602.45,838.46 L602.87,836.45 L603.27,837.82 L603.66,836.09 L604.04,836.98" fill="none" stroke="#f2d8c0" stroke-width="3.6" stroke-linejoin="round" stroke-linecap="round"/><path d="M427.4,853.77 L427.78,852.64 L428.19,851.13 L428.66,849.33 L429.25,847.33 L429.98,845.23 L430.89,843.12 L432.03,841.09 L433.44,839.23 L433.95,838.67 L434.49,838.11 L435.07,837.85 L435.68,836.01 L436.32,835.39 L436.98,836.36 L437.67,836.32 L438.39,834.4 L439.12,833.32 L439.87,833.39 L440.64,832.38 L441.42,832.81 L442.22,831.73 L443.03,832.13 L443.85,831.22 L444.67,830.76 L445.51,830.22 L446.34,829.65 L447.18,828.06 L448.01,829.23 L448.85,828.63 L449.68,828 L450.5,825.61 L451.32,826.3 L452.13,827.06 L452.82,824.57 L453.5,824.06 L454.18,823.79 L454.86,824.6 L455.53,823.2 L456.2,823.93 L456.87,823.97 L457.54,821.64 L458.22,821.33 L458.89,822.58 L459.57,820.42 L460.26,822.29 L460.95,821.16 L461.64,821.56 L462.34,820.77 L463.06,820.41 L463.78,818.59 L464.51,819.33 L465.26,819.25 L466.01,818.92 L466.78,818.23 L467.57,816.43 L468.37,816.77 L469.18,817.78 L470.02,815.91 L470.87,815.99 L471.74,815.91 L472.63,815.39 L473.55,814.77 L474.18,814.18 L474.82,814.76 L475.47,814.23 L476.13,814.49 L476.81,813.86 L477.49,814.33 L478.18,814.08 L478.88,813.64 L479.59,812.94 L480.31,813.93 L481.03,812.05 L481.77,813.04 L482.5,811.91 L483.25,812.19 L484,811.33 L484.76,811.9 L485.52,812.42 L486.29,812.33 L487.06,811.65 L487.83,811.12 L488.61,810.75 L489.39,812.48 L490.18,812.52 L490.97,812.26 L491.75,812.19 L492.54,812.13 L493.33,812.12 L494.13,811.35 L494.92,811.58 L495.71,809.94 L496.5,809.99 L497.29,808.94 L498.08,808.83 L498.86,809.27 L499.65,808.61 L500.43,810.92 L501.21,810.27 L501.98,808.3 L502.75,809.37 L503.52,809.96 L504.28,808.38 L505.03,809.14 L505.78,808.71 L506.53,809.19 L507.27,809.27 L508.01,809.56 L508.75,808.08 L509.48,807.06 L510.22,806.86 L510.95,807.34 L511.68,806.79 L512.4,808.2 L513.13,808.27 L513.86,806.52 L514.58,807.28 L515.3,807 L516.03,808.64 L516.75,807.98 L517.47,807.22 L518.2,806.47 L518.92,806.13 L519.65,806.23 L520.37,807.24 L521.1,807.05 L521.82,805.69 L522.55,805.27 L523.29,806.52 L524.02,807.2 L524.75,805.98 L525.49,806.13 L526.23,806.51 L526.98,806.77 L527.72,806.28 L528.47,805.6 L529.22,806.8 L529.98,805.62 L530.74,804.45 L531.51,804.91 L532.28,806.13 L533.05,805.61 L533.83,806.35 L534.61,804.59 L535.4,804.78 L536.19,805.9 L536.99,804.82 L537.8,804.6 L538.49,804.57 L539.18,805.02 L539.88,805.12 L540.59,804.92 L541.3,803.15 L542.02,804.83 L542.74,804.29 L543.47,804.32 L544.21,805 L544.95,804.32 L545.69,804.75 L546.44,804.36 L547.19,804.16 L547.95,804.12 L548.71,802.49 L549.47,804.1 L550.23,803.92 L551,802.98 L551.76,803.59 L552.53,803.19 L553.3,802.76 L554.07,804.2 L554.85,802.53 L555.62,803.96 L556.39,803.48 L557.16,801.92 L557.93,801.37 L558.7,802.12 L559.47,803.37 L560.23,802.58 L561,802.91 L561.76,801.36 L562.52,802.89 L563.27,802.91 L564.03,801.66 L564.77,801.59 L565.52,801.64 L566.26,801.85 L566.99,800.51 L567.73,801.76 L568.45,800.42 L569.17,801.79 L569.88,801.52 L570.59,801.73 L571.29,800.72 L571.98,800.56 L572.67,801.84 L573.35,801.02 L574.02,800.42 L574.68,800.95 L575.34,800.46 L576.19,800.5 L577.05,800.16 L577.91,801.02 L578.78,801.07 L579.65,801.74 L580.53,799.37 L581.4,799.55 L582.28,800.53 L583.15,798.92 L584.02,799.02 L584.89,800.93 L585.76,799.04 L586.62,800.06 L587.48,800.27 L588.33,800.34 L589.17,799.86 L590,800.74 L590.82,800.68 L591.63,800.43 L592.43,799.86 L593.22,800.19 L593.99,800.22 L594.75,798.28 L595.49,799.41 L596.22,799.06 L596.93,798.71 L597.61,797.77 L598.28,799.8 L598.93,799.53 L599.56,797.8 L600.16,797.62 L600.74,797.52 L601.29,798.54 L601.82,798.92 L602.32,799.35 L602.8,797.4 L603.24,797.75 L603.66,798.27 L604.04,797.61" fill="none" stroke="#ebc29a" stroke-width="3.6" stroke-linejoin="round" stroke-linecap="round"/><path d="M427.4,853.77 L427.83,852.1 L428.34,849.94 L428.92,847.36 L429.58,844.47 L430.31,841.35 L431.1,838.12 L431.96,834.85 L432.89,831.64 L433.87,828.6 L434.91,826.44 L436.01,823.27 L436.61,821.13 L437.23,822.12 L437.87,819.68 L438.54,819.77 L439.22,817.01 L439.91,816 L440.63,815.55 L441.37,815.15 L442.12,815.32 L442.88,813.17 L443.66,812.65 L444.46,811.69 L445.27,811.71 L446.09,808.66 L446.92,808.92 L447.76,808.04 L448.62,806.53 L449.48,805.64 L450.36,805.82 L451.24,805.12 L452.13,803.61 L452.78,804.36 L453.42,802.48 L454.07,804.32 L454.72,801.83 L455.38,802.09 L456.03,801.41 L456.69,800.02 L457.36,801.65 L458.03,800.76 L458.7,799.34 L459.38,799.1 L460.07,799.32 L460.77,798.3 L461.47,798.21 L462.19,797.35 L462.91,797.59 L463.65,798.02 L464.4,797.89 L465.15,798.11 L465.93,797.68 L466.71,797.57 L467.51,794.79 L468.32,796.68 L469.15,795.14 L470,796.06 L470.86,793.55 L471.73,794.37 L472.63,794.99 L473.55,792.95 L474.18,792.65 L474.83,792.12 L475.49,793.9 L476.17,793.21 L476.86,792.32 L477.56,793.11 L478.28,792.14 L479.01,791.58 L479.74,791.24 L480.49,790.85 L481.25,790.84 L482.01,791.87 L482.79,790.42 L483.57,791.08 L484.35,791.58 L485.14,791.78 L485.94,789.99 L486.74,790.5 L487.54,791 L488.34,789.76 L489.15,789.77 L489.96,789.82 L490.77,789 L491.57,788.89 L492.38,788.73 L493.18,787.33 L493.98,787.37 L494.78,788.79 L495.57,787.1 L496.36,788.39 L497.14,786.57 L497.92,788.72 L498.68,787.86 L499.44,786.06 L500.19,786.6 L500.93,786.31 L501.66,787.47 L502.38,787.52 L503.09,785.13 L503.78,787.33 L504.46,786.87 L505.13,786.03 L505.78,784.84 L506.67,784.99 L507.54,783.92 L508.38,784.29 L509.22,784.98 L510.04,783.51 L510.84,784.88 L511.63,785.38 L512.41,782.78 L513.18,782.79 L513.93,783.18 L514.68,783.46 L515.42,784 L516.15,783.77 L516.87,783.98 L517.59,783.73 L518.3,782.53 L519,781.24 L519.71,780.96 L520.41,781.89 L521.11,781.29 L521.81,781.65 L522.51,780.66 L523.21,780.66 L523.91,779.74 L524.62,779.93 L525.33,780.19 L526.04,780.24 L526.76,781.17 L527.49,780.19 L528.22,780.06 L528.97,780.65 L529.72,780.34 L530.46,779.6 L531.21,780.03 L531.96,778.66 L532.71,779.25 L533.46,777.32 L534.2,777.93 L534.95,778.19 L535.7,778.22 L536.45,778.15 L537.19,778.46 L537.94,776.26 L538.69,776.21 L539.44,776.72 L540.19,776.53 L540.93,777.68 L541.68,776.45 L542.43,777.25 L543.18,776.65 L543.93,775.77 L544.67,776.69 L545.42,776.34 L546.17,774.84 L546.92,775.3 L547.66,774.05 L548.41,775.8 L549.16,775.8 L549.91,773.37 L550.66,774.06 L551.4,773.66 L552.15,773.84 L552.9,774.74 L553.64,772.36 L554.37,773.46 L555.1,772.19 L555.83,774.03 L556.56,773.52 L557.28,772.62 L558,773.25 L558.72,771.46 L559.44,772.87 L560.15,773.18 L560.87,772.79 L561.59,772.33 L562.31,770.37 L563.04,770.38 L563.76,770.76 L564.49,771.23 L565.22,772.08 L565.96,769.82 L566.7,771.51 L567.45,771.14 L568.2,770.34 L568.96,769.03 L569.73,770.65 L570.5,770.79 L571.28,768.37 L572.07,770.56 L572.87,768.46 L573.68,769.84 L574.5,769.23 L575.34,769.27 L576.01,768.5 L576.72,767.07 L577.44,767.11 L578.19,767.74 L578.95,768.75 L579.74,768.34 L580.53,767.84 L581.35,766.33 L582.17,765.82 L583.01,767.98 L583.85,766.97 L584.7,765.12 L585.56,767.06 L586.42,767.05 L587.28,766.36 L588.14,764.51 L589,765.97 L589.86,764.56 L590.71,765.96 L591.56,764.34 L592.4,765.44 L593.22,764.12 L594.04,763.55 L594.84,763 L595.63,763.99 L596.39,762.36 L597.14,763.72 L597.87,762.12 L598.58,762.05 L599.26,761.67 L599.92,763.88 L600.55,763.29 L601.15,762.04 L601.72,761.41 L602.26,762.94 L602.76,761.48 L603.22,762.14 L603.65,763.29 L604.04,762.99" fill="none" stroke="#f7dc9c" stroke-width="3.6" stroke-linejoin="round" stroke-linecap="round"/><path d="M427.4,850.47 L427.82,848.17 L428.31,845.12 L428.9,841.48 L429.58,837.44 L430.37,833.17 L431.27,828.84 L432.29,824.64 L433.44,820.72 L433.98,819.06 L434.55,817.36 L435.14,816.95 L435.75,814.64 L436.38,811.03 L437.04,809.96 L437.71,807.73 L438.41,805.85 L439.13,805.5 L439.88,802.99 L440.65,801.41 L441.45,799.65 L442.27,799.61 L443.11,795.92 L443.98,796.31 L444.88,794.06 L445.81,791.98 L446.76,790.46 L447.37,789.42 L447.99,789.97 L448.64,789.21 L449.3,787.3 L449.97,788.34 L450.66,785.4 L451.36,786.14 L452.08,785.22 L452.81,784.72 L453.54,782.96 L454.29,783.71 L455.04,783.14 L455.81,782.67 L456.57,781.85 L457.35,779.92 L458.12,778.33 L458.91,780.32 L459.69,778.51 L460.47,778.2 L461.26,777.75 L462.04,777.09 L462.83,777.15 L463.61,775.77 L464.38,775.65 L465.15,775.67 L465.92,774.95 L466.68,772.34 L467.43,772.39 L468.17,771.19 L468.92,771.15 L469.66,770.89 L470.42,771.79 L471.17,771.67 L471.93,768.94 L472.69,769.32 L473.46,768.83 L474.23,769.98 L474.99,767.9 L475.76,768.22 L476.53,769.06 L477.3,768.4 L478.07,766.07 L478.83,766.66 L479.59,767.75 L480.35,767.47 L481.1,765.4 L481.85,766.15 L482.59,765.53 L483.33,766.14 L484.06,765.74 L484.79,764.61 L485.5,764.51 L486.21,764.86 L486.91,764.66 L487.59,763.59 L488.27,764.17 L488.94,764.01 L489.59,762.62 L490.43,763.34 L491.23,761.15 L492.01,760.68 L492.76,760.47 L493.49,759.45 L494.2,761.17 L494.89,760.14 L495.57,759.81 L496.24,760.37 L496.91,757.94 L497.58,759.77 L498.25,756.94 L498.92,757.41 L499.6,756.26 L500.3,758.37 L501.01,755.83 L501.73,755.31 L502.49,755.46 L503.26,755.65 L504.07,755.12 L504.91,755.22 L505.78,753.88 L506.43,754.36 L507.08,754.19 L507.75,754.32 L508.43,753.48 L509.13,753.33 L509.83,752.15 L510.55,752.34 L511.27,753.26 L512,751.97 L512.75,753.01 L513.49,752.1 L514.25,751.73 L515.01,750.95 L515.78,752.43 L516.55,751.98 L517.33,751.63 L518.11,750.22 L518.89,751.16 L519.67,749.88 L520.46,748.77 L521.24,749.72 L522.03,750.01 L522.81,748.77 L523.59,749.01 L524.38,748.69 L525.15,749.12 L525.93,747.54 L526.69,748.18 L527.46,746.24 L528.22,747.28 L528.97,746.54 L529.72,745.64 L530.46,745.23 L531.21,747.53 L531.96,744.87 L532.71,746.79 L533.46,744.3 L534.2,744.47 L534.95,745.61 L535.7,744.14 L536.45,744.28 L537.19,744.32 L537.94,743.6 L538.69,743.79 L539.44,743 L540.19,742.64 L540.93,744.21 L541.68,742.28 L542.43,741.85 L543.18,741.17 L543.93,741.79 L544.67,741.53 L545.42,742.33 L546.17,741.95 L546.92,739.85 L547.66,741.82 L548.41,739.36 L549.16,741.18 L549.91,740.26 L550.66,739.41 L551.4,740.75 L552.15,739.42 L552.9,738.28 L553.64,739.16 L554.37,739.5 L555.1,739.6 L555.83,737.05 L556.56,739.08 L557.28,737.39 L558,737.28 L558.72,738.04 L559.44,737.11 L560.15,736.58 L560.87,737.66 L561.59,737.38 L562.31,735.4 L563.04,737.12 L563.76,736.19 L564.49,736.1 L565.22,735.07 L565.96,734.68 L566.7,734.75 L567.45,734.94 L568.2,734.99 L568.96,736 L569.73,734.54 L570.5,734.74 L571.28,733.71 L572.07,734.53 L572.87,735.02 L573.68,734.15 L574.5,732.78 L575.34,733.48 L576.01,732.87 L576.72,734.34 L577.44,733.74 L578.19,733.47 L578.95,732.73 L579.74,733.53 L580.53,731.18 L581.35,732.63 L582.17,733.34 L583.01,732.54 L583.85,731.67 L584.7,731.2 L585.56,730.5 L586.42,732.25 L587.28,729.75 L588.14,729.88 L589,730.61 L589.86,730.09 L590.71,730.82 L591.56,731.08 L592.4,731.28 L593.22,728.6 L594.04,728.63 L594.84,729.65 L595.63,729.09 L596.39,729.27 L597.14,728.56 L597.87,729.98 L598.58,728.11 L599.26,729.51 L599.92,728.28 L600.55,728.08 L601.15,727.36 L601.72,727.87 L602.26,728.92 L602.76,727.14 L603.22,728.21 L603.65,727.63 L604.04,726.92" fill="none" stroke="#e99a34" stroke-width="3.6" stroke-linejoin="round" stroke-linecap="round"/><path d="M427.4,850.47 L427.94,845.49 L428.71,838.32 L429.65,830.45 L430.71,823.36 L431.37,819.87 L432.08,816.47 L432.83,813.17 L433.63,809.96 L434.48,806.84 L435.37,802.56 L436.31,801.94 L437,799.02 L437.73,797.43 L438.49,794.12 L439.28,793.45 L440.08,790.28 L440.9,788.82 L441.71,788.1 L442.53,785.52 L443.33,784.13 L444.11,784.06 L444.83,782.12 L445.5,781.22 L446.12,778.15 L446.73,778.14 L447.35,777.25 L448.03,775 L448.77,773.09 L449.61,774.06 L450.57,771.23 L451.69,770.94 L452.25,768.7 L452.85,768.04 L453.47,767.17 L454.12,766.82 L454.79,767.17 L455.49,764.35 L456.21,765.41 L456.95,763.25 L457.7,761.31 L458.47,762.2 L459.25,760.7 L460.05,759.24 L460.85,758.38 L461.66,758.3 L462.48,757.13 L463.3,754.95 L464.12,754.53 L464.94,755.09 L465.76,752.89 L466.57,751.61 L467.38,751.48 L468.17,749.94 L468.87,750.96 L469.58,750.26 L470.29,748.13 L471,749.14 L471.72,748.9 L472.44,748.27 L473.16,745.77 L473.89,745.37 L474.62,746.49 L475.36,744.52 L476.09,745.43 L476.83,743.79 L477.58,744.89 L478.32,742.89 L479.06,741.92 L479.81,742.06 L480.56,741.23 L481.31,742.08 L482.06,740.67 L482.81,739.3 L483.56,739.88 L484.32,738.38 L485.07,738.24 L485.82,737.16 L486.57,736.8 L487.3,737.43 L488.01,735.54 L488.73,735.02 L489.45,735.52 L490.16,734.22 L490.87,734.49 L491.58,733.53 L492.3,733.66 L493.01,732.77 L493.72,732.64 L494.44,730.56 L495.16,730.77 L495.88,730.23 L496.61,729.94 L497.34,729.57 L498.07,729.81 L498.81,728.04 L499.55,728.05 L500.31,727.8 L501.06,726.84 L501.83,727.34 L502.6,725.47 L503.38,724.61 L504.17,725.21 L504.97,725.26 L505.78,722.65 L506.47,723.16 L507.17,723.55 L507.87,723.75 L508.58,722.07 L509.3,722.61 L510.02,720.41 L510.75,720.49 L511.48,721.25 L512.22,720.51 L512.97,720.96 L513.72,720.21 L514.47,718.93 L515.23,717.68 L515.98,718.5 L516.75,716.7 L517.51,718.19 L518.28,718.22 L519.04,715.9 L519.81,716.75 L520.58,716.64 L521.35,715.84 L522.12,715.04 L522.89,715.72 L523.65,715.67 L524.42,714.03 L525.19,713.53 L525.95,713.45 L526.71,714.18 L527.46,712 L528.22,712.82 L528.97,712.2 L529.72,710.99 L530.46,712.67 L531.21,711.42 L531.96,711.32 L532.71,710.46 L533.46,711.27 L534.2,710.96 L534.95,710.72 L535.7,709.58 L536.45,710 L537.19,708.08 L537.94,707.97 L538.69,708.1 L539.44,708.7 L540.19,707.35 L540.93,707.77 L541.68,706.98 L542.43,706.29 L543.18,708.26 L543.93,706.33 L544.67,705.73 L545.42,706.82 L546.17,706.76 L546.92,707.36 L547.66,704.85 L548.41,706.45 L549.16,706.75 L549.91,706.32 L550.66,704.98 L551.4,704.32 L552.15,703.51 L552.9,703.93 L553.64,705.2 L554.37,702.8 L555.1,702.75 L555.83,702.71 L556.56,702.26 L557.28,702.22 L558,702.42 L558.72,702 L559.44,703.77 L560.15,701.02 L560.87,703.43 L561.59,702.13 L562.31,701.56 L563.04,701.53 L563.76,701.8 L564.49,701.17 L565.22,701.49 L565.96,700.4 L566.7,701.89 L567.45,700.89 L568.2,699.9 L568.96,700.24 L569.73,701.23 L570.5,699.9 L571.28,698.5 L572.07,699.41 L572.87,698.69 L573.68,699.45 L574.5,697.72 L575.34,698.76 L576.01,697.89 L576.72,698.25 L577.44,697.63 L578.19,698.63 L578.95,697.09 L579.74,696.81 L580.53,696.92 L581.35,696.78 L582.17,698.1 L583.01,698.05 L583.85,696.46 L584.7,696.52 L585.56,697.03 L586.42,697 L587.28,698.33 L588.14,696.78 L589,697.99 L589.86,696.64 L590.71,697.34 L591.56,696.22 L592.4,697.31 L593.22,696.76 L594.04,695.49 L594.84,695.9 L595.63,696.98 L596.39,694.64 L597.14,697.1 L597.87,695.98 L598.58,695.1 L599.26,695.37 L599.92,695.1 L600.55,694.36 L601.15,696.43 L601.72,695.27 L602.26,695.88 L602.76,694.9 L603.22,695.2 L603.65,694.71 L604.04,694.2" fill="none" stroke="#e2642e" stroke-width="3.6" stroke-linejoin="round" stroke-linecap="round"/><path d="M427.4,850.47 L428.06,845.22 L429.39,833.94 L429.93,828.64 L430.54,822.23 L431.21,815.05 L431.95,807.45 L432.78,799.8 L433.68,792.42 L434.69,785.69" fill="none" stroke="#df3a33" stroke-width="3.4" stroke-opacity="0.5" stroke-dasharray="2,1"/><path d="M434.69,785.69 L435.31,782.02 L435.97,778.59 L436.66,774.65 L437.38,772.13 L438.12,766.68 L438.9,764.64 L439.7,761.01 L440.53,756.84 L441.38,753.69 L442.26,750.19 L443.17,747.99 L444.11,745.61 L444.75,744.06 L445.42,741.36 L446.1,740.05 L446.8,739.99 L447.52,736.91 L448.26,735.04 L449,734.32 L449.76,731.57 L450.52,730.33 L451.29,728.51 L452.06,728.68 L452.84,726.32 L453.61,725.23 L454.39,724.49 L455.16,723.29 L455.92,722.55 L456.68,719.3 L457.43,719.52 L458.17,718.09 L458.9,717.11 L459.63,715.11 L460.36,714.09 L461.08,711.96 L461.8,712.91 L462.52,711.12 L463.25,708.74 L463.97,707.8 L464.71,708.71 L465.44,706.7 L466.18,704.29 L466.93,703.39 L467.69,704.23 L468.45,702.23 L469.23,702.47 L470.02,702.36 L470.82,699.37 L471.52,700.77 L472.22,697.88 L472.92,698.74 L473.63,697.15 L474.34,697.65 L475.05,696.05 L475.77,696.01 L476.5,697.1 L477.23,697.08 L477.96,696.3 L478.71,694.77 L479.46,695.7 L480.22,695.43 L480.98,694.25 L481.75,694.75 L482.53,693.7 L483.32,692.47 L484.12,693.15 L484.93,691.25 L485.75,692.24 L486.57,691.52 L487.25,691.06 L487.93,689.52 L488.61,691.29 L489.3,688.92 L489.99,690.46 L490.69,687.8 L491.39,688.55 L492.1,687.69 L492.81,687.96 L493.53,687.21 L494.25,686.81 L494.98,687.89 L495.71,687.41 L496.45,685.16 L497.2,686.63 L497.95,686.2 L498.7,686.34 L499.47,684.21 L500.23,683.64 L501.01,685.23 L501.79,682.66 L502.58,684.23 L503.37,682.81 L504.17,682.35 L504.97,682.61 L505.78,681.98 L506.47,681.16 L507.17,679.99 L507.87,680.99 L508.58,680.63 L509.3,678.24 L510.02,679.68 L510.75,679.67 L511.48,677.03 L512.22,676.59 L512.97,678.01 L513.72,676.71 L514.47,675.33 L515.23,676.32 L515.98,675.79 L516.75,676.21 L517.51,675.41 L518.28,673.67 L519.04,673.5 L519.81,672.06 L520.58,672.7 L521.35,672.71 L522.12,671.93 L522.89,672.16 L523.65,670.83 L524.42,669.84 L525.19,670.77 L525.95,669.3 L526.71,667.81 L527.46,668.23 L528.22,668.86 L528.97,667.65 L529.72,668.72 L530.46,668.39 L531.21,666.22 L531.96,666.17 L532.71,666.08 L533.46,665.95 L534.2,666.21 L534.95,664.64 L535.7,665.21 L536.45,664.12 L537.19,664.09 L537.94,664.89 L538.69,663.36 L539.44,664.34 L540.19,663.39 L540.93,662.55 L541.68,662.02 L542.43,662.66 L543.18,663.54 L543.93,663.42 L544.67,661.42 L545.42,662.58 L546.17,662.78 L546.92,661.42 L547.66,661.62 L548.41,660.55 L549.16,661.82 L549.91,660.72 L550.66,659.33 L551.4,661.18 L552.15,660.39 L552.9,660.16 L553.64,660.64 L554.37,660.4 L555.1,659.74 L555.83,658.92 L556.56,659.81 L557.28,658.3 L558,658.8 L558.72,658.81 L559.44,657.17 L560.15,657.27 L560.87,657.87 L561.59,658.18 L562.31,657.34 L563.04,656.8 L563.76,656.33 L564.49,656.42 L565.22,657.99 L565.96,657.4 L566.7,655.02 L567.45,656.03 L568.2,655.95 L568.96,656.83 L569.73,654.89 L570.5,654.61 L571.28,655.8 L572.07,655.73 L572.87,656.08 L573.68,655.28 L574.5,654.56 L575.34,654.55 L576.01,655.57 L576.72,655.18 L577.44,654.66 L578.19,652.94 L578.95,652.43 L579.74,652.54 L580.53,653.35 L581.35,653.54 L582.17,651.96 L583.01,652.17 L583.85,652.29 L584.7,651.98 L585.56,651.19 L586.42,652.11 L587.28,652.66 L588.14,651.23 L589,650.55 L589.86,652.25 L590.71,651.67 L591.56,650.51 L592.4,650.25 L593.22,652.07 L594.04,649.92 L594.84,651.26 L595.63,651.43 L596.39,651.49 L597.14,650.26 L597.87,650.14 L598.58,650.72 L599.26,649.2 L599.92,650.47 L600.55,648.39 L601.15,648.09 L601.72,649.74 L602.26,650.46 L602.76,650.24 L603.22,648.92 L603.65,649.32 L604.04,648.12" fill="none" stroke="#df3a33" stroke-width="3.6" stroke-linejoin="round" stroke-linecap="round"/><path d="M427.4,850.47 L427.44,848.44 L427.99,840.55 L428.58,833.64 L429.36,824.75 L430.26,814.63 L431.18,804.01 L432.04,793.62 L432.77,783.02 L433.43,771.72 L434.13,760.38 L434.95,749.92 L436.01,740.92" fill="none" stroke="#b0262c" stroke-width="3.4" stroke-opacity="0.5" stroke-dasharray="2,1"/><path d="M436.01,740.92 L436.57,737.47 L437.16,731.87 L437.78,729.34 L438.43,726.63 L439.12,725.08 L439.84,721.84 L440.61,718.42 L441.41,716.12 L442.26,714.48 L443.16,711.59 L444.11,707.53 L444.72,707.72 L445.37,704.29 L446.05,702.24 L446.77,700.82 L447.5,698.79 L448.26,695.85 L449.03,695.49 L449.81,692.41 L450.6,690.56 L451.4,688.62 L452.19,688.52 L452.99,685.04 L453.77,684.1 L454.54,683.04 L455.3,679.33 L456.03,679.46 L456.74,677.44 L457.43,676.47 L458.28,675.32 L459.1,673.29 L459.9,670.99 L460.69,669.56 L461.46,668 L462.22,668.39 L462.97,666.96 L463.71,664.44 L464.45,664.27 L465.19,662.77 L465.93,662.63 L466.67,661.9 L467.42,662.11 L468.17,659.19 L468.91,658.31 L469.59,658.2 L470.23,658.99 L470.85,657.44 L471.45,656.92 L472.07,657.62 L472.7,657.06 L473.36,655.41 L474.06,656.79 L474.83,655.58 L475.67,656.77 L476.6,656.49 L477.63,656.06 L478.77,654.93 L479.33,653.06 L479.91,653.78 L480.52,653.81 L481.15,654.48 L481.8,653.18 L482.47,654.09 L483.16,654.03 L483.86,653.1 L484.58,653.07 L485.32,651.46 L486.07,651.8 L486.83,651.37 L487.61,652.09 L488.39,651.55 L489.18,652.05 L489.98,651.35 L490.78,649.24 L491.59,649.85 L492.4,650.48 L493.22,649.46 L494.03,648.46 L494.85,648.47 L495.66,648.97 L496.47,649.69 L497.28,649.7 L498.08,649.38 L498.87,647.13 L499.66,646.97 L500.44,646.9 L501.2,646.57 L501.96,647.83 L502.7,646.38 L503.45,647.6 L504.18,647.25 L504.92,645.4 L505.65,646.71 L506.39,645.33 L507.12,645.18 L507.85,643.5 L508.57,644.56 L509.3,644.62 L510.03,643.05 L510.76,644.11 L511.48,641.6 L512.21,641.43 L512.94,640.91 L513.68,641.57 L514.41,642.39 L515.15,642.01 L515.89,640.32 L516.63,640.71 L517.38,639.68 L518.13,640.66 L518.89,639.37 L519.65,638.29 L520.41,639.46 L521.18,637.69 L521.96,639.18 L522.75,637.48 L523.54,638.81 L524.34,637.96 L525.14,638.09 L525.84,637.49 L526.55,636.34 L527.27,635.31 L528,635.03 L528.73,634.48 L529.47,635.96 L530.21,633.84 L530.96,634.91 L531.71,633.99 L532.47,633.55 L533.24,634.45 L534,634.14 L534.77,633.44 L535.54,633.4 L536.32,632.09 L537.09,631.44 L537.87,631.69 L538.65,633.03 L539.42,630.77 L540.2,630.57 L540.97,629.72 L541.75,631.55 L542.52,629.31 L543.29,630.46 L544.06,629.78 L544.82,630.45 L545.58,630.07 L546.33,629.37 L547.08,628.75 L547.83,629.33 L548.57,628.31 L549.3,628.42 L550.02,628.74 L550.74,627.4 L551.45,628.06 L552.15,628.6 L552.95,627.84 L553.75,627.15 L554.52,626.43 L555.29,627.68 L556.05,625.33 L556.8,627.29 L557.54,624.82 L558.27,627.08 L559,626.18 L559.72,625.96 L560.44,624.91 L561.15,626.32 L561.86,625.87 L562.57,624.1 L563.28,623.72 L563.99,625.87 L564.7,625.63 L565.42,624.87 L566.14,624.69 L566.86,623.74 L567.58,622.92 L568.32,623.61 L569.06,624.29 L569.8,624.46 L570.56,624.76 L571.33,624.62 L572.1,622.39 L572.89,622.26 L573.69,623.44 L574.51,623.69 L575.34,621.86 L576.01,623.42 L576.72,622.84 L577.44,621.44 L578.19,623.61 L578.95,622.62 L579.74,622.9 L580.53,622.12 L581.35,620.71 L582.17,620.52 L583.01,620.94 L583.85,620.56 L584.7,621.68 L585.56,620.59 L586.42,620.49 L587.28,619.9 L588.14,621.21 L589,619.8 L589.86,621.42 L590.71,620.25 L591.56,619.17 L592.4,619.59 L593.22,619.44 L594.04,620.85 L594.84,620.23 L595.63,619.62 L596.39,618.86 L597.14,620.26 L597.87,619.36 L598.58,618.71 L599.26,618.77 L599.92,619.82 L600.55,620.15 L601.15,619.37 L601.72,619.73 L602.26,618.68 L602.76,618.7 L603.22,619.9 L603.65,617.49 L604.04,617.49" fill="none" stroke="#b0262c" stroke-width="3.6" stroke-linejoin="round" stroke-linecap="round"/><line x1="419.9" y1="873.6" x2="427.9" y2="873.6" stroke="#c03038" stroke-width="3.6" stroke-linecap="round"/><line x1="427.9" y1="873.6" x2="428.1" y2="859.6" stroke="#c03038" stroke-width="1" stroke-dasharray="1.2,1.2"/><line x1="936.7" y1="549.9" x2="964" y2="549.9" stroke="#e8342c" stroke-width="2.6"/><rect x="945.3" y="544.8" width="10.4" height="10.2" fill="#e8342c"/><line x1="936.7" y1="585.5" x2="964" y2="585.5" stroke="#1f1fe0" stroke-width="2.6"/><circle cx="950.5" cy="585.5" r="5.4" fill="#1f1fe0"/><line x1="937" y1="616.2" x2="965" y2="616.2" stroke="#4dba3c" stroke-width="2.6"/><path d="M951,610 L957.3,621 L944.7,621 Z" fill="#4dba3c"/><text x="979.5" y="558.3" font-size="21.2" text-anchor="start" font-weight="normal" font-family='"Liberation Sans", sans-serif' fill="#111" ><tspan font-weight="bold">50 mM NaCl</tspan> Kd = 38.8 &#177; 3.2 nM</text><text x="979.5" y="593.8" font-size="20.9" text-anchor="start" font-weight="normal" font-family='"Liberation Sans", sans-serif' fill="#111" ><tspan font-weight="bold">100mM NaCl</tspan> Kd = 676.2 &#177; 45.7 nM</text><text x="981" y="624.5" font-size="20.9" text-anchor="start" font-weight="normal" font-family='"Liberation Sans", sans-serif' fill="#111" ><tspan font-weight="bold">150mM NaCl</tspan> Kd = 2,656.0 &#177; 212.2 nM</text><line x1="909.3" y1="622.3" x2="909.3" y2="879.9000000000001" stroke="#000" stroke-width="2.5"/><line x1="908.0999999999999" y1="878.7" x2="1373.5" y2="878.7" stroke="#000" stroke-width="2.5"/><line x1="901.8" y1="878.7" x2="909.3" y2="878.7" stroke="#000" stroke-width="2.5"/><text x="897.8" y="885" font-size="18.6" text-anchor="end" font-weight="bold" font-family='"Liberation Sans", sans-serif' fill="#000" >0</text><line x1="901.8" y1="827.5" x2="909.3" y2="827.5" stroke="#000" stroke-width="2.5"/><text x="897.8" y="833.8" font-size="18.6" text-anchor="end" font-weight="bold" font-family='"Liberation Sans", sans-serif' fill="#000" >50</text><line x1="901.8" y1="776.3" x2="909.3" y2="776.3" stroke="#000" stroke-width="2.5"/><text x="897.8" y="782.6" font-size="18.6" text-anchor="end" font-weight="bold" font-family='"Liberation Sans", sans-serif' fill="#000" >100</text><line x1="901.8" y1="725.1" x2="909.3" y2="725.1" stroke="#000" stroke-width="2.5"/><text x="897.8" y="731.4" font-size="18.6" text-anchor="end" font-weight="bold" font-family='"Liberation Sans", sans-serif' fill="#000" >150</text><line x1="901.8" y1="673.9" x2="909.3" y2="673.9" stroke="#000" stroke-width="2.5"/><text x="897.8" y="680.2" font-size="18.6" text-anchor="end" font-weight="bold" font-family='"Liberation Sans", sans-serif' fill="#000" >200</text><line x1="901.8" y1="622.7" x2="909.3" y2="622.7" stroke="#000" stroke-width="2.5"/><text x="897.8" y="629" font-size="18.6" text-anchor="end" font-weight="bold" font-family='"Liberation Sans", sans-serif' fill="#000" >250</text><line x1="909.3" y1="878.7" x2="909.3" y2="885.7" stroke="#000" stroke-width="2.2"/><line x1="926.73" y1="878.7" x2="926.73" y2="883.2" stroke="#000" stroke-width="1.6"/><line x1="936.93" y1="878.7" x2="936.93" y2="883.2" stroke="#000" stroke-width="1.6"/><line x1="944.16" y1="878.7" x2="944.16" y2="883.2" stroke="#000" stroke-width="1.6"/><line x1="949.77" y1="878.7" x2="949.77" y2="883.2" stroke="#000" stroke-width="1.6"/><line x1="954.35" y1="878.7" x2="954.35" y2="883.2" stroke="#000" stroke-width="1.6"/><line x1="958.23" y1="878.7" x2="958.23" y2="883.2" stroke="#000" stroke-width="1.6"/><line x1="961.59" y1="878.7" x2="961.59" y2="883.2" stroke="#000" stroke-width="1.6"/><line x1="964.55" y1="878.7" x2="964.55" y2="883.2" stroke="#000" stroke-width="1.6"/><text x="910.3" y="907" font-size="18.6" text-anchor="middle" font-weight="bold" font-family='"Liberation Sans", sans-serif' fill="#000" >10<tspan font-size="12" dy="-8" dx="1">-3</tspan></text><line x1="967.2" y1="878.7" x2="967.2" y2="885.7" stroke="#000" stroke-width="2.2"/><line x1="984.63" y1="878.7" x2="984.63" y2="883.2" stroke="#000" stroke-width="1.6"/><line x1="994.83" y1="878.7" x2="994.83" y2="883.2" stroke="#000" stroke-width="1.6"/><line x1="1002.06" y1="878.7" x2="1002.06" y2="883.2" stroke="#000" stroke-width="1.6"/><line x1="1007.67" y1="878.7" x2="1007.67" y2="883.2" stroke="#000" stroke-width="1.6"/><line x1="1012.25" y1="878.7" x2="1012.25" y2="883.2" stroke="#000" stroke-width="1.6"/><line x1="1016.13" y1="878.7" x2="1016.13" y2="883.2" stroke="#000" stroke-width="1.6"/><line x1="1019.49" y1="878.7" x2="1019.49" y2="883.2" stroke="#000" stroke-width="1.6"/><line x1="1022.45" y1="878.7" x2="1022.45" y2="883.2" stroke="#000" stroke-width="1.6"/><text x="968.2" y="907" font-size="18.6" text-anchor="middle" font-weight="bold" font-family='"Liberation Sans", sans-serif' fill="#000" >10<tspan font-size="12" dy="-8" dx="1">-2</tspan></text><line x1="1025.1" y1="878.7" x2="1025.1" y2="885.7" stroke="#000" stroke-width="2.2"/><line x1="1042.53" y1="878.7" x2="1042.53" y2="883.2" stroke="#000" stroke-width="1.6"/><line x1="1052.73" y1="878.7" x2="1052.73" y2="883.2" stroke="#000" stroke-width="1.6"/><line x1="1059.96" y1="878.7" x2="1059.96" y2="883.2" stroke="#000" stroke-width="1.6"/><line x1="1065.57" y1="878.7" x2="1065.57" y2="883.2" stroke="#000" stroke-width="1.6"/><line x1="1070.15" y1="878.7" x2="1070.15" y2="883.2" stroke="#000" stroke-width="1.6"/><line x1="1074.03" y1="878.7" x2="1074.03" y2="883.2" stroke="#000" stroke-width="1.6"/><line x1="1077.39" y1="878.7" x2="1077.39" y2="883.2" stroke="#000" stroke-width="1.6"/><line x1="1080.35" y1="878.7" x2="1080.35" y2="883.2" stroke="#000" stroke-width="1.6"/><text x="1026.1" y="907" font-size="18.6" text-anchor="middle" font-weight="bold" font-family='"Liberation Sans", sans-serif' fill="#000" >10<tspan font-size="12" dy="-8" dx="1">-1</tspan></text><line x1="1083" y1="878.7" x2="1083" y2="885.7" stroke="#000" stroke-width="2.2"/><line x1="1100.43" y1="878.7" x2="1100.43" y2="883.2" stroke="#000" stroke-width="1.6"/><line x1="1110.63" y1="878.7" x2="1110.63" y2="883.2" stroke="#000" stroke-width="1.6"/><line x1="1117.86" y1="878.7" x2="1117.86" y2="883.2" stroke="#000" stroke-width="1.6"/><line x1="1123.47" y1="878.7" x2="1123.47" y2="883.2" stroke="#000" stroke-width="1.6"/><line x1="1128.05" y1="878.7" x2="1128.05" y2="883.2" stroke="#000" stroke-width="1.6"/><line x1="1131.93" y1="878.7" x2="1131.93" y2="883.2" stroke="#000" stroke-width="1.6"/><line x1="1135.29" y1="878.7" x2="1135.29" y2="883.2" stroke="#000" stroke-width="1.6"/><line x1="1138.25" y1="878.7" x2="1138.25" y2="883.2" stroke="#000" stroke-width="1.6"/><text x="1084" y="907" font-size="18.6" text-anchor="middle" font-weight="bold" font-family='"Liberation Sans", sans-serif' fill="#000" >10<tspan font-size="12" dy="-8" dx="1">0</tspan></text><line x1="1140.9" y1="878.7" x2="1140.9" y2="885.7" stroke="#000" stroke-width="2.2"/><line x1="1158.33" y1="878.7" x2="1158.33" y2="883.2" stroke="#000" stroke-width="1.6"/><line x1="1168.53" y1="878.7" x2="1168.53" y2="883.2" stroke="#000" stroke-width="1.6"/><line x1="1175.76" y1="878.7" x2="1175.76" y2="883.2" stroke="#000" stroke-width="1.6"/><line x1="1181.37" y1="878.7" x2="1181.37" y2="883.2" stroke="#000" stroke-width="1.6"/><line x1="1185.95" y1="878.7" x2="1185.95" y2="883.2" stroke="#000" stroke-width="1.6"/><line x1="1189.83" y1="878.7" x2="1189.83" y2="883.2" stroke="#000" stroke-width="1.6"/><line x1="1193.19" y1="878.7" x2="1193.19" y2="883.2" stroke="#000" stroke-width="1.6"/><line x1="1196.15" y1="878.7" x2="1196.15" y2="883.2" stroke="#000" stroke-width="1.6"/><text x="1141.9" y="907" font-size="18.6" text-anchor="middle" font-weight="bold" font-family='"Liberation Sans", sans-serif' fill="#000" >10<tspan font-size="12" dy="-8" dx="1">1</tspan></text><line x1="1198.8" y1="878.7" x2="1198.8" y2="885.7" stroke="#000" stroke-width="2.2"/><line x1="1216.23" y1="878.7" x2="1216.23" y2="883.2" stroke="#000" stroke-width="1.6"/><line x1="1226.43" y1="878.7" x2="1226.43" y2="883.2" stroke="#000" stroke-width="1.6"/><line x1="1233.66" y1="878.7" x2="1233.66" y2="883.2" stroke="#000" stroke-width="1.6"/><line x1="1239.27" y1="878.7" x2="1239.27" y2="883.2" stroke="#000" stroke-width="1.6"/><line x1="1243.85" y1="878.7" x2="1243.85" y2="883.2" stroke="#000" stroke-width="1.6"/><line x1="1247.73" y1="878.7" x2="1247.73" y2="883.2" stroke="#000" stroke-width="1.6"/><line x1="1251.09" y1="878.7" x2="1251.09" y2="883.2" stroke="#000" stroke-width="1.6"/><line x1="1254.05" y1="878.7" x2="1254.05" y2="883.2" stroke="#000" stroke-width="1.6"/><text x="1199.8" y="907" font-size="18.6" text-anchor="middle" font-weight="bold" font-family='"Liberation Sans", sans-serif' fill="#000" >10<tspan font-size="12" dy="-8" dx="1">2</tspan></text><line x1="1256.7" y1="878.7" x2="1256.7" y2="885.7" stroke="#000" stroke-width="2.2"/><line x1="1274.13" y1="878.7" x2="1274.13" y2="883.2" stroke="#000" stroke-width="1.6"/><line x1="1284.33" y1="878.7" x2="1284.33" y2="883.2" stroke="#000" stroke-width="1.6"/><line x1="1291.56" y1="878.7" x2="1291.56" y2="883.2" stroke="#000" stroke-width="1.6"/><line x1="1297.17" y1="878.7" x2="1297.17" y2="883.2" stroke="#000" stroke-width="1.6"/><line x1="1301.75" y1="878.7" x2="1301.75" y2="883.2" stroke="#000" stroke-width="1.6"/><line x1="1305.63" y1="878.7" x2="1305.63" y2="883.2" stroke="#000" stroke-width="1.6"/><line x1="1308.99" y1="878.7" x2="1308.99" y2="883.2" stroke="#000" stroke-width="1.6"/><line x1="1311.95" y1="878.7" x2="1311.95" y2="883.2" stroke="#000" stroke-width="1.6"/><text x="1257.7" y="907" font-size="18.6" text-anchor="middle" font-weight="bold" font-family='"Liberation Sans", sans-serif' fill="#000" >10<tspan font-size="12" dy="-8" dx="1">3</tspan></text><line x1="1314.6" y1="878.7" x2="1314.6" y2="885.7" stroke="#000" stroke-width="2.2"/><line x1="1332.03" y1="878.7" x2="1332.03" y2="883.2" stroke="#000" stroke-width="1.6"/><line x1="1342.23" y1="878.7" x2="1342.23" y2="883.2" stroke="#000" stroke-width="1.6"/><line x1="1349.46" y1="878.7" x2="1349.46" y2="883.2" stroke="#000" stroke-width="1.6"/><line x1="1355.07" y1="878.7" x2="1355.07" y2="883.2" stroke="#000" stroke-width="1.6"/><line x1="1359.65" y1="878.7" x2="1359.65" y2="883.2" stroke="#000" stroke-width="1.6"/><line x1="1363.53" y1="878.7" x2="1363.53" y2="883.2" stroke="#000" stroke-width="1.6"/><line x1="1366.89" y1="878.7" x2="1366.89" y2="883.2" stroke="#000" stroke-width="1.6"/><line x1="1369.85" y1="878.7" x2="1369.85" y2="883.2" stroke="#000" stroke-width="1.6"/><text x="1315.6" y="907" font-size="18.6" text-anchor="middle" font-weight="bold" font-family='"Liberation Sans", sans-serif' fill="#000" >10<tspan font-size="12" dy="-8" dx="1">4</tspan></text><line x1="1372.5" y1="878.7" x2="1372.5" y2="885.7" stroke="#000" stroke-width="2.2"/><text x="1373.5" y="907" font-size="18.6" text-anchor="middle" font-weight="bold" font-family='"Liberation Sans", sans-serif' fill="#000" >10<tspan font-size="12" dy="-8" dx="1">5</tspan></text><text x="1139.5" y="935" font-size="21.2" text-anchor="middle" font-weight="bold" font-family='"Liberation Sans", sans-serif' fill="#000" >conc (nM)</text><text x="0" y="0" font-size="22" text-anchor="middle" font-weight="bold" font-family='"Liberation Sans", sans-serif' fill="#000" transform="translate(856,750) rotate(-90)">FP</text><path d="M961.41,836.72 L962.57,836.72 L963.73,836.72 L964.88,836.72 L966.04,836.72 L967.2,836.72 L968.36,836.72 L969.52,836.72 L970.67,836.72 L971.83,836.72 L972.99,836.72 L974.15,836.72 L975.31,836.72 L976.46,836.72 L977.62,836.72 L978.78,836.72 L979.94,836.72 L981.1,836.72 L982.25,836.72 L983.41,836.71 L984.57,836.71 L985.73,836.71 L986.89,836.71 L988.04,836.71 L989.2,836.71 L990.36,836.71 L991.52,836.71 L992.68,836.71 L993.83,836.71 L994.99,836.71 L996.15,836.71 L997.31,836.71 L998.47,836.71 L999.62,836.71 L1000.78,836.71 L1001.94,836.71 L1003.1,836.71 L1004.26,836.71 L1005.41,836.71 L1006.57,836.71 L1007.73,836.71 L1008.89,836.71 L1010.05,836.71 L1011.2,836.71 L1012.36,836.71 L1013.52,836.71 L1014.68,836.71 L1015.84,836.71 L1016.99,836.71 L1018.15,836.71 L1019.31,836.71 L1020.47,836.71 L1021.63,836.71 L1022.78,836.71 L1023.94,836.71 L1025.1,836.71 L1026.26,836.71 L1027.42,836.71 L1028.57,836.71 L1029.73,836.71 L1030.89,836.71 L1032.05,836.71 L1033.21,836.71 L1034.36,836.71 L1035.52,836.71 L1036.68,836.71 L1037.84,836.71 L1039,836.71 L1040.15,836.71 L1041.31,836.71 L1042.47,836.71 L1043.63,836.7 L1044.79,836.7 L1045.94,836.7 L1047.1,836.7 L1048.26,836.7 L1049.42,836.7 L1050.58,836.7 L1051.73,836.7 L1052.89,836.7 L1054.05,836.7 L1055.21,836.7 L1056.37,836.7 L1057.52,836.7 L1058.68,836.7 L1059.84,836.69 L1061,836.69 L1062.16,836.69 L1063.31,836.69 L1064.47,836.69 L1065.63,836.69 L1066.79,836.69 L1067.95,836.69 L1069.1,836.68 L1070.26,836.68 L1071.42,836.68 L1072.58,836.68 L1073.74,836.68 L1074.89,836.68 L1076.05,836.67 L1077.21,836.67 L1078.37,836.67 L1079.53,836.67 L1080.68,836.67 L1081.84,836.66 L1083,836.66 L1084.16,836.66 L1085.32,836.66 L1086.47,836.65 L1087.63,836.65 L1088.79,836.65 L1089.95,836.64 L1091.11,836.64 L1092.26,836.64 L1093.42,836.63 L1094.58,836.63 L1095.74,836.63 L1096.9,836.62 L1098.05,836.62 L1099.21,836.61 L1100.37,836.61 L1101.53,836.6 L1102.69,836.6 L1103.84,836.59 L1105,836.59 L1106.16,836.58 L1107.32,836.57 L1108.48,836.57 L1109.63,836.56 L1110.79,836.55 L1111.95,836.54 L1113.11,836.54 L1114.27,836.53 L1115.42,836.52 L1116.58,836.51 L1117.74,836.5 L1118.9,836.49 L1120.06,836.48 L1121.21,836.47 L1122.37,836.46 L1123.53,836.44 L1124.69,836.43 L1125.85,836.42 L1127,836.4 L1128.16,836.39 L1129.32,836.37 L1130.48,836.36 L1131.64,836.34 L1132.79,836.32 L1133.95,836.3 L1135.11,836.29 L1136.27,836.27 L1137.43,836.24 L1138.58,836.22 L1139.74,836.2 L1140.9,836.17 L1142.06,836.15 L1143.22,836.12 L1144.37,836.09 L1145.53,836.07 L1146.69,836.03 L1147.85,836 L1149.01,835.97 L1150.16,835.93 L1151.32,835.9 L1152.48,835.86 L1153.64,835.82 L1154.8,835.78 L1155.95,835.73 L1157.11,835.69 L1158.27,835.64 L1159.43,835.59 L1160.59,835.54 L1161.74,835.48 L1162.9,835.42 L1164.06,835.36 L1165.22,835.3 L1166.38,835.23 L1167.53,835.17 L1168.69,835.09 L1169.85,835.02 L1171.01,834.94 L1172.17,834.86 L1173.32,834.77 L1174.48,834.68 L1175.64,834.58 L1176.8,834.48 L1177.96,834.38 L1179.11,834.27 L1180.27,834.16 L1181.43,834.04 L1182.59,833.92 L1183.75,833.79 L1184.9,833.65 L1186.06,833.51 L1187.22,833.37 L1188.38,833.21 L1189.54,833.05 L1190.69,832.88 L1191.85,832.71 L1193.01,832.52 L1194.17,832.33 L1195.33,832.13 L1196.48,831.92 L1197.64,831.7 L1198.8,831.48 L1199.96,831.24 L1201.12,830.99 L1202.27,830.73 L1203.43,830.46 L1204.59,830.18 L1205.75,829.89 L1206.91,829.58 L1208.06,829.26 L1209.22,828.93 L1210.38,828.59 L1211.54,828.22 L1212.7,827.85 L1213.85,827.46 L1215.01,827.05 L1216.17,826.63 L1217.33,826.19 L1218.49,825.73 L1219.64,825.25 L1220.8,824.76 L1221.96,824.24 L1223.12,823.71 L1224.28,823.15 L1225.43,822.57 L1226.59,821.98 L1227.75,821.35 L1228.91,820.71 L1230.07,820.04 L1231.22,819.35 L1232.38,818.64 L1233.54,817.9 L1234.7,817.13 L1235.86,816.34 L1237.01,815.52 L1238.17,814.67 L1239.33,813.8 L1240.49,812.89 L1241.65,811.96 L1242.8,811 L1243.96,810.02 L1245.12,809 L1246.28,807.95 L1247.44,806.88 L1248.59,805.77 L1249.75,804.64 L1250.91,803.48 L1252.07,802.28 L1253.23,801.06 L1254.38,799.81 L1255.54,798.53 L1256.7,797.22 L1257.86,795.89 L1259.02,794.53 L1260.17,793.14 L1261.33,791.72 L1262.49,790.29 L1263.65,788.82 L1264.81,787.34 L1265.96,785.83 L1267.12,784.3 L1268.28,782.76 L1269.44,781.19 L1270.6,779.61 L1271.75,778.01 L1272.91,776.4 L1274.07,774.78 L1275.23,773.15 L1276.39,771.5 L1277.54,769.85 L1278.7,768.2 L1279.86,766.54 L1281.02,764.88 L1282.18,763.21 L1283.33,761.55 L1284.49,759.89 L1285.65,758.24 L1286.81,756.6 L1287.97,754.96 L1289.12,753.33 L1290.28,751.71 L1291.44,750.11 L1292.6,748.52 L1293.76,746.95 L1294.91,745.4 L1296.07,743.86 L1297.23,742.34 L1298.39,740.85 L1299.55,739.38 L1300.7,737.93 L1301.86,736.5 L1303.02,735.1 L1304.18,733.73 L1305.34,732.39 L1306.49,731.07 L1307.65,729.78 L1308.81,728.51 L1309.97,727.28 L1311.13,726.07 L1312.28,724.9 L1313.44,723.75 L1314.6,722.63 L1315.76,721.54 L1316.92,720.49 L1318.07,719.46 L1319.23,718.46 L1320.39,717.49 L1321.55,716.54 L1322.71,715.63 L1323.86,714.74 L1325.02,713.89 L1326.18,713.06 L1327.34,712.25 L1328.5,711.47 L1329.65,710.72 L1330.81,710 L1331.97,709.29 L1333.13,708.62 L1334.29,707.96 L1335.44,707.33 L1336.6,706.72 L1337.76,706.14 L1338.92,705.57 L1340.08,705.03 L1341.23,704.51 L1342.39,704 L1343.55,703.52 L1344.71,703.05 L1345.87,702.6 L1347.02,702.17 L1348.18,701.76 L1349.34,701.36 L1350.5,700.98 L1351.66,700.61 L1352.81,700.26 L1353.97,699.92 L1355.13,699.6 L1356.29,699.29 L1357.45,698.99 L1358.6,698.7 L1359.76,698.43 L1360.92,698.16 L1362.08,697.91" fill="none" stroke="#4dba3c" stroke-width="2.8"/><path d="M944.04,850.03 L945.2,850.03 L946.36,850.03 L947.51,850.03 L948.67,850.03 L949.83,850.03 L950.99,850.03 L952.15,850.03 L953.3,850.03 L954.46,850.03 L955.62,850.03 L956.78,850.03 L957.94,850.03 L959.09,850.03 L960.25,850.03 L961.41,850.03 L962.57,850.03 L963.73,850.03 L964.88,850.03 L966.04,850.03 L967.2,850.03 L968.36,850.03 L969.52,850.03 L970.67,850.03 L971.83,850.03 L972.99,850.03 L974.15,850.03 L975.31,850.02 L976.46,850.02 L977.62,850.02 L978.78,850.02 L979.94,850.02 L981.1,850.02 L982.25,850.02 L983.41,850.02 L984.57,850.02 L985.73,850.02 L986.89,850.02 L988.04,850.02 L989.2,850.02 L990.36,850.02 L991.52,850.02 L992.68,850.02 L993.83,850.02 L994.99,850.02 L996.15,850.02 L997.31,850.02 L998.47,850.02 L999.62,850.02 L1000.78,850.02 L1001.94,850.02 L1003.1,850.02 L1004.26,850.02 L1005.41,850.02 L1006.57,850.02 L1007.73,850.02 L1008.89,850.02 L1010.05,850.02 L1011.2,850.02 L1012.36,850.01 L1013.52,850.01 L1014.68,850.01 L1015.84,850.01 L1016.99,850.01 L1018.15,850.01 L1019.31,850.01 L1020.47,850.01 L1021.63,850.01 L1022.78,850.01 L1023.94,850.01 L1025.1,850.01 L1026.26,850 L1027.42,850 L1028.57,850 L1029.73,850 L1030.89,850 L1032.05,850 L1033.21,850 L1034.36,850 L1035.52,849.99 L1036.68,849.99 L1037.84,849.99 L1039,849.99 L1040.15,849.99 L1041.31,849.99 L1042.47,849.98 L1043.63,849.98 L1044.79,849.98 L1045.94,849.98 L1047.1,849.97 L1048.26,849.97 L1049.42,849.97 L1050.58,849.97 L1051.73,849.96 L1052.89,849.96 L1054.05,849.96 L1055.21,849.95 L1056.37,849.95 L1057.52,849.95 L1058.68,849.94 L1059.84,849.94 L1061,849.94 L1062.16,849.93 L1063.31,849.93 L1064.47,849.92 L1065.63,849.92 L1066.79,849.91 L1067.95,849.91 L1069.1,849.9 L1070.26,849.89 L1071.42,849.89 L1072.58,849.88 L1073.74,849.88 L1074.89,849.87 L1076.05,849.86 L1077.21,849.85 L1078.37,849.84 L1079.53,849.84 L1080.68,849.83 L1081.84,849.82 L1083,849.81 L1084.16,849.8 L1085.32,849.79 L1086.47,849.77 L1087.63,849.76 L1088.79,849.75 L1089.95,849.74 L1091.11,849.72 L1092.26,849.71 L1093.42,849.69 L1094.58,849.68 L1095.74,849.66 L1096.9,849.64 L1098.05,849.63 L1099.21,849.61 L1100.37,849.59 L1101.53,849.57 L1102.69,849.55 L1103.84,849.52 L1105,849.5 L1106.16,849.47 L1107.32,849.45 L1108.48,849.42 L1109.63,849.39 L1110.79,849.36 L1111.95,849.33 L1113.11,849.3 L1114.27,849.27 L1115.42,849.23 L1116.58,849.19 L1117.74,849.15 L1118.9,849.11 L1120.06,849.07 L1121.21,849.02 L1122.37,848.98 L1123.53,848.93 L1124.69,848.88 L1125.85,848.82 L1127,848.77 L1128.16,848.71 L1129.32,848.65 L1130.48,848.58 L1131.64,848.51 L1132.79,848.44 L1133.95,848.37 L1135.11,848.29 L1136.27,848.21 L1137.43,848.13 L1138.58,848.04 L1139.74,847.95 L1140.9,847.85 L1142.06,847.75 L1143.22,847.64 L1144.37,847.53 L1145.53,847.42 L1146.69,847.29 L1147.85,847.17 L1149.01,847.04 L1150.16,846.9 L1151.32,846.75 L1152.48,846.6 L1153.64,846.45 L1154.8,846.28 L1155.95,846.11 L1157.11,845.93 L1158.27,845.74 L1159.43,845.55 L1160.59,845.34 L1161.74,845.13 L1162.9,844.9 L1164.06,844.67 L1165.22,844.43 L1166.38,844.18 L1167.53,843.91 L1168.69,843.63 L1169.85,843.35 L1171.01,843.05 L1172.17,842.73 L1173.32,842.41 L1174.48,842.07 L1175.64,841.71 L1176.8,841.34 L1177.96,840.96 L1179.11,840.56 L1180.27,840.14 L1181.43,839.71 L1182.59,839.26 L1183.75,838.79 L1184.9,838.3 L1186.06,837.79 L1187.22,837.27 L1188.38,836.72 L1189.54,836.15 L1190.69,835.56 L1191.85,834.94 L1193.01,834.31 L1194.17,833.65 L1195.33,832.96 L1196.48,832.26 L1197.64,831.52 L1198.8,830.76 L1199.96,829.98 L1201.12,829.16 L1202.27,828.32 L1203.43,827.45 L1204.59,826.56 L1205.75,825.63 L1206.91,824.68 L1208.06,823.69 L1209.22,822.68 L1210.38,821.63 L1211.54,820.56 L1212.7,819.45 L1213.85,818.32 L1215.01,817.15 L1216.17,815.96 L1217.33,814.73 L1218.49,813.47 L1219.64,812.19 L1220.8,810.87 L1221.96,809.53 L1223.12,808.15 L1224.28,806.75 L1225.43,805.32 L1226.59,803.86 L1227.75,802.38 L1228.91,800.87 L1230.07,799.34 L1231.22,797.79 L1232.38,796.21 L1233.54,794.62 L1234.7,793 L1235.86,791.37 L1237.01,789.72 L1238.17,788.05 L1239.33,786.38 L1240.49,784.69 L1241.65,782.99 L1242.8,781.28 L1243.96,779.57 L1245.12,777.85 L1246.28,776.13 L1247.44,774.41 L1248.59,772.69 L1249.75,770.97 L1250.91,769.26 L1252.07,767.55 L1253.23,765.86 L1254.38,764.17 L1255.54,762.49 L1256.7,760.83 L1257.86,759.18 L1259.02,757.54 L1260.17,755.93 L1261.33,754.33 L1262.49,752.76 L1263.65,751.2 L1264.81,749.67 L1265.96,748.16 L1267.12,746.68 L1268.28,745.23 L1269.44,743.8 L1270.6,742.39 L1271.75,741.02 L1272.91,739.67 L1274.07,738.36 L1275.23,737.07 L1276.39,735.81 L1277.54,734.59 L1278.7,733.39 L1279.86,732.23 L1281.02,731.09 L1282.18,729.99 L1283.33,728.91 L1284.49,727.87 L1285.65,726.85 L1286.81,725.87 L1287.97,724.92 L1289.12,723.99 L1290.28,723.09 L1291.44,722.23 L1292.6,721.38 L1293.76,720.57 L1294.91,719.79 L1296.07,719.03 L1297.23,718.29 L1298.39,717.58 L1299.55,716.9 L1300.7,716.24 L1301.86,715.6 L1303.02,714.99 L1304.18,714.4 L1305.34,713.83 L1306.49,713.28 L1307.65,712.76 L1308.81,712.25 L1309.97,711.76 L1311.13,711.29 L1312.28,710.84 L1313.44,710.41 L1314.6,709.99 L1315.76,709.59 L1316.92,709.21 L1318.07,708.84 L1319.23,708.48 L1320.39,708.14 L1321.55,707.82 L1322.71,707.5 L1323.86,707.2 L1325.02,706.92 L1326.18,706.64 L1327.34,706.38 L1328.5,706.12 L1329.65,705.88 L1330.81,705.65 L1331.97,705.42 L1333.13,705.21 L1334.29,705.01 L1335.44,704.81 L1336.6,704.62 L1337.76,704.44 L1338.92,704.27 L1340.08,704.11 L1341.23,703.95 L1342.39,703.8 L1343.55,703.65" fill="none" stroke="#1f1fe0" stroke-width="2.8"/><path d="M944.04,848.99 L945.2,848.99 L946.36,848.99 L947.51,848.99 L948.67,848.98 L949.83,848.98 L950.99,848.98 L952.15,848.98 L953.3,848.98 L954.46,848.98 L955.62,848.98 L956.78,848.98 L957.94,848.98 L959.09,848.97 L960.25,848.97 L961.41,848.97 L962.57,848.97 L963.73,848.97 L964.88,848.97 L966.04,848.97 L967.2,848.96 L968.36,848.96 L969.52,848.96 L970.67,848.96 L971.83,848.96 L972.99,848.95 L974.15,848.95 L975.31,848.95 L976.46,848.95 L977.62,848.94 L978.78,848.94 L979.94,848.94 L981.1,848.93 L982.25,848.93 L983.41,848.93 L984.57,848.92 L985.73,848.92 L986.89,848.92 L988.04,848.91 L989.2,848.91 L990.36,848.9 L991.52,848.9 L992.68,848.89 L993.83,848.89 L994.99,848.88 L996.15,848.88 L997.31,848.87 L998.47,848.86 L999.62,848.86 L1000.78,848.85 L1001.94,848.84 L1003.1,848.83 L1004.26,848.83 L1005.41,848.82 L1006.57,848.81 L1007.73,848.8 L1008.89,848.79 L1010.05,848.78 L1011.2,848.77 L1012.36,848.76 L1013.52,848.75 L1014.68,848.74 L1015.84,848.72 L1016.99,848.71 L1018.15,848.7 L1019.31,848.68 L1020.47,848.67 L1021.63,848.65 L1022.78,848.63 L1023.94,848.62 L1025.1,848.6 L1026.26,848.58 L1027.42,848.56 L1028.57,848.54 L1029.73,848.52 L1030.89,848.49 L1032.05,848.47 L1033.21,848.44 L1034.36,848.42 L1035.52,848.39 L1036.68,848.36 L1037.84,848.33 L1039,848.3 L1040.15,848.27 L1041.31,848.23 L1042.47,848.2 L1043.63,848.16 L1044.79,848.12 L1045.94,848.08 L1047.1,848.04 L1048.26,847.99 L1049.42,847.94 L1050.58,847.89 L1051.73,847.84 L1052.89,847.79 L1054.05,847.73 L1055.21,847.67 L1056.37,847.61 L1057.52,847.54 L1058.68,847.47 L1059.84,847.4 L1061,847.33 L1062.16,847.25 L1063.31,847.17 L1064.47,847.08 L1065.63,846.99 L1066.79,846.9 L1067.95,846.8 L1069.1,846.7 L1070.26,846.59 L1071.42,846.48 L1072.58,846.36 L1073.74,846.24 L1074.89,846.11 L1076.05,845.98 L1077.21,845.84 L1078.37,845.69 L1079.53,845.54 L1080.68,845.38 L1081.84,845.22 L1083,845.04 L1084.16,844.86 L1085.32,844.67 L1086.47,844.47 L1087.63,844.26 L1088.79,844.05 L1089.95,843.82 L1091.11,843.59 L1092.26,843.34 L1093.42,843.08 L1094.58,842.82 L1095.74,842.54 L1096.9,842.24 L1098.05,841.94 L1099.21,841.62 L1100.37,841.29 L1101.53,840.95 L1102.69,840.59 L1103.84,840.21 L1105,839.82 L1106.16,839.42 L1107.32,838.99 L1108.48,838.55 L1109.63,838.09 L1110.79,837.62 L1111.95,837.12 L1113.11,836.6 L1114.27,836.07 L1115.42,835.51 L1116.58,834.93 L1117.74,834.33 L1118.9,833.7 L1120.06,833.06 L1121.21,832.38 L1122.37,831.69 L1123.53,830.96 L1124.69,830.22 L1125.85,829.44 L1127,828.64 L1128.16,827.81 L1129.32,826.95 L1130.48,826.06 L1131.64,825.14 L1132.79,824.19 L1133.95,823.21 L1135.11,822.21 L1136.27,821.17 L1137.43,820.09 L1138.58,818.99 L1139.74,817.86 L1140.9,816.69 L1142.06,815.49 L1143.22,814.26 L1144.37,812.99 L1145.53,811.7 L1146.69,810.37 L1147.85,809.01 L1149.01,807.62 L1150.16,806.2 L1151.32,804.75 L1152.48,803.27 L1153.64,801.76 L1154.8,800.22 L1155.95,798.66 L1157.11,797.07 L1158.27,795.45 L1159.43,793.81 L1160.59,792.15 L1161.74,790.46 L1162.9,788.76 L1164.06,787.03 L1165.22,785.29 L1166.38,783.54 L1167.53,781.77 L1168.69,779.98 L1169.85,778.19 L1171.01,776.39 L1172.17,774.58 L1173.32,772.77 L1174.48,770.96 L1175.64,769.14 L1176.8,767.33 L1177.96,765.52 L1179.11,763.71 L1180.27,761.91 L1181.43,760.12 L1182.59,758.34 L1183.75,756.57 L1184.9,754.82 L1186.06,753.08 L1187.22,751.36 L1188.38,749.65 L1189.54,747.97 L1190.69,746.31 L1191.85,744.67 L1193.01,743.06 L1194.17,741.47 L1195.33,739.91 L1196.48,738.37 L1197.64,736.87 L1198.8,735.39 L1199.96,733.94 L1201.12,732.53 L1202.27,731.14 L1203.43,729.78 L1204.59,728.46 L1205.75,727.17 L1206.91,725.91 L1208.06,724.68 L1209.22,723.48 L1210.38,722.32 L1211.54,721.19 L1212.7,720.09 L1213.85,719.02 L1215.01,717.99 L1216.17,716.98 L1217.33,716.01 L1218.49,715.06 L1219.64,714.15 L1220.8,713.26 L1221.96,712.41 L1223.12,711.58 L1224.28,710.78 L1225.43,710.01 L1226.59,709.26 L1227.75,708.54 L1228.91,707.85 L1230.07,707.18 L1231.22,706.53 L1232.38,705.91 L1233.54,705.31 L1234.7,704.74 L1235.86,704.18 L1237.01,703.65 L1238.17,703.13 L1239.33,702.64 L1240.49,702.16 L1241.65,701.71 L1242.8,701.27 L1243.96,700.85 L1245.12,700.44 L1246.28,700.06 L1247.44,699.68 L1248.59,699.32 L1249.75,698.98 L1250.91,698.65 L1252.07,698.34 L1253.23,698.03 L1254.38,697.74 L1255.54,697.46 L1256.7,697.2 L1257.86,696.94 L1259.02,696.7 L1260.17,696.46 L1261.33,696.24 L1262.49,696.02 L1263.65,695.82 L1264.81,695.62 L1265.96,695.43 L1267.12,695.25 L1268.28,695.08 L1269.44,694.91 L1270.6,694.75 L1271.75,694.6 L1272.91,694.46 L1274.07,694.32 L1275.23,694.18 L1276.39,694.06 L1277.54,693.93 L1278.7,693.82 L1279.86,693.71 L1281.02,693.6 L1282.18,693.5 L1283.33,693.4 L1284.49,693.31 L1285.65,693.22 L1286.81,693.13 L1287.97,693.05 L1289.12,692.98 L1290.28,692.9 L1291.44,692.83 L1292.6,692.76 L1293.76,692.7 L1294.91,692.64 L1296.07,692.58 L1297.23,692.52 L1298.39,692.47 L1299.55,692.41 L1300.7,692.36 L1301.86,692.32 L1303.02,692.27 L1304.18,692.23 L1305.34,692.19 L1306.49,692.15 L1307.65,692.11 L1308.81,692.07 L1309.97,692.04 L1311.13,692.01 L1312.28,691.98 L1313.44,691.95 L1314.6,691.92 L1315.76,691.89 L1316.92,691.86 L1318.07,691.84 L1319.23,691.82 L1320.39,691.79 L1321.55,691.77 L1322.71,691.75 L1323.86,691.73 L1325.02,691.71 L1326.18,691.69 L1327.34,691.68 L1328.5,691.66 L1329.65,691.64 L1330.81,691.63 L1331.97,691.61 L1333.13,691.6 L1334.29,691.59 L1335.44,691.57 L1336.6,691.56 L1337.76,691.55 L1338.92,691.54 L1340.08,691.53 L1341.23,691.52 L1342.39,691.51 L1343.55,691.5" fill="none" stroke="#e8342c" stroke-width="2.8"/><path d="M955.66,842 H964.66 M960.16,842 V863 M955.66,863 H964.66" stroke="#e8342c" stroke-width="2.2" fill="none"/><path d="M1007.8,839 H1016.8 M1012.3,839 V854 M1007.8,854 H1016.8" stroke="#e8342c" stroke-width="2.2" fill="none"/><path d="M1025.18,840.5 H1034.18 M1029.68,840.5 V856.6 M1025.18,856.6 H1034.18" stroke="#e8342c" stroke-width="2.2" fill="none"/><path d="M1129.82,813.3 H1138.82 M1134.32,813.3 V839.3 M1129.82,839.3 H1138.82" stroke="#e8342c" stroke-width="2.2" fill="none"/><path d="M1146.39,786.8 H1155.39 M1150.89,786.8 V824.7 M1146.39,824.7 H1155.39" stroke="#e8342c" stroke-width="2.2" fill="none"/><path d="M1164.14,764.8 H1173.14 M1168.64,764.8 V782.5 M1164.14,782.5 H1173.14" stroke="#e8342c" stroke-width="2.2" fill="none"/><path d="M1321.54,680.8 H1330.54 M1326.04,680.8 V703.3 M1321.54,703.3 H1330.54" stroke="#e8342c" stroke-width="2.2" fill="none"/><path d="M990.42,852.6 H999.42 M994.92,852.6 V860.6 M990.42,860.6 H999.42" stroke="#1f1fe0" stroke-width="2.2" fill="none"/><path d="M1007.8,851 H1016.8 M1012.3,851 V858 M1007.8,858 H1016.8" stroke="#1f1fe0" stroke-width="2.2" fill="none"/><path d="M1059.94,832.5 H1068.94 M1064.44,832.5 V860.6 M1059.94,860.6 H1068.94" stroke="#1f1fe0" stroke-width="2.2" fill="none"/><path d="M1147.57,839.3 H1156.57 M1152.07,839.3 V853.5 M1147.57,853.5 H1156.57" stroke="#1f1fe0" stroke-width="2.2" fill="none"/><path d="M1164.14,837 H1173.14 M1168.64,837 V852.4 M1164.14,852.4 H1173.14" stroke="#1f1fe0" stroke-width="2.2" fill="none"/><path d="M1181.89,829.9 H1190.89 M1186.39,829.9 V842.9 M1181.89,842.9 H1190.89" stroke="#1f1fe0" stroke-width="2.2" fill="none"/><path d="M1216.21,799.1 H1225.21 M1220.71,799.1 V815.7 M1216.21,815.7 H1225.21" stroke="#1f1fe0" stroke-width="2.2" fill="none"/><path d="M1269.46,738.8 H1278.46 M1273.96,738.8 V751.8 M1269.46,751.8 H1278.46" stroke="#1f1fe0" stroke-width="2.2" fill="none"/><path d="M1321.54,705.6 H1330.54 M1326.04,705.6 V718.6 M1321.54,718.6 H1330.54" stroke="#1f1fe0" stroke-width="2.2" fill="none"/><path d="M1339.29,695 H1348.29 M1343.79,695 V705.6 M1339.29,705.6 H1348.29" stroke="#1f1fe0" stroke-width="2.2" fill="none"/><path d="M1059.94,832 H1068.94 M1064.44,832 V840 M1059.94,840 H1068.94" stroke="#4dba3c" stroke-width="2.2" fill="none"/><path d="M1077.32,831 H1086.32 M1081.82,831 V838 M1077.32,838 H1086.32" stroke="#4dba3c" stroke-width="2.2" fill="none"/><path d="M961.65,838.66 L967.85,849.46 L955.45,849.46 Z" fill="#4dba3c"/><path d="M1013.59,828.95 L1019.79,839.75 L1007.39,839.75 Z" fill="#4dba3c"/><path d="M1064.56,828.95 L1070.76,839.75 L1058.36,839.75 Z" fill="#4dba3c"/><path d="M1100.97,828.95 L1107.17,839.75 L1094.77,839.75 Z" fill="#4dba3c"/><path d="M1151.94,824.1 L1158.14,834.9 L1145.74,834.9 Z" fill="#4dba3c"/><path d="M1168.93,828.95 L1175.13,839.75 L1162.73,839.75 Z" fill="#4dba3c"/><path d="M1186.41,819.24 L1192.61,830.04 L1180.21,830.04 Z" fill="#4dba3c"/><path d="M1203.88,814.39 L1210.08,825.19 L1197.68,825.19 Z" fill="#4dba3c"/><path d="M1221.36,813.42 L1227.56,824.22 L1215.16,824.22 Z" fill="#4dba3c"/><path d="M1238.35,800.8 L1244.55,811.6 L1232.15,811.6 Z" fill="#4dba3c"/><path d="M1256.31,791.09 L1262.51,801.89 L1250.11,801.89 Z" fill="#4dba3c"/><path d="M1273.3,773.13 L1279.5,783.93 L1267.1,783.93 Z" fill="#4dba3c"/><path d="M1290.29,748.85 L1296.49,759.65 L1284.09,759.65 Z" fill="#4dba3c"/><path d="M1307.77,727.01 L1313.97,737.81 L1301.57,737.81 Z" fill="#4dba3c"/><path d="M1325.24,717.3 L1331.44,728.1 L1319.04,728.1 Z" fill="#4dba3c"/><path d="M1342.72,700.31 L1348.92,711.11 L1336.52,711.11 Z" fill="#4dba3c"/><path d="M1360.68,693.03 L1366.88,703.83 L1354.48,703.83 Z" fill="#4dba3c"/><circle cx="994.17" cy="855.34" r="5.3" fill="#1f1fe0"/><circle cx="1012.14" cy="853.4" r="5.3" fill="#1f1fe0"/><circle cx="1046.6" cy="858.25" r="5.3" fill="#1f1fe0"/><circle cx="1064.56" cy="853.4" r="5.3" fill="#1f1fe0"/><circle cx="1081.55" cy="848.54" r="5.3" fill="#1f1fe0"/><circle cx="1116.5" cy="852.43" r="5.3" fill="#1f1fe0"/><circle cx="1133.98" cy="844.66" r="5.3" fill="#1f1fe0"/><circle cx="1150.97" cy="845.63" r="5.3" fill="#1f1fe0"/><circle cx="1168.93" cy="844.66" r="5.3" fill="#1f1fe0"/><circle cx="1186.41" cy="834.95" r="5.3" fill="#1f1fe0"/><circle cx="1203.88" cy="823.79" r="5.3" fill="#1f1fe0"/><circle cx="1221.36" cy="806.8" r="5.3" fill="#1f1fe0"/><circle cx="1238.35" cy="783.98" r="5.3" fill="#1f1fe0"/><circle cx="1256.31" cy="766.02" r="5.3" fill="#1f1fe0"/><circle cx="1273.3" cy="745.15" r="5.3" fill="#1f1fe0"/><circle cx="1290.29" cy="727.18" r="5.3" fill="#1f1fe0"/><circle cx="1307.77" cy="713.59" r="5.3" fill="#1f1fe0"/><circle cx="1325.24" cy="707.77" r="5.3" fill="#1f1fe0"/><circle cx="1342.72" cy="701.46" r="5.3" fill="#1f1fe0"/><rect x="936.63" y="844.89" width="11.2" height="11.2" fill="#e8342c"/><rect x="954.59" y="848.77" width="11.2" height="11.2" fill="#e8342c"/><rect x="971.58" y="839.06" width="11.2" height="11.2" fill="#e8342c"/><rect x="988.57" y="840.03" width="11.2" height="11.2" fill="#e8342c"/><rect x="1006.54" y="842.94" width="11.2" height="11.2" fill="#e8342c"/><rect x="1024.01" y="842.94" width="11.2" height="11.2" fill="#e8342c"/><rect x="1041" y="829.35" width="11.2" height="11.2" fill="#e8342c"/><rect x="1058.96" y="838.09" width="11.2" height="11.2" fill="#e8342c"/><rect x="1075.95" y="833.23" width="11.2" height="11.2" fill="#e8342c"/><rect x="1093.91" y="840.03" width="11.2" height="11.2" fill="#e8342c"/><rect x="1110.9" y="829.35" width="11.2" height="11.2" fill="#e8342c"/><rect x="1128.38" y="819.64" width="11.2" height="11.2" fill="#e8342c"/><rect x="1145.37" y="800.23" width="11.2" height="11.2" fill="#e8342c"/><rect x="1163.33" y="768.67" width="11.2" height="11.2" fill="#e8342c"/><rect x="1180.81" y="741.97" width="11.2" height="11.2" fill="#e8342c"/><rect x="1198.28" y="724.98" width="11.2" height="11.2" fill="#e8342c"/><rect x="1215.76" y="715.27" width="11.2" height="11.2" fill="#e8342c"/><rect x="1232.75" y="709.45" width="11.2" height="11.2" fill="#e8342c"/><rect x="1250.71" y="693.43" width="11.2" height="11.2" fill="#e8342c"/><rect x="1267.7" y="692.46" width="11.2" height="11.2" fill="#e8342c"/><rect x="1284.69" y="687.6" width="11.2" height="11.2" fill="#e8342c"/><rect x="1302.17" y="674.98" width="11.2" height="11.2" fill="#e8342c"/><rect x="1319.64" y="687.6" width="11.2" height="11.2" fill="#e8342c"/><rect x="1337.12" y="676.44" width="11.2" height="11.2" fill="#e8342c"/>
</svg></body></html>
